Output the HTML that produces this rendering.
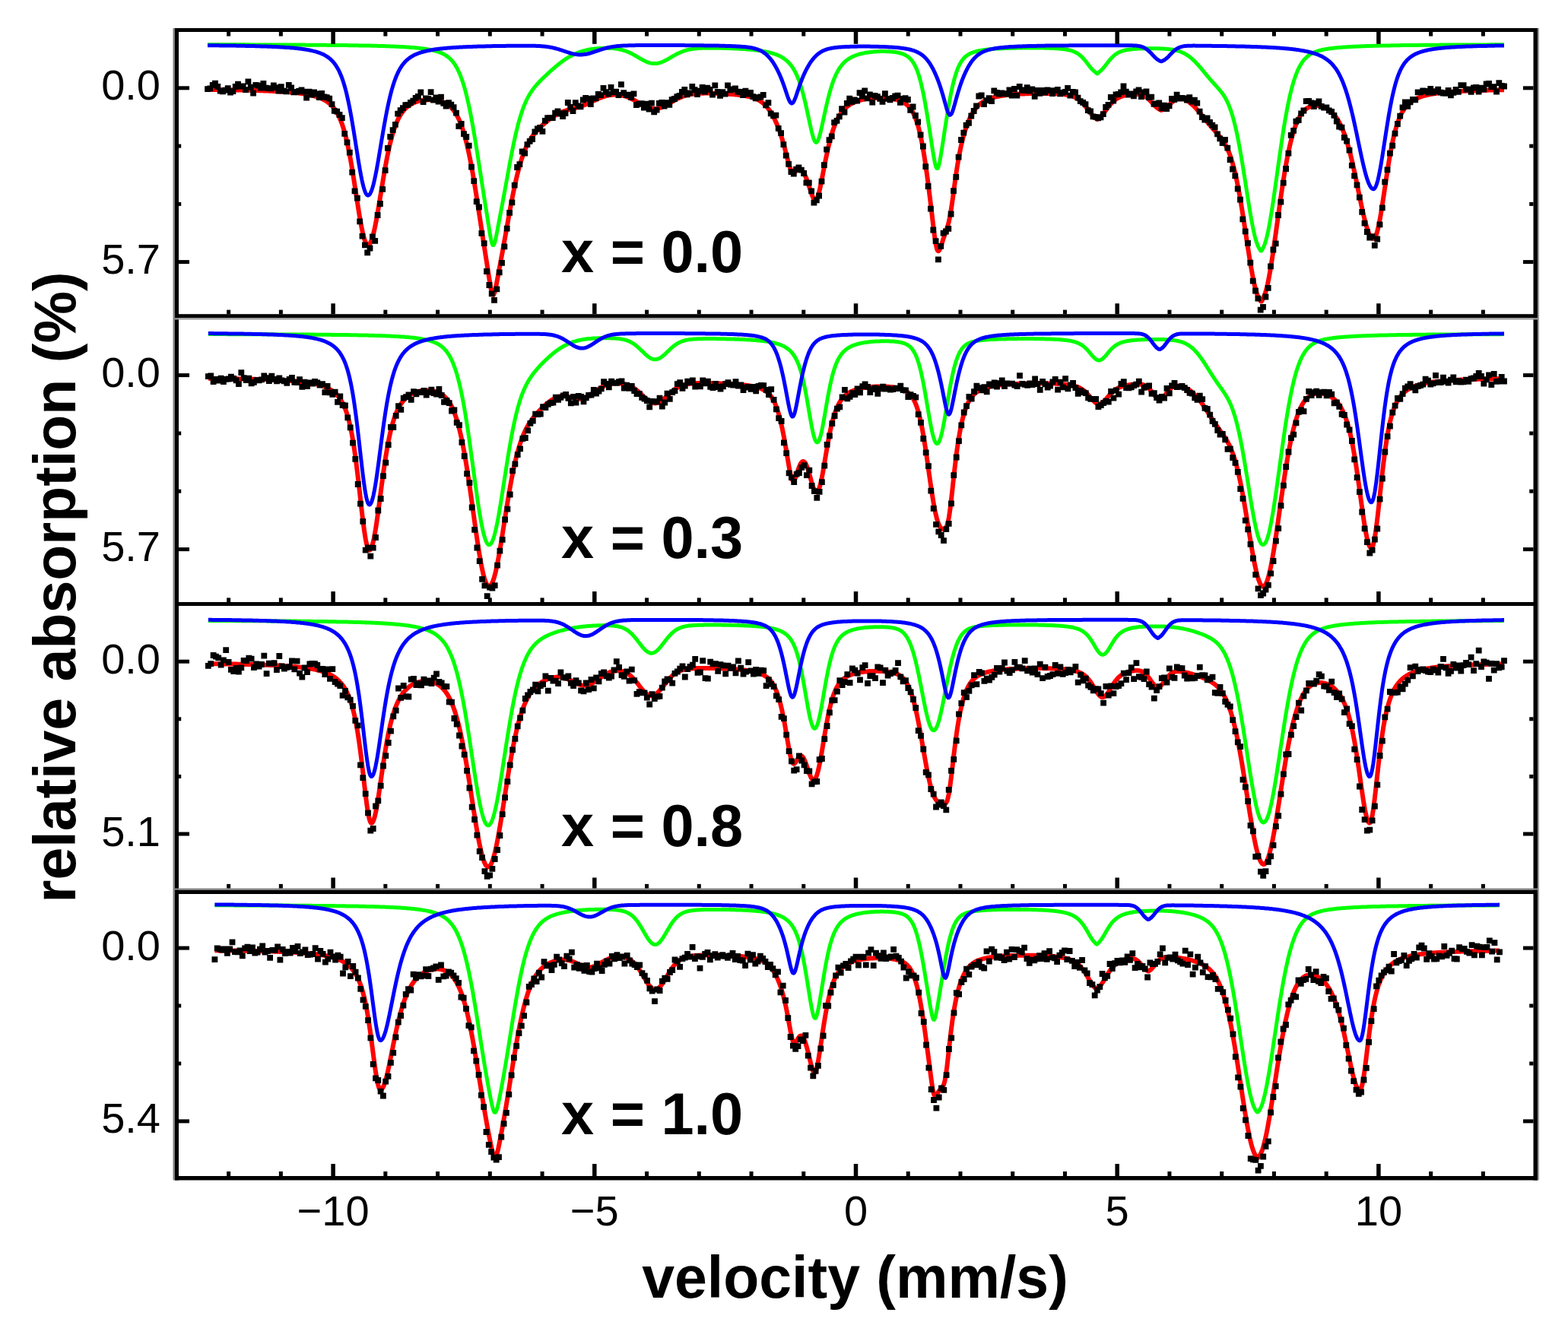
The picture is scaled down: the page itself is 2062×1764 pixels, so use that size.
<!DOCTYPE html>
<html><head><meta charset="utf-8"><title>Mossbauer spectra</title>
<style>html,body{margin:0;padding:0;background:#fff;overflow:hidden}svg{display:block}</style>
</head><body>
<svg xmlns="http://www.w3.org/2000/svg" width="2062" height="1764" viewBox="0 0 2062 1764"><rect width="100%" height="100%" fill="#fff"/><path d="M273,117.9 274,117.9 275,117.9 276,117.9 277,117.9 278,117.9 279,117.9 280,118 281,118 282,118 283,118 284,118 285,118 286,118 287,118 288,118.1 289,118.1 290,118.1 291,118.1 292,118.1 293,118.1 294,118.1 295,118.2 296,118.2 297,118.2 298,118.2 299,118.2 300,118.2 301,118.3 302,118.3 303,118.3 304,118.3 305,118.3 306,118.3 307,118.4 308,118.4 309,118.4 310,118.4 311,118.4 312,118.4 313,118.5 314,118.5 315,118.5 316,118.5 317,118.5 318,118.6 319,118.6 320,118.6 321,118.6 322,118.7 323,118.7 324,118.7 325,118.7 326,118.8 327,118.8 328,118.8 329,118.8 330,118.9 331,118.9 332,118.9 333,118.9 334,119 335,119 336,119 337,119.1 338,119.1 339,119.1 340,119.1 341,119.2 342,119.2 343,119.2 344,119.3 345,119.3 346,119.3 347,119.4 348,119.4 349,119.5 350,119.5 351,119.5 352,119.6 353,119.6 354,119.7 355,119.7 356,119.8 357,119.8 358,119.8 359,119.9 360,119.9 361,120 362,120 363,120.1 364,120.1 365,120.2 366,120.3 367,120.3 368,120.4 369,120.4 370,120.5 371,120.6 372,120.6 373,120.7 374,120.8 375,120.8 376,120.9 377,121 378,121.1 379,121.1 380,121.2 381,121.3 382,121.4 383,121.5 384,121.6 385,121.7 386,121.8 387,121.9 388,122 389,122.1 390,122.2 391,122.3 392,122.4 393,122.6 394,122.7 395,122.8 396,123 397,123.1 398,123.2 399,123.4 400,123.6 401,123.7 402,123.9 403,124.1 404,124.2 405,124.4 406,124.6 407,124.8 408,125.1 409,125.3 410,125.5 411,125.8 412,126 413,126.3 414,126.6 415,126.8 416,127.2 417,127.5 418,127.8 419,128.2 420,128.5 421,128.9 422,129.3 423,129.8 424,130.2 425,130.7 426,131.2 427,131.8 428,132.4 429,133 430,133.6 431,134.3 432,135.1 433,135.9 434,136.7 435,137.7 436,138.6 437,139.7 438,140.8 439,142 440,143.3 441,144.8 442,146.3 443,147.9 444,149.7 445,151.6 446,153.7 447,155.9 448,158.3 449,160.9 450,163.7 451,166.7 452,169.9 453,173.3 454,177 455,181 456,185.2 457,189.6 458,194.3 459,199.3 460,204.6 461,210 462,215.7 463,221.7 464,227.8 465,234.1 466,240.5 467,247 468,253.5 469,260.1 470,266.6 471,273 472,279.3 473,285.3 474,291.1 475,296.5 476,301.6 477,306.2 478,310.3 479,313.9 480,316.8 481,319.2 482,320.9 483,321.9 484,322.2 485,321.9 486,321 487,319.4 488,317.3 489,314.7 490,311.5 491,307.8 492,303.6 493,299.1 494,294.1 495,288.9 496,283.3 497,277.6 498,271.7 499,265.7 500,259.5 501,253.4 502,247.3 503,241.2 504,235.2 505,229.3 506,223.6 507,218 508,212.6 509,207.4 510,202.4 511,197.7 512,193.2 513,188.9 514,184.8 515,181 516,177.4 517,174.1 518,170.9 519,167.9 520,165.2 521,162.6 522,160.2 523,158 524,155.9 525,154 526,152.3 527,150.6 528,149.1 529,147.7 530,146.3 531,145.1 532,144 533,143 534,142 535,141.1 536,140.2 537,139.5 538,138.7 539,138.1 540,137.5 541,136.9 542,136.3 543,135.8 544,135.4 545,134.9 546,134.5 547,134.2 548,133.8 549,133.5 550,133.2 551,133 552,132.7 553,132.5 554,132.3 555,132.1 556,131.9 557,131.8 558,131.7 559,131.6 560,131.5 561,131.4 562,131.3 563,131.3 564,131.3 565,131.3 566,131.3 567,131.3 568,131.3 569,131.4 570,131.5 571,131.6 572,131.7 573,131.8 574,132 575,132.1 576,132.3 577,132.6 578,132.8 579,133.1 580,133.4 581,133.7 582,134.1 583,134.5 584,134.9 585,135.4 586,135.9 587,136.5 588,137.1 589,137.8 590,138.5 591,139.3 592,140.2 593,141.2 594,142.2 595,143.3 596,144.5 597,145.8 598,147.2 599,148.7 600,150.3 601,152.1 602,154 603,156 604,158.2 605,160.6 606,163.1 607,165.8 608,168.6 609,171.7 610,175 611,178.4 612,182.1 613,185.9 614,190 615,194.3 616,198.8 617,203.5 618,208.4 619,213.5 620,218.8 621,224.3 622,230 623,235.8 624,241.8 625,248 626,254.2 627,260.6 628,267 629,273.5 630,280 631,286.6 632,293.2 633,299.7 634,306.3 635,312.8 636,319.2 637,325.7 638,332.1 639,338.5 640,344.9 641,351.3 642,357.8 643,364.2 644,370.5 645,376.4 646,381.6 647,385.5 648,387.6 649,387.8 650,385.9 651,382.6 652,378.1 653,373.1 654,367.7 655,362.4 656,357 657,351.6 658,346.2 659,340.8 660,335.4 661,330 662,324.5 663,318.9 664,313.4 665,307.8 666,302.1 667,296.5 668,290.9 669,285.3 670,279.8 671,274.3 672,268.9 673,263.7 674,258.5 675,253.5 676,248.6 677,243.9 678,239.3 679,235 680,230.7 681,226.7 682,222.9 683,219.2 684,215.7 685,212.4 686,209.2 687,206.2 688,203.4 689,200.7 690,198.2 691,195.8 692,193.6 693,191.5 694,189.5 695,187.6 696,185.8 697,184.1 698,182.5 699,181 700,179.5 701,178.1 702,176.8 703,175.5 704,174.3 705,173.2 706,172 707,170.9 708,169.9 709,168.8 710,167.8 711,166.9 712,165.9 713,165 714,164.1 715,163.2 716,162.3 717,161.4 718,160.6 719,159.8 720,159 721,158.2 722,157.4 723,156.7 724,155.9 725,155.2 726,154.5 727,153.8 728,153.2 729,152.6 730,151.9 731,151.3 732,150.8 733,150.2 734,149.7 735,149.2 736,148.7 737,148.2 738,147.8 739,147.4 740,147 741,146.6 742,146.2 743,145.9 744,145.6 745,145.2 746,144.9 747,144.6 748,144.4 749,144.1 750,143.8 751,143.5 752,143.3 753,143 754,142.8 755,142.5 756,142.2 757,141.9 758,141.7 759,141.4 760,141.1 761,140.8 762,140.4 763,140.1 764,139.8 765,139.4 766,139 767,138.7 768,138.3 769,137.9 770,137.5 771,137 772,136.6 773,136.2 774,135.7 775,135.2 776,134.8 777,134.3 778,133.8 779,133.4 780,132.9 781,132.4 782,132 783,131.5 784,131 785,130.6 786,130.1 787,129.7 788,129.3 789,128.9 790,128.5 791,128.1 792,127.7 793,127.4 794,127.1 795,126.8 796,126.5 797,126.2 798,125.9 799,125.7 800,125.5 801,125.3 802,125.1 803,125 804,124.8 805,124.7 806,124.7 807,124.6 808,124.6 809,124.5 810,124.5 811,124.6 812,124.6 813,124.7 814,124.8 815,124.9 816,125.1 817,125.2 818,125.4 819,125.7 820,125.9 821,126.2 822,126.5 823,126.8 824,127.1 825,127.5 826,127.9 827,128.3 828,128.8 829,129.2 830,129.7 831,130.2 832,130.7 833,131.2 834,131.8 835,132.3 836,132.9 837,133.5 838,134.1 839,134.7 840,135.3 841,135.9 842,136.4 843,137 844,137.6 845,138.1 846,138.7 847,139.2 848,139.7 849,140.2 850,140.6 851,141.1 852,141.4 853,141.8 854,142.1 855,142.4 856,142.6 857,142.8 858,142.9 859,143 860,143.1 861,143.1 862,143.1 863,143 864,142.9 865,142.7 866,142.5 867,142.2 868,141.9 869,141.6 870,141.2 871,140.8 872,140.4 873,139.9 874,139.4 875,138.9 876,138.4 877,137.8 878,137.3 879,136.7 880,136.1 881,135.5 882,134.9 883,134.3 884,133.8 885,133.2 886,132.6 887,132 888,131.5 889,131 890,130.4 891,129.9 892,129.4 893,128.9 894,128.5 895,128.1 896,127.6 897,127.2 898,126.9 899,126.5 900,126.2 901,125.8 902,125.5 903,125.3 904,125 905,124.8 906,124.5 907,124.3 908,124.1 909,124 910,123.8 911,123.7 912,123.5 913,123.4 914,123.3 915,123.2 916,123.1 917,123 918,122.9 919,122.9 920,122.8 921,122.8 922,122.7 923,122.7 924,122.7 925,122.7 926,122.6 927,122.6 928,122.6 929,122.6 930,122.6 931,122.6 932,122.6 933,122.6 934,122.7 935,122.7 936,122.7 937,122.7 938,122.7 939,122.8 940,122.8 941,122.8 942,122.8 943,122.9 944,122.9 945,123 946,123 947,123 948,123.1 949,123.1 950,123.2 951,123.2 952,123.3 953,123.3 954,123.4 955,123.5 956,123.5 957,123.6 958,123.6 959,123.7 960,123.8 961,123.9 962,123.9 963,124 964,124.1 965,124.2 966,124.3 967,124.4 968,124.5 969,124.6 970,124.7 971,124.8 972,124.9 973,125 974,125.2 975,125.3 976,125.4 977,125.6 978,125.7 979,125.9 980,126.1 981,126.3 982,126.5 983,126.7 984,126.9 985,127.1 986,127.3 987,127.6 988,127.9 989,128.2 990,128.5 991,128.8 992,129.2 993,129.6 994,130 995,130.4 996,130.9 997,131.4 998,131.9 999,132.5 1000,133.2 1001,133.8 1002,134.6 1003,135.3 1004,136.2 1005,137.1 1006,138 1007,139 1008,140.1 1009,141.3 1010,142.5 1011,143.8 1012,145.2 1013,146.7 1014,148.3 1015,149.9 1016,151.7 1017,153.5 1018,155.5 1019,157.5 1020,159.7 1021,161.9 1022,164.3 1023,166.7 1024,169.3 1025,172.1 1026,174.9 1027,177.9 1028,181 1029,184.3 1030,187.8 1031,191.3 1032,195.1 1033,198.9 1034,202.8 1035,206.7 1036,210.6 1037,214.3 1038,217.8 1039,220.8 1040,223.2 1041,225.1 1042,226.3 1043,226.9 1044,226.9 1045,226.6 1046,225.9 1047,225.1 1048,224.3 1049,223.7 1050,223.1 1051,222.9 1052,222.9 1053,223.2 1054,223.8 1055,224.7 1056,225.9 1057,227.5 1058,229.3 1059,231.4 1060,233.7 1061,236.3 1062,239 1063,242 1064,245 1065,248.1 1066,251.1 1067,254.1 1068,256.9 1069,259.3 1070,261.4 1071,262.7 1072,263.4 1073,263.1 1074,262 1075,259.9 1076,257 1077,253.4 1078,249.2 1079,244.6 1080,239.7 1081,234.6 1082,229.4 1083,224.2 1084,219 1085,213.9 1086,208.9 1087,204.1 1088,199.4 1089,194.9 1090,190.7 1091,186.6 1092,182.8 1093,179.1 1094,175.7 1095,172.5 1096,169.5 1097,166.7 1098,164.1 1099,161.7 1100,159.4 1101,157.3 1102,155.3 1103,153.5 1104,151.8 1105,150.3 1106,148.8 1107,147.4 1108,146.2 1109,145 1110,143.9 1111,142.9 1112,141.9 1113,141.1 1114,140.2 1115,139.4 1116,138.7 1117,138 1118,137.4 1119,136.8 1120,136.2 1121,135.7 1122,135.2 1123,134.7 1124,134.3 1125,133.9 1126,133.5 1127,133.1 1128,132.8 1129,132.5 1130,132.2 1131,131.9 1132,131.6 1133,131.4 1134,131.1 1135,130.9 1136,130.7 1137,130.5 1138,130.3 1139,130.1 1140,130 1141,129.8 1142,129.7 1143,129.6 1144,129.5 1145,129.3 1146,129.3 1147,129.2 1148,129.1 1149,129 1150,128.9 1151,128.9 1152,128.8 1153,128.8 1154,128.8 1155,128.8 1156,128.7 1157,128.7 1158,128.7 1159,128.8 1160,128.8 1161,128.8 1162,128.8 1163,128.9 1164,128.9 1165,129 1166,129.1 1167,129.2 1168,129.3 1169,129.4 1170,129.5 1171,129.6 1172,129.8 1173,129.9 1174,130.1 1175,130.3 1176,130.5 1177,130.7 1178,130.9 1179,131.2 1180,131.5 1181,131.8 1182,132.1 1183,132.4 1184,132.8 1185,133.2 1186,133.7 1187,134.2 1188,134.7 1189,135.3 1190,135.9 1191,136.6 1192,137.4 1193,138.2 1194,139.1 1195,140.1 1196,141.3 1197,142.5 1198,143.8 1199,145.3 1200,147 1201,148.8 1202,150.9 1203,153.1 1204,155.6 1205,158.3 1206,161.2 1207,164.5 1208,168.1 1209,172 1210,176.2 1211,180.8 1212,185.7 1213,191 1214,196.6 1215,202.6 1216,208.9 1217,215.5 1218,222.5 1219,229.7 1220,237.2 1221,245 1222,252.9 1223,261 1224,269.3 1225,277.7 1226,286.1 1227,294.5 1228,302.6 1229,310.3 1230,317.2 1231,322.9 1232,327.1 1233,329.6 1234,330.3 1235,329.6 1236,327.7 1237,325.2 1238,322.2 1239,319.1 1240,315.9 1241,312.9 1242,309.9 1243,307.1 1244,304.2 1245,301.3 1246,298.2 1247,294.7 1248,290.7 1249,285.9 1250,280.5 1251,274.3 1252,267.5 1253,260.3 1254,252.8 1255,245.4 1256,238.1 1257,231 1258,224.3 1259,217.9 1260,211.9 1261,206.3 1262,201 1263,196.1 1264,191.4 1265,187.1 1266,183.1 1267,179.3 1268,175.7 1269,172.4 1270,169.3 1271,166.3 1272,163.6 1273,161 1274,158.6 1275,156.3 1276,154.2 1277,152.2 1278,150.4 1279,148.6 1280,147 1281,145.5 1282,144.1 1283,142.8 1284,141.6 1285,140.4 1286,139.4 1287,138.4 1288,137.5 1289,136.6 1290,135.8 1291,135.1 1292,134.4 1293,133.7 1294,133.1 1295,132.6 1296,132 1297,131.6 1298,131.1 1299,130.7 1300,130.3 1301,129.9 1302,129.5 1303,129.2 1304,128.9 1305,128.6 1306,128.3 1307,128 1308,127.7 1309,127.5 1310,127.3 1311,127.1 1312,126.9 1313,126.7 1314,126.5 1315,126.3 1316,126.1 1317,126 1318,125.8 1319,125.7 1320,125.5 1321,125.4 1322,125.3 1323,125.1 1324,125 1325,124.9 1326,124.8 1327,124.7 1328,124.6 1329,124.5 1330,124.4 1331,124.3 1332,124.3 1333,124.2 1334,124.1 1335,124 1336,124 1337,123.9 1338,123.8 1339,123.8 1340,123.7 1341,123.6 1342,123.6 1343,123.5 1344,123.5 1345,123.4 1346,123.4 1347,123.4 1348,123.3 1349,123.3 1350,123.2 1351,123.2 1352,123.2 1353,123.1 1354,123.1 1355,123.1 1356,123.1 1357,123 1358,123 1359,123 1360,123 1361,122.9 1362,122.9 1363,122.9 1364,122.9 1365,122.9 1366,122.9 1367,122.9 1368,122.9 1369,122.9 1370,122.9 1371,122.9 1372,122.9 1373,122.9 1374,122.9 1375,122.9 1376,122.9 1377,122.9 1378,122.9 1379,123 1380,123 1381,123 1382,123 1383,123.1 1384,123.1 1385,123.1 1386,123.2 1387,123.2 1388,123.3 1389,123.3 1390,123.4 1391,123.4 1392,123.5 1393,123.6 1394,123.7 1395,123.7 1396,123.8 1397,123.9 1398,124.1 1399,124.2 1400,124.3 1401,124.4 1402,124.6 1403,124.8 1404,125 1405,125.2 1406,125.4 1407,125.6 1408,125.9 1409,126.2 1410,126.5 1411,126.8 1412,127.2 1413,127.6 1414,128.1 1415,128.6 1416,129.2 1417,129.8 1418,130.5 1419,131.2 1420,132 1421,132.8 1422,133.7 1423,134.7 1424,135.8 1425,136.9 1426,138.1 1427,139.3 1428,140.6 1429,141.9 1430,143.2 1431,144.5 1432,145.9 1433,147.2 1434,148.5 1435,149.7 1436,150.8 1437,151.8 1438,152.8 1439,153.6 1440,154.4 1441,155.2 1442,156.4 1443,156.9 1444,155.9 1445,154.9 1446,154.1 1447,153.3 1448,152.4 1449,151.4 1450,150.4 1451,149.2 1452,148 1453,146.7 1454,145.4 1455,144 1456,142.7 1457,141.4 1458,140.1 1459,138.8 1460,137.6 1461,136.5 1462,135.4 1463,134.4 1464,133.4 1465,132.5 1466,131.7 1467,130.9 1468,130.2 1469,129.6 1470,129 1471,128.5 1472,128 1473,127.5 1474,127.1 1475,126.8 1476,126.4 1477,126.1 1478,125.9 1479,125.6 1480,125.4 1481,125.2 1482,125 1483,124.8 1484,124.7 1485,124.5 1486,124.4 1487,124.3 1488,124.2 1489,124.1 1490,124 1491,124 1492,124 1493,123.9 1494,123.9 1495,124 1496,124 1497,124.1 1498,124.2 1499,124.4 1500,124.6 1501,124.9 1502,125.2 1503,125.5 1504,125.9 1505,126.4 1506,127 1507,127.6 1508,128.3 1509,129.1 1510,129.9 1511,130.8 1512,131.8 1513,132.8 1514,133.9 1515,135 1516,136.1 1517,137.2 1518,138.3 1519,139.3 1520,140.3 1521,141.2 1522,142 1523,142.8 1524,143.4 1525,143.9 1526,144.5 1527,144.9 1528,144.7 1529,144.3 1530,143.8 1531,143.3 1532,142.7 1533,142 1534,141.2 1535,140.4 1536,139.5 1537,138.5 1538,137.6 1539,136.6 1540,135.6 1541,134.7 1542,133.9 1543,133.1 1544,132.3 1545,131.7 1546,131.1 1547,130.7 1548,130.3 1549,130 1550,129.8 1551,129.6 1552,129.6 1553,129.6 1554,129.8 1555,130 1556,130.2 1557,130.6 1558,131 1559,131.4 1560,131.9 1561,132.5 1562,133.1 1563,133.8 1564,134.5 1565,135.3 1566,136.1 1567,136.9 1568,137.8 1569,138.7 1570,139.7 1571,140.7 1572,141.7 1573,142.8 1574,143.9 1575,145 1576,146.1 1577,147.3 1578,148.5 1579,149.7 1580,150.9 1581,152.1 1582,153.4 1583,154.6 1584,155.9 1585,157.1 1586,158.4 1587,159.6 1588,160.9 1589,162.1 1590,163.3 1591,164.5 1592,165.7 1593,166.9 1594,168.1 1595,169.2 1596,170.4 1597,171.5 1598,172.6 1599,173.8 1600,174.9 1601,176 1602,177.2 1603,178.4 1604,179.6 1605,180.8 1606,182.1 1607,183.5 1608,184.9 1609,186.4 1610,188 1611,189.7 1612,191.5 1613,193.4 1614,195.5 1615,197.8 1616,200.2 1617,202.7 1618,205.5 1619,208.5 1620,211.6 1621,215 1622,218.7 1623,222.5 1624,226.6 1625,230.9 1626,235.5 1627,240.3 1628,245.3 1629,250.6 1630,256.1 1631,261.8 1632,267.7 1633,273.7 1634,279.9 1635,286.2 1636,292.7 1637,299.2 1638,305.8 1639,312.4 1640,319 1641,325.5 1642,331.9 1643,338.2 1644,344.4 1645,350.4 1646,356.1 1647,361.5 1648,366.7 1649,371.5 1650,375.9 1651,379.9 1652,383.5 1653,386.6 1654,389.2 1655,391.5 1656,393.3 1657,394.9 1658,396.5 1659,396.5 1660,394.7 1661,392.7 1662,390.6 1663,388.1 1664,385.2 1665,381.8 1666,377.9 1667,373.6 1668,368.8 1669,363.6 1670,358.1 1671,352.3 1672,346.1 1673,339.7 1674,333 1675,326.2 1676,319.2 1677,312.1 1678,304.9 1679,297.6 1680,290.3 1681,283.1 1682,275.9 1683,268.8 1684,261.8 1685,254.9 1686,248.2 1687,241.6 1688,235.3 1689,229.1 1690,223.1 1691,217.4 1692,211.9 1693,206.7 1694,201.6 1695,196.9 1696,192.3 1697,188.1 1698,184 1699,180.2 1700,176.6 1701,173.3 1702,170.2 1703,167.2 1704,164.5 1705,162 1706,159.7 1707,157.5 1708,155.5 1709,153.7 1710,152 1711,150.5 1712,149.1 1713,147.8 1714,146.6 1715,145.5 1716,144.6 1717,143.7 1718,143 1719,142.3 1720,141.7 1721,141.1 1722,140.6 1723,140.2 1724,139.9 1725,139.6 1726,139.4 1727,139.2 1728,139 1729,138.9 1730,138.9 1731,138.9 1732,138.9 1733,139 1734,139.1 1735,139.2 1736,139.4 1737,139.6 1738,139.9 1739,140.2 1740,140.5 1741,140.9 1742,141.3 1743,141.8 1744,142.3 1745,142.9 1746,143.5 1747,144.1 1748,144.8 1749,145.6 1750,146.4 1751,147.3 1752,148.3 1753,149.3 1754,150.4 1755,151.6 1756,152.9 1757,154.3 1758,155.7 1759,157.3 1760,158.9 1761,160.7 1762,162.6 1763,164.6 1764,166.7 1765,169 1766,171.4 1767,173.9 1768,176.6 1769,179.4 1770,182.4 1771,185.6 1772,188.9 1773,192.3 1774,195.9 1775,199.7 1776,203.6 1777,207.7 1778,211.9 1779,216.2 1780,220.7 1781,225.3 1782,229.9 1783,234.7 1784,239.5 1785,244.4 1786,249.3 1787,254.1 1788,259 1789,263.9 1790,268.6 1791,273.3 1792,277.8 1793,282.2 1794,286.4 1795,290.4 1796,294.2 1797,297.7 1798,300.9 1799,303.8 1800,306.4 1801,308.6 1802,310.5 1803,311.9 1804,313 1805,313.7 1806,313.9 1807,313.6 1808,312.6 1809,310.8 1810,308.3 1811,305.1 1812,301.3 1813,296.9 1814,291.9 1815,286.5 1816,280.7 1817,274.6 1818,268.2 1819,261.6 1820,254.9 1821,248.2 1822,241.4 1823,234.8 1824,228.2 1825,221.8 1826,215.6 1827,209.6 1828,203.8 1829,198.3 1830,193.1 1831,188.2 1832,183.5 1833,179.2 1834,175.1 1835,171.3 1836,167.8 1837,164.5 1838,161.5 1839,158.7 1840,156.1 1841,153.7 1842,151.5 1843,149.5 1844,147.6 1845,145.9 1846,144.3 1847,142.8 1848,141.5 1849,140.2 1850,139 1851,138 1852,137 1853,136 1854,135.2 1855,134.4 1856,133.6 1857,132.9 1858,132.3 1859,131.6 1860,131.1 1861,130.5 1862,130 1863,129.5 1864,129.1 1865,128.7 1866,128.2 1867,127.9 1868,127.5 1869,127.2 1870,126.8 1871,126.5 1872,126.2 1873,125.9 1874,125.7 1875,125.4 1876,125.2 1877,124.9 1878,124.7 1879,124.5 1880,124.3 1881,124.1 1882,123.9 1883,123.7 1884,123.5 1885,123.4 1886,123.2 1887,123.1 1888,122.9 1889,122.8 1890,122.6 1891,122.5 1892,122.4 1893,122.2 1894,122.1 1895,122 1896,121.9 1897,121.8 1898,121.7 1899,121.6 1900,121.5 1901,121.4 1902,121.3 1903,121.2 1904,121.1 1905,121 1906,120.9 1907,120.9 1908,120.8 1909,120.7 1910,120.6 1911,120.6 1912,120.5 1913,120.4 1914,120.4 1915,120.3 1916,120.2 1917,120.2 1918,120.1 1919,120.1 1920,120 1921,120 1922,119.9 1923,119.8 1924,119.8 1925,119.7 1926,119.7 1927,119.7 1928,119.6 1929,119.6 1930,119.5 1931,119.5 1932,119.4 1933,119.4 1934,119.4 1935,119.3 1936,119.3 1937,119.2 1938,119.2 1939,119.2 1940,119.1 1941,119.1 1942,119.1 1943,119 1944,119 1945,119 1946,118.9 1947,118.9 1948,118.9 1949,118.9 1950,118.8 1951,118.8 1952,118.8 1953,118.7 1954,118.7 1955,118.7 1956,118.7 1957,118.6 1958,118.6 1959,118.6 1960,118.6 1961,118.6 1962,118.5 1963,118.5 1964,118.5 1965,118.5 1966,118.4 1967,118.4 1968,118.4 1969,118.4 1970,118.4 1971,118.3 1972,118.3 1973,118.3 1974,118.3 1975,118.3 1976,118.3 1977,118.2 1978,118.2" stroke="#ff0000" stroke-width="6" fill="none" stroke-linejoin="round"/>
<path d="M269.1,113.2h7.8v7.8h-7.8zM272.4,112.5h7.8v7.8h-7.8zM275.8,107.9h7.8v7.8h-7.8zM279.1,105.7h7.8v7.8h-7.8zM282.4,110.1h7.8v7.8h-7.8zM285.8,115.8h7.8v7.8h-7.8zM289.1,116.4h7.8v7.8h-7.8zM292.5,114.7h7.8v7.8h-7.8zM295.8,112.3h7.8v7.8h-7.8zM299.1,117.7h7.8v7.8h-7.8zM302.5,116.2h7.8v7.8h-7.8zM305.8,110.1h7.8v7.8h-7.8zM309.1,106.7h7.8v7.8h-7.8zM312.5,109.7h7.8v7.8h-7.8zM315.8,109.5h7.8v7.8h-7.8zM319.1,114.2h7.8v7.8h-7.8zM322.5,103.5h7.8v7.8h-7.8zM325.8,110.7h7.8v7.8h-7.8zM329.2,118.6h7.8v7.8h-7.8zM332.5,107.9h7.8v7.8h-7.8zM335.8,108.6h7.8v7.8h-7.8zM339.2,111.6h7.8v7.8h-7.8zM342.5,106.1h7.8v7.8h-7.8zM345.8,111.7h7.8v7.8h-7.8zM349.2,112.3h7.8v7.8h-7.8zM352.5,112.5h7.8v7.8h-7.8zM355.9,108.5h7.8v7.8h-7.8zM359.2,111.3h7.8v7.8h-7.8zM362.5,115.8h7.8v7.8h-7.8zM365.9,110.2h7.8v7.8h-7.8zM369.2,115.8h7.8v7.8h-7.8zM372.5,116.5h7.8v7.8h-7.8zM375.9,108h7.8v7.8h-7.8zM379.2,111.6h7.8v7.8h-7.8zM382.5,117.4h7.8v7.8h-7.8zM385.9,117h7.8v7.8h-7.8zM389.2,116.1h7.8v7.8h-7.8zM392.6,114.4h7.8v7.8h-7.8zM395.9,116.8h7.8v7.8h-7.8zM399.2,124.8h7.8v7.8h-7.8zM402.6,116.7h7.8v7.8h-7.8zM405.9,120.8h7.8v7.8h-7.8zM409.2,117.5h7.8v7.8h-7.8zM412.6,119.4h7.8v7.8h-7.8zM415.9,124.2h7.8v7.8h-7.8zM419.2,119h7.8v7.8h-7.8zM422.6,123.6h7.8v7.8h-7.8zM425.9,124.2h7.8v7.8h-7.8zM429.3,125.7h7.8v7.8h-7.8zM432.6,133.3h7.8v7.8h-7.8zM435.9,141.9h7.8v7.8h-7.8zM439.3,142.8h7.8v7.8h-7.8zM442.6,147.1h7.8v7.8h-7.8zM445.9,151.3h7.8v7.8h-7.8zM449.3,172h7.8v7.8h-7.8zM452.6,183.4h7.8v7.8h-7.8zM455.9,196.8h7.8v7.8h-7.8zM459.3,222.7h7.8v7.8h-7.8zM462.6,247.5h7.8v7.8h-7.8zM466,256.7h7.8v7.8h-7.8zM469.3,287.5h7.8v7.8h-7.8zM472.6,306.8h7.8v7.8h-7.8zM476,318.5h7.8v7.8h-7.8zM479.3,328.5h7.8v7.8h-7.8zM482.6,322.6h7.8v7.8h-7.8zM486,307.5h7.8v7.8h-7.8zM489.3,312.9h7.8v7.8h-7.8zM492.7,279.1h7.8v7.8h-7.8zM496,264.1h7.8v7.8h-7.8zM499.3,245h7.8v7.8h-7.8zM502.7,220.3h7.8v7.8h-7.8zM506,191h7.8v7.8h-7.8zM509.3,175.9h7.8v7.8h-7.8zM512.7,167.3h7.8v7.8h-7.8zM516,159.9h7.8v7.8h-7.8zM519.3,145.7h7.8v7.8h-7.8zM522.7,141.2h7.8v7.8h-7.8zM526,138.2h7.8v7.8h-7.8zM529.4,134.2h7.8v7.8h-7.8zM532.7,134h7.8v7.8h-7.8zM536,131.1h7.8v7.8h-7.8zM539.4,128.8h7.8v7.8h-7.8zM542.7,125h7.8v7.8h-7.8zM546,122.9h7.8v7.8h-7.8zM549.4,117.6h7.8v7.8h-7.8zM552.7,130.3h7.8v7.8h-7.8zM556,125.4h7.8v7.8h-7.8zM559.4,125.9h7.8v7.8h-7.8zM562.7,117.2h7.8v7.8h-7.8zM566.1,127.7h7.8v7.8h-7.8zM569.4,124.6h7.8v7.8h-7.8zM572.7,129.7h7.8v7.8h-7.8zM576.1,123.7h7.8v7.8h-7.8zM579.4,132h7.8v7.8h-7.8zM582.7,135.6h7.8v7.8h-7.8zM586.1,131.2h7.8v7.8h-7.8zM589.4,133.7h7.8v7.8h-7.8zM592.7,137.2h7.8v7.8h-7.8zM596.1,144.7h7.8v7.8h-7.8zM599.4,162.2h7.8v7.8h-7.8zM602.8,158.9h7.8v7.8h-7.8zM606.1,172.3h7.8v7.8h-7.8zM609.4,176.1h7.8v7.8h-7.8zM612.8,187.7h7.8v7.8h-7.8zM616.1,215.7h7.8v7.8h-7.8zM619.4,234.3h7.8v7.8h-7.8zM622.8,261.2h7.8v7.8h-7.8zM626.1,268.6h7.8v7.8h-7.8zM629.5,302.9h7.8v7.8h-7.8zM632.8,316.2h7.8v7.8h-7.8zM636.1,353.1h7.8v7.8h-7.8zM639.5,371.1h7.8v7.8h-7.8zM642.8,382.4h7.8v7.8h-7.8zM646.1,390.9h7.8v7.8h-7.8zM649.5,376.4h7.8v7.8h-7.8zM652.8,354.5h7.8v7.8h-7.8zM656.1,341.9h7.8v7.8h-7.8zM659.5,320.5h7.8v7.8h-7.8zM662.8,296.7h7.8v7.8h-7.8zM666.2,275.9h7.8v7.8h-7.8zM669.5,262.4h7.8v7.8h-7.8zM672.8,239.7h7.8v7.8h-7.8zM676.2,216.1h7.8v7.8h-7.8zM679.5,212.3h7.8v7.8h-7.8zM682.8,195.4h7.8v7.8h-7.8zM686.2,197.7h7.8v7.8h-7.8zM689.5,186.3h7.8v7.8h-7.8zM692.8,181.9h7.8v7.8h-7.8zM696.2,179.1h7.8v7.8h-7.8zM699.5,169.5h7.8v7.8h-7.8zM702.9,165.6h7.8v7.8h-7.8zM706.2,164h7.8v7.8h-7.8zM709.5,168.9h7.8v7.8h-7.8zM712.9,154.9h7.8v7.8h-7.8zM716.2,151.2h7.8v7.8h-7.8zM719.5,150.9h7.8v7.8h-7.8zM722.9,151.1h7.8v7.8h-7.8zM726.2,144.8h7.8v7.8h-7.8zM729.6,142.6h7.8v7.8h-7.8zM732.9,145.6h7.8v7.8h-7.8zM736.2,149.2h7.8v7.8h-7.8zM739.6,145.1h7.8v7.8h-7.8zM742.9,131.1h7.8v7.8h-7.8zM746.2,137.1h7.8v7.8h-7.8zM749.6,142.1h7.8v7.8h-7.8zM752.9,131.2h7.8v7.8h-7.8zM756.2,135.5h7.8v7.8h-7.8zM759.6,136.5h7.8v7.8h-7.8zM762.9,127.6h7.8v7.8h-7.8zM766.3,125h7.8v7.8h-7.8zM769.6,125.9h7.8v7.8h-7.8zM772.9,133.3h7.8v7.8h-7.8zM776.3,125.4h7.8v7.8h-7.8zM779.6,125.4h7.8v7.8h-7.8zM782.9,120.1h7.8v7.8h-7.8zM786.3,121.3h7.8v7.8h-7.8zM789.6,111.9h7.8v7.8h-7.8zM792.9,117.3h7.8v7.8h-7.8zM796.3,119.8h7.8v7.8h-7.8zM799.6,111.1h7.8v7.8h-7.8zM803,117.5h7.8v7.8h-7.8zM806.3,116.8h7.8v7.8h-7.8zM809.6,121.1h7.8v7.8h-7.8zM813,107.2h7.8v7.8h-7.8zM816.3,118.3h7.8v7.8h-7.8zM819.6,121.3h7.8v7.8h-7.8zM823,120.8h7.8v7.8h-7.8zM826.3,124.3h7.8v7.8h-7.8zM829.6,119.5h7.8v7.8h-7.8zM833,134.3h7.8v7.8h-7.8zM836.3,132.9h7.8v7.8h-7.8zM839.7,132.2h7.8v7.8h-7.8zM843,137.7h7.8v7.8h-7.8zM846.3,132.7h7.8v7.8h-7.8zM849.7,139.8h7.8v7.8h-7.8zM853,131.8h7.8v7.8h-7.8zM856.3,143.4h7.8v7.8h-7.8zM859.7,140.7h7.8v7.8h-7.8zM863,132h7.8v7.8h-7.8zM866.4,130.9h7.8v7.8h-7.8zM869.7,135.7h7.8v7.8h-7.8zM873,131.3h7.8v7.8h-7.8zM876.4,134h7.8v7.8h-7.8zM879.7,127.2h7.8v7.8h-7.8zM883,126.1h7.8v7.8h-7.8zM886.4,123.2h7.8v7.8h-7.8zM889.7,121.9h7.8v7.8h-7.8zM893,117.1h7.8v7.8h-7.8zM896.4,114.1h7.8v7.8h-7.8zM899.7,120.4h7.8v7.8h-7.8zM903.1,118.5h7.8v7.8h-7.8zM906.4,110h7.8v7.8h-7.8zM909.7,114.3h7.8v7.8h-7.8zM913.1,120.3h7.8v7.8h-7.8zM916.4,115.7h7.8v7.8h-7.8zM919.7,110.9h7.8v7.8h-7.8zM923.1,116.7h7.8v7.8h-7.8zM926.4,111.7h7.8v7.8h-7.8zM929.7,113.9h7.8v7.8h-7.8zM933.1,120.8h7.8v7.8h-7.8zM936.4,108.5h7.8v7.8h-7.8zM939.8,117h7.8v7.8h-7.8zM943.1,121.9h7.8v7.8h-7.8zM946.4,117.3h7.8v7.8h-7.8zM949.8,119.7h7.8v7.8h-7.8zM953.1,108.4h7.8v7.8h-7.8zM956.4,114.4h7.8v7.8h-7.8zM959.8,113.6h7.8v7.8h-7.8zM963.1,112.6h7.8v7.8h-7.8zM966.4,116.8h7.8v7.8h-7.8zM969.8,117.1h7.8v7.8h-7.8zM973.1,121.3h7.8v7.8h-7.8zM976.5,115.7h7.8v7.8h-7.8zM979.8,119.8h7.8v7.8h-7.8zM983.1,118h7.8v7.8h-7.8zM986.5,123.2h7.8v7.8h-7.8zM989.8,125.5h7.8v7.8h-7.8zM993.1,124.2h7.8v7.8h-7.8zM996.5,123.6h7.8v7.8h-7.8zM999.8,121h7.8v7.8h-7.8zM1003.2,134.5h7.8v7.8h-7.8zM1006.5,131.2h7.8v7.8h-7.8zM1009.8,145.5h7.8v7.8h-7.8zM1013.2,148.4h7.8v7.8h-7.8zM1016.5,147.8h7.8v7.8h-7.8zM1019.8,165h7.8v7.8h-7.8zM1023.2,171.2h7.8v7.8h-7.8zM1026.5,186.2h7.8v7.8h-7.8zM1029.8,200.7h7.8v7.8h-7.8zM1033.2,211.9h7.8v7.8h-7.8zM1036.5,222.3h7.8v7.8h-7.8zM1039.9,224.8h7.8v7.8h-7.8zM1043.2,218.7h7.8v7.8h-7.8zM1046.5,216.5h7.8v7.8h-7.8zM1049.9,219.7h7.8v7.8h-7.8zM1053.2,224.1h7.8v7.8h-7.8zM1056.5,236.5h7.8v7.8h-7.8zM1059.9,236.6h7.8v7.8h-7.8zM1063.2,247.4h7.8v7.8h-7.8zM1066.5,262.7h7.8v7.8h-7.8zM1069.9,259.5h7.8v7.8h-7.8zM1073.2,253.6h7.8v7.8h-7.8zM1076.6,234.7h7.8v7.8h-7.8zM1079.9,213.2h7.8v7.8h-7.8zM1083.2,192.8h7.8v7.8h-7.8zM1086.6,180.2h7.8v7.8h-7.8zM1089.9,175.4h7.8v7.8h-7.8zM1093.2,157.2h7.8v7.8h-7.8zM1096.6,154.9h7.8v7.8h-7.8zM1099.9,149.4h7.8v7.8h-7.8zM1103.2,139.3h7.8v7.8h-7.8zM1106.6,143.7h7.8v7.8h-7.8zM1109.9,131.9h7.8v7.8h-7.8zM1113.3,125.8h7.8v7.8h-7.8zM1116.6,129.9h7.8v7.8h-7.8zM1119.9,127.6h7.8v7.8h-7.8zM1123.3,128.7h7.8v7.8h-7.8zM1126.6,118.2h7.8v7.8h-7.8zM1129.9,122.6h7.8v7.8h-7.8zM1133.3,115.6h7.8v7.8h-7.8zM1136.6,125.4h7.8v7.8h-7.8zM1140,120.5h7.8v7.8h-7.8zM1143.3,130.8h7.8v7.8h-7.8zM1146.6,121.9h7.8v7.8h-7.8zM1150,123.2h7.8v7.8h-7.8zM1153.3,125.9h7.8v7.8h-7.8zM1156.6,129.9h7.8v7.8h-7.8zM1160,119.3h7.8v7.8h-7.8zM1163.3,125.9h7.8v7.8h-7.8zM1166.6,127.4h7.8v7.8h-7.8zM1170,125.1h7.8v7.8h-7.8zM1173.3,122.6h7.8v7.8h-7.8zM1176.7,121.7h7.8v7.8h-7.8zM1180,130.9h7.8v7.8h-7.8zM1183.3,126.1h7.8v7.8h-7.8zM1186.7,125.2h7.8v7.8h-7.8zM1190,127.1h7.8v7.8h-7.8zM1193.3,140.9h7.8v7.8h-7.8zM1196.7,136.6h7.8v7.8h-7.8zM1200,148.1h7.8v7.8h-7.8zM1203.3,156.6h7.8v7.8h-7.8zM1206.7,173.5h7.8v7.8h-7.8zM1210,188.6h7.8v7.8h-7.8zM1213.4,215.3h7.8v7.8h-7.8zM1216.7,241.1h7.8v7.8h-7.8zM1220,270.8h7.8v7.8h-7.8zM1223.4,298.6h7.8v7.8h-7.8zM1226.7,313.2h7.8v7.8h-7.8zM1230,337.5h7.8v7.8h-7.8zM1233.4,319.9h7.8v7.8h-7.8zM1236.7,302.7h7.8v7.8h-7.8zM1240,300.6h7.8v7.8h-7.8zM1243.4,297h7.8v7.8h-7.8zM1246.7,277.6h7.8v7.8h-7.8zM1250.1,247.2h7.8v7.8h-7.8zM1253.4,229h7.8v7.8h-7.8zM1256.7,202.8h7.8v7.8h-7.8zM1260.1,180.1h7.8v7.8h-7.8zM1263.4,170.8h7.8v7.8h-7.8zM1266.7,160.7h7.8v7.8h-7.8zM1270.1,157.9h7.8v7.8h-7.8zM1273.4,148.6h7.8v7.8h-7.8zM1276.8,142.1h7.8v7.8h-7.8zM1280.1,135.4h7.8v7.8h-7.8zM1283.4,122.6h7.8v7.8h-7.8zM1286.8,121.6h7.8v7.8h-7.8zM1290.1,133.1h7.8v7.8h-7.8zM1293.4,128.3h7.8v7.8h-7.8zM1296.8,125.3h7.8v7.8h-7.8zM1300.1,129.3h7.8v7.8h-7.8zM1303.4,115.5h7.8v7.8h-7.8zM1306.8,118h7.8v7.8h-7.8zM1310.1,119.7h7.8v7.8h-7.8zM1313.5,118.4h7.8v7.8h-7.8zM1316.8,119.3h7.8v7.8h-7.8zM1320.1,119.6h7.8v7.8h-7.8zM1323.5,114.6h7.8v7.8h-7.8zM1326.8,121.7h7.8v7.8h-7.8zM1330.1,113.1h7.8v7.8h-7.8zM1333.5,121.7h7.8v7.8h-7.8zM1336.8,110.1h7.8v7.8h-7.8zM1340.1,114.6h7.8v7.8h-7.8zM1343.5,115.1h7.8v7.8h-7.8zM1346.8,111.3h7.8v7.8h-7.8zM1350.2,115.8h7.8v7.8h-7.8zM1353.5,113.4h7.8v7.8h-7.8zM1356.8,123h7.8v7.8h-7.8zM1360.2,115h7.8v7.8h-7.8zM1363.5,118.9h7.8v7.8h-7.8zM1366.8,115.1h7.8v7.8h-7.8zM1370.2,117.6h7.8v7.8h-7.8zM1373.5,114.6h7.8v7.8h-7.8zM1376.8,115.2h7.8v7.8h-7.8zM1380.2,119.2h7.8v7.8h-7.8zM1383.5,115.3h7.8v7.8h-7.8zM1386.9,113.9h7.8v7.8h-7.8zM1390.2,119.4h7.8v7.8h-7.8zM1393.5,118h7.8v7.8h-7.8zM1396.9,116.9h7.8v7.8h-7.8zM1400.2,111.9h7.8v7.8h-7.8zM1403.5,121.8h7.8v7.8h-7.8zM1406.9,117h7.8v7.8h-7.8zM1410.2,117.4h7.8v7.8h-7.8zM1413.6,124.8h7.8v7.8h-7.8zM1416.9,129.3h7.8v7.8h-7.8zM1420.2,131h7.8v7.8h-7.8zM1423.6,133.2h7.8v7.8h-7.8zM1426.9,141.3h7.8v7.8h-7.8zM1430.2,142.5h7.8v7.8h-7.8zM1433.6,149.4h7.8v7.8h-7.8zM1436.9,150h7.8v7.8h-7.8zM1440.2,151.5h7.8v7.8h-7.8zM1443.6,150.4h7.8v7.8h-7.8zM1446.9,146.2h7.8v7.8h-7.8zM1450.3,137.1h7.8v7.8h-7.8zM1453.6,134h7.8v7.8h-7.8zM1456.9,123.9h7.8v7.8h-7.8zM1460.3,128.6h7.8v7.8h-7.8zM1463.6,120.4h7.8v7.8h-7.8zM1466.9,120h7.8v7.8h-7.8zM1470.3,117.5h7.8v7.8h-7.8zM1473.6,109.6h7.8v7.8h-7.8zM1476.9,116.8h7.8v7.8h-7.8zM1480.3,120.7h7.8v7.8h-7.8zM1483.6,119.5h7.8v7.8h-7.8zM1487,122.4h7.8v7.8h-7.8zM1490.3,116.4h7.8v7.8h-7.8zM1493.6,114.5h7.8v7.8h-7.8zM1497,123.1h7.8v7.8h-7.8zM1500.3,117.5h7.8v7.8h-7.8zM1503.6,116.4h7.8v7.8h-7.8zM1507,124.1h7.8v7.8h-7.8zM1510.3,123.7h7.8v7.8h-7.8zM1513.6,133h7.8v7.8h-7.8zM1517,132.4h7.8v7.8h-7.8zM1520.3,131.6h7.8v7.8h-7.8zM1523.7,138.5h7.8v7.8h-7.8zM1527,134.8h7.8v7.8h-7.8zM1530.3,139.1h7.8v7.8h-7.8zM1533.7,135.5h7.8v7.8h-7.8zM1537,125.9h7.8v7.8h-7.8zM1540.3,127.2h7.8v7.8h-7.8zM1543.7,120.8h7.8v7.8h-7.8zM1547,125.8h7.8v7.8h-7.8zM1550.4,125.1h7.8v7.8h-7.8zM1553.7,125.5h7.8v7.8h-7.8zM1557,127.8h7.8v7.8h-7.8zM1560.4,124.2h7.8v7.8h-7.8zM1563.7,129.6h7.8v7.8h-7.8zM1567,127.8h7.8v7.8h-7.8zM1570.4,131.7h7.8v7.8h-7.8zM1573.7,142.8h7.8v7.8h-7.8zM1577,150.2h7.8v7.8h-7.8zM1580.4,153.8h7.8v7.8h-7.8zM1583.7,151.4h7.8v7.8h-7.8zM1587.1,157h7.8v7.8h-7.8zM1590.4,160.7h7.8v7.8h-7.8zM1593.7,163.5h7.8v7.8h-7.8zM1597.1,172.5h7.8v7.8h-7.8zM1600.4,178.5h7.8v7.8h-7.8zM1603.7,184.3h7.8v7.8h-7.8zM1607.1,179.9h7.8v7.8h-7.8zM1610.4,190.7h7.8v7.8h-7.8zM1613.7,206.2h7.8v7.8h-7.8zM1617.1,218.6h7.8v7.8h-7.8zM1620.4,227.4h7.8v7.8h-7.8zM1623.8,244.5h7.8v7.8h-7.8zM1627.1,258.7h7.8v7.8h-7.8zM1630.4,284.5h7.8v7.8h-7.8zM1633.8,300.4h7.8v7.8h-7.8zM1637.1,316h7.8v7.8h-7.8zM1640.4,341.8h7.8v7.8h-7.8zM1643.8,365.8h7.8v7.8h-7.8zM1647.1,378.6h7.8v7.8h-7.8zM1650.5,388.8h7.8v7.8h-7.8zM1653.8,403.8h7.8v7.8h-7.8zM1657.1,399.9h7.8v7.8h-7.8zM1660.5,386.6h7.8v7.8h-7.8zM1663.8,375h7.8v7.8h-7.8zM1667.1,346.4h7.8v7.8h-7.8zM1670.5,324.6h7.8v7.8h-7.8zM1673.8,316.4h7.8v7.8h-7.8zM1677.1,279.1h7.8v7.8h-7.8zM1680.5,261.7h7.8v7.8h-7.8zM1683.8,236.7h7.8v7.8h-7.8zM1687.2,218.1h7.8v7.8h-7.8zM1690.5,197.8h7.8v7.8h-7.8zM1693.8,174h7.8v7.8h-7.8zM1697.2,168h7.8v7.8h-7.8zM1700.5,155.7h7.8v7.8h-7.8zM1703.8,154.3h7.8v7.8h-7.8zM1707.2,145.4h7.8v7.8h-7.8zM1710.5,141.6h7.8v7.8h-7.8zM1713.8,129.2h7.8v7.8h-7.8zM1717.2,128.9h7.8v7.8h-7.8zM1720.5,131.6h7.8v7.8h-7.8zM1723.9,136.1h7.8v7.8h-7.8zM1727.2,131.9h7.8v7.8h-7.8zM1730.5,129.5h7.8v7.8h-7.8zM1733.9,136h7.8v7.8h-7.8zM1737.2,137.6h7.8v7.8h-7.8zM1740.5,137.5h7.8v7.8h-7.8zM1743.9,141.5h7.8v7.8h-7.8zM1747.2,143.1h7.8v7.8h-7.8zM1750.5,148h7.8v7.8h-7.8zM1753.9,155.8h7.8v7.8h-7.8zM1757.2,162.7h7.8v7.8h-7.8zM1760.6,163.7h7.8v7.8h-7.8zM1763.9,176.9h7.8v7.8h-7.8zM1767.2,181.8h7.8v7.8h-7.8zM1770.6,193.8h7.8v7.8h-7.8zM1773.9,213.7h7.8v7.8h-7.8zM1777.2,227.5h7.8v7.8h-7.8zM1780.6,239.5h7.8v7.8h-7.8zM1783.9,255.7h7.8v7.8h-7.8zM1787.3,274.9h7.8v7.8h-7.8zM1790.6,289.8h7.8v7.8h-7.8zM1793.9,301.1h7.8v7.8h-7.8zM1797.3,308.7h7.8v7.8h-7.8zM1800.6,307.2h7.8v7.8h-7.8zM1803.9,319h7.8v7.8h-7.8zM1807.3,310.6h7.8v7.8h-7.8zM1810.6,291.5h7.8v7.8h-7.8zM1813.9,269.4h7.8v7.8h-7.8zM1817.3,235.5h7.8v7.8h-7.8zM1820.6,219.4h7.8v7.8h-7.8zM1824,197.7h7.8v7.8h-7.8zM1827.3,187.8h7.8v7.8h-7.8zM1830.6,171.7h7.8v7.8h-7.8zM1834,159.1h7.8v7.8h-7.8zM1837.3,148.7h7.8v7.8h-7.8zM1840.6,137.5h7.8v7.8h-7.8zM1844,130.4h7.8v7.8h-7.8zM1847.3,136h7.8v7.8h-7.8zM1850.6,130.4h7.8v7.8h-7.8zM1854,126.9h7.8v7.8h-7.8zM1857.3,127.4h7.8v7.8h-7.8zM1860.7,117.5h7.8v7.8h-7.8zM1864,117.4h7.8v7.8h-7.8zM1867.3,115.6h7.8v7.8h-7.8zM1870.7,115.9h7.8v7.8h-7.8zM1874,117.6h7.8v7.8h-7.8zM1877.3,113h7.8v7.8h-7.8zM1880.7,117.6h7.8v7.8h-7.8zM1884,116.2h7.8v7.8h-7.8zM1887.3,113.7h7.8v7.8h-7.8zM1890.7,117.7h7.8v7.8h-7.8zM1894,118.6h7.8v7.8h-7.8zM1897.4,119h7.8v7.8h-7.8zM1900.7,115.1h7.8v7.8h-7.8zM1904,121.4h7.8v7.8h-7.8zM1907.4,117.9h7.8v7.8h-7.8zM1910.7,114h7.8v7.8h-7.8zM1914,117h7.8v7.8h-7.8zM1917.4,108.2h7.8v7.8h-7.8zM1920.7,108.2h7.8v7.8h-7.8zM1924.1,113.8h7.8v7.8h-7.8zM1927.4,113.6h7.8v7.8h-7.8zM1930.7,117h7.8v7.8h-7.8zM1934.1,111.4h7.8v7.8h-7.8zM1937.4,111h7.8v7.8h-7.8zM1940.7,116.7h7.8v7.8h-7.8zM1944.1,111.7h7.8v7.8h-7.8zM1947.4,113.6h7.8v7.8h-7.8zM1950.7,106.6h7.8v7.8h-7.8zM1954.1,106.1h7.8v7.8h-7.8zM1957.4,110.4h7.8v7.8h-7.8zM1960.8,110.2h7.8v7.8h-7.8zM1964.1,116.7h7.8v7.8h-7.8zM1967.4,105.2h7.8v7.8h-7.8zM1970.8,109h7.8v7.8h-7.8zM1974.1,109.6h7.8v7.8h-7.8z" fill="#000"/>
<path d="M273,58.7 274,58.7 275,58.7 276,58.7 277,58.7 278,58.7 279,58.7 280,58.7 281,58.7 282,58.7 283,58.7 284,58.7 285,58.7 286,58.7 287,58.8 288,58.8 289,58.8 290,58.8 291,58.8 292,58.8 293,58.8 294,58.8 295,58.8 296,58.8 297,58.8 298,58.8 299,58.8 300,58.8 301,58.8 302,58.8 303,58.8 304,58.8 305,58.8 306,58.8 307,58.8 308,58.8 309,58.8 310,58.8 311,58.8 312,58.8 313,58.8 314,58.8 315,58.8 316,58.8 317,58.8 318,58.8 319,58.8 320,58.8 321,58.8 322,58.8 323,58.8 324,58.8 325,58.8 326,58.8 327,58.8 328,58.8 329,58.9 330,58.9 331,58.9 332,58.9 333,58.9 334,58.9 335,58.9 336,58.9 337,58.9 338,58.9 339,58.9 340,58.9 341,58.9 342,58.9 343,58.9 344,58.9 345,58.9 346,58.9 347,58.9 348,58.9 349,58.9 350,58.9 351,58.9 352,58.9 353,58.9 354,58.9 355,58.9 356,58.9 357,58.9 358,58.9 359,58.9 360,59 361,59 362,59 363,59 364,59 365,59 366,59 367,59 368,59 369,59 370,59 371,59 372,59 373,59 374,59 375,59 376,59 377,59 378,59 379,59 380,59 381,59 382,59 383,59.1 384,59.1 385,59.1 386,59.1 387,59.1 388,59.1 389,59.1 390,59.1 391,59.1 392,59.1 393,59.1 394,59.1 395,59.1 396,59.1 397,59.1 398,59.1 399,59.1 400,59.1 401,59.1 402,59.2 403,59.2 404,59.2 405,59.2 406,59.2 407,59.2 408,59.2 409,59.2 410,59.2 411,59.2 412,59.2 413,59.2 414,59.2 415,59.2 416,59.2 417,59.3 418,59.3 419,59.3 420,59.3 421,59.3 422,59.3 423,59.3 424,59.3 425,59.3 426,59.3 427,59.3 428,59.3 429,59.3 430,59.4 431,59.4 432,59.4 433,59.4 434,59.4 435,59.4 436,59.4 437,59.4 438,59.4 439,59.4 440,59.4 441,59.5 442,59.5 443,59.5 444,59.5 445,59.5 446,59.5 447,59.5 448,59.5 449,59.5 450,59.6 451,59.6 452,59.6 453,59.6 454,59.6 455,59.6 456,59.6 457,59.6 458,59.7 459,59.7 460,59.7 461,59.7 462,59.7 463,59.7 464,59.7 465,59.7 466,59.8 467,59.8 468,59.8 469,59.8 470,59.8 471,59.8 472,59.9 473,59.9 474,59.9 475,59.9 476,59.9 477,59.9 478,60 479,60 480,60 481,60 482,60 483,60.1 484,60.1 485,60.1 486,60.1 487,60.1 488,60.2 489,60.2 490,60.2 491,60.2 492,60.3 493,60.3 494,60.3 495,60.3 496,60.3 497,60.4 498,60.4 499,60.4 500,60.5 501,60.5 502,60.5 503,60.5 504,60.6 505,60.6 506,60.6 507,60.7 508,60.7 509,60.7 510,60.8 511,60.8 512,60.8 513,60.9 514,60.9 515,60.9 516,61 517,61 518,61.1 519,61.1 520,61.2 521,61.2 522,61.2 523,61.3 524,61.3 525,61.4 526,61.4 527,61.5 528,61.5 529,61.6 530,61.7 531,61.7 532,61.8 533,61.8 534,61.9 535,62 536,62 537,62.1 538,62.2 539,62.2 540,62.3 541,62.4 542,62.5 543,62.5 544,62.6 545,62.7 546,62.8 547,62.9 548,63 549,63.1 550,63.2 551,63.3 552,63.4 553,63.5 554,63.7 555,63.8 556,63.9 557,64 558,64.2 559,64.3 560,64.5 561,64.6 562,64.8 563,65 564,65.1 565,65.3 566,65.5 567,65.7 568,65.9 569,66.2 570,66.4 571,66.6 572,66.9 573,67.2 574,67.5 575,67.8 576,68.1 577,68.5 578,68.8 579,69.2 580,69.6 581,70.1 582,70.5 583,71 584,71.6 585,72.1 586,72.7 587,73.4 588,74.1 589,74.8 590,75.6 591,76.5 592,77.4 593,78.4 594,79.5 595,80.7 596,81.9 597,83.2 598,84.7 599,86.2 600,87.9 601,89.7 602,91.6 603,93.7 604,95.9 605,98.2 606,100.8 607,103.5 608,106.3 609,109.4 610,112.6 611,116.1 612,119.7 613,123.5 614,127.6 615,131.8 616,136.3 617,140.9 618,145.8 619,150.8 620,156.1 621,161.5 622,167.1 623,172.9 624,178.8 625,184.8 626,191 627,197.3 628,203.6 629,210 630,216.5 631,222.9 632,229.4 633,235.9 634,242.3 635,248.7 636,255.1 637,261.5 638,267.8 639,274.1 640,280.4 641,286.7 642,293.1 643,299.4 644,305.6 645,311.5 646,316.5 647,320.4 648,322.5 649,322.6 650,320.9 651,317.6 652,313.2 653,308.3 654,303.1 655,297.8 656,292.5 657,287.3 658,282 659,276.8 660,271.5 661,266.1 662,260.8 663,255.3 664,249.9 665,244.4 666,238.9 667,233.4 668,227.9 669,222.4 670,217 671,211.6 672,206.4 673,201.2 674,196.2 675,191.3 676,186.5 677,181.9 678,177.4 679,173.1 680,169 681,165 682,161.2 683,157.6 684,154.2 685,151 686,147.9 687,144.9 688,142.2 689,139.5 690,137.1 691,134.7 692,132.5 693,130.5 694,128.5 695,126.6 696,124.9 697,123.2 698,121.6 699,120.1 700,118.7 701,117.3 702,116 703,114.7 704,113.5 705,112.3 706,111.1 707,110 708,108.9 709,107.9 710,106.8 711,105.8 712,104.8 713,103.8 714,102.8 715,101.9 716,100.9 717,100 718,99 719,98.1 720,97.2 721,96.2 722,95.3 723,94.4 724,93.5 725,92.6 726,91.7 727,90.9 728,90 729,89.1 730,88.3 731,87.4 732,86.6 733,85.8 734,85 735,84.2 736,83.4 737,82.6 738,81.8 739,81.1 740,80.4 741,79.6 742,78.9 743,78.3 744,77.6 745,76.9 746,76.3 747,75.7 748,75.1 749,74.5 750,74 751,73.4 752,72.9 753,72.4 754,71.9 755,71.4 756,70.9 757,70.5 758,70.1 759,69.7 760,69.3 761,68.9 762,68.5 763,68.2 764,67.9 765,67.5 766,67.2 767,67 768,66.7 769,66.4 770,66.2 771,65.9 772,65.7 773,65.5 774,65.3 775,65.1 776,65 777,64.8 778,64.6 779,64.5 780,64.4 781,64.2 782,64.1 783,64 784,63.9 785,63.8 786,63.7 787,63.6 788,63.6 789,63.5 790,63.5 791,63.4 792,63.4 793,63.3 794,63.3 795,63.3 796,63.3 797,63.3 798,63.3 799,63.3 800,63.3 801,63.4 802,63.4 803,63.4 804,63.5 805,63.6 806,63.6 807,63.7 808,63.8 809,64 810,64.1 811,64.2 812,64.4 813,64.6 814,64.8 815,65 816,65.2 817,65.4 818,65.7 819,66 820,66.2 821,66.6 822,66.9 823,67.3 824,67.6 825,68 826,68.4 827,68.9 828,69.3 829,69.8 830,70.3 831,70.8 832,71.3 833,71.8 834,72.4 835,73 836,73.5 837,74.1 838,74.7 839,75.3 840,75.9 841,76.5 842,77 843,77.6 844,78.2 845,78.7 846,79.3 847,79.8 848,80.3 849,80.7 850,81.2 851,81.6 852,82 853,82.3 854,82.6 855,82.9 856,83.1 857,83.3 858,83.5 859,83.6 860,83.6 861,83.6 862,83.6 863,83.5 864,83.4 865,83.2 866,83 867,82.7 868,82.5 869,82.1 870,81.8 871,81.4 872,80.9 873,80.5 874,80 875,79.5 876,79 877,78.4 878,77.9 879,77.3 880,76.7 881,76.2 882,75.6 883,75 884,74.4 885,73.8 886,73.3 887,72.7 888,72.2 889,71.6 890,71.1 891,70.6 892,70.1 893,69.7 894,69.2 895,68.8 896,68.4 897,68 898,67.6 899,67.2 900,66.9 901,66.6 902,66.3 903,66 904,65.7 905,65.5 906,65.3 907,65.1 908,64.9 909,64.7 910,64.5 911,64.4 912,64.2 913,64.1 914,64 915,63.9 916,63.8 917,63.7 918,63.6 919,63.6 920,63.5 921,63.4 922,63.4 923,63.3 924,63.3 925,63.3 926,63.2 927,63.2 928,63.2 929,63.2 930,63.2 931,63.2 932,63.2 933,63.2 934,63.2 935,63.2 936,63.2 937,63.2 938,63.2 939,63.2 940,63.2 941,63.2 942,63.2 943,63.2 944,63.2 945,63.3 946,63.3 947,63.3 948,63.3 949,63.3 950,63.4 951,63.4 952,63.4 953,63.4 954,63.5 955,63.5 956,63.5 957,63.6 958,63.6 959,63.6 960,63.7 961,63.7 962,63.7 963,63.8 964,63.8 965,63.9 966,63.9 967,64 968,64 969,64.1 970,64.1 971,64.2 972,64.2 973,64.3 974,64.3 975,64.4 976,64.4 977,64.5 978,64.6 979,64.6 980,64.7 981,64.8 982,64.9 983,64.9 984,65 985,65.1 986,65.2 987,65.3 988,65.4 989,65.5 990,65.6 991,65.7 992,65.8 993,65.9 994,66 995,66.1 996,66.2 997,66.4 998,66.5 999,66.6 1000,66.8 1001,66.9 1002,67.1 1003,67.2 1004,67.4 1005,67.6 1006,67.8 1007,68 1008,68.2 1009,68.4 1010,68.6 1011,68.8 1012,69.1 1013,69.3 1014,69.6 1015,69.9 1016,70.2 1017,70.5 1018,70.8 1019,71.1 1020,71.5 1021,71.9 1022,72.3 1023,72.7 1024,73.1 1025,73.6 1026,74.1 1027,74.6 1028,75.2 1029,75.8 1030,76.4 1031,77.1 1032,77.8 1033,78.6 1034,79.4 1035,80.3 1036,81.2 1037,82.2 1038,83.3 1039,84.4 1040,85.6 1041,86.9 1042,88.4 1043,89.9 1044,91.5 1045,93.3 1046,95.2 1047,97.2 1048,99.4 1049,101.7 1050,104.2 1051,106.9 1052,109.8 1053,112.9 1054,116.1 1055,119.6 1056,123.2 1057,127.1 1058,131.1 1059,135.2 1060,139.6 1061,144 1062,148.6 1063,153.2 1064,157.9 1065,162.5 1066,167 1067,171.4 1068,175.5 1069,179.2 1070,182.4 1071,184.9 1072,186.6 1073,187.4 1074,187.2 1075,186 1076,184 1077,181.2 1078,177.8 1079,174 1080,169.7 1081,165.3 1082,160.7 1083,156.1 1084,151.5 1085,146.9 1086,142.4 1087,138 1088,133.7 1089,129.6 1090,125.7 1091,121.9 1092,118.4 1093,115 1094,111.9 1095,108.9 1096,106.1 1097,103.5 1098,101.1 1099,98.8 1100,96.7 1101,94.8 1102,92.9 1103,91.2 1104,89.7 1105,88.2 1106,86.9 1107,85.6 1108,84.4 1109,83.3 1110,82.3 1111,81.3 1112,80.5 1113,79.6 1114,78.9 1115,78.1 1116,77.5 1117,76.8 1118,76.2 1119,75.7 1120,75.1 1121,74.6 1122,74.2 1123,73.7 1124,73.3 1125,72.9 1126,72.6 1127,72.2 1128,71.9 1129,71.6 1130,71.3 1131,71 1132,70.8 1133,70.5 1134,70.3 1135,70.1 1136,69.9 1137,69.7 1138,69.5 1139,69.3 1140,69.2 1141,69 1142,68.9 1143,68.8 1144,68.6 1145,68.5 1146,68.4 1147,68.3 1148,68.2 1149,68.1 1150,68 1151,68 1152,67.9 1153,67.8 1154,67.8 1155,67.7 1156,67.7 1157,67.7 1158,67.6 1159,67.6 1160,67.6 1161,67.6 1162,67.6 1163,67.6 1164,67.6 1165,67.7 1166,67.7 1167,67.7 1168,67.8 1169,67.8 1170,67.9 1171,67.9 1172,68 1173,68.1 1174,68.2 1175,68.3 1176,68.4 1177,68.6 1178,68.7 1179,68.9 1180,69.1 1181,69.3 1182,69.5 1183,69.7 1184,70 1185,70.3 1186,70.6 1187,70.9 1188,71.3 1189,71.8 1190,72.2 1191,72.7 1192,73.3 1193,73.9 1194,74.6 1195,75.4 1196,76.3 1197,77.2 1198,78.3 1199,79.5 1200,80.8 1201,82.3 1202,84 1203,85.8 1204,87.8 1205,90.1 1206,92.5 1207,95.3 1208,98.2 1209,101.5 1210,105 1211,108.8 1212,113 1213,117.4 1214,122.1 1215,127.1 1216,132.3 1217,137.8 1218,143.6 1219,149.5 1220,155.6 1221,161.9 1222,168.3 1223,174.7 1224,181.3 1225,187.8 1226,194.3 1227,200.6 1228,206.6 1229,212.1 1230,216.6 1231,219.9 1232,221.6 1233,221.5 1234,219.6 1235,216.1 1236,211.4 1237,205.8 1238,199.7 1239,193.4 1240,186.8 1241,180.3 1242,173.7 1243,167.2 1244,160.8 1245,154.6 1246,148.4 1247,142.5 1248,136.7 1249,131.2 1250,126 1251,121 1252,116.3 1253,111.9 1254,107.8 1255,104 1256,100.4 1257,97.2 1258,94.2 1259,91.5 1260,89 1261,86.8 1262,84.7 1263,82.9 1264,81.2 1265,79.7 1266,78.4 1267,77.2 1268,76.1 1269,75.1 1270,74.2 1271,73.4 1272,72.7 1273,72 1274,71.4 1275,70.8 1276,70.3 1277,69.9 1278,69.5 1279,69.1 1280,68.7 1281,68.4 1282,68.1 1283,67.8 1284,67.5 1285,67.3 1286,67 1287,66.8 1288,66.6 1289,66.4 1290,66.3 1291,66.1 1292,65.9 1293,65.8 1294,65.6 1295,65.5 1296,65.4 1297,65.3 1298,65.1 1299,65 1300,64.9 1301,64.8 1302,64.7 1303,64.7 1304,64.6 1305,64.5 1306,64.4 1307,64.3 1308,64.3 1309,64.2 1310,64.1 1311,64.1 1312,64 1313,64 1314,63.9 1315,63.9 1316,63.8 1317,63.8 1318,63.7 1319,63.7 1320,63.6 1321,63.6 1322,63.5 1323,63.5 1324,63.5 1325,63.4 1326,63.4 1327,63.4 1328,63.4 1329,63.3 1330,63.3 1331,63.3 1332,63.2 1333,63.2 1334,63.2 1335,63.2 1336,63.2 1337,63.1 1338,63.1 1339,63.1 1340,63.1 1341,63.1 1342,63.1 1343,63.1 1344,63 1345,63 1346,63 1347,63 1348,63 1349,63 1350,63 1351,63 1352,63 1353,63 1354,63 1355,63 1356,63 1357,63 1358,63 1359,63 1360,63 1361,63 1362,63 1363,63 1364,63 1365,63 1366,63 1367,63 1368,63.1 1369,63.1 1370,63.1 1371,63.1 1372,63.1 1373,63.1 1374,63.2 1375,63.2 1376,63.2 1377,63.2 1378,63.3 1379,63.3 1380,63.3 1381,63.4 1382,63.4 1383,63.5 1384,63.5 1385,63.5 1386,63.6 1387,63.7 1388,63.7 1389,63.8 1390,63.8 1391,63.9 1392,64 1393,64.1 1394,64.2 1395,64.2 1396,64.3 1397,64.5 1398,64.6 1399,64.7 1400,64.8 1401,65 1402,65.1 1403,65.3 1404,65.5 1405,65.7 1406,65.9 1407,66.2 1408,66.4 1409,66.7 1410,67 1411,67.4 1412,67.8 1413,68.2 1414,68.7 1415,69.2 1416,69.7 1417,70.3 1418,71 1419,71.7 1420,72.5 1421,73.3 1422,74.2 1423,75.2 1424,76.2 1425,77.3 1426,78.5 1427,79.7 1428,80.9 1429,82.2 1430,83.5 1431,84.8 1432,86.2 1433,87.4 1434,88.7 1435,89.9 1436,91 1437,92 1438,92.9 1439,93.8 1440,94.5 1441,95.4 1442,96.5 1443,97 1444,96 1445,95 1446,94.2 1447,93.5 1448,92.6 1449,91.6 1450,90.6 1451,89.5 1452,88.2 1453,87 1454,85.7 1455,84.4 1456,83.1 1457,81.8 1458,80.5 1459,79.3 1460,78.1 1461,77 1462,75.9 1463,74.9 1464,74 1465,73.1 1466,72.3 1467,71.5 1468,70.8 1469,70.2 1470,69.6 1471,69.1 1472,68.6 1473,68.2 1474,67.8 1475,67.4 1476,67.1 1477,66.8 1478,66.5 1479,66.3 1480,66 1481,65.8 1482,65.6 1483,65.5 1484,65.3 1485,65.2 1486,65 1487,64.9 1488,64.8 1489,64.7 1490,64.6 1491,64.5 1492,64.4 1493,64.3 1494,64.3 1495,64.2 1496,64.2 1497,64.1 1498,64 1499,64 1500,64 1501,63.9 1502,63.9 1503,63.9 1504,63.8 1505,63.8 1506,63.8 1507,63.8 1508,63.7 1509,63.7 1510,63.7 1511,63.7 1512,63.7 1513,63.7 1514,63.7 1515,63.7 1516,63.7 1517,63.7 1518,63.7 1519,63.7 1520,63.8 1521,63.8 1522,63.8 1523,63.8 1524,63.8 1525,63.9 1526,63.9 1527,64 1528,64 1529,64 1530,64.1 1531,64.2 1532,64.2 1533,64.3 1534,64.4 1535,64.5 1536,64.6 1537,64.7 1538,64.8 1539,64.9 1540,65 1541,65.2 1542,65.3 1543,65.5 1544,65.7 1545,65.9 1546,66.1 1547,66.4 1548,66.7 1549,66.9 1550,67.2 1551,67.6 1552,67.9 1553,68.3 1554,68.7 1555,69.2 1556,69.6 1557,70.1 1558,70.6 1559,71.2 1560,71.8 1561,72.4 1562,73.1 1563,73.8 1564,74.5 1565,75.3 1566,76.1 1567,76.9 1568,77.8 1569,78.7 1570,79.7 1571,80.6 1572,81.6 1573,82.7 1574,83.7 1575,84.8 1576,86 1577,87.1 1578,88.2 1579,89.4 1580,90.6 1581,91.8 1582,93 1583,94.2 1584,95.5 1585,96.7 1586,97.9 1587,99.1 1588,100.3 1589,101.5 1590,102.7 1591,103.8 1592,105 1593,106.2 1594,107.3 1595,108.4 1596,109.5 1597,110.6 1598,111.7 1599,112.8 1600,113.9 1601,115 1602,116.2 1603,117.3 1604,118.5 1605,119.7 1606,121 1607,122.3 1608,123.6 1609,125.1 1610,126.6 1611,128.3 1612,130.1 1613,131.9 1614,134 1615,136.1 1616,138.5 1617,141 1618,143.7 1619,146.6 1620,149.7 1621,153 1622,156.5 1623,160.3 1624,164.3 1625,168.5 1626,173 1627,177.6 1628,182.6 1629,187.7 1630,193.1 1631,198.6 1632,204.4 1633,210.3 1634,216.3 1635,222.5 1636,228.8 1637,235.2 1638,241.6 1639,248.1 1640,254.5 1641,260.9 1642,267.2 1643,273.3 1644,279.4 1645,285.2 1646,290.8 1647,296.1 1648,301.1 1649,305.7 1650,310 1651,313.9 1652,317.4 1653,320.4 1654,323 1655,325.2 1656,326.9 1657,328.5 1658,330 1659,329.9 1660,328.1 1661,326.2 1662,324 1663,321.6 1664,318.6 1665,315.2 1666,311.4 1667,307.1 1668,302.4 1669,297.2 1670,291.8 1671,286 1672,279.9 1673,273.5 1674,266.9 1675,260.1 1676,253.2 1677,246.2 1678,239 1679,231.8 1680,224.7 1681,217.5 1682,210.4 1683,203.3 1684,196.4 1685,189.5 1686,182.8 1687,176.3 1688,170 1689,163.9 1690,157.9 1691,152.2 1692,146.7 1693,141.5 1694,136.5 1695,131.7 1696,127.1 1697,122.8 1698,118.8 1699,114.9 1700,111.3 1701,107.9 1702,104.7 1703,101.7 1704,98.9 1705,96.3 1706,93.9 1707,91.6 1708,89.5 1709,87.6 1710,85.7 1711,84.1 1712,82.5 1713,81.1 1714,79.8 1715,78.5 1716,77.4 1717,76.4 1718,75.4 1719,74.5 1720,73.7 1721,72.9 1722,72.2 1723,71.5 1724,70.9 1725,70.4 1726,69.9 1727,69.4 1728,68.9 1729,68.5 1730,68.1 1731,67.8 1732,67.4 1733,67.1 1734,66.8 1735,66.5 1736,66.2 1737,66 1738,65.8 1739,65.5 1740,65.3 1741,65.1 1742,64.9 1743,64.7 1744,64.6 1745,64.4 1746,64.2 1747,64.1 1748,64 1749,63.8 1750,63.7 1751,63.6 1752,63.4 1753,63.3 1754,63.2 1755,63.1 1756,63 1757,62.9 1758,62.8 1759,62.7 1760,62.6 1761,62.5 1762,62.4 1763,62.4 1764,62.3 1765,62.2 1766,62.1 1767,62.1 1768,62 1769,61.9 1770,61.9 1771,61.8 1772,61.7 1773,61.7 1774,61.6 1775,61.6 1776,61.5 1777,61.4 1778,61.4 1779,61.3 1780,61.3 1781,61.2 1782,61.2 1783,61.2 1784,61.1 1785,61.1 1786,61 1787,61 1788,60.9 1789,60.9 1790,60.9 1791,60.8 1792,60.8 1793,60.7 1794,60.7 1795,60.7 1796,60.6 1797,60.6 1798,60.6 1799,60.5 1800,60.5 1801,60.5 1802,60.5 1803,60.4 1804,60.4 1805,60.4 1806,60.3 1807,60.3 1808,60.3 1809,60.3 1810,60.2 1811,60.2 1812,60.2 1813,60.2 1814,60.1 1815,60.1 1816,60.1 1817,60.1 1818,60.1 1819,60 1820,60 1821,60 1822,60 1823,60 1824,59.9 1825,59.9 1826,59.9 1827,59.9 1828,59.9 1829,59.8 1830,59.8 1831,59.8 1832,59.8 1833,59.8 1834,59.8 1835,59.7 1836,59.7 1837,59.7 1838,59.7 1839,59.7 1840,59.7 1841,59.7 1842,59.6 1843,59.6 1844,59.6 1845,59.6 1846,59.6 1847,59.6 1848,59.6 1849,59.6 1850,59.5 1851,59.5 1852,59.5 1853,59.5 1854,59.5 1855,59.5 1856,59.5 1857,59.5 1858,59.4 1859,59.4 1860,59.4 1861,59.4 1862,59.4 1863,59.4 1864,59.4 1865,59.4 1866,59.4 1867,59.4 1868,59.3 1869,59.3 1870,59.3 1871,59.3 1872,59.3 1873,59.3 1874,59.3 1875,59.3 1876,59.3 1877,59.3 1878,59.3 1879,59.3 1880,59.2 1881,59.2 1882,59.2 1883,59.2 1884,59.2 1885,59.2 1886,59.2 1887,59.2 1888,59.2 1889,59.2 1890,59.2 1891,59.2 1892,59.2 1893,59.2 1894,59.1 1895,59.1 1896,59.1 1897,59.1 1898,59.1 1899,59.1 1900,59.1 1901,59.1 1902,59.1 1903,59.1 1904,59.1 1905,59.1 1906,59.1 1907,59.1 1908,59.1 1909,59.1 1910,59.1 1911,59 1912,59 1913,59 1914,59 1915,59 1916,59 1917,59 1918,59 1919,59 1920,59 1921,59 1922,59 1923,59 1924,59 1925,59 1926,59 1927,59 1928,59 1929,59 1930,59 1931,59 1932,58.9 1933,58.9 1934,58.9 1935,58.9 1936,58.9 1937,58.9 1938,58.9 1939,58.9 1940,58.9 1941,58.9 1942,58.9 1943,58.9 1944,58.9 1945,58.9 1946,58.9 1947,58.9 1948,58.9 1949,58.9 1950,58.9 1951,58.9 1952,58.9 1953,58.9 1954,58.9 1955,58.9 1956,58.9 1957,58.9 1958,58.9 1959,58.9 1960,58.8 1961,58.8 1962,58.8 1963,58.8 1964,58.8 1965,58.8 1966,58.8 1967,58.8 1968,58.8 1969,58.8 1970,58.8 1971,58.8 1972,58.8 1973,58.8 1974,58.8 1975,58.8 1976,58.8 1977,58.8 1978,58.8" stroke="#00ff00" stroke-width="5" fill="none" stroke-linejoin="round"/>
<path d="M273,59.7 274,59.7 275,59.7 276,59.7 277,59.7 278,59.7 279,59.8 280,59.8 281,59.8 282,59.8 283,59.8 284,59.8 285,59.8 286,59.8 287,59.8 288,59.8 289,59.9 290,59.9 291,59.9 292,59.9 293,59.9 294,59.9 295,59.9 296,59.9 297,60 298,60 299,60 300,60 301,60 302,60 303,60 304,60 305,60.1 306,60.1 307,60.1 308,60.1 309,60.1 310,60.1 311,60.2 312,60.2 313,60.2 314,60.2 315,60.2 316,60.2 317,60.3 318,60.3 319,60.3 320,60.3 321,60.3 322,60.3 323,60.4 324,60.4 325,60.4 326,60.4 327,60.4 328,60.5 329,60.5 330,60.5 331,60.5 332,60.6 333,60.6 334,60.6 335,60.6 336,60.7 337,60.7 338,60.7 339,60.7 340,60.8 341,60.8 342,60.8 343,60.9 344,60.9 345,60.9 346,60.9 347,61 348,61 349,61 350,61.1 351,61.1 352,61.2 353,61.2 354,61.2 355,61.3 356,61.3 357,61.3 358,61.4 359,61.4 360,61.5 361,61.5 362,61.6 363,61.6 364,61.7 365,61.7 366,61.8 367,61.8 368,61.9 369,61.9 370,62 371,62 372,62.1 373,62.2 374,62.2 375,62.3 376,62.4 377,62.4 378,62.5 379,62.6 380,62.6 381,62.7 382,62.8 383,62.9 384,63 385,63.1 386,63.1 387,63.2 388,63.3 389,63.4 390,63.5 391,63.6 392,63.8 393,63.9 394,64 395,64.1 396,64.2 397,64.4 398,64.5 399,64.7 400,64.8 401,65 402,65.1 403,65.3 404,65.4 405,65.6 406,65.8 407,66 408,66.2 409,66.4 410,66.6 411,66.9 412,67.1 413,67.4 414,67.6 415,67.9 416,68.2 417,68.5 418,68.8 419,69.2 420,69.5 421,69.9 422,70.3 423,70.7 424,71.1 425,71.6 426,72.1 427,72.6 428,73.2 429,73.8 430,74.4 431,75.1 432,75.8 433,76.6 434,77.4 435,78.3 436,79.2 437,80.2 438,81.3 439,82.5 440,83.7 441,85.1 442,86.6 443,88.2 444,89.9 445,91.7 446,93.7 447,95.9 448,98.2 449,100.7 450,103.4 451,106.3 452,109.4 453,112.8 454,116.3 455,120.2 456,124.2 457,128.6 458,133.1 459,138 460,143 461,148.4 462,153.9 463,159.6 464,165.6 465,171.7 466,177.9 467,184.2 468,190.6 469,196.9 470,203.2 471,209.5 472,215.5 473,221.4 474,227 475,232.3 476,237.2 477,241.6 478,245.6 479,249 480,251.9 481,254.2 482,255.8 483,256.8 484,257.1 485,256.7 486,255.8 487,254.3 488,252.2 489,249.6 490,246.5 491,242.9 492,238.8 493,234.3 494,229.5 495,224.4 496,219 497,213.4 498,207.6 499,201.7 500,195.7 501,189.7 502,183.7 503,177.8 504,171.9 505,166.2 506,160.6 507,155.1 508,149.9 509,144.8 510,139.9 511,135.3 512,130.8 513,126.6 514,122.7 515,118.9 516,115.4 517,112 518,108.9 519,106 520,103.3 521,100.8 522,98.4 523,96.2 524,94.1 525,92.2 526,90.4 527,88.8 528,87.2 529,85.8 530,84.5 531,83.2 532,82.1 533,81 534,80 535,79.1 536,78.2 537,77.4 538,76.6 539,75.9 540,75.2 541,74.5 542,73.9 543,73.4 544,72.8 545,72.3 546,71.9 547,71.4 548,71 549,70.6 550,70.2 551,69.8 552,69.5 553,69.1 554,68.8 555,68.5 556,68.2 557,68 558,67.7 559,67.5 560,67.2 561,67 562,66.8 563,66.6 564,66.4 565,66.2 566,66 567,65.8 568,65.6 569,65.5 570,65.3 571,65.1 572,65 573,64.8 574,64.7 575,64.6 576,64.4 577,64.3 578,64.2 579,64.1 580,64 581,63.9 582,63.8 583,63.7 584,63.6 585,63.5 586,63.4 587,63.3 588,63.2 589,63.1 590,63 591,63 592,62.9 593,62.8 594,62.7 595,62.7 596,62.6 597,62.5 598,62.5 599,62.4 600,62.3 601,62.3 602,62.2 603,62.2 604,62.1 605,62.1 606,62 607,61.9 608,61.9 609,61.8 610,61.8 611,61.8 612,61.7 613,61.7 614,61.6 615,61.6 616,61.5 617,61.5 618,61.5 619,61.4 620,61.4 621,61.4 622,61.3 623,61.3 624,61.2 625,61.2 626,61.2 627,61.2 628,61.1 629,61.1 630,61.1 631,61 632,61 633,61 634,61 635,60.9 636,60.9 637,60.9 638,60.9 639,60.8 640,60.8 641,60.8 642,60.8 643,60.7 644,60.7 645,60.7 646,60.7 647,60.7 648,60.6 649,60.6 650,60.6 651,60.6 652,60.6 653,60.5 654,60.5 655,60.5 656,60.5 657,60.5 658,60.5 659,60.4 660,60.4 661,60.4 662,60.4 663,60.4 664,60.4 665,60.4 666,60.3 667,60.3 668,60.3 669,60.3 670,60.3 671,60.3 672,60.3 673,60.3 674,60.3 675,60.2 676,60.2 677,60.2 678,60.2 679,60.2 680,60.2 681,60.2 682,60.2 683,60.2 684,60.2 685,60.2 686,60.2 687,60.2 688,60.2 689,60.2 690,60.2 691,60.2 692,60.2 693,60.2 694,60.2 695,60.2 696,60.2 697,60.2 698,60.2 699,60.2 700,60.2 701,60.3 702,60.3 703,60.3 704,60.3 705,60.4 706,60.4 707,60.4 708,60.5 709,60.5 710,60.6 711,60.7 712,60.7 713,60.8 714,60.9 715,61 716,61.1 717,61.2 718,61.3 719,61.4 720,61.6 721,61.7 722,61.9 723,62 724,62.2 725,62.4 726,62.6 727,62.8 728,63.1 729,63.3 730,63.5 731,63.8 732,64.1 733,64.4 734,64.6 735,64.9 736,65.3 737,65.6 738,65.9 739,66.2 740,66.6 741,66.9 742,67.2 743,67.6 744,67.9 745,68.2 746,68.6 747,68.9 748,69.2 749,69.5 750,69.8 751,70.1 752,70.4 753,70.6 754,70.9 755,71.1 756,71.3 757,71.4 758,71.6 759,71.7 760,71.8 761,71.9 762,71.9 763,71.9 764,71.9 765,71.9 766,71.8 767,71.8 768,71.6 769,71.5 770,71.3 771,71.2 772,71 773,70.7 774,70.5 775,70.2 776,70 777,69.7 778,69.4 779,69 780,68.7 781,68.4 782,68 783,67.7 784,67.4 785,67 786,66.7 787,66.3 788,66 789,65.7 790,65.3 791,65 792,64.7 793,64.4 794,64.1 795,63.8 796,63.5 797,63.3 798,63 799,62.8 800,62.5 801,62.3 802,62.1 803,61.9 804,61.7 805,61.6 806,61.4 807,61.3 808,61.1 809,61 810,60.9 811,60.7 812,60.6 813,60.5 814,60.5 815,60.4 816,60.3 817,60.2 818,60.2 819,60.1 820,60.1 821,60 822,60 823,59.9 824,59.9 825,59.9 826,59.8 827,59.8 828,59.8 829,59.8 830,59.7 831,59.7 832,59.7 833,59.7 834,59.7 835,59.7 836,59.6 837,59.6 838,59.6 839,59.6 840,59.6 841,59.6 842,59.6 843,59.6 844,59.6 845,59.6 846,59.6 847,59.6 848,59.6 849,59.6 850,59.6 851,59.6 852,59.6 853,59.6 854,59.6 855,59.6 856,59.6 857,59.6 858,59.6 859,59.6 860,59.6 861,59.6 862,59.6 863,59.6 864,59.6 865,59.6 866,59.6 867,59.6 868,59.6 869,59.6 870,59.6 871,59.6 872,59.6 873,59.6 874,59.6 875,59.6 876,59.6 877,59.6 878,59.6 879,59.6 880,59.6 881,59.6 882,59.6 883,59.6 884,59.6 885,59.6 886,59.6 887,59.6 888,59.6 889,59.6 890,59.6 891,59.6 892,59.6 893,59.6 894,59.6 895,59.6 896,59.6 897,59.6 898,59.6 899,59.6 900,59.6 901,59.7 902,59.7 903,59.7 904,59.7 905,59.7 906,59.7 907,59.7 908,59.7 909,59.7 910,59.7 911,59.7 912,59.7 913,59.7 914,59.7 915,59.7 916,59.8 917,59.8 918,59.8 919,59.8 920,59.8 921,59.8 922,59.8 923,59.8 924,59.8 925,59.8 926,59.9 927,59.9 928,59.9 929,59.9 930,59.9 931,59.9 932,59.9 933,59.9 934,60 935,60 936,60 937,60 938,60 939,60 940,60 941,60.1 942,60.1 943,60.1 944,60.1 945,60.1 946,60.2 947,60.2 948,60.2 949,60.2 950,60.2 951,60.3 952,60.3 953,60.3 954,60.4 955,60.4 956,60.4 957,60.4 958,60.5 959,60.5 960,60.5 961,60.6 962,60.6 963,60.7 964,60.7 965,60.7 966,60.8 967,60.8 968,60.9 969,60.9 970,61 971,61 972,61.1 973,61.2 974,61.2 975,61.3 976,61.4 977,61.5 978,61.6 979,61.6 980,61.7 981,61.8 982,62 983,62.1 984,62.2 985,62.3 986,62.5 987,62.7 988,62.8 989,63 990,63.2 991,63.5 992,63.7 993,64 994,64.3 995,64.6 996,64.9 997,65.3 998,65.7 999,66.1 1000,66.6 1001,67.1 1002,67.6 1003,68.2 1004,68.9 1005,69.6 1006,70.3 1007,71.1 1008,72 1009,72.9 1010,73.9 1011,74.9 1012,76.1 1013,77.2 1014,78.5 1015,79.8 1016,81.2 1017,82.7 1018,84.3 1019,85.9 1020,87.7 1021,89.5 1022,91.4 1023,93.4 1024,95.5 1025,97.6 1026,99.9 1027,102.3 1028,104.8 1029,107.4 1030,110.1 1031,112.9 1032,115.8 1033,118.8 1034,121.8 1035,124.8 1036,127.6 1037,130.2 1038,132.5 1039,134.3 1040,135.5 1041,136 1042,135.8 1043,134.8 1044,133.2 1045,131.1 1046,128.6 1047,125.9 1048,122.9 1049,119.9 1050,117 1051,114 1052,111.2 1053,108.5 1054,105.8 1055,103.3 1056,100.9 1057,98.6 1058,96.4 1059,94.2 1060,92.2 1061,90.3 1062,88.5 1063,86.7 1064,85 1065,83.4 1066,81.9 1067,80.5 1068,79.1 1069,77.9 1070,76.7 1071,75.5 1072,74.5 1073,73.5 1074,72.5 1075,71.6 1076,70.8 1077,70.1 1078,69.4 1079,68.7 1080,68.1 1081,67.5 1082,67 1083,66.5 1084,66.1 1085,65.7 1086,65.3 1087,65 1088,64.7 1089,64.4 1090,64.1 1091,63.9 1092,63.7 1093,63.5 1094,63.3 1095,63.1 1096,62.9 1097,62.8 1098,62.7 1099,62.5 1100,62.4 1101,62.3 1102,62.2 1103,62.1 1104,62 1105,62 1106,61.9 1107,61.8 1108,61.8 1109,61.7 1110,61.7 1111,61.6 1112,61.6 1113,61.5 1114,61.5 1115,61.4 1116,61.4 1117,61.4 1118,61.3 1119,61.3 1120,61.3 1121,61.3 1122,61.2 1123,61.2 1124,61.2 1125,61.2 1126,61.2 1127,61.2 1128,61.1 1129,61.1 1130,61.1 1131,61.1 1132,61.1 1133,61.1 1134,61.1 1135,61.1 1136,61.1 1137,61.1 1138,61.1 1139,61.1 1140,61.1 1141,61.1 1142,61.1 1143,61.1 1144,61.1 1145,61.2 1146,61.2 1147,61.2 1148,61.2 1149,61.2 1150,61.2 1151,61.2 1152,61.3 1153,61.3 1154,61.3 1155,61.3 1156,61.4 1157,61.4 1158,61.4 1159,61.4 1160,61.5 1161,61.5 1162,61.6 1163,61.6 1164,61.6 1165,61.7 1166,61.7 1167,61.8 1168,61.8 1169,61.9 1170,61.9 1171,62 1172,62 1173,62.1 1174,62.2 1175,62.2 1176,62.3 1177,62.4 1178,62.5 1179,62.6 1180,62.6 1181,62.7 1182,62.8 1183,62.9 1184,63.1 1185,63.2 1186,63.3 1187,63.4 1188,63.6 1189,63.7 1190,63.9 1191,64 1192,64.2 1193,64.4 1194,64.6 1195,64.8 1196,65 1197,65.3 1198,65.5 1199,65.8 1200,66.1 1201,66.4 1202,66.7 1203,67.1 1204,67.5 1205,67.9 1206,68.4 1207,68.8 1208,69.4 1209,69.9 1210,70.5 1211,71.2 1212,71.9 1213,72.6 1214,73.5 1215,74.3 1216,75.3 1217,76.3 1218,77.3 1219,78.5 1220,79.7 1221,81 1222,82.4 1223,83.9 1224,85.5 1225,87.2 1226,89 1227,90.8 1228,92.8 1229,94.9 1230,97.1 1231,99.4 1232,101.8 1233,104.3 1234,106.9 1235,109.6 1236,112.5 1237,115.5 1238,118.7 1239,121.9 1240,125.3 1241,128.9 1242,132.5 1243,136.1 1244,139.7 1245,143.1 1246,146.1 1247,148.6 1248,150.4 1249,151.3 1250,151.1 1251,150.1 1252,148.1 1253,145.5 1254,142.3 1255,138.9 1256,135.3 1257,131.6 1258,128 1259,124.5 1260,121.1 1261,117.9 1262,114.8 1263,111.8 1264,108.9 1265,106.2 1266,103.6 1267,101.1 1268,98.8 1269,96.5 1270,94.3 1271,92.3 1272,90.3 1273,88.5 1274,86.7 1275,85.1 1276,83.5 1277,82 1278,80.6 1279,79.3 1280,78.1 1281,77 1282,75.9 1283,74.9 1284,74 1285,73.1 1286,72.3 1287,71.6 1288,70.9 1289,70.3 1290,69.7 1291,69.1 1292,68.6 1293,68.1 1294,67.7 1295,67.3 1296,66.9 1297,66.5 1298,66.2 1299,65.9 1300,65.6 1301,65.3 1302,65 1303,64.8 1304,64.6 1305,64.4 1306,64.2 1307,64 1308,63.8 1309,63.6 1310,63.5 1311,63.3 1312,63.2 1313,63 1314,62.9 1315,62.8 1316,62.7 1317,62.6 1318,62.5 1319,62.4 1320,62.3 1321,62.2 1322,62.1 1323,62 1324,61.9 1325,61.9 1326,61.8 1327,61.7 1328,61.6 1329,61.6 1330,61.5 1331,61.5 1332,61.4 1333,61.4 1334,61.3 1335,61.2 1336,61.2 1337,61.2 1338,61.1 1339,61.1 1340,61 1341,61 1342,60.9 1343,60.9 1344,60.9 1345,60.8 1346,60.8 1347,60.8 1348,60.7 1349,60.7 1350,60.7 1351,60.6 1352,60.6 1353,60.6 1354,60.6 1355,60.5 1356,60.5 1357,60.5 1358,60.5 1359,60.4 1360,60.4 1361,60.4 1362,60.4 1363,60.4 1364,60.3 1365,60.3 1366,60.3 1367,60.3 1368,60.3 1369,60.2 1370,60.2 1371,60.2 1372,60.2 1373,60.2 1374,60.2 1375,60.1 1376,60.1 1377,60.1 1378,60.1 1379,60.1 1380,60.1 1381,60.1 1382,60.1 1383,60 1384,60 1385,60 1386,60 1387,60 1388,60 1389,60 1390,60 1391,60 1392,60 1393,59.9 1394,59.9 1395,59.9 1396,59.9 1397,59.9 1398,59.9 1399,59.9 1400,59.9 1401,59.9 1402,59.9 1403,59.9 1404,59.9 1405,59.9 1406,59.8 1407,59.8 1408,59.8 1409,59.8 1410,59.8 1411,59.8 1412,59.8 1413,59.8 1414,59.8 1415,59.8 1416,59.8 1417,59.8 1418,59.8 1419,59.8 1420,59.8 1421,59.8 1422,59.8 1423,59.8 1424,59.8 1425,59.8 1426,59.8 1427,59.8 1428,59.7 1429,59.7 1430,59.7 1431,59.7 1432,59.7 1433,59.7 1434,59.7 1435,59.7 1436,59.7 1437,59.7 1438,59.7 1439,59.7 1440,59.7 1441,59.7 1442,59.7 1443,59.7 1444,59.7 1445,59.7 1446,59.7 1447,59.7 1448,59.7 1449,59.7 1450,59.7 1451,59.7 1452,59.7 1453,59.7 1454,59.7 1455,59.7 1456,59.7 1457,59.7 1458,59.7 1459,59.7 1460,59.7 1461,59.7 1462,59.7 1463,59.7 1464,59.7 1465,59.7 1466,59.7 1467,59.7 1468,59.7 1469,59.7 1470,59.7 1471,59.7 1472,59.7 1473,59.7 1474,59.7 1475,59.7 1476,59.7 1477,59.7 1478,59.7 1479,59.7 1480,59.7 1481,59.7 1482,59.7 1483,59.7 1484,59.8 1485,59.8 1486,59.8 1487,59.8 1488,59.8 1489,59.8 1490,59.9 1491,59.9 1492,60 1493,60 1494,60.1 1495,60.2 1496,60.3 1497,60.4 1498,60.6 1499,60.8 1500,61 1501,61.3 1502,61.7 1503,62 1504,62.5 1505,63 1506,63.5 1507,64.2 1508,64.9 1509,65.6 1510,66.5 1511,67.4 1512,68.3 1513,69.3 1514,70.3 1515,71.4 1516,72.5 1517,73.5 1518,74.6 1519,75.6 1520,76.5 1521,77.4 1522,78.2 1523,78.8 1524,79.4 1525,79.9 1526,80.4 1527,80.8 1528,80.5 1529,80.1 1530,79.6 1531,79 1532,78.4 1533,77.6 1534,76.8 1535,75.9 1536,74.9 1537,73.9 1538,72.8 1539,71.8 1540,70.7 1541,69.7 1542,68.7 1543,67.7 1544,66.8 1545,66 1546,65.2 1547,64.5 1548,63.9 1549,63.3 1550,62.8 1551,62.4 1552,62 1553,61.6 1554,61.4 1555,61.1 1556,60.9 1557,60.7 1558,60.6 1559,60.5 1560,60.4 1561,60.3 1562,60.3 1563,60.2 1564,60.2 1565,60.2 1566,60.2 1567,60.2 1568,60.2 1569,60.1 1570,60.1 1571,60.1 1572,60.2 1573,60.2 1574,60.2 1575,60.2 1576,60.2 1577,60.2 1578,60.2 1579,60.2 1580,60.2 1581,60.2 1582,60.2 1583,60.2 1584,60.2 1585,60.3 1586,60.3 1587,60.3 1588,60.3 1589,60.3 1590,60.3 1591,60.3 1592,60.3 1593,60.3 1594,60.4 1595,60.4 1596,60.4 1597,60.4 1598,60.4 1599,60.4 1600,60.4 1601,60.4 1602,60.5 1603,60.5 1604,60.5 1605,60.5 1606,60.5 1607,60.5 1608,60.6 1609,60.6 1610,60.6 1611,60.6 1612,60.6 1613,60.6 1614,60.7 1615,60.7 1616,60.7 1617,60.7 1618,60.7 1619,60.7 1620,60.8 1621,60.8 1622,60.8 1623,60.8 1624,60.8 1625,60.9 1626,60.9 1627,60.9 1628,60.9 1629,60.9 1630,61 1631,61 1632,61 1633,61 1634,61.1 1635,61.1 1636,61.1 1637,61.1 1638,61.2 1639,61.2 1640,61.2 1641,61.3 1642,61.3 1643,61.3 1644,61.3 1645,61.4 1646,61.4 1647,61.4 1648,61.5 1649,61.5 1650,61.5 1651,61.6 1652,61.6 1653,61.6 1654,61.7 1655,61.7 1656,61.8 1657,61.8 1658,61.8 1659,61.9 1660,61.9 1661,62 1662,62 1663,62 1664,62.1 1665,62.1 1666,62.2 1667,62.2 1668,62.3 1669,62.3 1670,62.4 1671,62.4 1672,62.5 1673,62.5 1674,62.6 1675,62.7 1676,62.7 1677,62.8 1678,62.8 1679,62.9 1680,63 1681,63 1682,63.1 1683,63.2 1684,63.3 1685,63.3 1686,63.4 1687,63.5 1688,63.6 1689,63.7 1690,63.7 1691,63.8 1692,63.9 1693,64 1694,64.1 1695,64.2 1696,64.3 1697,64.4 1698,64.5 1699,64.6 1700,64.7 1701,64.9 1702,65 1703,65.1 1704,65.2 1705,65.4 1706,65.5 1707,65.6 1708,65.8 1709,65.9 1710,66.1 1711,66.3 1712,66.4 1713,66.6 1714,66.8 1715,67 1716,67.2 1717,67.4 1718,67.6 1719,67.8 1720,68 1721,68.2 1722,68.5 1723,68.7 1724,69 1725,69.3 1726,69.5 1727,69.8 1728,70.2 1729,70.5 1730,70.8 1731,71.2 1732,71.5 1733,71.9 1734,72.3 1735,72.7 1736,73.2 1737,73.6 1738,74.1 1739,74.6 1740,75.2 1741,75.8 1742,76.4 1743,77 1744,77.7 1745,78.4 1746,79.1 1747,79.9 1748,80.7 1749,81.6 1750,82.6 1751,83.6 1752,84.6 1753,85.7 1754,86.9 1755,88.2 1756,89.5 1757,90.9 1758,92.4 1759,94 1760,95.7 1761,97.6 1762,99.5 1763,101.5 1764,103.7 1765,105.9 1766,108.3 1767,110.9 1768,113.6 1769,116.4 1770,119.4 1771,122.5 1772,125.7 1773,129.2 1774,132.7 1775,136.5 1776,140.3 1777,144.3 1778,148.5 1779,152.7 1780,157.1 1781,161.6 1782,166.2 1783,170.9 1784,175.6 1785,180.4 1786,185.2 1787,190 1788,194.8 1789,199.5 1790,204.2 1791,208.8 1792,213.2 1793,217.5 1794,221.6 1795,225.6 1796,229.3 1797,232.7 1798,235.9 1799,238.7 1800,241.2 1801,243.4 1802,245.3 1803,246.7 1804,247.8 1805,248.5 1806,248.7 1807,248.5 1808,247.5 1809,245.8 1810,243.4 1811,240.3 1812,236.6 1813,232.3 1814,227.6 1815,222.3 1816,216.7 1817,210.7 1818,204.6 1819,198.2 1820,191.7 1821,185.2 1822,178.6 1823,172.1 1824,165.8 1825,159.6 1826,153.5 1827,147.7 1828,142.1 1829,136.8 1830,131.8 1831,127 1832,122.5 1833,118.3 1834,114.3 1835,110.7 1836,107.2 1837,104.1 1838,101.1 1839,98.4 1840,95.9 1841,93.6 1842,91.5 1843,89.5 1844,87.7 1845,86.1 1846,84.5 1847,83.1 1848,81.8 1849,80.6 1850,79.5 1851,78.4 1852,77.5 1853,76.6 1854,75.8 1855,75 1856,74.3 1857,73.6 1858,73 1859,72.4 1860,71.8 1861,71.3 1862,70.8 1863,70.4 1864,69.9 1865,69.5 1866,69.1 1867,68.8 1868,68.4 1869,68.1 1870,67.8 1871,67.5 1872,67.2 1873,67 1874,66.7 1875,66.5 1876,66.2 1877,66 1878,65.8 1879,65.6 1880,65.4 1881,65.2 1882,65 1883,64.9 1884,64.7 1885,64.6 1886,64.4 1887,64.3 1888,64.1 1889,64 1890,63.9 1891,63.7 1892,63.6 1893,63.5 1894,63.4 1895,63.3 1896,63.2 1897,63.1 1898,63 1899,62.9 1900,62.8 1901,62.7 1902,62.6 1903,62.6 1904,62.5 1905,62.4 1906,62.3 1907,62.3 1908,62.2 1909,62.1 1910,62.1 1911,62 1912,61.9 1913,61.9 1914,61.8 1915,61.8 1916,61.7 1917,61.6 1918,61.6 1919,61.5 1920,61.5 1921,61.4 1922,61.4 1923,61.4 1924,61.3 1925,61.3 1926,61.2 1927,61.2 1928,61.1 1929,61.1 1930,61.1 1931,61 1932,61 1933,61 1934,60.9 1935,60.9 1936,60.9 1937,60.8 1938,60.8 1939,60.8 1940,60.7 1941,60.7 1942,60.7 1943,60.6 1944,60.6 1945,60.6 1946,60.6 1947,60.5 1948,60.5 1949,60.5 1950,60.5 1951,60.4 1952,60.4 1953,60.4 1954,60.4 1955,60.4 1956,60.3 1957,60.3 1958,60.3 1959,60.3 1960,60.2 1961,60.2 1962,60.2 1963,60.2 1964,60.2 1965,60.2 1966,60.1 1967,60.1 1968,60.1 1969,60.1 1970,60.1 1971,60.1 1972,60 1973,60 1974,60 1975,60 1976,60 1977,60 1978,60" stroke="#0000ff" stroke-width="5" fill="none" stroke-linejoin="round"/>
<path d="M273.9,497.8 274.9,497.8 275.9,497.8 276.9,497.9 277.9,497.9 278.9,497.9 279.9,497.9 280.9,497.9 281.9,497.9 282.9,497.9 283.9,497.9 284.9,497.9 285.9,498 286.9,498 287.9,498 288.9,498 289.9,498 290.9,498 291.9,498 292.9,498 293.9,498.1 294.9,498.1 295.9,498.1 296.9,498.1 297.9,498.1 298.9,498.1 299.9,498.1 300.9,498.2 301.9,498.2 302.9,498.2 303.9,498.2 304.9,498.2 305.9,498.2 306.9,498.2 307.9,498.3 308.9,498.3 309.9,498.3 310.9,498.3 311.9,498.3 312.9,498.3 313.9,498.4 314.9,498.4 315.9,498.4 316.9,498.4 317.9,498.4 318.9,498.4 319.9,498.5 320.9,498.5 321.9,498.5 322.9,498.5 323.9,498.5 324.9,498.6 325.9,498.6 326.9,498.6 327.9,498.6 328.9,498.7 329.9,498.7 330.9,498.7 331.9,498.7 332.9,498.8 333.9,498.8 334.9,498.8 335.9,498.8 336.9,498.9 337.9,498.9 338.9,498.9 339.9,498.9 340.9,499 341.9,499 342.9,499 343.9,499 344.9,499.1 345.9,499.1 346.9,499.1 347.9,499.2 348.9,499.2 349.9,499.2 350.9,499.3 351.9,499.3 352.9,499.3 353.9,499.4 354.9,499.4 355.9,499.5 356.9,499.5 357.9,499.5 358.9,499.6 359.9,499.6 360.9,499.7 361.9,499.7 362.9,499.8 363.9,499.8 364.9,499.8 365.9,499.9 366.9,499.9 367.9,500 368.9,500 369.9,500.1 370.9,500.2 371.9,500.2 372.9,500.3 373.9,500.3 374.9,500.4 375.9,500.4 376.9,500.5 377.9,500.6 378.9,500.6 379.9,500.7 380.9,500.8 381.9,500.8 382.9,500.9 383.9,501 384.9,501.1 385.9,501.2 386.9,501.2 387.9,501.3 388.9,501.4 389.9,501.5 390.9,501.6 391.9,501.7 392.9,501.8 393.9,501.9 394.9,502 395.9,502.1 396.9,502.2 397.9,502.4 398.9,502.5 399.9,502.6 400.9,502.7 401.9,502.9 402.9,503 403.9,503.1 404.9,503.3 405.9,503.5 406.9,503.6 407.9,503.8 408.9,504 409.9,504.1 410.9,504.3 411.9,504.5 412.9,504.7 413.9,504.9 414.9,505.2 415.9,505.4 416.9,505.6 417.9,505.9 418.9,506.1 419.9,506.4 420.9,506.7 421.9,507 422.9,507.3 423.9,507.7 424.9,508 425.9,508.4 426.9,508.8 427.9,509.2 428.9,509.6 429.9,510 430.9,510.5 431.9,511 432.9,511.6 433.9,512.1 434.9,512.7 435.9,513.4 436.9,514.1 437.9,514.8 438.9,515.5 439.9,516.4 440.9,517.3 441.9,518.2 442.9,519.2 443.9,520.3 444.9,521.5 445.9,522.7 446.9,524.1 447.9,525.6 448.9,527.2 449.9,528.9 450.9,530.8 451.9,532.9 452.9,535.1 453.9,537.5 454.9,540.2 455.9,543.1 456.9,546.3 457.9,549.7 458.9,553.5 459.9,557.6 460.9,562.1 461.9,567 462.9,572.2 463.9,577.9 464.9,584.1 465.9,590.6 466.9,597.6 467.9,605 468.9,612.8 469.9,620.9 470.9,629.4 471.9,638.1 472.9,646.9 473.9,655.8 474.9,664.7 475.9,673.4 476.9,681.8 477.9,689.7 478.9,697.2 479.9,703.9 480.9,709.8 481.9,714.8 482.9,718.8 483.9,721.6 484.9,723.3 485.9,723.7 486.9,723.2 487.9,721.7 488.9,719.4 489.9,716.2 490.9,712.3 491.9,707.6 492.9,702.3 493.9,696.4 494.9,690 495.9,683.1 496.9,676 497.9,668.6 498.9,661.1 499.9,653.5 500.9,645.8 501.9,638.3 502.9,630.8 503.9,623.5 504.9,616.5 505.9,609.7 506.9,603.2 507.9,596.9 508.9,591 509.9,585.4 510.9,580.2 511.9,575.2 512.9,570.6 513.9,566.3 514.9,562.3 515.9,558.6 516.9,555.1 517.9,551.9 518.9,548.9 519.9,546.2 520.9,543.6 521.9,541.3 522.9,539.1 523.9,537.1 524.9,535.2 525.9,533.5 526.9,531.9 527.9,530.4 528.9,529.1 529.9,527.8 530.9,526.6 531.9,525.5 532.9,524.5 533.9,523.6 534.9,522.7 535.9,521.9 536.9,521.1 537.9,520.4 538.9,519.8 539.9,519.2 540.9,518.6 541.9,518.1 542.9,517.6 543.9,517.1 544.9,516.7 545.9,516.3 546.9,515.9 547.9,515.6 548.9,515.3 549.9,515 550.9,514.8 551.9,514.6 552.9,514.4 553.9,514.2 554.9,514 555.9,513.9 556.9,513.8 557.9,513.7 558.9,513.6 559.9,513.5 560.9,513.5 561.9,513.5 562.9,513.5 563.9,513.6 564.9,513.6 565.9,513.7 566.9,513.8 567.9,513.9 568.9,514.1 569.9,514.3 570.9,514.5 571.9,514.7 572.9,515 573.9,515.3 574.9,515.7 575.9,516 576.9,516.5 577.9,517 578.9,517.5 579.9,518.1 580.9,518.7 581.9,519.4 582.9,520.1 583.9,521 584.9,521.9 585.9,522.9 586.9,524 587.9,525.1 588.9,526.4 589.9,527.8 590.9,529.3 591.9,531 592.9,532.7 593.9,534.7 594.9,536.7 595.9,539 596.9,541.4 597.9,544 598.9,546.8 599.9,549.7 600.9,552.9 601.9,556.3 602.9,559.9 603.9,563.8 604.9,567.9 605.9,572.2 606.9,576.7 607.9,581.5 608.9,586.6 609.9,591.9 610.9,597.4 611.9,603.1 612.9,609.1 613.9,615.3 614.9,621.7 615.9,628.2 616.9,635 617.9,641.9 618.9,648.9 619.9,656 620.9,663.1 621.9,670.4 622.9,677.6 623.9,684.8 624.9,692 625.9,699 626.9,706 627.9,712.7 628.9,719.3 629.9,725.6 630.9,731.7 631.9,737.4 632.9,742.8 633.9,747.8 634.9,752.3 635.9,756.5 636.9,760.1 637.9,763.3 638.9,765.9 639.9,768.1 640.9,769.6 641.9,770.7 642.9,771.1 643.9,771 644.9,770.4 645.9,769.2 646.9,767.5 647.9,765.3 648.9,762.6 649.9,759.4 650.9,755.7 651.9,751.7 652.9,747.2 653.9,742.4 654.9,737.3 655.9,731.9 656.9,726.2 657.9,720.4 658.9,714.3 659.9,708.2 660.9,701.9 661.9,695.5 662.9,689.1 663.9,682.7 664.9,676.4 665.9,670.1 666.9,663.9 667.9,657.7 668.9,651.7 669.9,645.9 670.9,640.2 671.9,634.7 672.9,629.3 673.9,624.2 674.9,619.2 675.9,614.5 676.9,609.9 677.9,605.6 678.9,601.5 679.9,597.6 680.9,593.9 681.9,590.3 682.9,587 683.9,583.8 684.9,580.9 685.9,578 686.9,575.4 687.9,572.9 688.9,570.5 689.9,568.3 690.9,566.2 691.9,564.2 692.9,562.3 693.9,560.5 694.9,558.7 695.9,557.1 696.9,555.6 697.9,554.1 698.9,552.6 699.9,551.3 700.9,549.9 701.9,548.6 702.9,547.4 703.9,546.2 704.9,545 705.9,543.9 706.9,542.8 707.9,541.7 708.9,540.6 709.9,539.6 710.9,538.6 711.9,537.6 712.9,536.6 713.9,535.6 714.9,534.7 715.9,533.8 716.9,532.9 717.9,532 718.9,531.1 719.9,530.3 720.9,529.5 721.9,528.7 722.9,528 723.9,527.2 724.9,526.5 725.9,525.9 726.9,525.3 727.9,524.7 728.9,524.1 729.9,523.6 730.9,523.1 731.9,522.7 732.9,522.3 733.9,522 734.9,521.7 735.9,521.4 736.9,521.2 737.9,521.1 738.9,521 739.9,520.9 740.9,520.9 741.9,520.9 742.9,521 743.9,521.1 744.9,521.2 745.9,521.4 746.9,521.6 747.9,521.8 748.9,522.1 749.9,522.3 750.9,522.6 751.9,522.9 752.9,523.2 753.9,523.4 754.9,523.7 755.9,523.9 756.9,524.1 757.9,524.3 758.9,524.5 759.9,524.6 760.9,524.6 761.9,524.7 762.9,524.6 763.9,524.6 764.9,524.4 765.9,524.2 766.9,524 767.9,523.7 768.9,523.4 769.9,523 770.9,522.5 771.9,522 772.9,521.5 773.9,520.9 774.9,520.3 775.9,519.6 776.9,519 777.9,518.3 778.9,517.6 779.9,516.9 780.9,516.1 781.9,515.4 782.9,514.7 783.9,514 784.9,513.3 785.9,512.6 786.9,511.9 787.9,511.3 788.9,510.7 789.9,510.1 790.9,509.5 791.9,509 792.9,508.5 793.9,508 794.9,507.5 795.9,507.1 796.9,506.7 797.9,506.4 798.9,506.1 799.9,505.8 800.9,505.5 801.9,505.3 802.9,505.1 803.9,504.9 804.9,504.7 805.9,504.6 806.9,504.5 807.9,504.4 808.9,504.4 809.9,504.3 810.9,504.3 811.9,504.3 812.9,504.3 813.9,504.3 814.9,504.4 815.9,504.5 816.9,504.6 817.9,504.7 818.9,504.9 819.9,505 820.9,505.2 821.9,505.4 822.9,505.7 823.9,506 824.9,506.3 825.9,506.6 826.9,507 827.9,507.4 828.9,507.9 829.9,508.4 830.9,508.9 831.9,509.5 832.9,510.1 833.9,510.8 834.9,511.5 835.9,512.2 836.9,513 837.9,513.8 838.9,514.6 839.9,515.5 840.9,516.4 841.9,517.3 842.9,518.2 843.9,519.2 844.9,520.2 845.9,521.1 846.9,522.1 847.9,523 848.9,523.9 849.9,524.8 850.9,525.6 851.9,526.4 852.9,527.2 853.9,527.9 854.9,528.5 855.9,529 856.9,529.5 857.9,529.8 858.9,530.1 859.9,530.3 860.9,530.4 861.9,530.4 862.9,530.3 863.9,530.1 864.9,529.8 865.9,529.5 866.9,529 867.9,528.5 868.9,527.9 869.9,527.2 870.9,526.5 871.9,525.7 872.9,524.9 873.9,524 874.9,523.1 875.9,522.2 876.9,521.2 877.9,520.3 878.9,519.4 879.9,518.4 880.9,517.5 881.9,516.6 882.9,515.7 883.9,514.9 884.9,514 885.9,513.2 886.9,512.5 887.9,511.8 888.9,511.1 889.9,510.4 890.9,509.9 891.9,509.3 892.9,508.8 893.9,508.3 894.9,507.9 895.9,507.4 896.9,507.1 897.9,506.7 898.9,506.4 899.9,506.1 900.9,505.9 901.9,505.7 902.9,505.5 903.9,505.3 904.9,505.1 905.9,505 906.9,504.8 907.9,504.7 908.9,504.6 909.9,504.5 910.9,504.4 911.9,504.4 912.9,504.3 913.9,504.2 914.9,504.2 915.9,504.1 916.9,504.1 917.9,504.1 918.9,504.1 919.9,504 920.9,504 921.9,504 922.9,504 923.9,504 924.9,504 925.9,504 926.9,504 927.9,504 928.9,504 929.9,504 930.9,504 931.9,504 932.9,504 933.9,504 934.9,504.1 935.9,504.1 936.9,504.1 937.9,504.1 938.9,504.1 939.9,504.2 940.9,504.2 941.9,504.2 942.9,504.2 943.9,504.3 944.9,504.3 945.9,504.3 946.9,504.4 947.9,504.4 948.9,504.4 949.9,504.5 950.9,504.5 951.9,504.6 952.9,504.6 953.9,504.6 954.9,504.7 955.9,504.7 956.9,504.8 957.9,504.8 958.9,504.9 959.9,504.9 960.9,505 961.9,505.1 962.9,505.1 963.9,505.2 964.9,505.3 965.9,505.3 966.9,505.4 967.9,505.5 968.9,505.5 969.9,505.6 970.9,505.7 971.9,505.8 972.9,505.9 973.9,506 974.9,506.1 975.9,506.2 976.9,506.3 977.9,506.4 978.9,506.5 979.9,506.6 980.9,506.8 981.9,506.9 982.9,507 983.9,507.2 984.9,507.3 985.9,507.5 986.9,507.7 987.9,507.8 988.9,508 989.9,508.2 990.9,508.4 991.9,508.6 992.9,508.9 993.9,509.1 994.9,509.4 995.9,509.6 996.9,509.9 997.9,510.3 998.9,510.6 999.9,511 1000.9,511.3 1001.9,511.8 1002.9,512.2 1003.9,512.7 1004.9,513.3 1005.9,513.8 1006.9,514.5 1007.9,515.2 1008.9,516 1009.9,516.8 1010.9,517.8 1011.9,518.8 1012.9,520 1013.9,521.3 1014.9,522.7 1015.9,524.3 1016.9,526 1017.9,528 1018.9,530.1 1019.9,532.4 1020.9,535 1021.9,537.8 1022.9,540.8 1023.9,544.1 1024.9,547.7 1025.9,551.5 1026.9,555.7 1027.9,560.1 1028.9,564.7 1029.9,569.7 1030.9,574.9 1031.9,580.4 1032.9,586.1 1033.9,592 1034.9,598.1 1035.9,604.1 1036.9,610.1 1037.9,615.8 1038.9,621 1039.9,625.5 1040.9,629 1041.9,631.3 1042.9,632.4 1043.9,632.2 1044.9,630.9 1045.9,628.8 1046.9,626.1 1047.9,623.1 1048.9,620 1049.9,617 1050.9,614.3 1051.9,611.9 1052.9,609.9 1053.9,608.4 1054.9,607.4 1055.9,606.9 1056.9,607.1 1057.9,607.7 1058.9,608.9 1059.9,610.7 1060.9,612.9 1061.9,615.6 1062.9,618.6 1063.9,622 1064.9,625.5 1065.9,629.1 1066.9,632.7 1067.9,636.2 1068.9,639.4 1069.9,642.2 1070.9,644.5 1071.9,646.2 1072.9,647.2 1073.9,647.4 1074.9,646.9 1075.9,645.5 1076.9,643.4 1077.9,640.5 1078.9,636.8 1079.9,632.6 1080.9,627.8 1081.9,622.5 1082.9,616.9 1083.9,611.1 1084.9,605.1 1085.9,599.1 1086.9,593.1 1087.9,587.2 1088.9,581.6 1089.9,576.1 1090.9,570.9 1091.9,566.1 1092.9,561.5 1093.9,557.2 1094.9,553.3 1095.9,549.7 1096.9,546.3 1097.9,543.3 1098.9,540.5 1099.9,537.9 1100.9,535.6 1101.9,533.5 1102.9,531.5 1103.9,529.7 1104.9,528.1 1105.9,526.6 1106.9,525.3 1107.9,524 1108.9,522.9 1109.9,521.8 1110.9,520.9 1111.9,520 1112.9,519.2 1113.9,518.4 1114.9,517.7 1115.9,517 1116.9,516.4 1117.9,515.9 1118.9,515.3 1119.9,514.8 1120.9,514.4 1121.9,514 1122.9,513.6 1123.9,513.2 1124.9,512.8 1125.9,512.5 1126.9,512.2 1127.9,511.9 1128.9,511.6 1129.9,511.4 1130.9,511.1 1131.9,510.9 1132.9,510.7 1133.9,510.5 1134.9,510.3 1135.9,510.1 1136.9,510 1137.9,509.8 1138.9,509.7 1139.9,509.6 1140.9,509.4 1141.9,509.3 1142.9,509.2 1143.9,509.1 1144.9,509 1145.9,508.9 1146.9,508.9 1147.9,508.8 1148.9,508.7 1149.9,508.7 1150.9,508.6 1151.9,508.6 1152.9,508.5 1153.9,508.5 1154.9,508.5 1155.9,508.5 1156.9,508.5 1157.9,508.5 1158.9,508.5 1159.9,508.5 1160.9,508.5 1161.9,508.5 1162.9,508.5 1163.9,508.6 1164.9,508.6 1165.9,508.6 1166.9,508.7 1167.9,508.8 1168.9,508.8 1169.9,508.9 1170.9,509 1171.9,509.1 1172.9,509.2 1173.9,509.3 1174.9,509.4 1175.9,509.6 1176.9,509.7 1177.9,509.9 1178.9,510.1 1179.9,510.3 1180.9,510.5 1181.9,510.7 1182.9,511 1183.9,511.3 1184.9,511.6 1185.9,511.9 1186.9,512.3 1187.9,512.7 1188.9,513.1 1189.9,513.6 1190.9,514.1 1191.9,514.7 1192.9,515.4 1193.9,516.1 1194.9,517 1195.9,517.9 1196.9,518.9 1197.9,520.1 1198.9,521.4 1199.9,522.9 1200.9,524.5 1201.9,526.3 1202.9,528.4 1203.9,530.7 1204.9,533.2 1205.9,536 1206.9,539.1 1207.9,542.6 1208.9,546.4 1209.9,550.5 1210.9,554.9 1211.9,559.7 1212.9,564.9 1213.9,570.4 1214.9,576.3 1215.9,582.4 1216.9,588.8 1217.9,595.5 1218.9,602.4 1219.9,609.4 1220.9,616.5 1221.9,623.6 1222.9,630.6 1223.9,637.6 1224.9,644.4 1225.9,650.9 1226.9,657.1 1227.9,663 1228.9,668.4 1229.9,673.4 1230.9,677.8 1231.9,681.8 1232.9,685.2 1233.9,688.2 1234.9,690.6 1235.9,692.5 1236.9,694 1237.9,695.1 1238.9,695.8 1239.9,696.2 1240.9,696.3 1241.9,696 1242.9,695.4 1243.9,694.3 1244.9,692.4 1245.9,689.6 1246.9,685.7 1247.9,680.5 1248.9,674 1249.9,666.4 1250.9,657.9 1251.9,648.8 1252.9,639.6 1253.9,630.3 1254.9,621.3 1255.9,612.6 1256.9,604.3 1257.9,596.5 1258.9,589.2 1259.9,582.4 1260.9,576.1 1261.9,570.2 1262.9,564.8 1263.9,559.8 1264.9,555.2 1265.9,551 1266.9,547.1 1267.9,543.6 1268.9,540.4 1269.9,537.5 1270.9,534.9 1271.9,532.5 1272.9,530.3 1273.9,528.3 1274.9,526.5 1275.9,524.9 1276.9,523.4 1277.9,522.1 1278.9,520.9 1279.9,519.8 1280.9,518.7 1281.9,517.8 1282.9,517 1283.9,516.2 1284.9,515.5 1285.9,514.8 1286.9,514.2 1287.9,513.6 1288.9,513.1 1289.9,512.6 1290.9,512.1 1291.9,511.7 1292.9,511.3 1293.9,510.9 1294.9,510.6 1295.9,510.2 1296.9,509.9 1297.9,509.6 1298.9,509.4 1299.9,509.1 1300.9,508.9 1301.9,508.6 1302.9,508.4 1303.9,508.2 1304.9,508 1305.9,507.8 1306.9,507.7 1307.9,507.5 1308.9,507.3 1309.9,507.2 1310.9,507 1311.9,506.9 1312.9,506.8 1313.9,506.7 1314.9,506.5 1315.9,506.4 1316.9,506.3 1317.9,506.2 1318.9,506.1 1319.9,506 1320.9,505.9 1321.9,505.8 1322.9,505.8 1323.9,505.7 1324.9,505.6 1325.9,505.5 1326.9,505.5 1327.9,505.4 1328.9,505.3 1329.9,505.3 1330.9,505.2 1331.9,505.1 1332.9,505.1 1333.9,505 1334.9,505 1335.9,504.9 1336.9,504.9 1337.9,504.9 1338.9,504.8 1339.9,504.8 1340.9,504.7 1341.9,504.7 1342.9,504.7 1343.9,504.6 1344.9,504.6 1345.9,504.6 1346.9,504.5 1347.9,504.5 1348.9,504.5 1349.9,504.5 1350.9,504.4 1351.9,504.4 1352.9,504.4 1353.9,504.4 1354.9,504.4 1355.9,504.4 1356.9,504.3 1357.9,504.3 1358.9,504.3 1359.9,504.3 1360.9,504.3 1361.9,504.3 1362.9,504.3 1363.9,504.3 1364.9,504.3 1365.9,504.3 1366.9,504.3 1367.9,504.3 1368.9,504.3 1369.9,504.3 1370.9,504.3 1371.9,504.3 1372.9,504.3 1373.9,504.3 1374.9,504.3 1375.9,504.3 1376.9,504.4 1377.9,504.4 1378.9,504.4 1379.9,504.4 1380.9,504.4 1381.9,504.5 1382.9,504.5 1383.9,504.5 1384.9,504.5 1385.9,504.6 1386.9,504.6 1387.9,504.7 1388.9,504.7 1389.9,504.8 1390.9,504.8 1391.9,504.9 1392.9,504.9 1393.9,505 1394.9,505 1395.9,505.1 1396.9,505.2 1397.9,505.3 1398.9,505.4 1399.9,505.5 1400.9,505.6 1401.9,505.7 1402.9,505.8 1403.9,505.9 1404.9,506.1 1405.9,506.2 1406.9,506.4 1407.9,506.6 1408.9,506.7 1409.9,507 1410.9,507.2 1411.9,507.4 1412.9,507.7 1413.9,508 1414.9,508.3 1415.9,508.6 1416.9,509 1417.9,509.4 1418.9,509.8 1419.9,510.3 1420.9,510.9 1421.9,511.4 1422.9,512.1 1423.9,512.7 1424.9,513.5 1425.9,514.3 1426.9,515.1 1427.9,516.1 1428.9,517 1429.9,518.1 1430.9,519.2 1431.9,520.3 1432.9,521.5 1433.9,522.6 1434.9,523.8 1435.9,525 1436.9,526.2 1437.9,527.2 1438.9,528.2 1439.9,529.2 1440.9,529.9 1441.9,530.6 1442.9,531.1 1443.9,531.4 1444.9,531.5 1445.9,531.5 1446.9,531.3 1447.9,530.9 1448.9,530.3 1449.9,529.6 1450.9,528.7 1451.9,527.8 1452.9,526.7 1453.9,525.6 1454.9,524.5 1455.9,523.3 1456.9,522.1 1457.9,520.9 1458.9,519.8 1459.9,518.7 1460.9,517.6 1461.9,516.6 1462.9,515.6 1463.9,514.8 1464.9,513.9 1465.9,513.2 1466.9,512.5 1467.9,511.8 1468.9,511.2 1469.9,510.7 1470.9,510.2 1471.9,509.7 1472.9,509.3 1473.9,508.9 1474.9,508.5 1475.9,508.2 1476.9,507.9 1477.9,507.6 1478.9,507.4 1479.9,507.2 1480.9,507 1481.9,506.8 1482.9,506.6 1483.9,506.4 1484.9,506.3 1485.9,506.1 1486.9,506 1487.9,505.9 1488.9,505.8 1489.9,505.7 1490.9,505.6 1491.9,505.5 1492.9,505.5 1493.9,505.4 1494.9,505.4 1495.9,505.4 1496.9,505.3 1497.9,505.4 1498.9,505.4 1499.9,505.5 1500.9,505.6 1501.9,505.8 1502.9,506 1503.9,506.3 1504.9,506.7 1505.9,507.1 1506.9,507.7 1507.9,508.3 1508.9,509.1 1509.9,510 1510.9,510.9 1511.9,512 1512.9,513.2 1513.9,514.4 1514.9,515.7 1515.9,517.1 1516.9,518.4 1517.9,519.7 1518.9,520.9 1519.9,522 1520.9,523 1521.9,523.9 1522.9,524.6 1523.9,525.2 1524.9,525.5 1525.9,525.2 1526.9,524.7 1527.9,524 1528.9,523.2 1529.9,522.2 1530.9,521.2 1531.9,520 1532.9,518.7 1533.9,517.5 1534.9,516.2 1535.9,514.9 1536.9,513.7 1537.9,512.6 1538.9,511.6 1539.9,510.7 1540.9,509.9 1541.9,509.3 1542.9,508.7 1543.9,508.3 1544.9,507.9 1545.9,507.7 1546.9,507.5 1547.9,507.4 1548.9,507.4 1549.9,507.5 1550.9,507.6 1551.9,507.8 1552.9,508 1553.9,508.2 1554.9,508.5 1555.9,508.9 1556.9,509.2 1557.9,509.7 1558.9,510.1 1559.9,510.6 1560.9,511.1 1561.9,511.7 1562.9,512.3 1563.9,512.9 1564.9,513.6 1565.9,514.4 1566.9,515.2 1567.9,516 1568.9,516.9 1569.9,517.8 1570.9,518.8 1571.9,519.8 1572.9,520.9 1573.9,522 1574.9,523.2 1575.9,524.4 1576.9,525.6 1577.9,526.9 1578.9,528.3 1579.9,529.6 1580.9,531.1 1581.9,532.5 1582.9,534 1583.9,535.5 1584.9,537 1585.9,538.5 1586.9,540.1 1587.9,541.6 1588.9,543.2 1589.9,544.8 1590.9,546.4 1591.9,547.9 1592.9,549.5 1593.9,551 1594.9,552.6 1595.9,554.1 1596.9,555.6 1597.9,557.1 1598.9,558.5 1599.9,560 1600.9,561.4 1601.9,562.8 1602.9,564.2 1603.9,565.6 1604.9,567 1605.9,568.4 1606.9,569.8 1607.9,571.2 1608.9,572.6 1609.9,574.1 1610.9,575.6 1611.9,577.1 1612.9,578.8 1613.9,580.5 1614.9,582.3 1615.9,584.2 1616.9,586.2 1617.9,588.4 1618.9,590.7 1619.9,593.1 1620.9,595.8 1621.9,598.6 1622.9,601.6 1623.9,604.7 1624.9,608.1 1625.9,611.7 1626.9,615.6 1627.9,619.6 1628.9,623.9 1629.9,628.4 1630.9,633.1 1631.9,638 1632.9,643.1 1633.9,648.4 1634.9,653.9 1635.9,659.6 1636.9,665.4 1637.9,671.3 1638.9,677.3 1639.9,683.4 1640.9,689.6 1641.9,695.8 1642.9,701.9 1643.9,708 1644.9,714 1645.9,719.9 1646.9,725.7 1647.9,731.2 1648.9,736.6 1649.9,741.6 1650.9,746.4 1651.9,750.9 1652.9,754.9 1653.9,758.6 1654.9,761.9 1655.9,764.7 1656.9,767.1 1657.9,769 1658.9,770.4 1659.9,771.2 1660.9,771.6 1661.9,771.4 1662.9,770.7 1663.9,769.4 1664.9,767.7 1665.9,765.4 1666.9,762.6 1667.9,759.4 1668.9,755.6 1669.9,751.4 1670.9,746.9 1671.9,741.9 1672.9,736.5 1673.9,730.9 1674.9,724.9 1675.9,718.7 1676.9,712.2 1677.9,705.5 1678.9,698.7 1679.9,691.8 1680.9,684.8 1681.9,677.7 1682.9,670.6 1683.9,663.5 1684.9,656.4 1685.9,649.4 1686.9,642.5 1687.9,635.7 1688.9,629 1689.9,622.5 1690.9,616.2 1691.9,610 1692.9,604.1 1693.9,598.4 1694.9,592.8 1695.9,587.5 1696.9,582.5 1697.9,577.7 1698.9,573.1 1699.9,568.7 1700.9,564.6 1701.9,560.7 1702.9,557.1 1703.9,553.6 1704.9,550.4 1705.9,547.4 1706.9,544.6 1707.9,542 1708.9,539.5 1709.9,537.3 1710.9,535.2 1711.9,533.3 1712.9,531.5 1713.9,529.9 1714.9,528.4 1715.9,527.1 1716.9,525.9 1717.9,524.7 1718.9,523.7 1719.9,522.8 1720.9,522 1721.9,521.2 1722.9,520.6 1723.9,520 1724.9,519.5 1725.9,519 1726.9,518.6 1727.9,518.3 1728.9,518 1729.9,517.8 1730.9,517.6 1731.9,517.5 1732.9,517.4 1733.9,517.3 1734.9,517.3 1735.9,517.3 1736.9,517.4 1737.9,517.5 1738.9,517.6 1739.9,517.8 1740.9,518 1741.9,518.3 1742.9,518.6 1743.9,518.9 1744.9,519.2 1745.9,519.6 1746.9,520.1 1747.9,520.6 1748.9,521.1 1749.9,521.7 1750.9,522.3 1751.9,523 1752.9,523.7 1753.9,524.5 1754.9,525.4 1755.9,526.3 1756.9,527.3 1757.9,528.4 1758.9,529.5 1759.9,530.8 1760.9,532.1 1761.9,533.6 1762.9,535.2 1763.9,536.9 1764.9,538.8 1765.9,540.8 1766.9,542.9 1767.9,545.3 1768.9,547.8 1769.9,550.5 1770.9,553.4 1771.9,556.6 1772.9,560 1773.9,563.7 1774.9,567.6 1775.9,571.8 1776.9,576.3 1777.9,581.2 1778.9,586.3 1779.9,591.7 1780.9,597.4 1781.9,603.4 1782.9,609.7 1783.9,616.3 1784.9,623.1 1785.9,630.1 1786.9,637.2 1787.9,644.5 1788.9,651.8 1789.9,659.2 1790.9,666.4 1791.9,673.5 1792.9,680.4 1793.9,687 1794.9,693.2 1795.9,699 1796.9,704.2 1797.9,708.8 1798.9,712.8 1799.9,716 1800.9,718.4 1801.9,720.1 1802.9,720.8 1803.9,720.7 1804.9,719.2 1805.9,716.4 1806.9,712.3 1807.9,707 1808.9,700.7 1809.9,693.5 1810.9,685.5 1811.9,677 1812.9,668 1813.9,658.7 1814.9,649.3 1815.9,640 1816.9,630.7 1817.9,621.7 1818.9,613.1 1819.9,604.8 1820.9,597 1821.9,589.6 1822.9,582.7 1823.9,576.3 1824.9,570.4 1825.9,565 1826.9,560 1827.9,555.4 1828.9,551.3 1829.9,547.5 1830.9,544 1831.9,540.9 1832.9,538 1833.9,535.4 1834.9,533 1835.9,530.8 1836.9,528.8 1837.9,527 1838.9,525.3 1839.9,523.8 1840.9,522.4 1841.9,521.1 1842.9,519.8 1843.9,518.7 1844.9,517.7 1845.9,516.7 1846.9,515.8 1847.9,515 1848.9,514.2 1849.9,513.5 1850.9,512.8 1851.9,512.2 1852.9,511.6 1853.9,511 1854.9,510.5 1855.9,510 1856.9,509.5 1857.9,509 1858.9,508.6 1859.9,508.2 1860.9,507.8 1861.9,507.5 1862.9,507.1 1863.9,506.8 1864.9,506.5 1865.9,506.2 1866.9,505.9 1867.9,505.7 1868.9,505.4 1869.9,505.2 1870.9,504.9 1871.9,504.7 1872.9,504.5 1873.9,504.3 1874.9,504.1 1875.9,503.9 1876.9,503.7 1877.9,503.5 1878.9,503.4 1879.9,503.2 1880.9,503 1881.9,502.9 1882.9,502.7 1883.9,502.6 1884.9,502.5 1885.9,502.3 1886.9,502.2 1887.9,502.1 1888.9,502 1889.9,501.9 1890.9,501.8 1891.9,501.7 1892.9,501.6 1893.9,501.5 1894.9,501.4 1895.9,501.3 1896.9,501.2 1897.9,501.1 1898.9,501 1899.9,500.9 1900.9,500.8 1901.9,500.8 1902.9,500.7 1903.9,500.6 1904.9,500.5 1905.9,500.5 1906.9,500.4 1907.9,500.3 1908.9,500.3 1909.9,500.2 1910.9,500.2 1911.9,500.1 1912.9,500 1913.9,500 1914.9,499.9 1915.9,499.9 1916.9,499.8 1917.9,499.8 1918.9,499.7 1919.9,499.7 1920.9,499.6 1921.9,499.6 1922.9,499.5 1923.9,499.5 1924.9,499.5 1925.9,499.4 1926.9,499.4 1927.9,499.3 1928.9,499.3 1929.9,499.3 1930.9,499.2 1931.9,499.2 1932.9,499.2 1933.9,499.1 1934.9,499.1 1935.9,499.1 1936.9,499 1937.9,499 1938.9,499 1939.9,498.9 1940.9,498.9 1941.9,498.9 1942.9,498.8 1943.9,498.8 1944.9,498.8 1945.9,498.8 1946.9,498.7 1947.9,498.7 1948.9,498.7 1949.9,498.7 1950.9,498.6 1951.9,498.6 1952.9,498.6 1953.9,498.6 1954.9,498.5 1955.9,498.5 1956.9,498.5 1957.9,498.5 1958.9,498.5 1959.9,498.4 1960.9,498.4 1961.9,498.4 1962.9,498.4 1963.9,498.4 1964.9,498.3 1965.9,498.3 1966.9,498.3 1967.9,498.3 1968.9,498.3 1969.9,498.2 1970.9,498.2 1971.9,498.2 1972.9,498.2 1973.9,498.2 1974.9,498.2 1975.9,498.1 1976.9,498.1 1977.9,498.1 1978,498.1" stroke="#ff0000" stroke-width="6" fill="none" stroke-linejoin="round"/>
<path d="M270,491.2h7.8v7.8h-7.8zM273.3,490.4h7.8v7.8h-7.8zM276.7,498.1h7.8v7.8h-7.8zM280,495h7.8v7.8h-7.8zM283.3,496.8h7.8v7.8h-7.8zM286.7,493.8h7.8v7.8h-7.8zM290,498.2h7.8v7.8h-7.8zM293.3,495h7.8v7.8h-7.8zM296.7,494.6h7.8v7.8h-7.8zM300,491.8h7.8v7.8h-7.8zM303.3,494.1h7.8v7.8h-7.8zM306.7,496.4h7.8v7.8h-7.8zM310,501.2h7.8v7.8h-7.8zM313.4,486.2h7.8v7.8h-7.8zM316.7,493.3h7.8v7.8h-7.8zM320,496.1h7.8v7.8h-7.8zM323.4,493.7h7.8v7.8h-7.8zM326.7,500.4h7.8v7.8h-7.8zM330,499h7.8v7.8h-7.8zM333.4,496.3h7.8v7.8h-7.8zM336.7,496.5h7.8v7.8h-7.8zM340,495.5h7.8v7.8h-7.8zM343.4,490.5h7.8v7.8h-7.8zM346.7,493.3h7.8v7.8h-7.8zM350,497.2h7.8v7.8h-7.8zM353.4,490.7h7.8v7.8h-7.8zM356.7,494.9h7.8v7.8h-7.8zM360,497.5h7.8v7.8h-7.8zM363.4,493.4h7.8v7.8h-7.8zM366.7,496.5h7.8v7.8h-7.8zM370,497.5h7.8v7.8h-7.8zM373.4,500h7.8v7.8h-7.8zM376.7,494.9h7.8v7.8h-7.8zM380,492.9h7.8v7.8h-7.8zM383.4,499h7.8v7.8h-7.8zM386.7,499.2h7.8v7.8h-7.8zM390.1,495.2h7.8v7.8h-7.8zM393.4,504.9h7.8v7.8h-7.8zM396.7,498.7h7.8v7.8h-7.8zM400.1,504.2h7.8v7.8h-7.8zM403.4,499.4h7.8v7.8h-7.8zM406.7,500.8h7.8v7.8h-7.8zM410.1,498.1h7.8v7.8h-7.8zM413.4,499.5h7.8v7.8h-7.8zM416.7,502.7h7.8v7.8h-7.8zM420.1,501.2h7.8v7.8h-7.8zM423.4,512.2h7.8v7.8h-7.8zM426.7,504.1h7.8v7.8h-7.8zM430.1,512.4h7.8v7.8h-7.8zM433.4,514.9h7.8v7.8h-7.8zM436.7,511.8h7.8v7.8h-7.8zM440.1,524.9h7.8v7.8h-7.8zM443.4,517.5h7.8v7.8h-7.8zM446.7,529.1h7.8v7.8h-7.8zM450.1,529.6h7.8v7.8h-7.8zM453.4,545.4h7.8v7.8h-7.8zM456.8,558.5h7.8v7.8h-7.8zM460.1,578.7h7.8v7.8h-7.8zM463.4,600h7.8v7.8h-7.8zM466.8,633.1h7.8v7.8h-7.8zM470.1,658.8h7.8v7.8h-7.8zM473.4,681.9h7.8v7.8h-7.8zM476.8,719.7h7.8v7.8h-7.8zM480.1,716.6h7.8v7.8h-7.8zM483.4,727.7h7.8v7.8h-7.8zM486.8,716.7h7.8v7.8h-7.8zM490.1,703.1h7.8v7.8h-7.8zM493.4,667.6h7.8v7.8h-7.8zM496.8,652.1h7.8v7.8h-7.8zM500.1,622.3h7.8v7.8h-7.8zM503.4,604.8h7.8v7.8h-7.8zM506.8,581.3h7.8v7.8h-7.8zM510.1,557.9h7.8v7.8h-7.8zM513.4,558.1h7.8v7.8h-7.8zM516.8,543h7.8v7.8h-7.8zM520.1,530.3h7.8v7.8h-7.8zM523.4,534.9h7.8v7.8h-7.8zM526.8,519.8h7.8v7.8h-7.8zM530.1,518.2h7.8v7.8h-7.8zM533.5,515.4h7.8v7.8h-7.8zM536.8,521.9h7.8v7.8h-7.8zM540.1,511.2h7.8v7.8h-7.8zM543.5,514.5h7.8v7.8h-7.8zM546.8,512.1h7.8v7.8h-7.8zM550.1,512.3h7.8v7.8h-7.8zM553.5,510.1h7.8v7.8h-7.8zM556.8,515.7h7.8v7.8h-7.8zM560.1,512.2h7.8v7.8h-7.8zM563.5,508.7h7.8v7.8h-7.8zM566.8,513.3h7.8v7.8h-7.8zM570.1,514.8h7.8v7.8h-7.8zM573.5,508.1h7.8v7.8h-7.8zM576.8,516.1h7.8v7.8h-7.8zM580.1,524.9h7.8v7.8h-7.8zM583.5,523.1h7.8v7.8h-7.8zM586.8,526.3h7.8v7.8h-7.8zM590.1,536.6h7.8v7.8h-7.8zM593.5,535.5h7.8v7.8h-7.8zM596.8,552h7.8v7.8h-7.8zM600.1,555.2h7.8v7.8h-7.8zM603.5,577.9h7.8v7.8h-7.8zM606.8,596.1h7.8v7.8h-7.8zM610.2,619.2h7.8v7.8h-7.8zM613.5,631.3h7.8v7.8h-7.8zM616.8,663.6h7.8v7.8h-7.8zM620.2,693h7.8v7.8h-7.8zM623.5,716.6h7.8v7.8h-7.8zM626.8,734.3h7.8v7.8h-7.8zM630.2,758h7.8v7.8h-7.8zM633.5,766.5h7.8v7.8h-7.8zM636.8,780.3h7.8v7.8h-7.8zM640.2,768.7h7.8v7.8h-7.8zM643.5,769.8h7.8v7.8h-7.8zM646.8,766.3h7.8v7.8h-7.8zM650.2,739.7h7.8v7.8h-7.8zM653.5,720.7h7.8v7.8h-7.8zM656.8,706h7.8v7.8h-7.8zM660.2,679.6h7.8v7.8h-7.8zM663.5,665.7h7.8v7.8h-7.8zM666.8,646.6h7.8v7.8h-7.8zM670.2,615.4h7.8v7.8h-7.8zM673.5,606.5h7.8v7.8h-7.8zM676.8,594.2h7.8v7.8h-7.8zM680.2,586.5h7.8v7.8h-7.8zM683.5,573.1h7.8v7.8h-7.8zM686.9,572.1h7.8v7.8h-7.8zM690.2,562.5h7.8v7.8h-7.8zM693.5,553h7.8v7.8h-7.8zM696.9,549.8h7.8v7.8h-7.8zM700.2,540.8h7.8v7.8h-7.8zM703.5,541.3h7.8v7.8h-7.8zM706.9,540.8h7.8v7.8h-7.8zM710.2,531.2h7.8v7.8h-7.8zM713.5,532.1h7.8v7.8h-7.8zM716.9,528h7.8v7.8h-7.8zM720.2,526.2h7.8v7.8h-7.8zM723.5,525.7h7.8v7.8h-7.8zM726.9,518.7h7.8v7.8h-7.8zM730.2,521.9h7.8v7.8h-7.8zM733.5,518.9h7.8v7.8h-7.8zM736.9,516.4h7.8v7.8h-7.8zM740.2,515.1h7.8v7.8h-7.8zM743.5,519.9h7.8v7.8h-7.8zM746.9,526.5h7.8v7.8h-7.8zM750.2,517.9h7.8v7.8h-7.8zM753.6,525.8h7.8v7.8h-7.8zM756.9,517h7.8v7.8h-7.8zM760.2,518h7.8v7.8h-7.8zM763.6,524.5h7.8v7.8h-7.8zM766.9,519.5h7.8v7.8h-7.8zM770.2,515.9h7.8v7.8h-7.8zM773.6,515.8h7.8v7.8h-7.8zM776.9,508.9h7.8v7.8h-7.8zM780.2,513.6h7.8v7.8h-7.8zM783.6,510.6h7.8v7.8h-7.8zM786.9,507.4h7.8v7.8h-7.8zM790.2,498.2h7.8v7.8h-7.8zM793.6,501h7.8v7.8h-7.8zM796.9,505.4h7.8v7.8h-7.8zM800.2,497.8h7.8v7.8h-7.8zM803.6,499.8h7.8v7.8h-7.8zM806.9,500h7.8v7.8h-7.8zM810.2,498.2h7.8v7.8h-7.8zM813.6,497.4h7.8v7.8h-7.8zM816.9,506.8h7.8v7.8h-7.8zM820.2,502.7h7.8v7.8h-7.8zM823.6,507h7.8v7.8h-7.8zM826.9,504.1h7.8v7.8h-7.8zM830.3,510.1h7.8v7.8h-7.8zM833.6,514.3h7.8v7.8h-7.8zM836.9,514h7.8v7.8h-7.8zM840.3,518.9h7.8v7.8h-7.8zM843.6,520.8h7.8v7.8h-7.8zM846.9,523.1h7.8v7.8h-7.8zM850.3,531.5h7.8v7.8h-7.8zM853.6,524h7.8v7.8h-7.8zM856.9,524.3h7.8v7.8h-7.8zM860.3,524.7h7.8v7.8h-7.8zM863.6,519.7h7.8v7.8h-7.8zM866.9,530.8h7.8v7.8h-7.8zM870.3,525.6h7.8v7.8h-7.8zM873.6,513.7h7.8v7.8h-7.8zM876.9,520.9h7.8v7.8h-7.8zM880.3,512.3h7.8v7.8h-7.8zM883.6,510.3h7.8v7.8h-7.8zM886.9,501.2h7.8v7.8h-7.8zM890.3,499.2h7.8v7.8h-7.8zM893.6,507h7.8v7.8h-7.8zM896.9,503.6h7.8v7.8h-7.8zM900.3,497.8h7.8v7.8h-7.8zM903.6,499.2h7.8v7.8h-7.8zM907,496.4h7.8v7.8h-7.8zM910.3,504.6h7.8v7.8h-7.8zM913.6,503.7h7.8v7.8h-7.8zM917,504.5h7.8v7.8h-7.8zM920.3,496.4h7.8v7.8h-7.8zM923.6,500.4h7.8v7.8h-7.8zM927,497.7h7.8v7.8h-7.8zM930.3,505h7.8v7.8h-7.8zM933.6,506.2h7.8v7.8h-7.8zM937,501.1h7.8v7.8h-7.8zM940.3,505.1h7.8v7.8h-7.8zM943.6,507.6h7.8v7.8h-7.8zM947,504.4h7.8v7.8h-7.8zM950.3,501.2h7.8v7.8h-7.8zM953.6,499.3h7.8v7.8h-7.8zM957,501.9h7.8v7.8h-7.8zM960.3,502.8h7.8v7.8h-7.8zM963.6,498.2h7.8v7.8h-7.8zM967,503.8h7.8v7.8h-7.8zM970.3,502.5h7.8v7.8h-7.8zM973.6,509.2h7.8v7.8h-7.8zM977,505.7h7.8v7.8h-7.8zM980.3,505.1h7.8v7.8h-7.8zM983.7,508h7.8v7.8h-7.8zM987,504.9h7.8v7.8h-7.8zM990.3,510.5h7.8v7.8h-7.8zM993.7,504.1h7.8v7.8h-7.8zM997,502.9h7.8v7.8h-7.8zM1000.3,503.2h7.8v7.8h-7.8zM1003.7,509h7.8v7.8h-7.8zM1007,515.1h7.8v7.8h-7.8zM1010.3,508.3h7.8v7.8h-7.8zM1013.7,522h7.8v7.8h-7.8zM1017,534.4h7.8v7.8h-7.8zM1020.3,546.2h7.8v7.8h-7.8zM1023.7,550.1h7.8v7.8h-7.8zM1027,578.4h7.8v7.8h-7.8zM1030.3,592.2h7.8v7.8h-7.8zM1033.7,618.4h7.8v7.8h-7.8zM1037,624.2h7.8v7.8h-7.8zM1040.3,630.1h7.8v7.8h-7.8zM1043.7,619.7h7.8v7.8h-7.8zM1047,618.1h7.8v7.8h-7.8zM1050.4,611h7.8v7.8h-7.8zM1053.7,608.3h7.8v7.8h-7.8zM1057,621.3h7.8v7.8h-7.8zM1060.4,614.7h7.8v7.8h-7.8zM1063.7,635.1h7.8v7.8h-7.8zM1067,642.2h7.8v7.8h-7.8zM1070.4,651h7.8v7.8h-7.8zM1073.7,642.9h7.8v7.8h-7.8zM1077,630.3h7.8v7.8h-7.8zM1080.4,608.8h7.8v7.8h-7.8zM1083.7,581h7.8v7.8h-7.8zM1087,569.5h7.8v7.8h-7.8zM1090.4,553.2h7.8v7.8h-7.8zM1093.7,543.1h7.8v7.8h-7.8zM1097,533.7h7.8v7.8h-7.8zM1100.4,531.4h7.8v7.8h-7.8zM1103.7,518.6h7.8v7.8h-7.8zM1107,509h7.8v7.8h-7.8zM1110.4,520.5h7.8v7.8h-7.8zM1113.7,518h7.8v7.8h-7.8zM1117,513.3h7.8v7.8h-7.8zM1120.4,515.1h7.8v7.8h-7.8zM1123.7,507.6h7.8v7.8h-7.8zM1127.1,512.4h7.8v7.8h-7.8zM1130.4,504.3h7.8v7.8h-7.8zM1133.7,501.6h7.8v7.8h-7.8zM1137.1,504.9h7.8v7.8h-7.8zM1140.4,512.1h7.8v7.8h-7.8zM1143.7,508.3h7.8v7.8h-7.8zM1147.1,506.6h7.8v7.8h-7.8zM1150.4,513.9h7.8v7.8h-7.8zM1153.7,507.4h7.8v7.8h-7.8zM1157.1,504.8h7.8v7.8h-7.8zM1160.4,507.7h7.8v7.8h-7.8zM1163.7,507.3h7.8v7.8h-7.8zM1167.1,508.7h7.8v7.8h-7.8zM1170.4,508.2h7.8v7.8h-7.8zM1173.7,506.7h7.8v7.8h-7.8zM1177.1,507.1h7.8v7.8h-7.8zM1180.4,503.7h7.8v7.8h-7.8zM1183.7,509.3h7.8v7.8h-7.8zM1187.1,509.6h7.8v7.8h-7.8zM1190.4,518.1h7.8v7.8h-7.8zM1193.7,515.3h7.8v7.8h-7.8zM1197.1,516.9h7.8v7.8h-7.8zM1200.4,518.7h7.8v7.8h-7.8zM1203.8,541.2h7.8v7.8h-7.8zM1207.1,551.9h7.8v7.8h-7.8zM1210.4,573.1h7.8v7.8h-7.8zM1213.8,591.5h7.8v7.8h-7.8zM1217.1,609.2h7.8v7.8h-7.8zM1220.4,641.7h7.8v7.8h-7.8zM1223.8,665h7.8v7.8h-7.8zM1227.1,686h7.8v7.8h-7.8zM1230.4,695.5h7.8v7.8h-7.8zM1233.8,700.1h7.8v7.8h-7.8zM1237.1,707.3h7.8v7.8h-7.8zM1240.4,692.2h7.8v7.8h-7.8zM1243.8,684.9h7.8v7.8h-7.8zM1247.1,658.4h7.8v7.8h-7.8zM1250.4,621.3h7.8v7.8h-7.8zM1253.8,597.6h7.8v7.8h-7.8zM1257.1,576.3h7.8v7.8h-7.8zM1260.4,555.4h7.8v7.8h-7.8zM1263.8,538.6h7.8v7.8h-7.8zM1267.1,530.2h7.8v7.8h-7.8zM1270.5,517.9h7.8v7.8h-7.8zM1273.8,520.6h7.8v7.8h-7.8zM1277.1,511.2h7.8v7.8h-7.8zM1280.5,503.8h7.8v7.8h-7.8zM1283.8,506.2h7.8v7.8h-7.8zM1287.1,509.5h7.8v7.8h-7.8zM1290.5,505.2h7.8v7.8h-7.8zM1293.8,511.4h7.8v7.8h-7.8zM1297.1,501.5h7.8v7.8h-7.8zM1300.5,503.4h7.8v7.8h-7.8zM1303.8,499.6h7.8v7.8h-7.8zM1307.1,504.7h7.8v7.8h-7.8zM1310.5,500.2h7.8v7.8h-7.8zM1313.8,496.6h7.8v7.8h-7.8zM1317.1,504.1h7.8v7.8h-7.8zM1320.5,500.5h7.8v7.8h-7.8zM1323.8,500.8h7.8v7.8h-7.8zM1327.1,500.8h7.8v7.8h-7.8zM1330.5,502.7h7.8v7.8h-7.8zM1333.8,504.1h7.8v7.8h-7.8zM1337.1,490.3h7.8v7.8h-7.8zM1340.5,500.9h7.8v7.8h-7.8zM1343.8,501.9h7.8v7.8h-7.8zM1347.2,502.9h7.8v7.8h-7.8zM1350.5,500.4h7.8v7.8h-7.8zM1353.8,502.3h7.8v7.8h-7.8zM1357.2,494.6h7.8v7.8h-7.8zM1360.5,501.2h7.8v7.8h-7.8zM1363.8,509h7.8v7.8h-7.8zM1367.2,497.9h7.8v7.8h-7.8zM1370.5,501.5h7.8v7.8h-7.8zM1373.8,505.8h7.8v7.8h-7.8zM1377.2,503.6h7.8v7.8h-7.8zM1380.5,498.5h7.8v7.8h-7.8zM1383.8,495h7.8v7.8h-7.8zM1387.2,508.7h7.8v7.8h-7.8zM1390.5,498.8h7.8v7.8h-7.8zM1393.8,505.4h7.8v7.8h-7.8zM1397.2,494.3h7.8v7.8h-7.8zM1400.5,507.5h7.8v7.8h-7.8zM1403.8,502.6h7.8v7.8h-7.8zM1407.2,500.1h7.8v7.8h-7.8zM1410.5,506.3h7.8v7.8h-7.8zM1413.8,514h7.8v7.8h-7.8zM1417.2,510h7.8v7.8h-7.8zM1420.5,512.2h7.8v7.8h-7.8zM1423.9,513.3h7.8v7.8h-7.8zM1427.2,519.5h7.8v7.8h-7.8zM1430.5,521h7.8v7.8h-7.8zM1433.9,521h7.8v7.8h-7.8zM1437.2,521.1h7.8v7.8h-7.8zM1440.5,531.1h7.8v7.8h-7.8zM1443.9,529.2h7.8v7.8h-7.8zM1447.2,526.3h7.8v7.8h-7.8zM1450.5,523.8h7.8v7.8h-7.8zM1453.9,524.8h7.8v7.8h-7.8zM1457.2,510.9h7.8v7.8h-7.8zM1460.5,519.7h7.8v7.8h-7.8zM1463.9,509.6h7.8v7.8h-7.8zM1467.2,514.7h7.8v7.8h-7.8zM1470.5,501.1h7.8v7.8h-7.8zM1473.9,498.2h7.8v7.8h-7.8zM1477.2,506.2h7.8v7.8h-7.8zM1480.5,506.4h7.8v7.8h-7.8zM1483.9,505.5h7.8v7.8h-7.8zM1487.2,503.3h7.8v7.8h-7.8zM1490.5,501.7h7.8v7.8h-7.8zM1493.9,497.8h7.8v7.8h-7.8zM1497.2,511.8h7.8v7.8h-7.8zM1500.6,505.9h7.8v7.8h-7.8zM1503.9,504.7h7.8v7.8h-7.8zM1507.2,503.5h7.8v7.8h-7.8zM1510.6,513.9h7.8v7.8h-7.8zM1513.9,513.2h7.8v7.8h-7.8zM1517.2,519.3h7.8v7.8h-7.8zM1520.6,522.7h7.8v7.8h-7.8zM1523.9,518.1h7.8v7.8h-7.8zM1527.2,519.7h7.8v7.8h-7.8zM1530.6,507h7.8v7.8h-7.8zM1533.9,513.4h7.8v7.8h-7.8zM1537.2,503.4h7.8v7.8h-7.8zM1540.6,500.1h7.8v7.8h-7.8zM1543.9,505.2h7.8v7.8h-7.8zM1547.2,505h7.8v7.8h-7.8zM1550.6,504h7.8v7.8h-7.8zM1553.9,506.3h7.8v7.8h-7.8zM1557.2,509.1h7.8v7.8h-7.8zM1560.6,513h7.8v7.8h-7.8zM1563.9,513.8h7.8v7.8h-7.8zM1567.3,519.4h7.8v7.8h-7.8zM1570.6,522h7.8v7.8h-7.8zM1573.9,516.8h7.8v7.8h-7.8zM1577.3,521.3h7.8v7.8h-7.8zM1580.6,533h7.8v7.8h-7.8zM1583.9,534.1h7.8v7.8h-7.8zM1587.3,541.8h7.8v7.8h-7.8zM1590.6,550.1h7.8v7.8h-7.8zM1593.9,554h7.8v7.8h-7.8zM1597.3,562.1h7.8v7.8h-7.8zM1600.6,567.6h7.8v7.8h-7.8zM1603.9,567.1h7.8v7.8h-7.8zM1607.3,574.5h7.8v7.8h-7.8zM1610.6,587h7.8v7.8h-7.8zM1613.9,586.6h7.8v7.8h-7.8zM1617.3,598.1h7.8v7.8h-7.8zM1620.6,604.9h7.8v7.8h-7.8zM1623.9,616.9h7.8v7.8h-7.8zM1627.3,639.3h7.8v7.8h-7.8zM1630.6,651.9h7.8v7.8h-7.8zM1633.9,680.8h7.8v7.8h-7.8zM1637.3,692.5h7.8v7.8h-7.8zM1640.6,712h7.8v7.8h-7.8zM1644,730.6h7.8v7.8h-7.8zM1647.3,751.9h7.8v7.8h-7.8zM1650.6,770.4h7.8v7.8h-7.8zM1654,779.3h7.8v7.8h-7.8zM1657.3,776.6h7.8v7.8h-7.8zM1660.6,771.7h7.8v7.8h-7.8zM1664,765.7h7.8v7.8h-7.8zM1667.3,750.5h7.8v7.8h-7.8zM1670.6,734.1h7.8v7.8h-7.8zM1674,707.8h7.8v7.8h-7.8zM1677.3,691.2h7.8v7.8h-7.8zM1680.6,661.3h7.8v7.8h-7.8zM1684,634.7h7.8v7.8h-7.8zM1687.3,610.1h7.8v7.8h-7.8zM1690.6,590.6h7.8v7.8h-7.8zM1694,572.3h7.8v7.8h-7.8zM1697.3,567.8h7.8v7.8h-7.8zM1700.6,552.4h7.8v7.8h-7.8zM1704,537.9h7.8v7.8h-7.8zM1707.3,535.6h7.8v7.8h-7.8zM1710.6,537.3h7.8v7.8h-7.8zM1714,521h7.8v7.8h-7.8zM1717.3,510.9h7.8v7.8h-7.8zM1720.7,516.2h7.8v7.8h-7.8zM1724,512.3h7.8v7.8h-7.8zM1727.3,510.8h7.8v7.8h-7.8zM1730.7,516h7.8v7.8h-7.8zM1734,512.2h7.8v7.8h-7.8zM1737.3,511.8h7.8v7.8h-7.8zM1740.7,516.4h7.8v7.8h-7.8zM1744,512.1h7.8v7.8h-7.8zM1747.3,514.7h7.8v7.8h-7.8zM1750.7,526.4h7.8v7.8h-7.8zM1754,525.4h7.8v7.8h-7.8zM1757.3,530.9h7.8v7.8h-7.8zM1760.7,540.9h7.8v7.8h-7.8zM1764,542.1h7.8v7.8h-7.8zM1767.3,554.6h7.8v7.8h-7.8zM1770.7,561.5h7.8v7.8h-7.8zM1774,576.1h7.8v7.8h-7.8zM1777.3,600.4h7.8v7.8h-7.8zM1780.7,624.2h7.8v7.8h-7.8zM1784,643.2h7.8v7.8h-7.8zM1787.3,669.6h7.8v7.8h-7.8zM1790.7,691.4h7.8v7.8h-7.8zM1794,709.3h7.8v7.8h-7.8zM1797.4,723.6h7.8v7.8h-7.8zM1800.7,719.8h7.8v7.8h-7.8zM1804,705.7h7.8v7.8h-7.8zM1807.4,691.6h7.8v7.8h-7.8zM1810.7,652.8h7.8v7.8h-7.8zM1814,625.6h7.8v7.8h-7.8zM1817.4,590.6h7.8v7.8h-7.8zM1820.7,570.2h7.8v7.8h-7.8zM1824,556.7h7.8v7.8h-7.8zM1827.4,538.8h7.8v7.8h-7.8zM1830.7,529.7h7.8v7.8h-7.8zM1834,520.1h7.8v7.8h-7.8zM1837.4,520.9h7.8v7.8h-7.8zM1840.7,514.3h7.8v7.8h-7.8zM1844,506.7h7.8v7.8h-7.8zM1847.4,504.4h7.8v7.8h-7.8zM1850.7,501.3h7.8v7.8h-7.8zM1854,505.8h7.8v7.8h-7.8zM1857.4,509.5h7.8v7.8h-7.8zM1860.7,504.3h7.8v7.8h-7.8zM1864.1,503.2h7.8v7.8h-7.8zM1867.4,501.7h7.8v7.8h-7.8zM1870.7,494.7h7.8v7.8h-7.8zM1874.1,496.7h7.8v7.8h-7.8zM1877.4,501.6h7.8v7.8h-7.8zM1880.7,500.4h7.8v7.8h-7.8zM1884.1,489.9h7.8v7.8h-7.8zM1887.4,499.1h7.8v7.8h-7.8zM1890.7,499.1h7.8v7.8h-7.8zM1894.1,492.7h7.8v7.8h-7.8zM1897.4,498h7.8v7.8h-7.8zM1900.7,499.6h7.8v7.8h-7.8zM1904.1,495.7h7.8v7.8h-7.8zM1907.4,492.5h7.8v7.8h-7.8zM1910.7,498.5h7.8v7.8h-7.8zM1914.1,497.2h7.8v7.8h-7.8zM1917.4,498.6h7.8v7.8h-7.8zM1920.7,498.4h7.8v7.8h-7.8zM1924.1,495.8h7.8v7.8h-7.8zM1927.4,497.9h7.8v7.8h-7.8zM1930.7,494.3h7.8v7.8h-7.8zM1934.1,493.6h7.8v7.8h-7.8zM1937.4,491.1h7.8v7.8h-7.8zM1940.8,486.9h7.8v7.8h-7.8zM1944.1,491.1h7.8v7.8h-7.8zM1947.4,500.8h7.8v7.8h-7.8zM1950.8,495.4h7.8v7.8h-7.8zM1954.1,489.4h7.8v7.8h-7.8zM1957.4,502.1h7.8v7.8h-7.8zM1960.8,488h7.8v7.8h-7.8zM1964.1,498h7.8v7.8h-7.8zM1967.4,497.7h7.8v7.8h-7.8zM1970.8,492.1h7.8v7.8h-7.8zM1974.1,497.6h7.8v7.8h-7.8z" fill="#000"/>
<path d="M273.9,439.6 274.9,439.6 275.9,439.6 276.9,439.6 277.9,439.6 278.9,439.6 279.9,439.6 280.9,439.6 281.9,439.6 282.9,439.6 283.9,439.6 284.9,439.6 285.9,439.6 286.9,439.6 287.9,439.6 288.9,439.6 289.9,439.6 290.9,439.6 291.9,439.6 292.9,439.6 293.9,439.6 294.9,439.6 295.9,439.6 296.9,439.6 297.9,439.6 298.9,439.7 299.9,439.7 300.9,439.7 301.9,439.7 302.9,439.7 303.9,439.7 304.9,439.7 305.9,439.7 306.9,439.7 307.9,439.7 308.9,439.7 309.9,439.7 310.9,439.7 311.9,439.7 312.9,439.7 313.9,439.7 314.9,439.7 315.9,439.7 316.9,439.7 317.9,439.7 318.9,439.7 319.9,439.7 320.9,439.7 321.9,439.7 322.9,439.7 323.9,439.7 324.9,439.7 325.9,439.7 326.9,439.7 327.9,439.7 328.9,439.7 329.9,439.7 330.9,439.7 331.9,439.7 332.9,439.7 333.9,439.7 334.9,439.8 335.9,439.8 336.9,439.8 337.9,439.8 338.9,439.8 339.9,439.8 340.9,439.8 341.9,439.8 342.9,439.8 343.9,439.8 344.9,439.8 345.9,439.8 346.9,439.8 347.9,439.8 348.9,439.8 349.9,439.8 350.9,439.8 351.9,439.8 352.9,439.8 353.9,439.8 354.9,439.8 355.9,439.8 356.9,439.8 357.9,439.8 358.9,439.8 359.9,439.8 360.9,439.8 361.9,439.9 362.9,439.9 363.9,439.9 364.9,439.9 365.9,439.9 366.9,439.9 367.9,439.9 368.9,439.9 369.9,439.9 370.9,439.9 371.9,439.9 372.9,439.9 373.9,439.9 374.9,439.9 375.9,439.9 376.9,439.9 377.9,439.9 378.9,439.9 379.9,439.9 380.9,439.9 381.9,439.9 382.9,440 383.9,440 384.9,440 385.9,440 386.9,440 387.9,440 388.9,440 389.9,440 390.9,440 391.9,440 392.9,440 393.9,440 394.9,440 395.9,440 396.9,440 397.9,440 398.9,440 399.9,440.1 400.9,440.1 401.9,440.1 402.9,440.1 403.9,440.1 404.9,440.1 405.9,440.1 406.9,440.1 407.9,440.1 408.9,440.1 409.9,440.1 410.9,440.1 411.9,440.1 412.9,440.1 413.9,440.2 414.9,440.2 415.9,440.2 416.9,440.2 417.9,440.2 418.9,440.2 419.9,440.2 420.9,440.2 421.9,440.2 422.9,440.2 423.9,440.2 424.9,440.2 425.9,440.3 426.9,440.3 427.9,440.3 428.9,440.3 429.9,440.3 430.9,440.3 431.9,440.3 432.9,440.3 433.9,440.3 434.9,440.3 435.9,440.4 436.9,440.4 437.9,440.4 438.9,440.4 439.9,440.4 440.9,440.4 441.9,440.4 442.9,440.4 443.9,440.4 444.9,440.5 445.9,440.5 446.9,440.5 447.9,440.5 448.9,440.5 449.9,440.5 450.9,440.5 451.9,440.6 452.9,440.6 453.9,440.6 454.9,440.6 455.9,440.6 456.9,440.6 457.9,440.6 458.9,440.7 459.9,440.7 460.9,440.7 461.9,440.7 462.9,440.7 463.9,440.7 464.9,440.8 465.9,440.8 466.9,440.8 467.9,440.8 468.9,440.8 469.9,440.8 470.9,440.9 471.9,440.9 472.9,440.9 473.9,440.9 474.9,440.9 475.9,441 476.9,441 477.9,441 478.9,441 479.9,441 480.9,441.1 481.9,441.1 482.9,441.1 483.9,441.1 484.9,441.2 485.9,441.2 486.9,441.2 487.9,441.2 488.9,441.3 489.9,441.3 490.9,441.3 491.9,441.3 492.9,441.4 493.9,441.4 494.9,441.4 495.9,441.5 496.9,441.5 497.9,441.5 498.9,441.6 499.9,441.6 500.9,441.6 501.9,441.7 502.9,441.7 503.9,441.7 504.9,441.8 505.9,441.8 506.9,441.8 507.9,441.9 508.9,441.9 509.9,442 510.9,442 511.9,442.1 512.9,442.1 513.9,442.1 514.9,442.2 515.9,442.2 516.9,442.3 517.9,442.3 518.9,442.4 519.9,442.4 520.9,442.5 521.9,442.6 522.9,442.6 523.9,442.7 524.9,442.7 525.9,442.8 526.9,442.9 527.9,442.9 528.9,443 529.9,443.1 530.9,443.1 531.9,443.2 532.9,443.3 533.9,443.4 534.9,443.5 535.9,443.5 536.9,443.6 537.9,443.7 538.9,443.8 539.9,443.9 540.9,444 541.9,444.1 542.9,444.2 543.9,444.3 544.9,444.5 545.9,444.6 546.9,444.7 547.9,444.8 548.9,445 549.9,445.1 550.9,445.2 551.9,445.4 552.9,445.6 553.9,445.7 554.9,445.9 555.9,446.1 556.9,446.3 557.9,446.5 558.9,446.7 559.9,446.9 560.9,447.1 561.9,447.3 562.9,447.6 563.9,447.8 564.9,448.1 565.9,448.4 566.9,448.7 567.9,449.1 568.9,449.4 569.9,449.8 570.9,450.2 571.9,450.6 572.9,451 573.9,451.5 574.9,452 575.9,452.5 576.9,453.1 577.9,453.7 578.9,454.4 579.9,455.1 580.9,455.9 581.9,456.7 582.9,457.6 583.9,458.6 584.9,459.6 585.9,460.7 586.9,461.9 587.9,463.2 588.9,464.6 589.9,466.1 590.9,467.8 591.9,469.5 592.9,471.4 593.9,473.5 594.9,475.7 595.9,478 596.9,480.6 597.9,483.3 598.9,486.2 599.9,489.3 600.9,492.6 601.9,496.1 602.9,499.9 603.9,503.8 604.9,508.1 605.9,512.5 606.9,517.2 607.9,522.2 608.9,527.4 609.9,532.8 610.9,538.5 611.9,544.4 612.9,550.5 613.9,556.9 614.9,563.4 615.9,570.2 616.9,577.1 617.9,584.1 618.9,591.3 619.9,598.6 620.9,606 621.9,613.4 622.9,620.8 623.9,628.2 624.9,635.5 625.9,642.7 626.9,649.8 627.9,656.8 628.9,663.5 629.9,670 630.9,676.1 631.9,682 632.9,687.5 633.9,692.6 634.9,697.3 635.9,701.6 636.9,705.3 637.9,708.6 638.9,711.3 639.9,713.5 640.9,715.1 641.9,716.2 642.9,716.7 643.9,716.6 644.9,716 645.9,714.8 646.9,713.1 647.9,710.9 648.9,708.1 649.9,704.9 650.9,701.2 651.9,697.1 652.9,692.6 653.9,687.7 654.9,682.5 655.9,677 656.9,671.3 657.9,665.3 658.9,659.2 659.9,652.9 660.9,646.5 661.9,640 662.9,633.6 663.9,627.1 664.9,620.6 665.9,614.2 666.9,607.9 667.9,601.6 668.9,595.5 669.9,589.6 670.9,583.8 671.9,578.2 672.9,572.8 673.9,567.5 674.9,562.5 675.9,557.7 676.9,553.1 677.9,548.7 678.9,544.5 679.9,540.5 680.9,536.7 681.9,533.1 682.9,529.7 683.9,526.5 684.9,523.5 685.9,520.6 686.9,517.9 687.9,515.4 688.9,513 689.9,510.7 690.9,508.6 691.9,506.5 692.9,504.6 693.9,502.8 694.9,501 695.9,499.4 696.9,497.8 697.9,496.3 698.9,494.8 699.9,493.4 700.9,492 701.9,490.7 702.9,489.5 703.9,488.2 704.9,487 705.9,485.9 706.9,484.7 707.9,483.6 708.9,482.5 709.9,481.4 710.9,480.3 711.9,479.3 712.9,478.3 713.9,477.2 714.9,476.2 715.9,475.3 716.9,474.3 717.9,473.3 718.9,472.4 719.9,471.4 720.9,470.5 721.9,469.6 722.9,468.7 723.9,467.8 724.9,467 725.9,466.1 726.9,465.3 727.9,464.5 728.9,463.7 729.9,462.9 730.9,462.1 731.9,461.4 732.9,460.7 733.9,459.9 734.9,459.3 735.9,458.6 736.9,457.9 737.9,457.3 738.9,456.7 739.9,456.1 740.9,455.5 741.9,454.9 742.9,454.4 743.9,453.9 744.9,453.4 745.9,452.9 746.9,452.4 747.9,452 748.9,451.6 749.9,451.2 750.9,450.8 751.9,450.4 752.9,450 753.9,449.7 754.9,449.4 755.9,449.1 756.9,448.8 757.9,448.5 758.9,448.2 759.9,448 760.9,447.7 761.9,447.5 762.9,447.3 763.9,447.1 764.9,446.9 765.9,446.7 766.9,446.5 767.9,446.4 768.9,446.2 769.9,446.1 770.9,446 771.9,445.8 772.9,445.7 773.9,445.6 774.9,445.5 775.9,445.4 776.9,445.4 777.9,445.3 778.9,445.2 779.9,445.1 780.9,445.1 781.9,445 782.9,445 783.9,444.9 784.9,444.9 785.9,444.9 786.9,444.8 787.9,444.8 788.9,444.8 789.9,444.8 790.9,444.7 791.9,444.7 792.9,444.7 793.9,444.7 794.9,444.7 795.9,444.7 796.9,444.7 797.9,444.7 798.9,444.7 799.9,444.8 800.9,444.8 801.9,444.8 802.9,444.8 803.9,444.9 804.9,444.9 805.9,445 806.9,445 807.9,445.1 808.9,445.1 809.9,445.2 810.9,445.3 811.9,445.4 812.9,445.5 813.9,445.6 814.9,445.7 815.9,445.9 816.9,446 817.9,446.2 818.9,446.4 819.9,446.6 820.9,446.8 821.9,447.1 822.9,447.4 823.9,447.7 824.9,448 825.9,448.4 826.9,448.8 827.9,449.2 828.9,449.7 829.9,450.2 830.9,450.8 831.9,451.4 832.9,452 833.9,452.7 834.9,453.4 835.9,454.2 836.9,455 837.9,455.8 838.9,456.7 839.9,457.6 840.9,458.5 841.9,459.4 842.9,460.4 843.9,461.4 844.9,462.3 845.9,463.3 846.9,464.3 847.9,465.3 848.9,466.2 849.9,467.1 850.9,467.9 851.9,468.8 852.9,469.5 853.9,470.2 854.9,470.8 855.9,471.4 856.9,471.9 857.9,472.2 858.9,472.5 859.9,472.7 860.9,472.8 861.9,472.8 862.9,472.7 863.9,472.5 864.9,472.3 865.9,471.9 866.9,471.4 867.9,470.9 868.9,470.3 869.9,469.6 870.9,468.8 871.9,468 872.9,467.2 873.9,466.3 874.9,465.4 875.9,464.4 876.9,463.5 877.9,462.5 878.9,461.5 879.9,460.6 880.9,459.7 881.9,458.7 882.9,457.8 883.9,457 884.9,456.1 885.9,455.3 886.9,454.5 887.9,453.8 888.9,453.1 889.9,452.5 890.9,451.8 891.9,451.3 892.9,450.7 893.9,450.2 894.9,449.8 895.9,449.4 896.9,449 897.9,448.6 898.9,448.3 899.9,448 900.9,447.8 901.9,447.5 902.9,447.3 903.9,447.1 904.9,446.9 905.9,446.8 906.9,446.6 907.9,446.5 908.9,446.4 909.9,446.3 910.9,446.2 911.9,446.1 912.9,446.1 913.9,446 914.9,445.9 915.9,445.9 916.9,445.8 917.9,445.8 918.9,445.8 919.9,445.7 920.9,445.7 921.9,445.7 922.9,445.7 923.9,445.7 924.9,445.6 925.9,445.6 926.9,445.6 927.9,445.6 928.9,445.6 929.9,445.6 930.9,445.6 931.9,445.6 932.9,445.6 933.9,445.6 934.9,445.6 935.9,445.6 936.9,445.6 937.9,445.6 938.9,445.6 939.9,445.6 940.9,445.6 941.9,445.7 942.9,445.7 943.9,445.7 944.9,445.7 945.9,445.7 946.9,445.7 947.9,445.7 948.9,445.7 949.9,445.8 950.9,445.8 951.9,445.8 952.9,445.8 953.9,445.8 954.9,445.9 955.9,445.9 956.9,445.9 957.9,445.9 958.9,445.9 959.9,446 960.9,446 961.9,446 962.9,446 963.9,446.1 964.9,446.1 965.9,446.1 966.9,446.2 967.9,446.2 968.9,446.2 969.9,446.3 970.9,446.3 971.9,446.3 972.9,446.4 973.9,446.4 974.9,446.5 975.9,446.5 976.9,446.6 977.9,446.6 978.9,446.6 979.9,446.7 980.9,446.7 981.9,446.8 982.9,446.9 983.9,446.9 984.9,447 985.9,447 986.9,447.1 987.9,447.2 988.9,447.2 989.9,447.3 990.9,447.4 991.9,447.4 992.9,447.5 993.9,447.6 994.9,447.7 995.9,447.8 996.9,447.9 997.9,447.9 998.9,448 999.9,448.1 1000.9,448.3 1001.9,448.4 1002.9,448.5 1003.9,448.6 1004.9,448.7 1005.9,448.9 1006.9,449 1007.9,449.1 1008.9,449.3 1009.9,449.4 1010.9,449.6 1011.9,449.8 1012.9,450 1013.9,450.1 1014.9,450.3 1015.9,450.6 1016.9,450.8 1017.9,451 1018.9,451.3 1019.9,451.5 1020.9,451.8 1021.9,452.1 1022.9,452.4 1023.9,452.7 1024.9,453.1 1025.9,453.4 1026.9,453.8 1027.9,454.2 1028.9,454.7 1029.9,455.1 1030.9,455.6 1031.9,456.2 1032.9,456.8 1033.9,457.4 1034.9,458.1 1035.9,458.8 1036.9,459.6 1037.9,460.4 1038.9,461.3 1039.9,462.3 1040.9,463.4 1041.9,464.6 1042.9,465.8 1043.9,467.2 1044.9,468.8 1045.9,470.4 1046.9,472.3 1047.9,474.3 1048.9,476.5 1049.9,478.9 1050.9,481.5 1051.9,484.4 1052.9,487.6 1053.9,491 1054.9,494.8 1055.9,498.8 1056.9,503.2 1057.9,507.9 1058.9,512.9 1059.9,518.1 1060.9,523.6 1061.9,529.3 1062.9,535.1 1063.9,541 1064.9,546.9 1065.9,552.6 1066.9,558.1 1067.9,563.3 1068.9,568.1 1069.9,572.3 1070.9,575.8 1071.9,578.6 1072.9,580.6 1073.9,581.7 1074.9,582 1075.9,581.3 1076.9,579.7 1077.9,577.3 1078.9,574.1 1079.9,570.2 1080.9,565.7 1081.9,560.7 1082.9,555.4 1083.9,549.7 1084.9,543.9 1085.9,538 1086.9,532.2 1087.9,526.4 1088.9,520.8 1089.9,515.5 1090.9,510.4 1091.9,505.5 1092.9,501 1093.9,496.8 1094.9,493 1095.9,489.4 1096.9,486.1 1097.9,483.1 1098.9,480.3 1099.9,477.8 1100.9,475.5 1101.9,473.4 1102.9,471.5 1103.9,469.8 1104.9,468.2 1105.9,466.8 1106.9,465.4 1107.9,464.2 1108.9,463.1 1109.9,462.1 1110.9,461.2 1111.9,460.3 1112.9,459.5 1113.9,458.8 1114.9,458.1 1115.9,457.5 1116.9,456.9 1117.9,456.3 1118.9,455.8 1119.9,455.3 1120.9,454.9 1121.9,454.5 1122.9,454.1 1123.9,453.7 1124.9,453.4 1125.9,453.1 1126.9,452.8 1127.9,452.5 1128.9,452.2 1129.9,452 1130.9,451.8 1131.9,451.5 1132.9,451.3 1133.9,451.1 1134.9,450.9 1135.9,450.8 1136.9,450.6 1137.9,450.5 1138.9,450.3 1139.9,450.2 1140.9,450 1141.9,449.9 1142.9,449.8 1143.9,449.7 1144.9,449.6 1145.9,449.5 1146.9,449.4 1147.9,449.3 1148.9,449.3 1149.9,449.2 1150.9,449.1 1151.9,449.1 1152.9,449 1153.9,449 1154.9,448.9 1155.9,448.9 1156.9,448.9 1157.9,448.8 1158.9,448.8 1159.9,448.8 1160.9,448.8 1161.9,448.8 1162.9,448.7 1163.9,448.7 1164.9,448.8 1165.9,448.8 1166.9,448.8 1167.9,448.8 1168.9,448.8 1169.9,448.9 1170.9,448.9 1171.9,449 1172.9,449 1173.9,449.1 1174.9,449.1 1175.9,449.2 1176.9,449.3 1177.9,449.4 1178.9,449.5 1179.9,449.7 1180.9,449.8 1181.9,449.9 1182.9,450.1 1183.9,450.3 1184.9,450.5 1185.9,450.7 1186.9,451 1187.9,451.3 1188.9,451.6 1189.9,452 1190.9,452.4 1191.9,452.9 1192.9,453.4 1193.9,454 1194.9,454.7 1195.9,455.4 1196.9,456.3 1197.9,457.3 1198.9,458.4 1199.9,459.6 1200.9,461.1 1201.9,462.7 1202.9,464.5 1203.9,466.5 1204.9,468.8 1205.9,471.3 1206.9,474.1 1207.9,477.2 1208.9,480.5 1209.9,484.2 1210.9,488.3 1211.9,492.6 1212.9,497.2 1213.9,502.2 1214.9,507.4 1215.9,512.9 1216.9,518.5 1217.9,524.3 1218.9,530.3 1219.9,536.2 1220.9,542.1 1221.9,548 1222.9,553.6 1223.9,559 1224.9,564 1225.9,568.6 1226.9,572.7 1227.9,576.3 1228.9,579.2 1229.9,581.4 1230.9,582.8 1231.9,583.6 1232.9,583.5 1233.9,582.7 1234.9,581.1 1235.9,578.8 1236.9,575.8 1237.9,572.2 1238.9,568.1 1239.9,563.4 1240.9,558.3 1241.9,552.9 1242.9,547.2 1243.9,541.3 1244.9,535.4 1245.9,529.4 1246.9,523.5 1247.9,517.6 1248.9,512 1249.9,506.5 1250.9,501.3 1251.9,496.4 1252.9,491.7 1253.9,487.4 1254.9,483.4 1255.9,479.7 1256.9,476.3 1257.9,473.3 1258.9,470.5 1259.9,468 1260.9,465.7 1261.9,463.7 1262.9,461.9 1263.9,460.3 1264.9,458.8 1265.9,457.6 1266.9,456.4 1267.9,455.4 1268.9,454.6 1269.9,453.8 1270.9,453.1 1271.9,452.5 1272.9,451.9 1273.9,451.4 1274.9,451 1275.9,450.6 1276.9,450.3 1277.9,449.9 1278.9,449.6 1279.9,449.4 1280.9,449.1 1281.9,448.9 1282.9,448.7 1283.9,448.5 1284.9,448.3 1285.9,448.2 1286.9,448 1287.9,447.9 1288.9,447.8 1289.9,447.6 1290.9,447.5 1291.9,447.4 1292.9,447.3 1293.9,447.2 1294.9,447.1 1295.9,447.1 1296.9,447 1297.9,446.9 1298.9,446.8 1299.9,446.8 1300.9,446.7 1301.9,446.6 1302.9,446.6 1303.9,446.5 1304.9,446.5 1305.9,446.4 1306.9,446.4 1307.9,446.3 1308.9,446.3 1309.9,446.2 1310.9,446.2 1311.9,446.2 1312.9,446.1 1313.9,446.1 1314.9,446.1 1315.9,446 1316.9,446 1317.9,446 1318.9,446 1319.9,445.9 1320.9,445.9 1321.9,445.9 1322.9,445.9 1323.9,445.8 1324.9,445.8 1325.9,445.8 1326.9,445.8 1327.9,445.8 1328.9,445.8 1329.9,445.7 1330.9,445.7 1331.9,445.7 1332.9,445.7 1333.9,445.7 1334.9,445.7 1335.9,445.7 1336.9,445.7 1337.9,445.7 1338.9,445.6 1339.9,445.6 1340.9,445.6 1341.9,445.6 1342.9,445.6 1343.9,445.6 1344.9,445.6 1345.9,445.6 1346.9,445.6 1347.9,445.6 1348.9,445.6 1349.9,445.6 1350.9,445.6 1351.9,445.6 1352.9,445.6 1353.9,445.6 1354.9,445.6 1355.9,445.6 1356.9,445.6 1357.9,445.6 1358.9,445.6 1359.9,445.7 1360.9,445.7 1361.9,445.7 1362.9,445.7 1363.9,445.7 1364.9,445.7 1365.9,445.7 1366.9,445.7 1367.9,445.7 1368.9,445.8 1369.9,445.8 1370.9,445.8 1371.9,445.8 1372.9,445.8 1373.9,445.9 1374.9,445.9 1375.9,445.9 1376.9,445.9 1377.9,446 1378.9,446 1379.9,446 1380.9,446.1 1381.9,446.1 1382.9,446.1 1383.9,446.2 1384.9,446.2 1385.9,446.3 1386.9,446.3 1387.9,446.4 1388.9,446.4 1389.9,446.5 1390.9,446.5 1391.9,446.6 1392.9,446.7 1393.9,446.7 1394.9,446.8 1395.9,446.9 1396.9,447 1397.9,447.1 1398.9,447.2 1399.9,447.3 1400.9,447.4 1401.9,447.5 1402.9,447.6 1403.9,447.8 1404.9,447.9 1405.9,448.1 1406.9,448.2 1407.9,448.4 1408.9,448.6 1409.9,448.8 1410.9,449.1 1411.9,449.3 1412.9,449.6 1413.9,449.9 1414.9,450.2 1415.9,450.6 1416.9,450.9 1417.9,451.4 1418.9,451.8 1419.9,452.3 1420.9,452.9 1421.9,453.4 1422.9,454.1 1423.9,454.8 1424.9,455.5 1425.9,456.4 1426.9,457.2 1427.9,458.2 1428.9,459.2 1429.9,460.2 1430.9,461.4 1431.9,462.5 1432.9,463.7 1433.9,464.9 1434.9,466.1 1435.9,467.3 1436.9,468.5 1437.9,469.6 1438.9,470.6 1439.9,471.5 1440.9,472.3 1441.9,473 1442.9,473.5 1443.9,473.8 1444.9,474 1445.9,473.9 1446.9,473.7 1447.9,473.3 1448.9,472.7 1449.9,472 1450.9,471.1 1451.9,470.2 1452.9,469.1 1453.9,468 1454.9,466.8 1455.9,465.6 1456.9,464.4 1457.9,463.2 1458.9,462 1459.9,460.9 1460.9,459.8 1461.9,458.8 1462.9,457.8 1463.9,456.9 1464.9,456.1 1465.9,455.3 1466.9,454.5 1467.9,453.9 1468.9,453.3 1469.9,452.7 1470.9,452.2 1471.9,451.7 1472.9,451.3 1473.9,450.9 1474.9,450.5 1475.9,450.2 1476.9,449.9 1477.9,449.6 1478.9,449.4 1479.9,449.1 1480.9,448.9 1481.9,448.7 1482.9,448.5 1483.9,448.4 1484.9,448.2 1485.9,448.1 1486.9,447.9 1487.9,447.8 1488.9,447.7 1489.9,447.6 1490.9,447.5 1491.9,447.4 1492.9,447.3 1493.9,447.2 1494.9,447.2 1495.9,447.1 1496.9,447 1497.9,447 1498.9,446.9 1499.9,446.9 1500.9,446.8 1501.9,446.8 1502.9,446.7 1503.9,446.7 1504.9,446.7 1505.9,446.6 1506.9,446.6 1507.9,446.6 1508.9,446.6 1509.9,446.5 1510.9,446.5 1511.9,446.5 1512.9,446.5 1513.9,446.5 1514.9,446.5 1515.9,446.5 1516.9,446.5 1517.9,446.5 1518.9,446.5 1519.9,446.5 1520.9,446.5 1521.9,446.5 1522.9,446.5 1523.9,446.5 1524.9,446.5 1525.9,446.5 1526.9,446.5 1527.9,446.6 1528.9,446.6 1529.9,446.6 1530.9,446.6 1531.9,446.7 1532.9,446.7 1533.9,446.8 1534.9,446.8 1535.9,446.9 1536.9,447 1537.9,447 1538.9,447.1 1539.9,447.2 1540.9,447.3 1541.9,447.4 1542.9,447.5 1543.9,447.6 1544.9,447.8 1545.9,447.9 1546.9,448.1 1547.9,448.3 1548.9,448.5 1549.9,448.7 1550.9,449 1551.9,449.2 1552.9,449.5 1553.9,449.8 1554.9,450.2 1555.9,450.5 1556.9,450.9 1557.9,451.4 1558.9,451.8 1559.9,452.3 1560.9,452.9 1561.9,453.4 1562.9,454.1 1563.9,454.7 1564.9,455.4 1565.9,456.2 1566.9,457 1567.9,457.8 1568.9,458.7 1569.9,459.6 1570.9,460.6 1571.9,461.7 1572.9,462.8 1573.9,463.9 1574.9,465.1 1575.9,466.3 1576.9,467.6 1577.9,468.9 1578.9,470.2 1579.9,471.6 1580.9,473.1 1581.9,474.5 1582.9,476 1583.9,477.5 1584.9,479.1 1585.9,480.6 1586.9,482.2 1587.9,483.8 1588.9,485.4 1589.9,487 1590.9,488.6 1591.9,490.1 1592.9,491.7 1593.9,493.3 1594.9,494.8 1595.9,496.4 1596.9,497.9 1597.9,499.4 1598.9,500.9 1599.9,502.3 1600.9,503.8 1601.9,505.2 1602.9,506.6 1603.9,508 1604.9,509.4 1605.9,510.8 1606.9,512.2 1607.9,513.6 1608.9,515.1 1609.9,516.6 1610.9,518.1 1611.9,519.7 1612.9,521.3 1613.9,523.1 1614.9,524.9 1615.9,526.8 1616.9,528.9 1617.9,531 1618.9,533.4 1619.9,535.8 1620.9,538.5 1621.9,541.3 1622.9,544.4 1623.9,547.6 1624.9,551 1625.9,554.7 1626.9,558.6 1627.9,562.7 1628.9,567 1629.9,571.6 1630.9,576.3 1631.9,581.3 1632.9,586.5 1633.9,591.9 1634.9,597.5 1635.9,603.2 1636.9,609.1 1637.9,615.1 1638.9,621.3 1639.9,627.4 1640.9,633.7 1641.9,639.9 1642.9,646.2 1643.9,652.4 1644.9,658.5 1645.9,664.5 1646.9,670.3 1647.9,675.9 1648.9,681.3 1649.9,686.5 1650.9,691.3 1651.9,695.8 1652.9,699.9 1653.9,703.7 1654.9,707 1655.9,709.8 1656.9,712.2 1657.9,714.1 1658.9,715.5 1659.9,716.3 1660.9,716.6 1661.9,716.4 1662.9,715.6 1663.9,714.3 1664.9,712.5 1665.9,710.1 1666.9,707.2 1667.9,703.9 1668.9,700 1669.9,695.7 1670.9,691 1671.9,685.9 1672.9,680.4 1673.9,674.6 1674.9,668.4 1675.9,662 1676.9,655.4 1677.9,648.6 1678.9,641.6 1679.9,634.4 1680.9,627.2 1681.9,619.9 1682.9,612.6 1683.9,605.3 1684.9,598.1 1685.9,590.9 1686.9,583.8 1687.9,576.8 1688.9,569.9 1689.9,563.2 1690.9,556.7 1691.9,550.3 1692.9,544.2 1693.9,538.3 1694.9,532.5 1695.9,527.1 1696.9,521.8 1697.9,516.8 1698.9,512 1699.9,507.5 1700.9,503.2 1701.9,499.2 1702.9,495.3 1703.9,491.7 1704.9,488.3 1705.9,485.1 1706.9,482.2 1707.9,479.4 1708.9,476.8 1709.9,474.3 1710.9,472.1 1711.9,470 1712.9,468 1713.9,466.2 1714.9,464.6 1715.9,463 1716.9,461.6 1717.9,460.3 1718.9,459.1 1719.9,457.9 1720.9,456.9 1721.9,456 1722.9,455.1 1723.9,454.3 1724.9,453.5 1725.9,452.8 1726.9,452.2 1727.9,451.6 1728.9,451 1729.9,450.5 1730.9,450 1731.9,449.6 1732.9,449.2 1733.9,448.8 1734.9,448.4 1735.9,448.1 1736.9,447.8 1737.9,447.5 1738.9,447.2 1739.9,447 1740.9,446.7 1741.9,446.5 1742.9,446.3 1743.9,446.1 1744.9,445.9 1745.9,445.7 1746.9,445.5 1747.9,445.4 1748.9,445.2 1749.9,445.1 1750.9,444.9 1751.9,444.8 1752.9,444.6 1753.9,444.5 1754.9,444.4 1755.9,444.3 1756.9,444.2 1757.9,444.1 1758.9,444 1759.9,443.8 1760.9,443.8 1761.9,443.7 1762.9,443.6 1763.9,443.5 1764.9,443.4 1765.9,443.3 1766.9,443.2 1767.9,443.2 1768.9,443.1 1769.9,443 1770.9,442.9 1771.9,442.9 1772.9,442.8 1773.9,442.7 1774.9,442.7 1775.9,442.6 1776.9,442.6 1777.9,442.5 1778.9,442.4 1779.9,442.4 1780.9,442.3 1781.9,442.3 1782.9,442.2 1783.9,442.2 1784.9,442.1 1785.9,442.1 1786.9,442 1787.9,442 1788.9,441.9 1789.9,441.9 1790.9,441.9 1791.9,441.8 1792.9,441.8 1793.9,441.7 1794.9,441.7 1795.9,441.7 1796.9,441.6 1797.9,441.6 1798.9,441.6 1799.9,441.5 1800.9,441.5 1801.9,441.5 1802.9,441.4 1803.9,441.4 1804.9,441.4 1805.9,441.3 1806.9,441.3 1807.9,441.3 1808.9,441.3 1809.9,441.2 1810.9,441.2 1811.9,441.2 1812.9,441.1 1813.9,441.1 1814.9,441.1 1815.9,441.1 1816.9,441 1817.9,441 1818.9,441 1819.9,441 1820.9,441 1821.9,440.9 1822.9,440.9 1823.9,440.9 1824.9,440.9 1825.9,440.8 1826.9,440.8 1827.9,440.8 1828.9,440.8 1829.9,440.8 1830.9,440.7 1831.9,440.7 1832.9,440.7 1833.9,440.7 1834.9,440.7 1835.9,440.7 1836.9,440.6 1837.9,440.6 1838.9,440.6 1839.9,440.6 1840.9,440.6 1841.9,440.6 1842.9,440.5 1843.9,440.5 1844.9,440.5 1845.9,440.5 1846.9,440.5 1847.9,440.5 1848.9,440.5 1849.9,440.4 1850.9,440.4 1851.9,440.4 1852.9,440.4 1853.9,440.4 1854.9,440.4 1855.9,440.4 1856.9,440.4 1857.9,440.3 1858.9,440.3 1859.9,440.3 1860.9,440.3 1861.9,440.3 1862.9,440.3 1863.9,440.3 1864.9,440.3 1865.9,440.3 1866.9,440.2 1867.9,440.2 1868.9,440.2 1869.9,440.2 1870.9,440.2 1871.9,440.2 1872.9,440.2 1873.9,440.2 1874.9,440.2 1875.9,440.2 1876.9,440.1 1877.9,440.1 1878.9,440.1 1879.9,440.1 1880.9,440.1 1881.9,440.1 1882.9,440.1 1883.9,440.1 1884.9,440.1 1885.9,440.1 1886.9,440.1 1887.9,440.1 1888.9,440 1889.9,440 1890.9,440 1891.9,440 1892.9,440 1893.9,440 1894.9,440 1895.9,440 1896.9,440 1897.9,440 1898.9,440 1899.9,440 1900.9,440 1901.9,440 1902.9,440 1903.9,439.9 1904.9,439.9 1905.9,439.9 1906.9,439.9 1907.9,439.9 1908.9,439.9 1909.9,439.9 1910.9,439.9 1911.9,439.9 1912.9,439.9 1913.9,439.9 1914.9,439.9 1915.9,439.9 1916.9,439.9 1917.9,439.9 1918.9,439.9 1919.9,439.9 1920.9,439.9 1921.9,439.8 1922.9,439.8 1923.9,439.8 1924.9,439.8 1925.9,439.8 1926.9,439.8 1927.9,439.8 1928.9,439.8 1929.9,439.8 1930.9,439.8 1931.9,439.8 1932.9,439.8 1933.9,439.8 1934.9,439.8 1935.9,439.8 1936.9,439.8 1937.9,439.8 1938.9,439.8 1939.9,439.8 1940.9,439.8 1941.9,439.8 1942.9,439.8 1943.9,439.7 1944.9,439.7 1945.9,439.7 1946.9,439.7 1947.9,439.7 1948.9,439.7 1949.9,439.7 1950.9,439.7 1951.9,439.7 1952.9,439.7 1953.9,439.7 1954.9,439.7 1955.9,439.7 1956.9,439.7 1957.9,439.7 1958.9,439.7 1959.9,439.7 1960.9,439.7 1961.9,439.7 1962.9,439.7 1963.9,439.7 1964.9,439.7 1965.9,439.7 1966.9,439.7 1967.9,439.7 1968.9,439.7 1969.9,439.7 1970.9,439.7 1971.9,439.7 1972.9,439.7 1973.9,439.7 1974.9,439.6 1975.9,439.6 1976.9,439.6 1977.9,439.6 1978,439.6" stroke="#00ff00" stroke-width="5" fill="none" stroke-linejoin="round"/>
<path d="M273.9,438.6 274.9,438.6 275.9,438.6 276.9,438.6 277.9,438.6 278.9,438.6 279.9,438.6 280.9,438.7 281.9,438.7 282.9,438.7 283.9,438.7 284.9,438.7 285.9,438.7 286.9,438.7 287.9,438.7 288.9,438.7 289.9,438.7 290.9,438.8 291.9,438.8 292.9,438.8 293.9,438.8 294.9,438.8 295.9,438.8 296.9,438.8 297.9,438.8 298.9,438.8 299.9,438.9 300.9,438.9 301.9,438.9 302.9,438.9 303.9,438.9 304.9,438.9 305.9,438.9 306.9,438.9 307.9,439 308.9,439 309.9,439 310.9,439 311.9,439 312.9,439 313.9,439 314.9,439.1 315.9,439.1 316.9,439.1 317.9,439.1 318.9,439.1 319.9,439.1 320.9,439.2 321.9,439.2 322.9,439.2 323.9,439.2 324.9,439.2 325.9,439.2 326.9,439.3 327.9,439.3 328.9,439.3 329.9,439.3 330.9,439.3 331.9,439.4 332.9,439.4 333.9,439.4 334.9,439.4 335.9,439.4 336.9,439.5 337.9,439.5 338.9,439.5 339.9,439.5 340.9,439.6 341.9,439.6 342.9,439.6 343.9,439.6 344.9,439.7 345.9,439.7 346.9,439.7 347.9,439.8 348.9,439.8 349.9,439.8 350.9,439.8 351.9,439.9 352.9,439.9 353.9,439.9 354.9,440 355.9,440 356.9,440 357.9,440.1 358.9,440.1 359.9,440.2 360.9,440.2 361.9,440.2 362.9,440.3 363.9,440.3 364.9,440.4 365.9,440.4 366.9,440.5 367.9,440.5 368.9,440.5 369.9,440.6 370.9,440.6 371.9,440.7 372.9,440.7 373.9,440.8 374.9,440.9 375.9,440.9 376.9,441 377.9,441 378.9,441.1 379.9,441.2 380.9,441.2 381.9,441.3 382.9,441.4 383.9,441.4 384.9,441.5 385.9,441.6 386.9,441.7 387.9,441.7 388.9,441.8 389.9,441.9 390.9,442 391.9,442.1 392.9,442.2 393.9,442.3 394.9,442.4 395.9,442.5 396.9,442.6 397.9,442.7 398.9,442.8 399.9,442.9 400.9,443.1 401.9,443.2 402.9,443.3 403.9,443.5 404.9,443.6 405.9,443.8 406.9,443.9 407.9,444.1 408.9,444.2 409.9,444.4 410.9,444.6 411.9,444.8 412.9,445 413.9,445.2 414.9,445.4 415.9,445.6 416.9,445.9 417.9,446.1 418.9,446.4 419.9,446.6 420.9,446.9 421.9,447.2 422.9,447.5 423.9,447.8 424.9,448.2 425.9,448.5 426.9,448.9 427.9,449.3 428.9,449.7 429.9,450.2 430.9,450.7 431.9,451.2 432.9,451.7 433.9,452.2 434.9,452.8 435.9,453.5 436.9,454.1 437.9,454.9 438.9,455.6 439.9,456.4 440.9,457.3 441.9,458.2 442.9,459.3 443.9,460.3 444.9,461.5 445.9,462.8 446.9,464.1 447.9,465.6 448.9,467.2 449.9,468.9 450.9,470.8 451.9,472.8 452.9,475.1 453.9,477.5 454.9,480.2 455.9,483.1 456.9,486.2 457.9,489.7 458.9,493.5 459.9,497.6 460.9,502.1 461.9,507 462.9,512.2 463.9,517.9 464.9,524.1 465.9,530.6 466.9,537.6 467.9,545.1 468.9,552.9 469.9,561 470.9,569.5 471.9,578.2 472.9,587.1 473.9,596 474.9,604.9 475.9,613.6 476.9,622 477.9,630 478.9,637.4 479.9,644.2 480.9,650.1 481.9,655.1 482.9,659 483.9,661.8 484.9,663.5 485.9,663.9 486.9,663.4 487.9,661.9 488.9,659.5 489.9,656.3 490.9,652.3 491.9,647.6 492.9,642.2 493.9,636.3 494.9,629.8 495.9,622.9 496.9,615.7 497.9,608.3 498.9,600.6 499.9,593 500.9,585.3 501.9,577.6 502.9,570.1 503.9,562.8 504.9,555.7 505.9,548.8 506.9,542.2 507.9,535.9 508.9,529.9 509.9,524.3 510.9,518.9 511.9,513.9 512.9,509.3 513.9,504.9 514.9,500.8 515.9,497 516.9,493.5 517.9,490.2 518.9,487.1 519.9,484.3 520.9,481.7 521.9,479.3 522.9,477.1 523.9,475 524.9,473.1 525.9,471.3 526.9,469.6 527.9,468 528.9,466.6 529.9,465.3 530.9,464 531.9,462.8 532.9,461.7 533.9,460.7 534.9,459.8 535.9,458.9 536.9,458 537.9,457.2 538.9,456.5 539.9,455.8 540.9,455.1 541.9,454.5 542.9,453.9 543.9,453.3 544.9,452.8 545.9,452.3 546.9,451.8 547.9,451.3 548.9,450.9 549.9,450.5 550.9,450.1 551.9,449.7 552.9,449.3 553.9,449 554.9,448.7 555.9,448.3 556.9,448 557.9,447.8 558.9,447.5 559.9,447.2 560.9,447 561.9,446.7 562.9,446.5 563.9,446.3 564.9,446 565.9,445.8 566.9,445.6 567.9,445.4 568.9,445.3 569.9,445.1 570.9,444.9 571.9,444.7 572.9,444.6 573.9,444.4 574.9,444.3 575.9,444.1 576.9,444 577.9,443.9 578.9,443.7 579.9,443.6 580.9,443.5 581.9,443.4 582.9,443.3 583.9,443.1 584.9,443 585.9,442.9 586.9,442.8 587.9,442.7 588.9,442.6 589.9,442.6 590.9,442.5 591.9,442.4 592.9,442.3 593.9,442.2 594.9,442.1 595.9,442.1 596.9,442 597.9,441.9 598.9,441.8 599.9,441.8 600.9,441.7 601.9,441.6 602.9,441.6 603.9,441.5 604.9,441.4 605.9,441.4 606.9,441.3 607.9,441.3 608.9,441.2 609.9,441.2 610.9,441.1 611.9,441.1 612.9,441 613.9,441 614.9,440.9 615.9,440.9 616.9,440.8 617.9,440.8 618.9,440.7 619.9,440.7 620.9,440.6 621.9,440.6 622.9,440.6 623.9,440.5 624.9,440.5 625.9,440.5 626.9,440.4 627.9,440.4 628.9,440.4 629.9,440.3 630.9,440.3 631.9,440.3 632.9,440.2 633.9,440.2 634.9,440.2 635.9,440.1 636.9,440.1 637.9,440.1 638.9,440.1 639.9,440 640.9,440 641.9,440 642.9,439.9 643.9,439.9 644.9,439.9 645.9,439.9 646.9,439.9 647.9,439.8 648.9,439.8 649.9,439.8 650.9,439.8 651.9,439.7 652.9,439.7 653.9,439.7 654.9,439.7 655.9,439.7 656.9,439.6 657.9,439.6 658.9,439.6 659.9,439.6 660.9,439.6 661.9,439.6 662.9,439.5 663.9,439.5 664.9,439.5 665.9,439.5 666.9,439.5 667.9,439.5 668.9,439.5 669.9,439.4 670.9,439.4 671.9,439.4 672.9,439.4 673.9,439.4 674.9,439.4 675.9,439.4 676.9,439.4 677.9,439.3 678.9,439.3 679.9,439.3 680.9,439.3 681.9,439.3 682.9,439.3 683.9,439.3 684.9,439.3 685.9,439.3 686.9,439.3 687.9,439.3 688.9,439.3 689.9,439.2 690.9,439.2 691.9,439.2 692.9,439.2 693.9,439.2 694.9,439.2 695.9,439.2 696.9,439.2 697.9,439.2 698.9,439.2 699.9,439.2 700.9,439.2 701.9,439.2 702.9,439.2 703.9,439.2 704.9,439.2 705.9,439.3 706.9,439.3 707.9,439.3 708.9,439.3 709.9,439.3 710.9,439.4 711.9,439.4 712.9,439.4 713.9,439.5 714.9,439.5 715.9,439.5 716.9,439.6 717.9,439.7 718.9,439.8 719.9,439.8 720.9,439.9 721.9,440 722.9,440.2 723.9,440.3 724.9,440.5 725.9,440.6 726.9,440.8 727.9,441 728.9,441.3 729.9,441.5 730.9,441.8 731.9,442.1 732.9,442.4 733.9,442.8 734.9,443.2 735.9,443.6 736.9,444.1 737.9,444.5 738.9,445 739.9,445.5 740.9,446.1 741.9,446.7 742.9,447.3 743.9,447.9 744.9,448.5 745.9,449.2 746.9,449.8 747.9,450.5 748.9,451.2 749.9,451.8 750.9,452.5 751.9,453.1 752.9,453.8 753.9,454.4 754.9,454.9 755.9,455.5 756.9,456 757.9,456.4 758.9,456.9 759.9,457.2 760.9,457.5 761.9,457.8 762.9,457.9 763.9,458.1 764.9,458.1 765.9,458.1 766.9,458 767.9,457.9 768.9,457.7 769.9,457.4 770.9,457.1 771.9,456.7 772.9,456.3 773.9,455.8 774.9,455.3 775.9,454.8 776.9,454.2 777.9,453.5 778.9,452.9 779.9,452.3 780.9,451.6 781.9,450.9 782.9,450.2 783.9,449.6 784.9,448.9 785.9,448.2 786.9,447.6 787.9,447 788.9,446.4 789.9,445.8 790.9,445.3 791.9,444.7 792.9,444.2 793.9,443.8 794.9,443.3 795.9,442.9 796.9,442.5 797.9,442.1 798.9,441.8 799.9,441.5 800.9,441.2 801.9,441 802.9,440.7 803.9,440.5 804.9,440.3 805.9,440.1 806.9,440 807.9,439.8 808.9,439.7 809.9,439.6 810.9,439.5 811.9,439.4 812.9,439.3 813.9,439.2 814.9,439.2 815.9,439.1 816.9,439.1 817.9,439 818.9,439 819.9,438.9 820.9,438.9 821.9,438.9 822.9,438.8 823.9,438.8 824.9,438.8 825.9,438.8 826.9,438.8 827.9,438.7 828.9,438.7 829.9,438.7 830.9,438.7 831.9,438.7 832.9,438.7 833.9,438.7 834.9,438.7 835.9,438.7 836.9,438.6 837.9,438.6 838.9,438.6 839.9,438.6 840.9,438.6 841.9,438.6 842.9,438.6 843.9,438.6 844.9,438.6 845.9,438.6 846.9,438.6 847.9,438.6 848.9,438.6 849.9,438.6 850.9,438.6 851.9,438.6 852.9,438.6 853.9,438.6 854.9,438.6 855.9,438.6 856.9,438.6 857.9,438.6 858.9,438.6 859.9,438.6 860.9,438.6 861.9,438.6 862.9,438.6 863.9,438.6 864.9,438.6 865.9,438.6 866.9,438.6 867.9,438.6 868.9,438.6 869.9,438.6 870.9,438.6 871.9,438.6 872.9,438.6 873.9,438.6 874.9,438.6 875.9,438.6 876.9,438.6 877.9,438.6 878.9,438.6 879.9,438.6 880.9,438.6 881.9,438.6 882.9,438.6 883.9,438.6 884.9,438.6 885.9,438.6 886.9,438.6 887.9,438.6 888.9,438.6 889.9,438.6 890.9,438.6 891.9,438.6 892.9,438.6 893.9,438.6 894.9,438.6 895.9,438.6 896.9,438.6 897.9,438.6 898.9,438.6 899.9,438.6 900.9,438.7 901.9,438.7 902.9,438.7 903.9,438.7 904.9,438.7 905.9,438.7 906.9,438.7 907.9,438.7 908.9,438.7 909.9,438.7 910.9,438.7 911.9,438.7 912.9,438.7 913.9,438.7 914.9,438.7 915.9,438.7 916.9,438.8 917.9,438.8 918.9,438.8 919.9,438.8 920.9,438.8 921.9,438.8 922.9,438.8 923.9,438.8 924.9,438.8 925.9,438.8 926.9,438.8 927.9,438.9 928.9,438.9 929.9,438.9 930.9,438.9 931.9,438.9 932.9,438.9 933.9,438.9 934.9,438.9 935.9,439 936.9,439 937.9,439 938.9,439 939.9,439 940.9,439 941.9,439 942.9,439.1 943.9,439.1 944.9,439.1 945.9,439.1 946.9,439.1 947.9,439.2 948.9,439.2 949.9,439.2 950.9,439.2 951.9,439.2 952.9,439.3 953.9,439.3 954.9,439.3 955.9,439.3 956.9,439.4 957.9,439.4 958.9,439.4 959.9,439.5 960.9,439.5 961.9,439.5 962.9,439.6 963.9,439.6 964.9,439.6 965.9,439.7 966.9,439.7 967.9,439.8 968.9,439.8 969.9,439.9 970.9,439.9 971.9,440 972.9,440 973.9,440.1 974.9,440.1 975.9,440.2 976.9,440.2 977.9,440.3 978.9,440.4 979.9,440.5 980.9,440.5 981.9,440.6 982.9,440.7 983.9,440.8 984.9,440.9 985.9,441 986.9,441.1 987.9,441.2 988.9,441.3 989.9,441.5 990.9,441.6 991.9,441.7 992.9,441.9 993.9,442.1 994.9,442.2 995.9,442.4 996.9,442.6 997.9,442.9 998.9,443.1 999.9,443.4 1000.9,443.6 1001.9,444 1002.9,444.3 1003.9,444.7 1004.9,445.1 1005.9,445.6 1006.9,446.1 1007.9,446.6 1008.9,447.3 1009.9,448 1010.9,448.8 1011.9,449.7 1012.9,450.6 1013.9,451.8 1014.9,453 1015.9,454.4 1016.9,455.9 1017.9,457.6 1018.9,459.5 1019.9,461.6 1020.9,463.9 1021.9,466.4 1022.9,469.2 1023.9,472.2 1024.9,475.4 1025.9,478.9 1026.9,482.7 1027.9,486.7 1028.9,491 1029.9,495.5 1030.9,500.2 1031.9,505.2 1032.9,510.4 1033.9,515.7 1034.9,521.1 1035.9,526.5 1036.9,531.7 1037.9,536.6 1038.9,540.9 1039.9,544.4 1040.9,546.9 1041.9,548.1 1042.9,547.9 1043.9,546.3 1044.9,543.6 1045.9,539.8 1046.9,535.3 1047.9,530.3 1048.9,525 1049.9,519.6 1050.9,514.2 1051.9,509 1052.9,503.9 1053.9,498.9 1054.9,494.3 1055.9,489.8 1056.9,485.6 1057.9,481.7 1058.9,478 1059.9,474.6 1060.9,471.4 1061.9,468.5 1062.9,465.8 1063.9,463.3 1064.9,461.1 1065.9,459.1 1066.9,457.2 1067.9,455.6 1068.9,454.1 1069.9,452.8 1070.9,451.6 1071.9,450.5 1072.9,449.6 1073.9,448.7 1074.9,447.9 1075.9,447.3 1076.9,446.7 1077.9,446.1 1078.9,445.6 1079.9,445.2 1080.9,444.8 1081.9,444.4 1082.9,444.1 1083.9,443.8 1084.9,443.5 1085.9,443.3 1086.9,443 1087.9,442.8 1088.9,442.6 1089.9,442.4 1090.9,442.3 1091.9,442.1 1092.9,442 1093.9,441.8 1094.9,441.7 1095.9,441.6 1096.9,441.5 1097.9,441.4 1098.9,441.3 1099.9,441.2 1100.9,441.1 1101.9,441 1102.9,441 1103.9,440.9 1104.9,440.8 1105.9,440.8 1106.9,440.7 1107.9,440.6 1108.9,440.6 1109.9,440.5 1110.9,440.5 1111.9,440.4 1112.9,440.4 1113.9,440.4 1114.9,440.3 1115.9,440.3 1116.9,440.3 1117.9,440.2 1118.9,440.2 1119.9,440.2 1120.9,440.2 1121.9,440.1 1122.9,440.1 1123.9,440.1 1124.9,440.1 1125.9,440.1 1126.9,440 1127.9,440 1128.9,440 1129.9,440 1130.9,440 1131.9,440 1132.9,440 1133.9,440 1134.9,440 1135.9,440 1136.9,440 1137.9,440 1138.9,440 1139.9,440 1140.9,440 1141.9,440 1142.9,440 1143.9,440 1144.9,440 1145.9,440 1146.9,440 1147.9,440 1148.9,440 1149.9,440 1150.9,440 1151.9,440.1 1152.9,440.1 1153.9,440.1 1154.9,440.1 1155.9,440.1 1156.9,440.2 1157.9,440.2 1158.9,440.2 1159.9,440.2 1160.9,440.3 1161.9,440.3 1162.9,440.3 1163.9,440.4 1164.9,440.4 1165.9,440.4 1166.9,440.5 1167.9,440.5 1168.9,440.5 1169.9,440.6 1170.9,440.6 1171.9,440.7 1172.9,440.7 1173.9,440.8 1174.9,440.9 1175.9,440.9 1176.9,441 1177.9,441 1178.9,441.1 1179.9,441.2 1180.9,441.3 1181.9,441.4 1182.9,441.4 1183.9,441.5 1184.9,441.6 1185.9,441.7 1186.9,441.8 1187.9,442 1188.9,442.1 1189.9,442.2 1190.9,442.3 1191.9,442.5 1192.9,442.6 1193.9,442.8 1194.9,443 1195.9,443.1 1196.9,443.3 1197.9,443.5 1198.9,443.7 1199.9,444 1200.9,444.2 1201.9,444.5 1202.9,444.8 1203.9,445.1 1204.9,445.4 1205.9,445.7 1206.9,446.1 1207.9,446.5 1208.9,447 1209.9,447.4 1210.9,448 1211.9,448.5 1212.9,449.1 1213.9,449.8 1214.9,450.5 1215.9,451.3 1216.9,452.2 1217.9,453.2 1218.9,454.2 1219.9,455.4 1220.9,456.7 1221.9,458.1 1222.9,459.6 1223.9,461.3 1224.9,463.1 1225.9,465.1 1226.9,467.3 1227.9,469.7 1228.9,472.3 1229.9,475.2 1230.9,478.2 1231.9,481.5 1232.9,485 1233.9,488.7 1234.9,492.7 1235.9,496.9 1236.9,501.3 1237.9,506 1238.9,510.8 1239.9,515.8 1240.9,520.9 1241.9,526 1242.9,531 1243.9,535.6 1244.9,539.6 1245.9,542.7 1246.9,544.7 1247.9,545.2 1248.9,544.2 1249.9,541.9 1250.9,538.5 1251.9,534.3 1252.9,529.6 1253.9,524.5 1254.9,519.4 1255.9,514.3 1256.9,509.4 1257.9,504.6 1258.9,500 1259.9,495.6 1260.9,491.5 1261.9,487.6 1262.9,483.9 1263.9,480.4 1264.9,477.2 1265.9,474.3 1266.9,471.5 1267.9,468.9 1268.9,466.6 1269.9,464.5 1270.9,462.5 1271.9,460.7 1272.9,459 1273.9,457.6 1274.9,456.2 1275.9,454.9 1276.9,453.8 1277.9,452.8 1278.9,451.8 1279.9,451 1280.9,450.2 1281.9,449.5 1282.9,448.8 1283.9,448.2 1284.9,447.7 1285.9,447.2 1286.9,446.7 1287.9,446.3 1288.9,445.9 1289.9,445.5 1290.9,445.1 1291.9,444.8 1292.9,444.5 1293.9,444.2 1294.9,444 1295.9,443.7 1296.9,443.5 1297.9,443.3 1298.9,443.1 1299.9,442.9 1300.9,442.7 1301.9,442.5 1302.9,442.4 1303.9,442.2 1304.9,442.1 1305.9,441.9 1306.9,441.8 1307.9,441.7 1308.9,441.6 1309.9,441.4 1310.9,441.3 1311.9,441.2 1312.9,441.1 1313.9,441.1 1314.9,441 1315.9,440.9 1316.9,440.8 1317.9,440.7 1318.9,440.7 1319.9,440.6 1320.9,440.5 1321.9,440.4 1322.9,440.4 1323.9,440.3 1324.9,440.3 1325.9,440.2 1326.9,440.2 1327.9,440.1 1328.9,440.1 1329.9,440 1330.9,440 1331.9,439.9 1332.9,439.9 1333.9,439.8 1334.9,439.8 1335.9,439.8 1336.9,439.7 1337.9,439.7 1338.9,439.7 1339.9,439.6 1340.9,439.6 1341.9,439.6 1342.9,439.5 1343.9,439.5 1344.9,439.5 1345.9,439.4 1346.9,439.4 1347.9,439.4 1348.9,439.4 1349.9,439.3 1350.9,439.3 1351.9,439.3 1352.9,439.3 1353.9,439.3 1354.9,439.2 1355.9,439.2 1356.9,439.2 1357.9,439.2 1358.9,439.2 1359.9,439.1 1360.9,439.1 1361.9,439.1 1362.9,439.1 1363.9,439.1 1364.9,439.1 1365.9,439 1366.9,439 1367.9,439 1368.9,439 1369.9,439 1370.9,439 1371.9,439 1372.9,439 1373.9,438.9 1374.9,438.9 1375.9,438.9 1376.9,438.9 1377.9,438.9 1378.9,438.9 1379.9,438.9 1380.9,438.9 1381.9,438.9 1382.9,438.8 1383.9,438.8 1384.9,438.8 1385.9,438.8 1386.9,438.8 1387.9,438.8 1388.9,438.8 1389.9,438.8 1390.9,438.8 1391.9,438.8 1392.9,438.8 1393.9,438.8 1394.9,438.7 1395.9,438.7 1396.9,438.7 1397.9,438.7 1398.9,438.7 1399.9,438.7 1400.9,438.7 1401.9,438.7 1402.9,438.7 1403.9,438.7 1404.9,438.7 1405.9,438.7 1406.9,438.7 1407.9,438.7 1408.9,438.7 1409.9,438.7 1410.9,438.7 1411.9,438.7 1412.9,438.6 1413.9,438.6 1414.9,438.6 1415.9,438.6 1416.9,438.6 1417.9,438.6 1418.9,438.6 1419.9,438.6 1420.9,438.6 1421.9,438.6 1422.9,438.6 1423.9,438.6 1424.9,438.6 1425.9,438.6 1426.9,438.6 1427.9,438.6 1428.9,438.6 1429.9,438.6 1430.9,438.6 1431.9,438.6 1432.9,438.6 1433.9,438.6 1434.9,438.6 1435.9,438.6 1436.9,438.6 1437.9,438.6 1438.9,438.6 1439.9,438.6 1440.9,438.6 1441.9,438.6 1442.9,438.6 1443.9,438.6 1444.9,438.6 1445.9,438.6 1446.9,438.6 1447.9,438.6 1448.9,438.6 1449.9,438.6 1450.9,438.6 1451.9,438.6 1452.9,438.6 1453.9,438.6 1454.9,438.6 1455.9,438.6 1456.9,438.6 1457.9,438.6 1458.9,438.6 1459.9,438.6 1460.9,438.6 1461.9,438.6 1462.9,438.6 1463.9,438.6 1464.9,438.6 1465.9,438.6 1466.9,438.6 1467.9,438.6 1468.9,438.6 1469.9,438.6 1470.9,438.6 1471.9,438.6 1472.9,438.6 1473.9,438.6 1474.9,438.6 1475.9,438.6 1476.9,438.6 1477.9,438.6 1478.9,438.6 1479.9,438.6 1480.9,438.6 1481.9,438.6 1482.9,438.6 1483.9,438.6 1484.9,438.6 1485.9,438.6 1486.9,438.6 1487.9,438.6 1488.9,438.6 1489.9,438.6 1490.9,438.6 1491.9,438.6 1492.9,438.7 1493.9,438.7 1494.9,438.7 1495.9,438.8 1496.9,438.8 1497.9,438.9 1498.9,439 1499.9,439.1 1500.9,439.3 1501.9,439.5 1502.9,439.8 1503.9,440.1 1504.9,440.5 1505.9,441 1506.9,441.6 1507.9,442.3 1508.9,443.1 1509.9,444 1510.9,445 1511.9,446.1 1512.9,447.2 1513.9,448.5 1514.9,449.8 1515.9,451.2 1516.9,452.5 1517.9,453.8 1518.9,455 1519.9,456.2 1520.9,457.2 1521.9,458 1522.9,458.7 1523.9,459.3 1524.9,459.6 1525.9,459.3 1526.9,458.7 1527.9,458 1528.9,457.2 1529.9,456.2 1530.9,455.1 1531.9,453.9 1532.9,452.6 1533.9,451.2 1534.9,449.9 1535.9,448.6 1536.9,447.3 1537.9,446.1 1538.9,445.1 1539.9,444.1 1540.9,443.2 1541.9,442.4 1542.9,441.7 1543.9,441.2 1544.9,440.7 1545.9,440.3 1546.9,440 1547.9,439.7 1548.9,439.5 1549.9,439.3 1550.9,439.2 1551.9,439.1 1552.9,439 1553.9,439 1554.9,438.9 1555.9,438.9 1556.9,438.9 1557.9,438.9 1558.9,438.9 1559.9,438.9 1560.9,438.9 1561.9,438.9 1562.9,438.9 1563.9,438.9 1564.9,438.9 1565.9,438.9 1566.9,438.9 1567.9,438.9 1568.9,438.9 1569.9,438.9 1570.9,438.9 1571.9,438.9 1572.9,438.9 1573.9,438.9 1574.9,438.9 1575.9,438.9 1576.9,439 1577.9,439 1578.9,439 1579.9,439 1580.9,439 1581.9,439 1582.9,439 1583.9,439 1584.9,439 1585.9,439 1586.9,439 1587.9,439 1588.9,439.1 1589.9,439.1 1590.9,439.1 1591.9,439.1 1592.9,439.1 1593.9,439.1 1594.9,439.1 1595.9,439.1 1596.9,439.1 1597.9,439.2 1598.9,439.2 1599.9,439.2 1600.9,439.2 1601.9,439.2 1602.9,439.2 1603.9,439.2 1604.9,439.2 1605.9,439.2 1606.9,439.3 1607.9,439.3 1608.9,439.3 1609.9,439.3 1610.9,439.3 1611.9,439.3 1612.9,439.3 1613.9,439.4 1614.9,439.4 1615.9,439.4 1616.9,439.4 1617.9,439.4 1618.9,439.4 1619.9,439.5 1620.9,439.5 1621.9,439.5 1622.9,439.5 1623.9,439.5 1624.9,439.5 1625.9,439.6 1626.9,439.6 1627.9,439.6 1628.9,439.6 1629.9,439.6 1630.9,439.7 1631.9,439.7 1632.9,439.7 1633.9,439.7 1634.9,439.7 1635.9,439.8 1636.9,439.8 1637.9,439.8 1638.9,439.8 1639.9,439.9 1640.9,439.9 1641.9,439.9 1642.9,439.9 1643.9,440 1644.9,440 1645.9,440 1646.9,440 1647.9,440.1 1648.9,440.1 1649.9,440.1 1650.9,440.2 1651.9,440.2 1652.9,440.2 1653.9,440.2 1654.9,440.3 1655.9,440.3 1656.9,440.3 1657.9,440.4 1658.9,440.4 1659.9,440.4 1660.9,440.5 1661.9,440.5 1662.9,440.6 1663.9,440.6 1664.9,440.6 1665.9,440.7 1666.9,440.7 1667.9,440.8 1668.9,440.8 1669.9,440.8 1670.9,440.9 1671.9,440.9 1672.9,441 1673.9,441 1674.9,441.1 1675.9,441.1 1676.9,441.2 1677.9,441.2 1678.9,441.3 1679.9,441.4 1680.9,441.4 1681.9,441.5 1682.9,441.5 1683.9,441.6 1684.9,441.7 1685.9,441.7 1686.9,441.8 1687.9,441.9 1688.9,441.9 1689.9,442 1690.9,442.1 1691.9,442.2 1692.9,442.2 1693.9,442.3 1694.9,442.4 1695.9,442.5 1696.9,442.6 1697.9,442.7 1698.9,442.8 1699.9,442.9 1700.9,443 1701.9,443.1 1702.9,443.2 1703.9,443.3 1704.9,443.4 1705.9,443.5 1706.9,443.6 1707.9,443.7 1708.9,443.9 1709.9,444 1710.9,444.1 1711.9,444.3 1712.9,444.4 1713.9,444.6 1714.9,444.7 1715.9,444.9 1716.9,445.1 1717.9,445.2 1718.9,445.4 1719.9,445.6 1720.9,445.8 1721.9,446 1722.9,446.2 1723.9,446.4 1724.9,446.6 1725.9,446.9 1726.9,447.1 1727.9,447.4 1728.9,447.6 1729.9,447.9 1730.9,448.2 1731.9,448.5 1732.9,448.8 1733.9,449.1 1734.9,449.5 1735.9,449.8 1736.9,450.2 1737.9,450.6 1738.9,451 1739.9,451.4 1740.9,451.9 1741.9,452.3 1742.9,452.8 1743.9,453.4 1744.9,453.9 1745.9,454.5 1746.9,455.1 1747.9,455.8 1748.9,456.4 1749.9,457.2 1750.9,457.9 1751.9,458.8 1752.9,459.6 1753.9,460.5 1754.9,461.5 1755.9,462.6 1756.9,463.7 1757.9,464.9 1758.9,466.2 1759.9,467.5 1760.9,469 1761.9,470.5 1762.9,472.2 1763.9,474 1764.9,476 1765.9,478.1 1766.9,480.3 1767.9,482.7 1768.9,485.3 1769.9,488.1 1770.9,491.2 1771.9,494.4 1772.9,497.9 1773.9,501.7 1774.9,505.7 1775.9,510 1776.9,514.6 1777.9,519.4 1778.9,524.6 1779.9,530.1 1780.9,535.9 1781.9,542 1782.9,548.4 1783.9,555.1 1784.9,561.9 1785.9,569 1786.9,576.2 1787.9,583.6 1788.9,591 1789.9,598.4 1790.9,605.7 1791.9,612.9 1792.9,619.9 1793.9,626.5 1794.9,632.8 1795.9,638.6 1796.9,643.9 1797.9,648.6 1798.9,652.6 1799.9,655.9 1800.9,658.3 1801.9,660 1802.9,660.8 1803.9,660.7 1804.9,659.2 1805.9,656.4 1806.9,652.4 1807.9,647.1 1808.9,640.8 1809.9,633.6 1810.9,625.6 1811.9,617 1812.9,608 1813.9,598.7 1814.9,589.3 1815.9,579.9 1816.9,570.7 1817.9,561.7 1818.9,553 1819.9,544.7 1820.9,536.8 1821.9,529.5 1822.9,522.6 1823.9,516.2 1824.9,510.3 1825.9,504.8 1826.9,499.8 1827.9,495.3 1828.9,491.1 1829.9,487.3 1830.9,483.9 1831.9,480.7 1832.9,477.9 1833.9,475.2 1834.9,472.9 1835.9,470.7 1836.9,468.7 1837.9,466.9 1838.9,465.2 1839.9,463.7 1840.9,462.3 1841.9,461 1842.9,459.8 1843.9,458.7 1844.9,457.6 1845.9,456.7 1846.9,455.8 1847.9,455 1848.9,454.2 1849.9,453.5 1850.9,452.8 1851.9,452.2 1852.9,451.6 1853.9,451 1854.9,450.5 1855.9,450 1856.9,449.6 1857.9,449.1 1858.9,448.7 1859.9,448.3 1860.9,448 1861.9,447.6 1862.9,447.3 1863.9,447 1864.9,446.7 1865.9,446.4 1866.9,446.1 1867.9,445.8 1868.9,445.6 1869.9,445.3 1870.9,445.1 1871.9,444.9 1872.9,444.7 1873.9,444.5 1874.9,444.3 1875.9,444.1 1876.9,444 1877.9,443.8 1878.9,443.6 1879.9,443.5 1880.9,443.3 1881.9,443.2 1882.9,443 1883.9,442.9 1884.9,442.8 1885.9,442.7 1886.9,442.6 1887.9,442.4 1888.9,442.3 1889.9,442.2 1890.9,442.1 1891.9,442 1892.9,441.9 1893.9,441.8 1894.9,441.7 1895.9,441.7 1896.9,441.6 1897.9,441.5 1898.9,441.4 1899.9,441.3 1900.9,441.3 1901.9,441.2 1902.9,441.1 1903.9,441.1 1904.9,441 1905.9,440.9 1906.9,440.9 1907.9,440.8 1908.9,440.8 1909.9,440.7 1910.9,440.6 1911.9,440.6 1912.9,440.5 1913.9,440.5 1914.9,440.4 1915.9,440.4 1916.9,440.3 1917.9,440.3 1918.9,440.3 1919.9,440.2 1920.9,440.2 1921.9,440.1 1922.9,440.1 1923.9,440.1 1924.9,440 1925.9,440 1926.9,439.9 1927.9,439.9 1928.9,439.9 1929.9,439.8 1930.9,439.8 1931.9,439.8 1932.9,439.7 1933.9,439.7 1934.9,439.7 1935.9,439.7 1936.9,439.6 1937.9,439.6 1938.9,439.6 1939.9,439.5 1940.9,439.5 1941.9,439.5 1942.9,439.5 1943.9,439.4 1944.9,439.4 1945.9,439.4 1946.9,439.4 1947.9,439.4 1948.9,439.3 1949.9,439.3 1950.9,439.3 1951.9,439.3 1952.9,439.2 1953.9,439.2 1954.9,439.2 1955.9,439.2 1956.9,439.2 1957.9,439.2 1958.9,439.1 1959.9,439.1 1960.9,439.1 1961.9,439.1 1962.9,439.1 1963.9,439 1964.9,439 1965.9,439 1966.9,439 1967.9,439 1968.9,439 1969.9,439 1970.9,438.9 1971.9,438.9 1972.9,438.9 1973.9,438.9 1974.9,438.9 1975.9,438.9 1976.9,438.9 1977.9,438.8 1978,438.8" stroke="#0000ff" stroke-width="5" fill="none" stroke-linejoin="round"/>
<path d="M273.9,873.1 274.9,873.1 275.9,873.1 276.9,873.1 277.9,873.1 278.9,873.1 279.9,873.1 280.9,873.2 281.9,873.2 282.9,873.2 283.9,873.2 284.9,873.2 285.9,873.2 286.9,873.2 287.9,873.3 288.9,873.3 289.9,873.3 290.9,873.3 291.9,873.3 292.9,873.3 293.9,873.3 294.9,873.4 295.9,873.4 296.9,873.4 297.9,873.4 298.9,873.4 299.9,873.4 300.9,873.5 301.9,873.5 302.9,873.5 303.9,873.5 304.9,873.5 305.9,873.5 306.9,873.6 307.9,873.6 308.9,873.6 309.9,873.6 310.9,873.6 311.9,873.7 312.9,873.7 313.9,873.7 314.9,873.7 315.9,873.7 316.9,873.8 317.9,873.8 318.9,873.8 319.9,873.8 320.9,873.8 321.9,873.9 322.9,873.9 323.9,873.9 324.9,873.9 325.9,874 326.9,874 327.9,874 328.9,874 329.9,874.1 330.9,874.1 331.9,874.1 332.9,874.1 333.9,874.2 334.9,874.2 335.9,874.2 336.9,874.3 337.9,874.3 338.9,874.3 339.9,874.4 340.9,874.4 341.9,874.4 342.9,874.5 343.9,874.5 344.9,874.5 345.9,874.6 346.9,874.6 347.9,874.6 348.9,874.7 349.9,874.7 350.9,874.7 351.9,874.8 352.9,874.8 353.9,874.9 354.9,874.9 355.9,874.9 356.9,875 357.9,875 358.9,875.1 359.9,875.1 360.9,875.2 361.9,875.2 362.9,875.3 363.9,875.3 364.9,875.4 365.9,875.4 366.9,875.5 367.9,875.5 368.9,875.6 369.9,875.6 370.9,875.7 371.9,875.8 372.9,875.8 373.9,875.9 374.9,876 375.9,876 376.9,876.1 377.9,876.2 378.9,876.2 379.9,876.3 380.9,876.4 381.9,876.5 382.9,876.5 383.9,876.6 384.9,876.7 385.9,876.8 386.9,876.9 387.9,877 388.9,877.1 389.9,877.2 390.9,877.3 391.9,877.4 392.9,877.5 393.9,877.6 394.9,877.7 395.9,877.8 396.9,877.9 397.9,878 398.9,878.2 399.9,878.3 400.9,878.4 401.9,878.6 402.9,878.7 403.9,878.9 404.9,879 405.9,879.2 406.9,879.3 407.9,879.5 408.9,879.7 409.9,879.8 410.9,880 411.9,880.2 412.9,880.4 413.9,880.6 414.9,880.8 415.9,881.1 416.9,881.3 417.9,881.5 418.9,881.8 419.9,882.1 420.9,882.3 421.9,882.6 422.9,882.9 423.9,883.2 424.9,883.6 425.9,883.9 426.9,884.2 427.9,884.6 428.9,885 429.9,885.4 430.9,885.8 431.9,886.3 432.9,886.8 433.9,887.3 434.9,887.8 435.9,888.3 436.9,888.9 437.9,889.5 438.9,890.1 439.9,890.8 440.9,891.5 441.9,892.3 442.9,893.1 443.9,894 444.9,894.9 445.9,895.8 446.9,896.9 447.9,898 448.9,899.1 449.9,900.4 450.9,901.7 451.9,903.1 452.9,904.7 453.9,906.3 454.9,908.1 455.9,910 456.9,912.1 457.9,914.3 458.9,916.7 459.9,919.3 460.9,922.1 461.9,925.1 462.9,928.4 463.9,932 464.9,935.9 465.9,940.1 466.9,944.7 467.9,949.6 468.9,954.9 469.9,960.7 470.9,966.9 471.9,973.5 472.9,980.6 473.9,988.1 474.9,996 475.9,1004.2 476.9,1012.7 477.9,1021.3 478.9,1030 479.9,1038.6 480.9,1046.9 481.9,1054.8 482.9,1062 483.9,1068.4 484.9,1073.8 485.9,1078 486.9,1081 487.9,1082.5 488.9,1082.7 489.9,1081.8 490.9,1080 491.9,1077.3 492.9,1073.7 493.9,1069.4 494.9,1064.5 495.9,1058.9 496.9,1052.9 497.9,1046.5 498.9,1039.8 499.9,1032.9 500.9,1026 501.9,1019 502.9,1012.1 503.9,1005.3 504.9,998.7 505.9,992.3 506.9,986.2 507.9,980.3 508.9,974.7 509.9,969.4 510.9,964.4 511.9,959.6 512.9,955.2 513.9,951 514.9,947.1 515.9,943.5 516.9,940.1 517.9,936.9 518.9,933.9 519.9,931.1 520.9,928.5 521.9,926.1 522.9,923.9 523.9,921.8 524.9,919.8 525.9,918 526.9,916.3 527.9,914.7 528.9,913.2 529.9,911.8 530.9,910.5 531.9,909.3 532.9,908.2 533.9,907.1 534.9,906.1 535.9,905.2 536.9,904.3 537.9,903.5 538.9,902.8 539.9,902.1 540.9,901.4 541.9,900.8 542.9,900.2 543.9,899.7 544.9,899.2 545.9,898.8 546.9,898.4 547.9,898 548.9,897.7 549.9,897.4 550.9,897.1 551.9,896.9 552.9,896.7 553.9,896.5 554.9,896.4 555.9,896.2 556.9,896.1 557.9,896.1 558.9,896 559.9,896 560.9,896.1 561.9,896.1 562.9,896.2 563.9,896.3 564.9,896.4 565.9,896.6 566.9,896.8 567.9,897.1 568.9,897.4 569.9,897.7 570.9,898 571.9,898.4 572.9,898.9 573.9,899.3 574.9,899.9 575.9,900.5 576.9,901.1 577.9,901.8 578.9,902.5 579.9,903.4 580.9,904.3 581.9,905.2 582.9,906.3 583.9,907.4 584.9,908.6 585.9,909.9 586.9,911.3 587.9,912.8 588.9,914.4 589.9,916.2 590.9,918 591.9,920 592.9,922.1 593.9,924.4 594.9,926.9 595.9,929.4 596.9,932.2 597.9,935.1 598.9,938.2 599.9,941.5 600.9,945 601.9,948.7 602.9,952.6 603.9,956.6 604.9,960.9 605.9,965.4 606.9,970.1 607.9,975 608.9,980 609.9,985.3 610.9,990.8 611.9,996.4 612.9,1002.2 613.9,1008.1 614.9,1014.2 615.9,1020.4 616.9,1026.7 617.9,1033.1 618.9,1039.6 619.9,1046.1 620.9,1052.6 621.9,1059.1 622.9,1065.6 623.9,1071.9 624.9,1078.2 625.9,1084.4 626.9,1090.3 627.9,1096.1 628.9,1101.7 629.9,1106.9 630.9,1111.9 631.9,1116.6 632.9,1120.9 633.9,1124.9 634.9,1128.4 635.9,1131.5 636.9,1134.2 637.9,1136.4 638.9,1138.1 639.9,1139.4 640.9,1140.1 641.9,1140.4 642.9,1140.1 643.9,1139.4 644.9,1138.1 645.9,1136.4 646.9,1134.2 647.9,1131.5 648.9,1128.4 649.9,1124.9 650.9,1121 651.9,1116.7 652.9,1112 653.9,1107.1 654.9,1101.8 655.9,1096.3 656.9,1090.6 657.9,1084.7 658.9,1078.6 659.9,1072.4 660.9,1066 661.9,1059.7 662.9,1053.2 663.9,1046.8 664.9,1040.4 665.9,1034 666.9,1027.7 667.9,1021.5 668.9,1015.3 669.9,1009.3 670.9,1003.5 671.9,997.7 672.9,992.2 673.9,986.8 674.9,981.6 675.9,976.6 676.9,971.8 677.9,967.2 678.9,962.7 679.9,958.5 680.9,954.5 681.9,950.6 682.9,947 683.9,943.5 684.9,940.3 685.9,937.2 686.9,934.2 687.9,931.5 688.9,928.9 689.9,926.4 690.9,924.1 691.9,921.9 692.9,919.9 693.9,918 694.9,916.2 695.9,914.5 696.9,912.9 697.9,911.4 698.9,910 699.9,908.7 700.9,907.4 701.9,906.2 702.9,905.1 703.9,904.1 704.9,903.1 705.9,902.2 706.9,901.3 707.9,900.5 708.9,899.7 709.9,899 710.9,898.3 711.9,897.7 712.9,897 713.9,896.5 714.9,895.9 715.9,895.4 716.9,894.9 717.9,894.4 718.9,894 719.9,893.5 720.9,893.2 721.9,892.8 722.9,892.5 723.9,892.1 724.9,891.9 725.9,891.6 726.9,891.4 727.9,891.2 728.9,891 729.9,890.9 730.9,890.8 731.9,890.7 732.9,890.6 733.9,890.6 734.9,890.6 735.9,890.7 736.9,890.8 737.9,890.9 738.9,891 739.9,891.2 740.9,891.4 741.9,891.7 742.9,892 743.9,892.3 744.9,892.7 745.9,893.1 746.9,893.5 747.9,893.9 748.9,894.4 749.9,894.8 750.9,895.3 751.9,895.8 752.9,896.4 753.9,896.9 754.9,897.4 755.9,897.9 756.9,898.4 757.9,898.9 758.9,899.3 759.9,899.8 760.9,900.2 761.9,900.5 762.9,900.9 763.9,901.1 764.9,901.4 765.9,901.6 766.9,901.7 767.9,901.8 768.9,901.8 769.9,901.7 770.9,901.6 771.9,901.5 772.9,901.3 773.9,901 774.9,900.6 775.9,900.2 776.9,899.8 777.9,899.3 778.9,898.8 779.9,898.2 780.9,897.6 781.9,896.9 782.9,896.3 783.9,895.6 784.9,894.9 785.9,894.2 786.9,893.4 787.9,892.7 788.9,892 789.9,891.2 790.9,890.5 791.9,889.8 792.9,889.2 793.9,888.5 794.9,887.9 795.9,887.3 796.9,886.7 797.9,886.1 798.9,885.6 799.9,885.1 800.9,884.7 801.9,884.3 802.9,883.9 803.9,883.6 804.9,883.2 805.9,883 806.9,882.8 807.9,882.6 808.9,882.4 809.9,882.3 810.9,882.2 811.9,882.2 812.9,882.2 813.9,882.2 814.9,882.3 815.9,882.5 816.9,882.6 817.9,882.9 818.9,883.1 819.9,883.4 820.9,883.8 821.9,884.2 822.9,884.7 823.9,885.2 824.9,885.8 825.9,886.5 826.9,887.2 827.9,887.9 828.9,888.7 829.9,889.6 830.9,890.5 831.9,891.5 832.9,892.6 833.9,893.7 834.9,894.8 835.9,896 836.9,897.2 837.9,898.4 838.9,899.7 839.9,901 840.9,902.3 841.9,903.6 842.9,904.8 843.9,906.1 844.9,907.3 845.9,908.4 846.9,909.5 847.9,910.5 848.9,911.5 849.9,912.3 850.9,913.1 851.9,913.7 852.9,914.3 853.9,914.7 854.9,915 855.9,915.2 856.9,915.2 857.9,915.1 858.9,914.9 859.9,914.5 860.9,914.1 861.9,913.5 862.9,912.8 863.9,912 864.9,911.1 865.9,910.1 866.9,909 867.9,907.9 868.9,906.7 869.9,905.5 870.9,904.3 871.9,903 872.9,901.7 873.9,900.4 874.9,899.1 875.9,897.9 876.9,896.6 877.9,895.4 878.9,894.2 879.9,893.1 880.9,892 881.9,891 882.9,890 883.9,889 884.9,888.2 885.9,887.3 886.9,886.6 887.9,885.8 888.9,885.2 889.9,884.6 890.9,884 891.9,883.5 892.9,883 893.9,882.6 894.9,882.2 895.9,881.8 896.9,881.5 897.9,881.2 898.9,881 899.9,880.7 900.9,880.5 901.9,880.3 902.9,880.2 903.9,880 904.9,879.9 905.9,879.8 906.9,879.7 907.9,879.6 908.9,879.5 909.9,879.4 910.9,879.3 911.9,879.3 912.9,879.2 913.9,879.2 914.9,879.1 915.9,879.1 916.9,879.1 917.9,879.1 918.9,879 919.9,879 920.9,879 921.9,879 922.9,879 923.9,879 924.9,879 925.9,879 926.9,879 927.9,879 928.9,879 929.9,879 930.9,879 931.9,879 932.9,879 933.9,879 934.9,879 935.9,879 936.9,879.1 937.9,879.1 938.9,879.1 939.9,879.1 940.9,879.1 941.9,879.2 942.9,879.2 943.9,879.2 944.9,879.2 945.9,879.3 946.9,879.3 947.9,879.3 948.9,879.4 949.9,879.4 950.9,879.4 951.9,879.5 952.9,879.5 953.9,879.6 954.9,879.6 955.9,879.7 956.9,879.7 957.9,879.8 958.9,879.8 959.9,879.9 960.9,879.9 961.9,880 962.9,880.1 963.9,880.1 964.9,880.2 965.9,880.3 966.9,880.3 967.9,880.4 968.9,880.5 969.9,880.6 970.9,880.7 971.9,880.7 972.9,880.8 973.9,880.9 974.9,881 975.9,881.1 976.9,881.2 977.9,881.4 978.9,881.5 979.9,881.6 980.9,881.7 981.9,881.9 982.9,882 983.9,882.2 984.9,882.3 985.9,882.5 986.9,882.7 987.9,882.9 988.9,883.1 989.9,883.3 990.9,883.5 991.9,883.7 992.9,884 993.9,884.2 994.9,884.5 995.9,884.8 996.9,885.1 997.9,885.4 998.9,885.8 999.9,886.1 1000.9,886.5 1001.9,887 1002.9,887.4 1003.9,887.9 1004.9,888.5 1005.9,889 1006.9,889.7 1007.9,890.4 1008.9,891.1 1009.9,891.9 1010.9,892.9 1011.9,893.9 1012.9,894.9 1013.9,896.2 1014.9,897.5 1015.9,899 1016.9,900.6 1017.9,902.4 1018.9,904.3 1019.9,906.5 1020.9,908.8 1021.9,911.4 1022.9,914.3 1023.9,917.3 1024.9,920.7 1025.9,924.3 1026.9,928.2 1027.9,932.5 1028.9,937 1029.9,941.8 1030.9,946.9 1031.9,952.3 1032.9,957.9 1033.9,963.7 1034.9,969.7 1035.9,975.7 1036.9,981.5 1037.9,987.1 1038.9,992.2 1039.9,996.7 1040.9,1000.2 1041.9,1002.8 1042.9,1004.3 1043.9,1004.8 1044.9,1004.4 1045.9,1003.3 1046.9,1001.8 1047.9,1000.1 1048.9,998.3 1049.9,996.8 1050.9,995.5 1051.9,994.6 1052.9,994.2 1053.9,994.3 1054.9,994.9 1055.9,996 1056.9,997.5 1057.9,999.5 1058.9,1001.9 1059.9,1004.5 1060.9,1007.4 1061.9,1010.3 1062.9,1013.3 1063.9,1016.2 1064.9,1018.9 1065.9,1021.3 1066.9,1023.3 1067.9,1024.9 1068.9,1025.8 1069.9,1026.2 1070.9,1025.8 1071.9,1024.8 1072.9,1023.1 1073.9,1020.6 1074.9,1017.5 1075.9,1013.8 1076.9,1009.5 1077.9,1004.7 1078.9,999.4 1079.9,993.9 1080.9,988.1 1081.9,982.1 1082.9,976.1 1083.9,970.1 1084.9,964.1 1085.9,958.3 1086.9,952.7 1087.9,947.3 1088.9,942.2 1089.9,937.4 1090.9,932.8 1091.9,928.6 1092.9,924.7 1093.9,921.1 1094.9,917.8 1095.9,914.8 1096.9,912 1097.9,909.5 1098.9,907.2 1099.9,905.2 1100.9,903.3 1101.9,901.6 1102.9,900 1103.9,898.6 1104.9,897.4 1105.9,896.2 1106.9,895.2 1107.9,894.2 1108.9,893.3 1109.9,892.5 1110.9,891.8 1111.9,891.1 1112.9,890.4 1113.9,889.9 1114.9,889.3 1115.9,888.8 1116.9,888.4 1117.9,888 1118.9,887.6 1119.9,887.2 1120.9,886.9 1121.9,886.5 1122.9,886.2 1123.9,886 1124.9,885.7 1125.9,885.5 1126.9,885.2 1127.9,885 1128.9,884.8 1129.9,884.6 1130.9,884.5 1131.9,884.3 1132.9,884.1 1133.9,884 1134.9,883.9 1135.9,883.8 1136.9,883.6 1137.9,883.5 1138.9,883.4 1139.9,883.4 1140.9,883.3 1141.9,883.2 1142.9,883.1 1143.9,883.1 1144.9,883 1145.9,883 1146.9,882.9 1147.9,882.9 1148.9,882.9 1149.9,882.9 1150.9,882.8 1151.9,882.8 1152.9,882.8 1153.9,882.8 1154.9,882.8 1155.9,882.9 1156.9,882.9 1157.9,882.9 1158.9,882.9 1159.9,883 1160.9,883 1161.9,883.1 1162.9,883.2 1163.9,883.3 1164.9,883.3 1165.9,883.4 1166.9,883.5 1167.9,883.7 1168.9,883.8 1169.9,884 1170.9,884.1 1171.9,884.3 1172.9,884.5 1173.9,884.7 1174.9,885 1175.9,885.2 1176.9,885.6 1177.9,885.9 1178.9,886.3 1179.9,886.7 1180.9,887.1 1181.9,887.7 1182.9,888.2 1183.9,888.9 1184.9,889.6 1185.9,890.4 1186.9,891.3 1187.9,892.3 1188.9,893.4 1189.9,894.7 1190.9,896 1191.9,897.6 1192.9,899.3 1193.9,901.1 1194.9,903.2 1195.9,905.4 1196.9,907.9 1197.9,910.6 1198.9,913.5 1199.9,916.6 1200.9,920 1201.9,923.7 1202.9,927.6 1203.9,931.7 1204.9,936.1 1205.9,940.7 1206.9,945.6 1207.9,950.6 1208.9,955.9 1209.9,961.3 1210.9,966.8 1211.9,972.5 1212.9,978.2 1213.9,983.9 1214.9,989.6 1215.9,995.3 1216.9,1000.9 1217.9,1006.4 1218.9,1011.7 1219.9,1016.8 1220.9,1021.6 1221.9,1026.2 1222.9,1030.5 1223.9,1034.4 1224.9,1038 1225.9,1041.2 1226.9,1044.1 1227.9,1046.7 1228.9,1048.8 1229.9,1050.7 1230.9,1052.2 1231.9,1053.5 1232.9,1054.5 1233.9,1055.3 1234.9,1056 1235.9,1056.5 1236.9,1056.9 1237.9,1057.2 1238.9,1057.5 1239.9,1057.8 1240.9,1057.9 1241.9,1057.8 1242.9,1057.4 1243.9,1056.5 1244.9,1054.9 1245.9,1052.3 1246.9,1048.5 1247.9,1043.6 1248.9,1037.4 1249.9,1030.2 1250.9,1022.3 1251.9,1013.9 1252.9,1005.3 1253.9,996.7 1254.9,988.3 1255.9,980.3 1256.9,972.6 1257.9,965.3 1258.9,958.5 1259.9,952.1 1260.9,946.2 1261.9,940.8 1262.9,935.7 1263.9,931.1 1264.9,926.8 1265.9,922.9 1266.9,919.3 1267.9,916.1 1268.9,913.1 1269.9,910.4 1270.9,908 1271.9,905.8 1272.9,903.7 1273.9,901.9 1274.9,900.2 1275.9,898.7 1276.9,897.3 1277.9,896.1 1278.9,894.9 1279.9,893.9 1280.9,892.9 1281.9,892 1282.9,891.2 1283.9,890.5 1284.9,889.8 1285.9,889.2 1286.9,888.6 1287.9,888 1288.9,887.5 1289.9,887.1 1290.9,886.6 1291.9,886.2 1292.9,885.8 1293.9,885.5 1294.9,885.1 1295.9,884.8 1296.9,884.5 1297.9,884.2 1298.9,884 1299.9,883.7 1300.9,883.5 1301.9,883.3 1302.9,883.1 1303.9,882.9 1304.9,882.7 1305.9,882.5 1306.9,882.3 1307.9,882.2 1308.9,882 1309.9,881.9 1310.9,881.7 1311.9,881.6 1312.9,881.5 1313.9,881.3 1314.9,881.2 1315.9,881.1 1316.9,881 1317.9,880.9 1318.9,880.8 1319.9,880.7 1320.9,880.6 1321.9,880.6 1322.9,880.5 1323.9,880.4 1324.9,880.3 1325.9,880.3 1326.9,880.2 1327.9,880.1 1328.9,880.1 1329.9,880 1330.9,879.9 1331.9,879.9 1332.9,879.8 1333.9,879.8 1334.9,879.7 1335.9,879.7 1336.9,879.7 1337.9,879.6 1338.9,879.6 1339.9,879.5 1340.9,879.5 1341.9,879.5 1342.9,879.4 1343.9,879.4 1344.9,879.4 1345.9,879.4 1346.9,879.3 1347.9,879.3 1348.9,879.3 1349.9,879.3 1350.9,879.2 1351.9,879.2 1352.9,879.2 1353.9,879.2 1354.9,879.2 1355.9,879.2 1356.9,879.2 1357.9,879.1 1358.9,879.1 1359.9,879.1 1360.9,879.1 1361.9,879.1 1362.9,879.1 1363.9,879.1 1364.9,879.1 1365.9,879.1 1366.9,879.1 1367.9,879.1 1368.9,879.1 1369.9,879.1 1370.9,879.1 1371.9,879.1 1372.9,879.2 1373.9,879.2 1374.9,879.2 1375.9,879.2 1376.9,879.2 1377.9,879.2 1378.9,879.3 1379.9,879.3 1380.9,879.3 1381.9,879.3 1382.9,879.4 1383.9,879.4 1384.9,879.4 1385.9,879.5 1386.9,879.5 1387.9,879.6 1388.9,879.6 1389.9,879.6 1390.9,879.7 1391.9,879.8 1392.9,879.8 1393.9,879.9 1394.9,879.9 1395.9,880 1396.9,880.1 1397.9,880.2 1398.9,880.3 1399.9,880.4 1400.9,880.5 1401.9,880.6 1402.9,880.7 1403.9,880.8 1404.9,880.9 1405.9,881.1 1406.9,881.2 1407.9,881.4 1408.9,881.6 1409.9,881.7 1410.9,881.9 1411.9,882.2 1412.9,882.4 1413.9,882.6 1414.9,882.9 1415.9,883.2 1416.9,883.5 1417.9,883.9 1418.9,884.3 1419.9,884.7 1420.9,885.2 1421.9,885.7 1422.9,886.2 1423.9,886.8 1424.9,887.5 1425.9,888.2 1426.9,889 1427.9,889.8 1428.9,890.7 1429.9,891.8 1430.9,892.9 1431.9,894.1 1432.9,895.3 1433.9,896.7 1434.9,898.2 1435.9,899.7 1436.9,901.3 1437.9,902.9 1438.9,904.6 1439.9,906.3 1440.9,908 1441.9,909.6 1442.9,911.1 1443.9,912.6 1444.9,913.8 1445.9,914.9 1446.9,915.9 1447.9,916.5 1448.9,917 1449.9,917.1 1450.9,917 1451.9,916.7 1452.9,916.1 1453.9,915.2 1454.9,914.2 1455.9,912.9 1456.9,911.5 1457.9,910 1458.9,908.4 1459.9,906.8 1460.9,905.1 1461.9,903.5 1462.9,901.8 1463.9,900.2 1464.9,898.7 1465.9,897.2 1466.9,895.8 1467.9,894.6 1468.9,893.4 1469.9,892.2 1470.9,891.2 1471.9,890.3 1472.9,889.4 1473.9,888.6 1474.9,887.9 1475.9,887.3 1476.9,886.7 1477.9,886.1 1478.9,885.6 1479.9,885.2 1480.9,884.8 1481.9,884.4 1482.9,884 1483.9,883.7 1484.9,883.4 1485.9,883.2 1486.9,883 1487.9,882.8 1488.9,882.6 1489.9,882.4 1490.9,882.3 1491.9,882.2 1492.9,882.1 1493.9,882 1494.9,882 1495.9,882 1496.9,882.1 1497.9,882.2 1498.9,882.4 1499.9,882.6 1500.9,883 1501.9,883.4 1502.9,883.9 1503.9,884.5 1504.9,885.2 1505.9,886 1506.9,887 1507.9,888 1508.9,889.2 1509.9,890.4 1510.9,891.7 1511.9,893.1 1512.9,894.5 1513.9,895.9 1514.9,897.3 1515.9,898.6 1516.9,899.9 1517.9,901 1518.9,902 1519.9,902.8 1520.9,903.5 1521.9,904.3 1522.9,904.6 1523.9,903.9 1524.9,903.2 1525.9,902.5 1526.9,901.6 1527.9,900.6 1528.9,899.4 1529.9,898.2 1530.9,896.8 1531.9,895.5 1532.9,894.1 1533.9,892.7 1534.9,891.4 1535.9,890.2 1536.9,889.1 1537.9,888 1538.9,887.1 1539.9,886.2 1540.9,885.5 1541.9,884.9 1542.9,884.4 1543.9,884 1544.9,883.7 1545.9,883.5 1546.9,883.3 1547.9,883.2 1548.9,883.1 1549.9,883.2 1550.9,883.2 1551.9,883.3 1552.9,883.4 1553.9,883.5 1554.9,883.7 1555.9,883.8 1556.9,884 1557.9,884.2 1558.9,884.4 1559.9,884.6 1560.9,884.9 1561.9,885.1 1562.9,885.3 1563.9,885.6 1564.9,885.9 1565.9,886.1 1566.9,886.4 1567.9,886.7 1568.9,887 1569.9,887.3 1570.9,887.6 1571.9,887.9 1572.9,888.3 1573.9,888.6 1574.9,888.9 1575.9,889.3 1576.9,889.6 1577.9,890 1578.9,890.4 1579.9,890.8 1580.9,891.2 1581.9,891.6 1582.9,892 1583.9,892.4 1584.9,892.8 1585.9,893.3 1586.9,893.7 1587.9,894.2 1588.9,894.7 1589.9,895.3 1590.9,895.8 1591.9,896.4 1592.9,897 1593.9,897.6 1594.9,898.3 1595.9,899 1596.9,899.7 1597.9,900.5 1598.9,901.3 1599.9,902.2 1600.9,903.1 1601.9,904.2 1602.9,905.2 1603.9,906.4 1604.9,907.6 1605.9,909 1606.9,910.4 1607.9,911.9 1608.9,913.6 1609.9,915.3 1610.9,917.2 1611.9,919.2 1612.9,921.4 1613.9,923.7 1614.9,926.1 1615.9,928.7 1616.9,931.5 1617.9,934.5 1618.9,937.7 1619.9,941 1620.9,944.5 1621.9,948.3 1622.9,952.2 1623.9,956.3 1624.9,960.6 1625.9,965.2 1626.9,969.9 1627.9,974.9 1628.9,980 1629.9,985.3 1630.9,990.8 1631.9,996.5 1632.9,1002.3 1633.9,1008.2 1634.9,1014.3 1635.9,1020.5 1636.9,1026.8 1637.9,1033.2 1638.9,1039.6 1639.9,1046 1640.9,1052.5 1641.9,1058.9 1642.9,1065.2 1643.9,1071.5 1644.9,1077.6 1645.9,1083.6 1646.9,1089.4 1647.9,1095 1648.9,1100.4 1649.9,1105.5 1650.9,1110.3 1651.9,1114.8 1652.9,1118.9 1653.9,1122.7 1654.9,1126 1655.9,1129 1656.9,1131.5 1657.9,1133.5 1658.9,1135.1 1659.9,1136.2 1660.9,1136.8 1661.9,1137 1662.9,1136.6 1663.9,1135.8 1664.9,1134.5 1665.9,1132.7 1666.9,1130.4 1667.9,1127.7 1668.9,1124.6 1669.9,1121.1 1670.9,1117.1 1671.9,1112.8 1672.9,1108.2 1673.9,1103.3 1674.9,1098 1675.9,1092.5 1676.9,1086.8 1677.9,1080.9 1678.9,1074.8 1679.9,1068.6 1680.9,1062.3 1681.9,1055.9 1682.9,1049.4 1683.9,1042.9 1684.9,1036.5 1685.9,1030.1 1686.9,1023.7 1687.9,1017.4 1688.9,1011.2 1689.9,1005.1 1690.9,999.1 1691.9,993.3 1692.9,987.7 1693.9,982.2 1694.9,976.9 1695.9,971.8 1696.9,966.9 1697.9,962.2 1698.9,957.7 1699.9,953.4 1700.9,949.3 1701.9,945.5 1702.9,941.8 1703.9,938.3 1704.9,935 1705.9,931.9 1706.9,929 1707.9,926.3 1708.9,923.7 1709.9,921.3 1710.9,919.1 1711.9,917.1 1712.9,915.1 1713.9,913.4 1714.9,911.7 1715.9,910.2 1716.9,908.8 1717.9,907.5 1718.9,906.3 1719.9,905.3 1720.9,904.3 1721.9,903.4 1722.9,902.6 1723.9,901.9 1724.9,901.2 1725.9,900.6 1726.9,900.1 1727.9,899.7 1728.9,899.3 1729.9,899 1730.9,898.7 1731.9,898.5 1732.9,898.3 1733.9,898.2 1734.9,898.1 1735.9,898.1 1736.9,898.1 1737.9,898.1 1738.9,898.2 1739.9,898.4 1740.9,898.5 1741.9,898.8 1742.9,899 1743.9,899.3 1744.9,899.7 1745.9,900.1 1746.9,900.5 1747.9,901 1748.9,901.5 1749.9,902.1 1750.9,902.7 1751.9,903.4 1752.9,904.2 1753.9,905 1754.9,905.8 1755.9,906.8 1756.9,907.8 1757.9,908.9 1758.9,910 1759.9,911.3 1760.9,912.6 1761.9,914.1 1762.9,915.6 1763.9,917.3 1764.9,919 1765.9,921 1766.9,923 1767.9,925.2 1768.9,927.6 1769.9,930.1 1770.9,932.9 1771.9,935.8 1772.9,939 1773.9,942.3 1774.9,946 1775.9,949.8 1776.9,954 1777.9,958.4 1778.9,963.1 1779.9,968.2 1780.9,973.5 1781.9,979.1 1782.9,985.1 1783.9,991.3 1784.9,997.7 1785.9,1004.5 1786.9,1011.4 1787.9,1018.4 1788.9,1025.5 1789.9,1032.6 1790.9,1039.6 1791.9,1046.4 1792.9,1053 1793.9,1059.1 1794.9,1064.8 1795.9,1069.8 1796.9,1074.1 1797.9,1077.6 1798.9,1080.2 1799.9,1081.9 1800.9,1082.6 1801.9,1082.1 1802.9,1080 1803.9,1076.3 1804.9,1071.3 1805.9,1065 1806.9,1057.7 1807.9,1049.5 1808.9,1040.8 1809.9,1031.8 1810.9,1022.6 1811.9,1013.4 1812.9,1004.4 1813.9,995.7 1814.9,987.4 1815.9,979.5 1816.9,972.1 1817.9,965.2 1818.9,958.7 1819.9,952.8 1820.9,947.3 1821.9,942.3 1822.9,937.7 1823.9,933.4 1824.9,929.5 1825.9,926 1826.9,922.7 1827.9,919.7 1828.9,916.9 1829.9,914.3 1830.9,912 1831.9,909.8 1832.9,907.8 1833.9,906 1834.9,904.2 1835.9,902.6 1836.9,901.2 1837.9,899.8 1838.9,898.5 1839.9,897.3 1840.9,896.2 1841.9,895.1 1842.9,894.2 1843.9,893.2 1844.9,892.4 1845.9,891.6 1846.9,890.8 1847.9,890.1 1848.9,889.4 1849.9,888.8 1850.9,888.1 1851.9,887.6 1852.9,887 1853.9,886.5 1854.9,886 1855.9,885.6 1856.9,885.1 1857.9,884.7 1858.9,884.3 1859.9,883.9 1860.9,883.6 1861.9,883.2 1862.9,882.9 1863.9,882.6 1864.9,882.3 1865.9,882 1866.9,881.7 1867.9,881.4 1868.9,881.2 1869.9,880.9 1870.9,880.7 1871.9,880.5 1872.9,880.2 1873.9,880 1874.9,879.8 1875.9,879.6 1876.9,879.5 1877.9,879.3 1878.9,879.1 1879.9,878.9 1880.9,878.8 1881.9,878.6 1882.9,878.5 1883.9,878.3 1884.9,878.2 1885.9,878 1886.9,877.9 1887.9,877.8 1888.9,877.7 1889.9,877.5 1890.9,877.4 1891.9,877.3 1892.9,877.2 1893.9,877.1 1894.9,877 1895.9,876.9 1896.9,876.8 1897.9,876.7 1898.9,876.6 1899.9,876.5 1900.9,876.4 1901.9,876.4 1902.9,876.3 1903.9,876.2 1904.9,876.1 1905.9,876 1906.9,876 1907.9,875.9 1908.9,875.8 1909.9,875.8 1910.9,875.7 1911.9,875.6 1912.9,875.6 1913.9,875.5 1914.9,875.4 1915.9,875.4 1916.9,875.3 1917.9,875.3 1918.9,875.2 1919.9,875.2 1920.9,875.1 1921.9,875.1 1922.9,875 1923.9,875 1924.9,874.9 1925.9,874.9 1926.9,874.8 1927.9,874.8 1928.9,874.7 1929.9,874.7 1930.9,874.7 1931.9,874.6 1932.9,874.6 1933.9,874.5 1934.9,874.5 1935.9,874.5 1936.9,874.4 1937.9,874.4 1938.9,874.4 1939.9,874.3 1940.9,874.3 1941.9,874.3 1942.9,874.2 1943.9,874.2 1944.9,874.2 1945.9,874.1 1946.9,874.1 1947.9,874.1 1948.9,874 1949.9,874 1950.9,874 1951.9,874 1952.9,873.9 1953.9,873.9 1954.9,873.9 1955.9,873.9 1956.9,873.8 1957.9,873.8 1958.9,873.8 1959.9,873.8 1960.9,873.7 1961.9,873.7 1962.9,873.7 1963.9,873.7 1964.9,873.6 1965.9,873.6 1966.9,873.6 1967.9,873.6 1968.9,873.6 1969.9,873.5 1970.9,873.5 1971.9,873.5 1972.9,873.5 1973.9,873.5 1974.9,873.4 1975.9,873.4 1976.9,873.4 1977.9,873.4 1978,873.4" stroke="#ff0000" stroke-width="6" fill="none" stroke-linejoin="round"/>
<path d="M270,871.9h7.8v7.8h-7.8zM273.3,869.3h7.8v7.8h-7.8zM276.7,858.1h7.8v7.8h-7.8zM280,859.7h7.8v7.8h-7.8zM283.3,861.4h7.8v7.8h-7.8zM286.7,870.8h7.8v7.8h-7.8zM290,864.4h7.8v7.8h-7.8zM293.3,851.3h7.8v7.8h-7.8zM296.7,867h7.8v7.8h-7.8zM300,877h7.8v7.8h-7.8zM303.3,879.3h7.8v7.8h-7.8zM306.7,875h7.8v7.8h-7.8zM310,879.8h7.8v7.8h-7.8zM313.4,874.4h7.8v7.8h-7.8zM316.7,864.9h7.8v7.8h-7.8zM320,865.1h7.8v7.8h-7.8zM323.4,861.7h7.8v7.8h-7.8zM326.7,862.8h7.8v7.8h-7.8zM330,874.1h7.8v7.8h-7.8zM333.4,869.5h7.8v7.8h-7.8zM336.7,872.7h7.8v7.8h-7.8zM340,870.1h7.8v7.8h-7.8zM343.4,858.7h7.8v7.8h-7.8zM346.7,882.3h7.8v7.8h-7.8zM350,868.7h7.8v7.8h-7.8zM353.4,868.7h7.8v7.8h-7.8zM356.7,868.3h7.8v7.8h-7.8zM360,877.3h7.8v7.8h-7.8zM363.4,859.1h7.8v7.8h-7.8zM366.7,872.5h7.8v7.8h-7.8zM370,875.8h7.8v7.8h-7.8zM373.4,873.9h7.8v7.8h-7.8zM376.7,873.2h7.8v7.8h-7.8zM380,865.5h7.8v7.8h-7.8zM383.4,876.5h7.8v7.8h-7.8zM386.7,865.7h7.8v7.8h-7.8zM390.1,881.8h7.8v7.8h-7.8zM393.4,886.7h7.8v7.8h-7.8zM396.7,874.6h7.8v7.8h-7.8zM400.1,880.3h7.8v7.8h-7.8zM403.4,869.6h7.8v7.8h-7.8zM406.7,868.9h7.8v7.8h-7.8zM410.1,869.2h7.8v7.8h-7.8zM413.4,871.1h7.8v7.8h-7.8zM416.7,876.5h7.8v7.8h-7.8zM420.1,876.1h7.8v7.8h-7.8zM423.4,883.3h7.8v7.8h-7.8zM426.7,876.5h7.8v7.8h-7.8zM430.1,889h7.8v7.8h-7.8zM433.4,876.2h7.8v7.8h-7.8zM436.7,893.1h7.8v7.8h-7.8zM440.1,895.8h7.8v7.8h-7.8zM443.4,898.2h7.8v7.8h-7.8zM446.7,911h7.8v7.8h-7.8zM450.1,905.1h7.8v7.8h-7.8zM453.4,913.4h7.8v7.8h-7.8zM456.8,916.8h7.8v7.8h-7.8zM460.1,924.9h7.8v7.8h-7.8zM463.4,943.9h7.8v7.8h-7.8zM466.8,950.4h7.8v7.8h-7.8zM470.1,1002.4h7.8v7.8h-7.8zM473.4,1019.3h7.8v7.8h-7.8zM476.8,1040.3h7.8v7.8h-7.8zM480.1,1065.5h7.8v7.8h-7.8zM483.4,1088.8h7.8v7.8h-7.8zM486.8,1086.1h7.8v7.8h-7.8zM490.1,1056.6h7.8v7.8h-7.8zM493.4,1049.5h7.8v7.8h-7.8zM496.8,1029.7h7.8v7.8h-7.8zM500.1,1003.6h7.8v7.8h-7.8zM503.4,990.2h7.8v7.8h-7.8zM506.8,973.1h7.8v7.8h-7.8zM510.1,957.7h7.8v7.8h-7.8zM513.4,938.5h7.8v7.8h-7.8zM516.8,930.8h7.8v7.8h-7.8zM520.1,901.6h7.8v7.8h-7.8zM523.4,914h7.8v7.8h-7.8zM526.8,898.1h7.8v7.8h-7.8zM530.1,912.2h7.8v7.8h-7.8zM533.5,912.6h7.8v7.8h-7.8zM536.8,889.8h7.8v7.8h-7.8zM540.1,888.9h7.8v7.8h-7.8zM543.5,897.1h7.8v7.8h-7.8zM546.8,895.3h7.8v7.8h-7.8zM550.1,897.5h7.8v7.8h-7.8zM553.5,889.7h7.8v7.8h-7.8zM556.8,894.1h7.8v7.8h-7.8zM560.1,891.4h7.8v7.8h-7.8zM563.5,895.1h7.8v7.8h-7.8zM566.8,887.7h7.8v7.8h-7.8zM570.1,882.6h7.8v7.8h-7.8zM573.5,893.1h7.8v7.8h-7.8zM576.8,894.5h7.8v7.8h-7.8zM580.1,899h7.8v7.8h-7.8zM583.5,899.3h7.8v7.8h-7.8zM586.8,919.5h7.8v7.8h-7.8zM590.1,919.8h7.8v7.8h-7.8zM593.5,941.1h7.8v7.8h-7.8zM596.8,948.7h7.8v7.8h-7.8zM600.1,963.6h7.8v7.8h-7.8zM603.5,977.6h7.8v7.8h-7.8zM606.8,988.8h7.8v7.8h-7.8zM610.2,1010h7.8v7.8h-7.8zM613.5,1032.6h7.8v7.8h-7.8zM616.8,1057.7h7.8v7.8h-7.8zM620.2,1074.1h7.8v7.8h-7.8zM623.5,1094.8h7.8v7.8h-7.8zM626.8,1116h7.8v7.8h-7.8zM630.2,1124.2h7.8v7.8h-7.8zM633.5,1142.3h7.8v7.8h-7.8zM636.8,1149h7.8v7.8h-7.8zM640.2,1147.5h7.8v7.8h-7.8zM643.5,1138.9h7.8v7.8h-7.8zM646.8,1126.1h7.8v7.8h-7.8zM650.2,1114.1h7.8v7.8h-7.8zM653.5,1095.1h7.8v7.8h-7.8zM656.8,1067.2h7.8v7.8h-7.8zM660.2,1045.2h7.8v7.8h-7.8zM663.5,1024.3h7.8v7.8h-7.8zM666.8,1002.4h7.8v7.8h-7.8zM670.2,982.4h7.8v7.8h-7.8zM673.5,967.9h7.8v7.8h-7.8zM676.8,951.4h7.8v7.8h-7.8zM680.2,940.5h7.8v7.8h-7.8zM683.5,930.7h7.8v7.8h-7.8zM686.9,915.1h7.8v7.8h-7.8zM690.2,910.4h7.8v7.8h-7.8zM693.5,906.1h7.8v7.8h-7.8zM696.9,903.6h7.8v7.8h-7.8zM700.2,896.7h7.8v7.8h-7.8zM703.5,905.4h7.8v7.8h-7.8zM706.9,898.3h7.8v7.8h-7.8zM710.2,896.3h7.8v7.8h-7.8zM713.5,885.4h7.8v7.8h-7.8zM716.9,904.8h7.8v7.8h-7.8zM720.2,888h7.8v7.8h-7.8zM723.5,891.7h7.8v7.8h-7.8zM726.9,891.7h7.8v7.8h-7.8zM730.2,895.2h7.8v7.8h-7.8zM733.5,880.6h7.8v7.8h-7.8zM736.9,887.3h7.8v7.8h-7.8zM740.2,887.6h7.8v7.8h-7.8zM743.5,885.5h7.8v7.8h-7.8zM746.9,894.7h7.8v7.8h-7.8zM750.2,898.2h7.8v7.8h-7.8zM753.6,891.2h7.8v7.8h-7.8zM756.9,894.4h7.8v7.8h-7.8zM760.2,904.4h7.8v7.8h-7.8zM763.6,905.4h7.8v7.8h-7.8zM766.9,894.6h7.8v7.8h-7.8zM770.2,903.2h7.8v7.8h-7.8zM773.6,890.1h7.8v7.8h-7.8zM776.9,901.4h7.8v7.8h-7.8zM780.2,887.6h7.8v7.8h-7.8zM783.6,892.4h7.8v7.8h-7.8zM786.9,882.3h7.8v7.8h-7.8zM790.2,880.5h7.8v7.8h-7.8zM793.6,885.4h7.8v7.8h-7.8zM796.9,887.8h7.8v7.8h-7.8zM800.2,885.8h7.8v7.8h-7.8zM803.6,877.4h7.8v7.8h-7.8zM806.9,866.3h7.8v7.8h-7.8zM810.2,873.9h7.8v7.8h-7.8zM813.6,884.2h7.8v7.8h-7.8zM816.9,886h7.8v7.8h-7.8zM820.2,879.5h7.8v7.8h-7.8zM823.6,891.7h7.8v7.8h-7.8zM826.9,876.8h7.8v7.8h-7.8zM830.3,891.2h7.8v7.8h-7.8zM833.6,909h7.8v7.8h-7.8zM836.9,906.3h7.8v7.8h-7.8zM840.3,907.4h7.8v7.8h-7.8zM843.6,907.5h7.8v7.8h-7.8zM846.9,913.7h7.8v7.8h-7.8zM850.3,922.6h7.8v7.8h-7.8zM853.6,909.3h7.8v7.8h-7.8zM856.9,915.1h7.8v7.8h-7.8zM860.3,912.4h7.8v7.8h-7.8zM863.6,911.9h7.8v7.8h-7.8zM866.9,900.7h7.8v7.8h-7.8zM870.3,892.6h7.8v7.8h-7.8zM873.6,889.5h7.8v7.8h-7.8zM876.9,890.4h7.8v7.8h-7.8zM880.3,894.7h7.8v7.8h-7.8zM883.6,882h7.8v7.8h-7.8zM886.9,879.6h7.8v7.8h-7.8zM890.3,875.7h7.8v7.8h-7.8zM893.6,872.6h7.8v7.8h-7.8zM896.9,886.6h7.8v7.8h-7.8zM900.3,876.3h7.8v7.8h-7.8zM903.6,873.1h7.8v7.8h-7.8zM907,870.7h7.8v7.8h-7.8zM910.3,863h7.8v7.8h-7.8zM913.6,880.9h7.8v7.8h-7.8zM917,880.4h7.8v7.8h-7.8zM920.3,865.2h7.8v7.8h-7.8zM923.6,888.3h7.8v7.8h-7.8zM927,888.8h7.8v7.8h-7.8zM930.3,866.8h7.8v7.8h-7.8zM933.6,869.5h7.8v7.8h-7.8zM937,869.3h7.8v7.8h-7.8zM940.3,878.9h7.8v7.8h-7.8zM943.6,870.2h7.8v7.8h-7.8zM947,871.4h7.8v7.8h-7.8zM950.3,882.4h7.8v7.8h-7.8zM953.6,871.7h7.8v7.8h-7.8zM957,874.9h7.8v7.8h-7.8zM960.3,873.5h7.8v7.8h-7.8zM963.6,881.4h7.8v7.8h-7.8zM967,865.5h7.8v7.8h-7.8zM970.3,874.8h7.8v7.8h-7.8zM973.6,882.6h7.8v7.8h-7.8zM977,879.7h7.8v7.8h-7.8zM980.3,867.2h7.8v7.8h-7.8zM983.7,878.5h7.8v7.8h-7.8zM987,882.6h7.8v7.8h-7.8zM990.3,877h7.8v7.8h-7.8zM993.7,881.9h7.8v7.8h-7.8zM997,877.8h7.8v7.8h-7.8zM1000.3,878.3h7.8v7.8h-7.8zM1003.7,898.3h7.8v7.8h-7.8zM1007,890.2h7.8v7.8h-7.8zM1010.3,895.9h7.8v7.8h-7.8zM1013.7,899.2h7.8v7.8h-7.8zM1017,911.5h7.8v7.8h-7.8zM1020.3,916.3h7.8v7.8h-7.8zM1023.7,939h7.8v7.8h-7.8zM1027,941.3h7.8v7.8h-7.8zM1030.3,962.7h7.8v7.8h-7.8zM1033.7,984.2h7.8v7.8h-7.8zM1037,997.4h7.8v7.8h-7.8zM1040.3,1009.8h7.8v7.8h-7.8zM1043.7,1008.3h7.8v7.8h-7.8zM1047,990.4h7.8v7.8h-7.8zM1050.4,996.6h7.8v7.8h-7.8zM1053.7,1002.4h7.8v7.8h-7.8zM1057,1010.3h7.8v7.8h-7.8zM1060.4,1010.5h7.8v7.8h-7.8zM1063.7,1027.5h7.8v7.8h-7.8zM1067,1024.4h7.8v7.8h-7.8zM1070.4,1024.1h7.8v7.8h-7.8zM1073.7,995.3h7.8v7.8h-7.8zM1077,994.1h7.8v7.8h-7.8zM1080.4,968.3h7.8v7.8h-7.8zM1083.7,951.1h7.8v7.8h-7.8zM1087,933.4h7.8v7.8h-7.8zM1090.4,917.4h7.8v7.8h-7.8zM1093.7,917.3h7.8v7.8h-7.8zM1097,905.7h7.8v7.8h-7.8zM1100.4,891.2h7.8v7.8h-7.8zM1103.7,897.1h7.8v7.8h-7.8zM1107,893.2h7.8v7.8h-7.8zM1110.4,883.3h7.8v7.8h-7.8zM1113.7,894.3h7.8v7.8h-7.8zM1117,875.6h7.8v7.8h-7.8zM1120.4,877.7h7.8v7.8h-7.8zM1123.7,881.6h7.8v7.8h-7.8zM1127.1,890.5h7.8v7.8h-7.8zM1130.4,874.2h7.8v7.8h-7.8zM1133.7,871.2h7.8v7.8h-7.8zM1137.1,895h7.8v7.8h-7.8zM1140.4,885.2h7.8v7.8h-7.8zM1143.7,885.2h7.8v7.8h-7.8zM1147.1,888.3h7.8v7.8h-7.8zM1150.4,873.4h7.8v7.8h-7.8zM1153.7,874.4h7.8v7.8h-7.8zM1157.1,894.2h7.8v7.8h-7.8zM1160.4,877.8h7.8v7.8h-7.8zM1163.7,884.7h7.8v7.8h-7.8zM1167.1,882.2h7.8v7.8h-7.8zM1170.4,880.7h7.8v7.8h-7.8zM1173.7,878.1h7.8v7.8h-7.8zM1177.1,868.3h7.8v7.8h-7.8zM1180.4,886.5h7.8v7.8h-7.8zM1183.7,892.5h7.8v7.8h-7.8zM1187.1,891.2h7.8v7.8h-7.8zM1190.4,901.1h7.8v7.8h-7.8zM1193.7,906.4h7.8v7.8h-7.8zM1197.1,916.1h7.8v7.8h-7.8zM1200.4,927.2h7.8v7.8h-7.8zM1203.8,957.3h7.8v7.8h-7.8zM1207.1,964h7.8v7.8h-7.8zM1210.4,981.6h7.8v7.8h-7.8zM1213.8,1012h7.8v7.8h-7.8zM1217.1,1015.5h7.8v7.8h-7.8zM1220.4,1034.1h7.8v7.8h-7.8zM1223.8,1040.7h7.8v7.8h-7.8zM1227.1,1057.6h7.8v7.8h-7.8zM1230.4,1054.7h7.8v7.8h-7.8zM1233.8,1051.4h7.8v7.8h-7.8zM1237.1,1056.3h7.8v7.8h-7.8zM1240.4,1061.4h7.8v7.8h-7.8zM1243.8,1035h7.8v7.8h-7.8zM1247.1,1009.9h7.8v7.8h-7.8zM1250.4,994.9h7.8v7.8h-7.8zM1253.8,970.4h7.8v7.8h-7.8zM1257.1,935.4h7.8v7.8h-7.8zM1260.4,921.3h7.8v7.8h-7.8zM1263.8,907.2h7.8v7.8h-7.8zM1267.1,913.2h7.8v7.8h-7.8zM1270.5,904.9h7.8v7.8h-7.8zM1273.8,897.5h7.8v7.8h-7.8zM1277.1,884.3h7.8v7.8h-7.8zM1280.5,896.3h7.8v7.8h-7.8zM1283.8,880.1h7.8v7.8h-7.8zM1287.1,881.5h7.8v7.8h-7.8zM1290.5,892h7.8v7.8h-7.8zM1293.8,888.7h7.8v7.8h-7.8zM1297.1,890.6h7.8v7.8h-7.8zM1300.5,887h7.8v7.8h-7.8zM1303.8,883.7h7.8v7.8h-7.8zM1307.1,875h7.8v7.8h-7.8zM1310.5,879.7h7.8v7.8h-7.8zM1313.8,875h7.8v7.8h-7.8zM1317.1,867.6h7.8v7.8h-7.8zM1320.5,878.8h7.8v7.8h-7.8zM1323.8,881.2h7.8v7.8h-7.8zM1327.1,877.5h7.8v7.8h-7.8zM1330.5,867h7.8v7.8h-7.8zM1333.8,873.8h7.8v7.8h-7.8zM1337.1,873.7h7.8v7.8h-7.8zM1340.5,875.5h7.8v7.8h-7.8zM1343.8,865.2h7.8v7.8h-7.8zM1347.2,878.5h7.8v7.8h-7.8zM1350.5,875.7h7.8v7.8h-7.8zM1353.8,880.7h7.8v7.8h-7.8zM1357.2,875.5h7.8v7.8h-7.8zM1360.5,883.2h7.8v7.8h-7.8zM1363.8,869.7h7.8v7.8h-7.8zM1367.2,888.2h7.8v7.8h-7.8zM1370.5,873.8h7.8v7.8h-7.8zM1373.8,886.1h7.8v7.8h-7.8zM1377.2,885.1h7.8v7.8h-7.8zM1380.5,883.2h7.8v7.8h-7.8zM1383.8,871.1h7.8v7.8h-7.8zM1387.2,881.9h7.8v7.8h-7.8zM1390.5,873.4h7.8v7.8h-7.8zM1393.8,883h7.8v7.8h-7.8zM1397.2,881.2h7.8v7.8h-7.8zM1400.5,877h7.8v7.8h-7.8zM1403.8,880.4h7.8v7.8h-7.8zM1407.2,877.6h7.8v7.8h-7.8zM1410.5,872.9h7.8v7.8h-7.8zM1413.8,893.8h7.8v7.8h-7.8zM1417.2,883.7h7.8v7.8h-7.8zM1420.5,891.4h7.8v7.8h-7.8zM1423.9,888.7h7.8v7.8h-7.8zM1427.2,897.6h7.8v7.8h-7.8zM1430.5,900h7.8v7.8h-7.8zM1433.9,904.4h7.8v7.8h-7.8zM1437.2,902.2h7.8v7.8h-7.8zM1440.5,902.5h7.8v7.8h-7.8zM1443.9,908.2h7.8v7.8h-7.8zM1447.2,920.7h7.8v7.8h-7.8zM1450.5,898.9h7.8v7.8h-7.8zM1453.9,910.6h7.8v7.8h-7.8zM1457.2,898.6h7.8v7.8h-7.8zM1460.5,908.3h7.8v7.8h-7.8zM1463.9,899.3h7.8v7.8h-7.8zM1467.2,898.1h7.8v7.8h-7.8zM1470.5,895.2h7.8v7.8h-7.8zM1473.9,881.8h7.8v7.8h-7.8zM1477.2,890.3h7.8v7.8h-7.8zM1480.5,881.1h7.8v7.8h-7.8zM1483.9,874.3h7.8v7.8h-7.8zM1487.2,889.3h7.8v7.8h-7.8zM1490.5,868.2h7.8v7.8h-7.8zM1493.9,886.3h7.8v7.8h-7.8zM1497.2,886.9h7.8v7.8h-7.8zM1500.6,889.2h7.8v7.8h-7.8zM1503.9,879.6h7.8v7.8h-7.8zM1507.2,896.2h7.8v7.8h-7.8zM1510.6,899.7h7.8v7.8h-7.8zM1513.9,914.7h7.8v7.8h-7.8zM1517.2,904.1h7.8v7.8h-7.8zM1520.6,899.2h7.8v7.8h-7.8zM1523.9,888.3h7.8v7.8h-7.8zM1527.2,887.4h7.8v7.8h-7.8zM1530.6,893.8h7.8v7.8h-7.8zM1533.9,875.5h7.8v7.8h-7.8zM1537.2,886.7h7.8v7.8h-7.8zM1540.6,887.9h7.8v7.8h-7.8zM1543.9,873.6h7.8v7.8h-7.8zM1547.2,874.9h7.8v7.8h-7.8zM1550.6,875.2h7.8v7.8h-7.8zM1553.9,884.6h7.8v7.8h-7.8zM1557.2,888.7h7.8v7.8h-7.8zM1560.6,887.5h7.8v7.8h-7.8zM1563.9,888.4h7.8v7.8h-7.8zM1567.3,888h7.8v7.8h-7.8zM1570.6,885.1h7.8v7.8h-7.8zM1573.9,873.8h7.8v7.8h-7.8zM1577.3,884.3h7.8v7.8h-7.8zM1580.6,884.6h7.8v7.8h-7.8zM1583.9,890.4h7.8v7.8h-7.8zM1587.3,888.9h7.8v7.8h-7.8zM1590.6,886.7h7.8v7.8h-7.8zM1593.9,907.3h7.8v7.8h-7.8zM1597.3,908h7.8v7.8h-7.8zM1600.6,900h7.8v7.8h-7.8zM1603.9,908.2h7.8v7.8h-7.8zM1607.3,919h7.8v7.8h-7.8zM1610.6,922.9h7.8v7.8h-7.8zM1613.9,925.5h7.8v7.8h-7.8zM1617.3,943.2h7.8v7.8h-7.8zM1620.6,958.3h7.8v7.8h-7.8zM1623.9,972.4h7.8v7.8h-7.8zM1627.3,978.3h7.8v7.8h-7.8zM1630.6,1021.7h7.8v7.8h-7.8zM1633.9,1031.5h7.8v7.8h-7.8zM1637.3,1050.1h7.8v7.8h-7.8zM1640.6,1082h7.8v7.8h-7.8zM1644,1089.5h7.8v7.8h-7.8zM1647.3,1123h7.8v7.8h-7.8zM1650.6,1122.2h7.8v7.8h-7.8zM1654,1142.7h7.8v7.8h-7.8zM1657.3,1147.9h7.8v7.8h-7.8zM1660.6,1142.2h7.8v7.8h-7.8zM1664,1129.9h7.8v7.8h-7.8zM1667.3,1122.5h7.8v7.8h-7.8zM1670.6,1108h7.8v7.8h-7.8zM1674,1083.3h7.8v7.8h-7.8zM1677.3,1069.2h7.8v7.8h-7.8zM1680.6,1040.8h7.8v7.8h-7.8zM1684,1014.4h7.8v7.8h-7.8zM1687.3,988.5h7.8v7.8h-7.8zM1690.6,988.1h7.8v7.8h-7.8zM1694,962.7h7.8v7.8h-7.8zM1697.3,951.2h7.8v7.8h-7.8zM1700.6,939.3h7.8v7.8h-7.8zM1704,920.7h7.8v7.8h-7.8zM1707.3,930.6h7.8v7.8h-7.8zM1710.6,911.7h7.8v7.8h-7.8zM1714,904.4h7.8v7.8h-7.8zM1717.3,895.1h7.8v7.8h-7.8zM1720.7,895.1h7.8v7.8h-7.8zM1724,895.8h7.8v7.8h-7.8zM1727.3,891.7h7.8v7.8h-7.8zM1730.7,883.2h7.8v7.8h-7.8zM1734,885.8h7.8v7.8h-7.8zM1737.3,898.7h7.8v7.8h-7.8zM1740.7,899.2h7.8v7.8h-7.8zM1744,903.9h7.8v7.8h-7.8zM1747.3,892.7h7.8v7.8h-7.8zM1750.7,907.2h7.8v7.8h-7.8zM1754,913.2h7.8v7.8h-7.8zM1757.3,908.4h7.8v7.8h-7.8zM1760.7,915.8h7.8v7.8h-7.8zM1764,933.3h7.8v7.8h-7.8zM1767.3,928.5h7.8v7.8h-7.8zM1770.7,948.3h7.8v7.8h-7.8zM1774,951.3h7.8v7.8h-7.8zM1777.3,981.7h7.8v7.8h-7.8zM1780.7,995.3h7.8v7.8h-7.8zM1784,1030.6h7.8v7.8h-7.8zM1787.3,1061.1h7.8v7.8h-7.8zM1790.7,1074.2h7.8v7.8h-7.8zM1794,1088.7h7.8v7.8h-7.8zM1797.4,1087.8h7.8v7.8h-7.8zM1800.7,1075.4h7.8v7.8h-7.8zM1804,1056.6h7.8v7.8h-7.8zM1807.4,1028.5h7.8v7.8h-7.8zM1810.7,990.1h7.8v7.8h-7.8zM1814,970.7h7.8v7.8h-7.8zM1817.4,939.5h7.8v7.8h-7.8zM1820.7,928.8h7.8v7.8h-7.8zM1824,906.1h7.8v7.8h-7.8zM1827.4,907.2h7.8v7.8h-7.8zM1830.7,907.3h7.8v7.8h-7.8zM1834,906.8h7.8v7.8h-7.8zM1837.4,899.6h7.8v7.8h-7.8zM1840.7,902.5h7.8v7.8h-7.8zM1844,895.7h7.8v7.8h-7.8zM1847.4,890.8h7.8v7.8h-7.8zM1850.7,874.3h7.8v7.8h-7.8zM1854,885.4h7.8v7.8h-7.8zM1857.4,872.7h7.8v7.8h-7.8zM1860.7,879.2h7.8v7.8h-7.8zM1864.1,877.1h7.8v7.8h-7.8zM1867.4,876.6h7.8v7.8h-7.8zM1870.7,878.2h7.8v7.8h-7.8zM1874.1,879.7h7.8v7.8h-7.8zM1877.4,880.1h7.8v7.8h-7.8zM1880.7,876.5h7.8v7.8h-7.8zM1884.1,877.8h7.8v7.8h-7.8zM1887.4,880.7h7.8v7.8h-7.8zM1890.7,872.9h7.8v7.8h-7.8zM1894.1,863h7.8v7.8h-7.8zM1897.4,874.4h7.8v7.8h-7.8zM1900.7,881.9h7.8v7.8h-7.8zM1904.1,879h7.8v7.8h-7.8zM1907.4,869.9h7.8v7.8h-7.8zM1910.7,874.6h7.8v7.8h-7.8zM1914.1,871.5h7.8v7.8h-7.8zM1917.4,878.6h7.8v7.8h-7.8zM1920.7,871.2h7.8v7.8h-7.8zM1924.1,868h7.8v7.8h-7.8zM1927.4,870.2h7.8v7.8h-7.8zM1930.7,860.7h7.8v7.8h-7.8zM1934.1,878.2h7.8v7.8h-7.8zM1937.4,869.3h7.8v7.8h-7.8zM1940.8,851.8h7.8v7.8h-7.8zM1944.1,873.1h7.8v7.8h-7.8zM1947.4,866.4h7.8v7.8h-7.8zM1950.8,867.7h7.8v7.8h-7.8zM1954.1,889h7.8v7.8h-7.8zM1957.4,869h7.8v7.8h-7.8zM1960.8,877.8h7.8v7.8h-7.8zM1964.1,869.2h7.8v7.8h-7.8zM1967.4,874.4h7.8v7.8h-7.8zM1970.8,873.5h7.8v7.8h-7.8zM1974.1,865.2h7.8v7.8h-7.8z" fill="#000"/>
<path d="M273.9,816.5 274.9,816.5 275.9,816.5 276.9,816.5 277.9,816.5 278.9,816.5 279.9,816.5 280.9,816.5 281.9,816.6 282.9,816.6 283.9,816.6 284.9,816.6 285.9,816.6 286.9,816.6 287.9,816.6 288.9,816.6 289.9,816.6 290.9,816.6 291.9,816.6 292.9,816.6 293.9,816.6 294.9,816.6 295.9,816.6 296.9,816.6 297.9,816.6 298.9,816.6 299.9,816.6 300.9,816.6 301.9,816.6 302.9,816.6 303.9,816.6 304.9,816.6 305.9,816.6 306.9,816.6 307.9,816.6 308.9,816.6 309.9,816.7 310.9,816.7 311.9,816.7 312.9,816.7 313.9,816.7 314.9,816.7 315.9,816.7 316.9,816.7 317.9,816.7 318.9,816.7 319.9,816.7 320.9,816.7 321.9,816.7 322.9,816.7 323.9,816.7 324.9,816.7 325.9,816.7 326.9,816.7 327.9,816.7 328.9,816.7 329.9,816.7 330.9,816.7 331.9,816.8 332.9,816.8 333.9,816.8 334.9,816.8 335.9,816.8 336.9,816.8 337.9,816.8 338.9,816.8 339.9,816.8 340.9,816.8 341.9,816.8 342.9,816.8 343.9,816.8 344.9,816.8 345.9,816.8 346.9,816.8 347.9,816.8 348.9,816.8 349.9,816.8 350.9,816.9 351.9,816.9 352.9,816.9 353.9,816.9 354.9,816.9 355.9,816.9 356.9,816.9 357.9,816.9 358.9,816.9 359.9,816.9 360.9,816.9 361.9,816.9 362.9,816.9 363.9,816.9 364.9,816.9 365.9,817 366.9,817 367.9,817 368.9,817 369.9,817 370.9,817 371.9,817 372.9,817 373.9,817 374.9,817 375.9,817 376.9,817 377.9,817 378.9,817.1 379.9,817.1 380.9,817.1 381.9,817.1 382.9,817.1 383.9,817.1 384.9,817.1 385.9,817.1 386.9,817.1 387.9,817.1 388.9,817.1 389.9,817.1 390.9,817.2 391.9,817.2 392.9,817.2 393.9,817.2 394.9,817.2 395.9,817.2 396.9,817.2 397.9,817.2 398.9,817.2 399.9,817.2 400.9,817.3 401.9,817.3 402.9,817.3 403.9,817.3 404.9,817.3 405.9,817.3 406.9,817.3 407.9,817.3 408.9,817.3 409.9,817.4 410.9,817.4 411.9,817.4 412.9,817.4 413.9,817.4 414.9,817.4 415.9,817.4 416.9,817.4 417.9,817.5 418.9,817.5 419.9,817.5 420.9,817.5 421.9,817.5 422.9,817.5 423.9,817.5 424.9,817.6 425.9,817.6 426.9,817.6 427.9,817.6 428.9,817.6 429.9,817.6 430.9,817.6 431.9,817.7 432.9,817.7 433.9,817.7 434.9,817.7 435.9,817.7 436.9,817.7 437.9,817.8 438.9,817.8 439.9,817.8 440.9,817.8 441.9,817.8 442.9,817.9 443.9,817.9 444.9,817.9 445.9,817.9 446.9,817.9 447.9,818 448.9,818 449.9,818 450.9,818 451.9,818 452.9,818.1 453.9,818.1 454.9,818.1 455.9,818.1 456.9,818.1 457.9,818.2 458.9,818.2 459.9,818.2 460.9,818.2 461.9,818.3 462.9,818.3 463.9,818.3 464.9,818.4 465.9,818.4 466.9,818.4 467.9,818.4 468.9,818.5 469.9,818.5 470.9,818.5 471.9,818.6 472.9,818.6 473.9,818.6 474.9,818.6 475.9,818.7 476.9,818.7 477.9,818.7 478.9,818.8 479.9,818.8 480.9,818.9 481.9,818.9 482.9,818.9 483.9,819 484.9,819 485.9,819 486.9,819.1 487.9,819.1 488.9,819.2 489.9,819.2 490.9,819.3 491.9,819.3 492.9,819.3 493.9,819.4 494.9,819.4 495.9,819.5 496.9,819.5 497.9,819.6 498.9,819.6 499.9,819.7 500.9,819.8 501.9,819.8 502.9,819.9 503.9,819.9 504.9,820 505.9,820 506.9,820.1 507.9,820.2 508.9,820.2 509.9,820.3 510.9,820.4 511.9,820.4 512.9,820.5 513.9,820.6 514.9,820.7 515.9,820.7 516.9,820.8 517.9,820.9 518.9,821 519.9,821.1 520.9,821.2 521.9,821.3 522.9,821.4 523.9,821.4 524.9,821.5 525.9,821.6 526.9,821.8 527.9,821.9 528.9,822 529.9,822.1 530.9,822.2 531.9,822.3 532.9,822.4 533.9,822.6 534.9,822.7 535.9,822.8 536.9,823 537.9,823.1 538.9,823.3 539.9,823.4 540.9,823.6 541.9,823.8 542.9,823.9 543.9,824.1 544.9,824.3 545.9,824.5 546.9,824.7 547.9,824.9 548.9,825.1 549.9,825.3 550.9,825.6 551.9,825.8 552.9,826.1 553.9,826.3 554.9,826.6 555.9,826.9 556.9,827.2 557.9,827.5 558.9,827.8 559.9,828.2 560.9,828.5 561.9,828.9 562.9,829.3 563.9,829.7 564.9,830.1 565.9,830.6 566.9,831 567.9,831.5 568.9,832.1 569.9,832.6 570.9,833.2 571.9,833.8 572.9,834.5 573.9,835.2 574.9,835.9 575.9,836.7 576.9,837.5 577.9,838.4 578.9,839.4 579.9,840.4 580.9,841.4 581.9,842.6 582.9,843.8 583.9,845.1 584.9,846.4 585.9,847.9 586.9,849.4 587.9,851.1 588.9,852.9 589.9,854.8 590.9,856.8 591.9,858.9 592.9,861.2 593.9,863.6 594.9,866.2 595.9,868.9 596.9,871.8 597.9,874.9 598.9,878.2 599.9,881.6 600.9,885.2 601.9,889 602.9,893.1 603.9,897.3 604.9,901.7 605.9,906.3 606.9,911.2 607.9,916.2 608.9,921.4 609.9,926.8 610.9,932.4 611.9,938.2 612.9,944.2 613.9,950.3 614.9,956.5 615.9,962.9 616.9,969.4 617.9,975.9 618.9,982.5 619.9,989.2 620.9,995.9 621.9,1002.5 622.9,1009.1 623.9,1015.6 624.9,1022 625.9,1028.3 626.9,1034.4 627.9,1040.4 628.9,1046 629.9,1051.4 630.9,1056.5 631.9,1061.3 632.9,1065.8 633.9,1069.8 634.9,1073.4 635.9,1076.6 636.9,1079.4 637.9,1081.7 638.9,1083.5 639.9,1084.8 640.9,1085.6 641.9,1085.8 642.9,1085.6 643.9,1084.9 644.9,1083.7 645.9,1081.9 646.9,1079.7 647.9,1077.1 648.9,1073.9 649.9,1070.4 650.9,1066.4 651.9,1062.1 652.9,1057.4 653.9,1052.4 654.9,1047.1 655.9,1041.6 656.9,1035.8 657.9,1029.8 658.9,1023.6 659.9,1017.3 660.9,1011 661.9,1004.5 662.9,998 663.9,991.5 664.9,985 665.9,978.5 666.9,972.1 667.9,965.8 668.9,959.6 669.9,953.6 670.9,947.6 671.9,941.8 672.9,936.2 673.9,930.8 674.9,925.5 675.9,920.5 676.9,915.6 677.9,910.9 678.9,906.4 679.9,902.2 680.9,898.1 681.9,894.2 682.9,890.5 683.9,887 684.9,883.7 685.9,880.6 686.9,877.6 687.9,874.8 688.9,872.2 689.9,869.7 690.9,867.4 691.9,865.2 692.9,863.1 693.9,861.2 694.9,859.4 695.9,857.7 696.9,856 697.9,854.5 698.9,853.1 699.9,851.8 700.9,850.5 701.9,849.3 702.9,848.2 703.9,847.2 704.9,846.2 705.9,845.2 706.9,844.3 707.9,843.5 708.9,842.7 709.9,842 710.9,841.2 711.9,840.5 712.9,839.9 713.9,839.3 714.9,838.7 715.9,838.1 716.9,837.6 717.9,837 718.9,836.5 719.9,836 720.9,835.6 721.9,835.1 722.9,834.7 723.9,834.3 724.9,833.9 725.9,833.5 726.9,833.1 727.9,832.7 728.9,832.4 729.9,832 730.9,831.7 731.9,831.4 732.9,831 733.9,830.7 734.9,830.4 735.9,830.1 736.9,829.9 737.9,829.6 738.9,829.3 739.9,829 740.9,828.8 741.9,828.5 742.9,828.3 743.9,828.1 744.9,827.8 745.9,827.6 746.9,827.4 747.9,827.2 748.9,827 749.9,826.8 750.9,826.6 751.9,826.4 752.9,826.2 753.9,826 754.9,825.9 755.9,825.7 756.9,825.5 757.9,825.4 758.9,825.2 759.9,825.1 760.9,824.9 761.9,824.8 762.9,824.7 763.9,824.6 764.9,824.4 765.9,824.3 766.9,824.2 767.9,824.1 768.9,824 769.9,823.9 770.9,823.8 771.9,823.7 772.9,823.6 773.9,823.5 774.9,823.4 775.9,823.4 776.9,823.3 777.9,823.2 778.9,823.2 779.9,823.1 780.9,823 781.9,823 782.9,822.9 783.9,822.9 784.9,822.8 785.9,822.8 786.9,822.8 787.9,822.7 788.9,822.7 789.9,822.7 790.9,822.7 791.9,822.7 792.9,822.7 793.9,822.6 794.9,822.6 795.9,822.6 796.9,822.7 797.9,822.7 798.9,822.7 799.9,822.7 800.9,822.8 801.9,822.8 802.9,822.8 803.9,822.9 804.9,823 805.9,823.1 806.9,823.1 807.9,823.3 808.9,823.4 809.9,823.5 810.9,823.7 811.9,823.8 812.9,824 813.9,824.3 814.9,824.5 815.9,824.8 816.9,825.1 817.9,825.4 818.9,825.8 819.9,826.2 820.9,826.7 821.9,827.2 822.9,827.7 823.9,828.3 824.9,828.9 825.9,829.6 826.9,830.4 827.9,831.2 828.9,832.1 829.9,833 830.9,834 831.9,835 832.9,836.1 833.9,837.2 834.9,838.4 835.9,839.6 836.9,840.8 837.9,842.1 838.9,843.4 839.9,844.7 840.9,846 841.9,847.3 842.9,848.6 843.9,849.9 844.9,851.1 845.9,852.3 846.9,853.4 847.9,854.4 848.9,855.4 849.9,856.3 850.9,857.1 851.9,857.7 852.9,858.3 853.9,858.7 854.9,859 855.9,859.2 856.9,859.2 857.9,859.1 858.9,858.9 859.9,858.5 860.9,858.1 861.9,857.5 862.9,856.8 863.9,856 864.9,855 865.9,854 866.9,853 867.9,851.8 868.9,850.6 869.9,849.4 870.9,848.1 871.9,846.8 872.9,845.5 873.9,844.2 874.9,842.9 875.9,841.6 876.9,840.4 877.9,839.1 878.9,837.9 879.9,836.8 880.9,835.7 881.9,834.6 882.9,833.6 883.9,832.7 884.9,831.8 885.9,830.9 886.9,830.1 887.9,829.4 888.9,828.7 889.9,828.1 890.9,827.5 891.9,827 892.9,826.5 893.9,826.1 894.9,825.7 895.9,825.3 896.9,825 897.9,824.7 898.9,824.4 899.9,824.2 900.9,823.9 901.9,823.7 902.9,823.6 903.9,823.4 904.9,823.3 905.9,823.1 906.9,823 907.9,822.9 908.9,822.8 909.9,822.7 910.9,822.7 911.9,822.6 912.9,822.5 913.9,822.5 914.9,822.4 915.9,822.4 916.9,822.4 917.9,822.3 918.9,822.3 919.9,822.3 920.9,822.2 921.9,822.2 922.9,822.2 923.9,822.2 924.9,822.2 925.9,822.1 926.9,822.1 927.9,822.1 928.9,822.1 929.9,822.1 930.9,822.1 931.9,822.1 932.9,822.1 933.9,822.1 934.9,822.1 935.9,822.1 936.9,822.1 937.9,822.1 938.9,822.1 939.9,822.1 940.9,822.1 941.9,822.1 942.9,822.1 943.9,822.1 944.9,822.1 945.9,822.1 946.9,822.1 947.9,822.1 948.9,822.1 949.9,822.2 950.9,822.2 951.9,822.2 952.9,822.2 953.9,822.2 954.9,822.2 955.9,822.2 956.9,822.3 957.9,822.3 958.9,822.3 959.9,822.3 960.9,822.3 961.9,822.4 962.9,822.4 963.9,822.4 964.9,822.4 965.9,822.4 966.9,822.5 967.9,822.5 968.9,822.5 969.9,822.6 970.9,822.6 971.9,822.6 972.9,822.7 973.9,822.7 974.9,822.7 975.9,822.8 976.9,822.8 977.9,822.8 978.9,822.9 979.9,822.9 980.9,823 981.9,823 982.9,823.1 983.9,823.1 984.9,823.2 985.9,823.2 986.9,823.3 987.9,823.3 988.9,823.4 989.9,823.5 990.9,823.5 991.9,823.6 992.9,823.7 993.9,823.7 994.9,823.8 995.9,823.9 996.9,824 997.9,824.1 998.9,824.2 999.9,824.3 1000.9,824.4 1001.9,824.5 1002.9,824.6 1003.9,824.7 1004.9,824.8 1005.9,824.9 1006.9,825.1 1007.9,825.2 1008.9,825.4 1009.9,825.5 1010.9,825.7 1011.9,825.9 1012.9,826 1013.9,826.2 1014.9,826.4 1015.9,826.7 1016.9,826.9 1017.9,827.1 1018.9,827.4 1019.9,827.7 1020.9,828 1021.9,828.3 1022.9,828.6 1023.9,829 1024.9,829.4 1025.9,829.8 1026.9,830.2 1027.9,830.7 1028.9,831.2 1029.9,831.8 1030.9,832.4 1031.9,833 1032.9,833.8 1033.9,834.6 1034.9,835.4 1035.9,836.3 1036.9,837.4 1037.9,838.5 1038.9,839.8 1039.9,841.1 1040.9,842.7 1041.9,844.3 1042.9,846.2 1043.9,848.2 1044.9,850.5 1045.9,853 1046.9,855.7 1047.9,858.7 1048.9,862 1049.9,865.5 1050.9,869.4 1051.9,873.6 1052.9,878.1 1053.9,882.8 1054.9,887.9 1055.9,893.2 1056.9,898.7 1057.9,904.3 1058.9,910.1 1059.9,915.9 1060.9,921.7 1061.9,927.4 1062.9,932.8 1063.9,938 1064.9,942.7 1065.9,947 1066.9,950.6 1067.9,953.7 1068.9,956 1069.9,957.5 1070.9,958.3 1071.9,958.2 1072.9,957.3 1073.9,955.6 1074.9,953.1 1075.9,950 1076.9,946.2 1077.9,941.9 1078.9,937 1079.9,931.8 1080.9,926.4 1081.9,920.7 1082.9,914.9 1083.9,909.1 1084.9,903.3 1085.9,897.7 1086.9,892.2 1087.9,887 1088.9,882 1089.9,877.3 1090.9,872.9 1091.9,868.8 1092.9,865 1093.9,861.5 1094.9,858.3 1095.9,855.3 1096.9,852.7 1097.9,850.2 1098.9,848 1099.9,846 1100.9,844.2 1101.9,842.6 1102.9,841.1 1103.9,839.8 1104.9,838.5 1105.9,837.4 1106.9,836.4 1107.9,835.5 1108.9,834.7 1109.9,833.9 1110.9,833.2 1111.9,832.6 1112.9,832 1113.9,831.5 1114.9,831 1115.9,830.5 1116.9,830.1 1117.9,829.7 1118.9,829.3 1119.9,829 1120.9,828.7 1121.9,828.4 1122.9,828.1 1123.9,827.8 1124.9,827.6 1125.9,827.4 1126.9,827.1 1127.9,827 1128.9,826.8 1129.9,826.6 1130.9,826.4 1131.9,826.3 1132.9,826.1 1133.9,826 1134.9,825.9 1135.9,825.8 1136.9,825.6 1137.9,825.5 1138.9,825.5 1139.9,825.4 1140.9,825.3 1141.9,825.2 1142.9,825.1 1143.9,825.1 1144.9,825 1145.9,825 1146.9,824.9 1147.9,824.9 1148.9,824.8 1149.9,824.8 1150.9,824.8 1151.9,824.7 1152.9,824.7 1153.9,824.7 1154.9,824.7 1155.9,824.7 1156.9,824.7 1157.9,824.7 1158.9,824.7 1159.9,824.7 1160.9,824.7 1161.9,824.8 1162.9,824.8 1163.9,824.9 1164.9,824.9 1165.9,825 1166.9,825 1167.9,825.1 1168.9,825.2 1169.9,825.3 1170.9,825.4 1171.9,825.6 1172.9,825.7 1173.9,825.9 1174.9,826.1 1175.9,826.3 1176.9,826.5 1177.9,826.8 1178.9,827.1 1179.9,827.4 1180.9,827.8 1181.9,828.2 1182.9,828.7 1183.9,829.3 1184.9,829.9 1185.9,830.6 1186.9,831.4 1187.9,832.3 1188.9,833.3 1189.9,834.4 1190.9,835.7 1191.9,837.1 1192.9,838.6 1193.9,840.4 1194.9,842.3 1195.9,844.3 1196.9,846.6 1197.9,849.1 1198.9,851.9 1199.9,854.8 1200.9,858 1201.9,861.4 1202.9,865.1 1203.9,869 1204.9,873.1 1205.9,877.4 1206.9,881.9 1207.9,886.6 1208.9,891.5 1209.9,896.5 1210.9,901.5 1211.9,906.7 1212.9,911.8 1213.9,917 1214.9,922 1215.9,927 1216.9,931.8 1217.9,936.4 1218.9,940.7 1219.9,944.7 1220.9,948.3 1221.9,951.6 1222.9,954.4 1223.9,956.7 1224.9,958.6 1225.9,959.9 1226.9,960.6 1227.9,960.8 1228.9,960.5 1229.9,959.6 1230.9,958.2 1231.9,956.2 1232.9,953.8 1233.9,950.8 1234.9,947.5 1235.9,943.7 1236.9,939.6 1237.9,935.3 1238.9,930.6 1239.9,925.8 1240.9,920.8 1241.9,915.7 1242.9,910.5 1243.9,905.3 1244.9,900.2 1245.9,895.1 1246.9,890.1 1247.9,885.3 1248.9,880.6 1249.9,876.1 1250.9,871.8 1251.9,867.7 1252.9,863.9 1253.9,860.3 1254.9,856.9 1255.9,853.7 1256.9,850.8 1257.9,848.1 1258.9,845.6 1259.9,843.4 1260.9,841.3 1261.9,839.4 1262.9,837.7 1263.9,836.2 1264.9,834.8 1265.9,833.5 1266.9,832.4 1267.9,831.4 1268.9,830.5 1269.9,829.7 1270.9,829 1271.9,828.4 1272.9,827.8 1273.9,827.3 1274.9,826.8 1275.9,826.4 1276.9,826.1 1277.9,825.8 1278.9,825.5 1279.9,825.2 1280.9,825 1281.9,824.7 1282.9,824.6 1283.9,824.4 1284.9,824.2 1285.9,824.1 1286.9,823.9 1287.9,823.8 1288.9,823.7 1289.9,823.6 1290.9,823.5 1291.9,823.4 1292.9,823.3 1293.9,823.2 1294.9,823.1 1295.9,823.1 1296.9,823 1297.9,822.9 1298.9,822.9 1299.9,822.8 1300.9,822.8 1301.9,822.7 1302.9,822.7 1303.9,822.6 1304.9,822.6 1305.9,822.5 1306.9,822.5 1307.9,822.5 1308.9,822.4 1309.9,822.4 1310.9,822.4 1311.9,822.3 1312.9,822.3 1313.9,822.3 1314.9,822.3 1315.9,822.2 1316.9,822.2 1317.9,822.2 1318.9,822.2 1319.9,822.2 1320.9,822.1 1321.9,822.1 1322.9,822.1 1323.9,822.1 1324.9,822.1 1325.9,822.1 1326.9,822.1 1327.9,822 1328.9,822 1329.9,822 1330.9,822 1331.9,822 1332.9,822 1333.9,822 1334.9,822 1335.9,822 1336.9,822 1337.9,822 1338.9,822 1339.9,822 1340.9,822 1341.9,822 1342.9,822 1343.9,822 1344.9,822 1345.9,822 1346.9,822 1347.9,822 1348.9,822 1349.9,822 1350.9,822 1351.9,822 1352.9,822 1353.9,822 1354.9,822 1355.9,822 1356.9,822 1357.9,822 1358.9,822.1 1359.9,822.1 1360.9,822.1 1361.9,822.1 1362.9,822.1 1363.9,822.1 1364.9,822.1 1365.9,822.2 1366.9,822.2 1367.9,822.2 1368.9,822.2 1369.9,822.2 1370.9,822.2 1371.9,822.3 1372.9,822.3 1373.9,822.3 1374.9,822.4 1375.9,822.4 1376.9,822.4 1377.9,822.4 1378.9,822.5 1379.9,822.5 1380.9,822.5 1381.9,822.6 1382.9,822.6 1383.9,822.7 1384.9,822.7 1385.9,822.8 1386.9,822.8 1387.9,822.9 1388.9,822.9 1389.9,823 1390.9,823 1391.9,823.1 1392.9,823.2 1393.9,823.2 1394.9,823.3 1395.9,823.4 1396.9,823.5 1397.9,823.6 1398.9,823.7 1399.9,823.8 1400.9,823.9 1401.9,824 1402.9,824.1 1403.9,824.2 1404.9,824.4 1405.9,824.5 1406.9,824.7 1407.9,824.9 1408.9,825 1409.9,825.2 1410.9,825.4 1411.9,825.7 1412.9,825.9 1413.9,826.2 1414.9,826.4 1415.9,826.8 1416.9,827.1 1417.9,827.4 1418.9,827.8 1419.9,828.3 1420.9,828.7 1421.9,829.2 1422.9,829.8 1423.9,830.4 1424.9,831.1 1425.9,831.8 1426.9,832.6 1427.9,833.5 1428.9,834.4 1429.9,835.5 1430.9,836.6 1431.9,837.8 1432.9,839.1 1433.9,840.5 1434.9,842 1435.9,843.5 1436.9,845.1 1437.9,846.8 1438.9,848.5 1439.9,850.2 1440.9,851.9 1441.9,853.6 1442.9,855.1 1443.9,856.6 1444.9,857.9 1445.9,859 1446.9,860 1447.9,860.6 1448.9,861.1 1449.9,861.3 1450.9,861.2 1451.9,860.8 1452.9,860.2 1453.9,859.3 1454.9,858.3 1455.9,857 1456.9,855.6 1457.9,854.1 1458.9,852.4 1459.9,850.8 1460.9,849.1 1461.9,847.4 1462.9,845.7 1463.9,844.1 1464.9,842.5 1465.9,841 1466.9,839.6 1467.9,838.3 1468.9,837.1 1469.9,836 1470.9,834.9 1471.9,834 1472.9,833.1 1473.9,832.3 1474.9,831.6 1475.9,830.9 1476.9,830.3 1477.9,829.8 1478.9,829.2 1479.9,828.8 1480.9,828.4 1481.9,828 1482.9,827.6 1483.9,827.3 1484.9,827 1485.9,826.7 1486.9,826.5 1487.9,826.3 1488.9,826 1489.9,825.8 1490.9,825.7 1491.9,825.5 1492.9,825.4 1493.9,825.2 1494.9,825.1 1495.9,825 1496.9,824.8 1497.9,824.7 1498.9,824.6 1499.9,824.6 1500.9,824.5 1501.9,824.4 1502.9,824.3 1503.9,824.3 1504.9,824.2 1505.9,824.2 1506.9,824.1 1507.9,824.1 1508.9,824 1509.9,824 1510.9,824 1511.9,823.9 1512.9,823.9 1513.9,823.9 1514.9,823.9 1515.9,823.9 1516.9,823.9 1517.9,823.9 1518.9,823.9 1519.9,823.9 1520.9,823.9 1521.9,823.9 1522.9,823.9 1523.9,823.9 1524.9,823.9 1525.9,824 1526.9,824 1527.9,824 1528.9,824.1 1529.9,824.1 1530.9,824.1 1531.9,824.2 1532.9,824.2 1533.9,824.3 1534.9,824.4 1535.9,824.4 1536.9,824.5 1537.9,824.6 1538.9,824.7 1539.9,824.7 1540.9,824.8 1541.9,824.9 1542.9,825 1543.9,825.1 1544.9,825.3 1545.9,825.4 1546.9,825.5 1547.9,825.7 1548.9,825.8 1549.9,826 1550.9,826.1 1551.9,826.3 1552.9,826.5 1553.9,826.6 1554.9,826.8 1555.9,827 1556.9,827.2 1557.9,827.4 1558.9,827.6 1559.9,827.9 1560.9,828.1 1561.9,828.3 1562.9,828.6 1563.9,828.8 1564.9,829.1 1565.9,829.4 1566.9,829.7 1567.9,829.9 1568.9,830.2 1569.9,830.5 1570.9,830.8 1571.9,831.2 1572.9,831.5 1573.9,831.8 1574.9,832.1 1575.9,832.5 1576.9,832.8 1577.9,833.2 1578.9,833.6 1579.9,833.9 1580.9,834.3 1581.9,834.7 1582.9,835.1 1583.9,835.6 1584.9,836 1585.9,836.4 1586.9,836.9 1587.9,837.4 1588.9,837.9 1589.9,838.4 1590.9,838.9 1591.9,839.5 1592.9,840.1 1593.9,840.7 1594.9,841.4 1595.9,842.1 1596.9,842.8 1597.9,843.6 1598.9,844.4 1599.9,845.3 1600.9,846.3 1601.9,847.3 1602.9,848.4 1603.9,849.5 1604.9,850.8 1605.9,852.1 1606.9,853.5 1607.9,855.1 1608.9,856.7 1609.9,858.5 1610.9,860.4 1611.9,862.4 1612.9,864.6 1613.9,866.9 1614.9,869.3 1615.9,872 1616.9,874.8 1617.9,877.8 1618.9,881 1619.9,884.3 1620.9,887.9 1621.9,891.7 1622.9,895.6 1623.9,899.8 1624.9,904.2 1625.9,908.8 1626.9,913.6 1627.9,918.5 1628.9,923.7 1629.9,929.1 1630.9,934.7 1631.9,940.4 1632.9,946.3 1633.9,952.3 1634.9,958.4 1635.9,964.7 1636.9,971.1 1637.9,977.5 1638.9,984 1639.9,990.5 1640.9,997 1641.9,1003.4 1642.9,1009.8 1643.9,1016.2 1644.9,1022.4 1645.9,1028.4 1646.9,1034.3 1647.9,1039.9 1648.9,1045.4 1649.9,1050.5 1650.9,1055.3 1651.9,1059.8 1652.9,1064 1653.9,1067.8 1654.9,1071.1 1655.9,1074.1 1656.9,1076.6 1657.9,1078.6 1658.9,1080.2 1659.9,1081.3 1660.9,1081.9 1661.9,1081.9 1662.9,1081.5 1663.9,1080.6 1664.9,1079.3 1665.9,1077.4 1666.9,1075.1 1667.9,1072.3 1668.9,1069.1 1669.9,1065.4 1670.9,1061.4 1671.9,1057 1672.9,1052.2 1673.9,1047.1 1674.9,1041.7 1675.9,1036.1 1676.9,1030.2 1677.9,1024.2 1678.9,1017.9 1679.9,1011.5 1680.9,1005 1681.9,998.5 1682.9,991.8 1683.9,985.2 1684.9,978.6 1685.9,972 1686.9,965.4 1687.9,958.9 1688.9,952.5 1689.9,946.3 1690.9,940.1 1691.9,934.2 1692.9,928.3 1693.9,922.7 1694.9,917.2 1695.9,911.9 1696.9,906.8 1697.9,902 1698.9,897.3 1699.9,892.8 1700.9,888.5 1701.9,884.5 1702.9,880.6 1703.9,876.9 1704.9,873.5 1705.9,870.2 1706.9,867.1 1707.9,864.2 1708.9,861.4 1709.9,858.9 1710.9,856.4 1711.9,854.2 1712.9,852 1713.9,850.1 1714.9,848.2 1715.9,846.5 1716.9,844.8 1717.9,843.3 1718.9,841.9 1719.9,840.6 1720.9,839.4 1721.9,838.3 1722.9,837.2 1723.9,836.2 1724.9,835.3 1725.9,834.4 1726.9,833.6 1727.9,832.9 1728.9,832.1 1729.9,831.5 1730.9,830.9 1731.9,830.3 1732.9,829.8 1733.9,829.3 1734.9,828.8 1735.9,828.3 1736.9,827.9 1737.9,827.5 1738.9,827.1 1739.9,826.8 1740.9,826.4 1741.9,826.1 1742.9,825.8 1743.9,825.5 1744.9,825.3 1745.9,825 1746.9,824.8 1747.9,824.5 1748.9,824.3 1749.9,824.1 1750.9,823.9 1751.9,823.7 1752.9,823.5 1753.9,823.3 1754.9,823.1 1755.9,823 1756.9,822.8 1757.9,822.7 1758.9,822.5 1759.9,822.4 1760.9,822.2 1761.9,822.1 1762.9,822 1763.9,821.8 1764.9,821.7 1765.9,821.6 1766.9,821.5 1767.9,821.4 1768.9,821.3 1769.9,821.2 1770.9,821.1 1771.9,821 1772.9,820.9 1773.9,820.8 1774.9,820.7 1775.9,820.6 1776.9,820.5 1777.9,820.4 1778.9,820.4 1779.9,820.3 1780.9,820.2 1781.9,820.1 1782.9,820.1 1783.9,820 1784.9,819.9 1785.9,819.9 1786.9,819.8 1787.9,819.7 1788.9,819.7 1789.9,819.6 1790.9,819.6 1791.9,819.5 1792.9,819.4 1793.9,819.4 1794.9,819.3 1795.9,819.3 1796.9,819.2 1797.9,819.2 1798.9,819.1 1799.9,819.1 1800.9,819 1801.9,819 1802.9,819 1803.9,818.9 1804.9,818.9 1805.9,818.8 1806.9,818.8 1807.9,818.8 1808.9,818.7 1809.9,818.7 1810.9,818.6 1811.9,818.6 1812.9,818.6 1813.9,818.5 1814.9,818.5 1815.9,818.5 1816.9,818.4 1817.9,818.4 1818.9,818.4 1819.9,818.3 1820.9,818.3 1821.9,818.3 1822.9,818.2 1823.9,818.2 1824.9,818.2 1825.9,818.2 1826.9,818.1 1827.9,818.1 1828.9,818.1 1829.9,818.1 1830.9,818 1831.9,818 1832.9,818 1833.9,818 1834.9,817.9 1835.9,817.9 1836.9,817.9 1837.9,817.9 1838.9,817.8 1839.9,817.8 1840.9,817.8 1841.9,817.8 1842.9,817.8 1843.9,817.7 1844.9,817.7 1845.9,817.7 1846.9,817.7 1847.9,817.7 1848.9,817.6 1849.9,817.6 1850.9,817.6 1851.9,817.6 1852.9,817.6 1853.9,817.6 1854.9,817.5 1855.9,817.5 1856.9,817.5 1857.9,817.5 1858.9,817.5 1859.9,817.5 1860.9,817.4 1861.9,817.4 1862.9,817.4 1863.9,817.4 1864.9,817.4 1865.9,817.4 1866.9,817.3 1867.9,817.3 1868.9,817.3 1869.9,817.3 1870.9,817.3 1871.9,817.3 1872.9,817.3 1873.9,817.3 1874.9,817.2 1875.9,817.2 1876.9,817.2 1877.9,817.2 1878.9,817.2 1879.9,817.2 1880.9,817.2 1881.9,817.2 1882.9,817.1 1883.9,817.1 1884.9,817.1 1885.9,817.1 1886.9,817.1 1887.9,817.1 1888.9,817.1 1889.9,817.1 1890.9,817.1 1891.9,817.1 1892.9,817 1893.9,817 1894.9,817 1895.9,817 1896.9,817 1897.9,817 1898.9,817 1899.9,817 1900.9,817 1901.9,817 1902.9,817 1903.9,816.9 1904.9,816.9 1905.9,816.9 1906.9,816.9 1907.9,816.9 1908.9,816.9 1909.9,816.9 1910.9,816.9 1911.9,816.9 1912.9,816.9 1913.9,816.9 1914.9,816.9 1915.9,816.9 1916.9,816.8 1917.9,816.8 1918.9,816.8 1919.9,816.8 1920.9,816.8 1921.9,816.8 1922.9,816.8 1923.9,816.8 1924.9,816.8 1925.9,816.8 1926.9,816.8 1927.9,816.8 1928.9,816.8 1929.9,816.8 1930.9,816.8 1931.9,816.7 1932.9,816.7 1933.9,816.7 1934.9,816.7 1935.9,816.7 1936.9,816.7 1937.9,816.7 1938.9,816.7 1939.9,816.7 1940.9,816.7 1941.9,816.7 1942.9,816.7 1943.9,816.7 1944.9,816.7 1945.9,816.7 1946.9,816.7 1947.9,816.7 1948.9,816.7 1949.9,816.7 1950.9,816.6 1951.9,816.6 1952.9,816.6 1953.9,816.6 1954.9,816.6 1955.9,816.6 1956.9,816.6 1957.9,816.6 1958.9,816.6 1959.9,816.6 1960.9,816.6 1961.9,816.6 1962.9,816.6 1963.9,816.6 1964.9,816.6 1965.9,816.6 1966.9,816.6 1967.9,816.6 1968.9,816.6 1969.9,816.6 1970.9,816.6 1971.9,816.6 1972.9,816.6 1973.9,816.5 1974.9,816.5 1975.9,816.5 1976.9,816.5 1977.9,816.5 1978,816.5" stroke="#00ff00" stroke-width="5" fill="none" stroke-linejoin="round"/>
<path d="M273.9,815.3 274.9,815.3 275.9,815.3 276.9,815.3 277.9,815.3 278.9,815.4 279.9,815.4 280.9,815.4 281.9,815.4 282.9,815.4 283.9,815.4 284.9,815.4 285.9,815.4 286.9,815.4 287.9,815.4 288.9,815.5 289.9,815.5 290.9,815.5 291.9,815.5 292.9,815.5 293.9,815.5 294.9,815.5 295.9,815.5 296.9,815.6 297.9,815.6 298.9,815.6 299.9,815.6 300.9,815.6 301.9,815.6 302.9,815.6 303.9,815.6 304.9,815.7 305.9,815.7 306.9,815.7 307.9,815.7 308.9,815.7 309.9,815.7 310.9,815.7 311.9,815.8 312.9,815.8 313.9,815.8 314.9,815.8 315.9,815.8 316.9,815.8 317.9,815.9 318.9,815.9 319.9,815.9 320.9,815.9 321.9,815.9 322.9,815.9 323.9,816 324.9,816 325.9,816 326.9,816 327.9,816 328.9,816.1 329.9,816.1 330.9,816.1 331.9,816.1 332.9,816.2 333.9,816.2 334.9,816.2 335.9,816.2 336.9,816.3 337.9,816.3 338.9,816.3 339.9,816.3 340.9,816.4 341.9,816.4 342.9,816.4 343.9,816.4 344.9,816.5 345.9,816.5 346.9,816.5 347.9,816.6 348.9,816.6 349.9,816.6 350.9,816.7 351.9,816.7 352.9,816.7 353.9,816.8 354.9,816.8 355.9,816.8 356.9,816.9 357.9,816.9 358.9,816.9 359.9,817 360.9,817 361.9,817.1 362.9,817.1 363.9,817.1 364.9,817.2 365.9,817.2 366.9,817.3 367.9,817.3 368.9,817.4 369.9,817.4 370.9,817.5 371.9,817.5 372.9,817.6 373.9,817.6 374.9,817.7 375.9,817.8 376.9,817.8 377.9,817.9 378.9,817.9 379.9,818 380.9,818.1 381.9,818.1 382.9,818.2 383.9,818.3 384.9,818.4 385.9,818.4 386.9,818.5 387.9,818.6 388.9,818.7 389.9,818.8 390.9,818.9 391.9,819 392.9,819 393.9,819.1 394.9,819.2 395.9,819.4 396.9,819.5 397.9,819.6 398.9,819.7 399.9,819.8 400.9,819.9 401.9,820.1 402.9,820.2 403.9,820.3 404.9,820.5 405.9,820.6 406.9,820.8 407.9,820.9 408.9,821.1 409.9,821.2 410.9,821.4 411.9,821.6 412.9,821.8 413.9,822 414.9,822.2 415.9,822.4 416.9,822.6 417.9,822.8 418.9,823.1 419.9,823.3 420.9,823.6 421.9,823.9 422.9,824.1 423.9,824.4 424.9,824.7 425.9,825.1 426.9,825.4 427.9,825.8 428.9,826.1 429.9,826.5 430.9,826.9 431.9,827.4 432.9,827.8 433.9,828.3 434.9,828.8 435.9,829.3 436.9,829.9 437.9,830.5 438.9,831.1 439.9,831.7 440.9,832.4 441.9,833.2 442.9,834 443.9,834.8 444.9,835.7 445.9,836.6 446.9,837.6 447.9,838.7 448.9,839.8 449.9,841.1 450.9,842.4 451.9,843.8 452.9,845.3 453.9,846.9 454.9,848.7 455.9,850.5 456.9,852.6 457.9,854.7 458.9,857.1 459.9,859.7 460.9,862.4 461.9,865.5 462.9,868.7 463.9,872.3 464.9,876.1 465.9,880.3 466.9,884.8 467.9,889.7 468.9,895 469.9,900.7 470.9,906.8 471.9,913.4 472.9,920.4 473.9,927.9 474.9,935.7 475.9,943.9 476.9,952.3 477.9,960.8 478.9,969.5 479.9,978 480.9,986.2 481.9,994 482.9,1001.2 483.9,1007.5 484.9,1012.9 485.9,1017.1 486.9,1019.9 487.9,1021.4 488.9,1021.5 489.9,1020.6 490.9,1018.8 491.9,1016 492.9,1012.5 493.9,1008.1 494.9,1003.1 495.9,997.6 496.9,991.5 497.9,985.1 498.9,978.3 499.9,971.5 500.9,964.5 501.9,957.5 502.9,950.5 503.9,943.7 504.9,937.1 505.9,930.6 506.9,924.5 507.9,918.5 508.9,912.9 509.9,907.5 510.9,902.5 511.9,897.7 512.9,893.2 513.9,889 514.9,885 515.9,881.3 516.9,877.8 517.9,874.6 518.9,871.5 519.9,868.7 520.9,866 521.9,863.5 522.9,861.2 523.9,859 524.9,857 525.9,855 526.9,853.2 527.9,851.5 528.9,849.9 529.9,848.4 530.9,847 531.9,845.7 532.9,844.4 533.9,843.3 534.9,842.1 535.9,841.1 536.9,840.1 537.9,839.1 538.9,838.3 539.9,837.4 540.9,836.6 541.9,835.8 542.9,835.1 543.9,834.4 544.9,833.7 545.9,833.1 546.9,832.5 547.9,832 548.9,831.4 549.9,830.9 550.9,830.4 551.9,829.9 552.9,829.5 553.9,829 554.9,828.6 555.9,828.2 556.9,827.8 557.9,827.5 558.9,827.1 559.9,826.8 560.9,826.4 561.9,826.1 562.9,825.8 563.9,825.5 564.9,825.3 565.9,825 566.9,824.7 567.9,824.5 568.9,824.2 569.9,824 570.9,823.8 571.9,823.6 572.9,823.4 573.9,823.2 574.9,823 575.9,822.8 576.9,822.6 577.9,822.4 578.9,822.3 579.9,822.1 580.9,821.9 581.9,821.8 582.9,821.6 583.9,821.5 584.9,821.3 585.9,821.2 586.9,821.1 587.9,820.9 588.9,820.8 589.9,820.7 590.9,820.6 591.9,820.5 592.9,820.3 593.9,820.2 594.9,820.1 595.9,820 596.9,819.9 597.9,819.8 598.9,819.7 599.9,819.6 600.9,819.6 601.9,819.5 602.9,819.4 603.9,819.3 604.9,819.2 605.9,819.1 606.9,819.1 607.9,819 608.9,818.9 609.9,818.8 610.9,818.8 611.9,818.7 612.9,818.6 613.9,818.6 614.9,818.5 615.9,818.5 616.9,818.4 617.9,818.3 618.9,818.3 619.9,818.2 620.9,818.2 621.9,818.1 622.9,818.1 623.9,818 624.9,818 625.9,817.9 626.9,817.9 627.9,817.8 628.9,817.8 629.9,817.7 630.9,817.7 631.9,817.6 632.9,817.6 633.9,817.6 634.9,817.5 635.9,817.5 636.9,817.4 637.9,817.4 638.9,817.4 639.9,817.3 640.9,817.3 641.9,817.3 642.9,817.2 643.9,817.2 644.9,817.2 645.9,817.1 646.9,817.1 647.9,817.1 648.9,817 649.9,817 650.9,817 651.9,817 652.9,816.9 653.9,816.9 654.9,816.9 655.9,816.8 656.9,816.8 657.9,816.8 658.9,816.8 659.9,816.8 660.9,816.7 661.9,816.7 662.9,816.7 663.9,816.7 664.9,816.6 665.9,816.6 666.9,816.6 667.9,816.6 668.9,816.6 669.9,816.5 670.9,816.5 671.9,816.5 672.9,816.5 673.9,816.5 674.9,816.4 675.9,816.4 676.9,816.4 677.9,816.4 678.9,816.4 679.9,816.4 680.9,816.4 681.9,816.3 682.9,816.3 683.9,816.3 684.9,816.3 685.9,816.3 686.9,816.3 687.9,816.3 688.9,816.3 689.9,816.2 690.9,816.2 691.9,816.2 692.9,816.2 693.9,816.2 694.9,816.2 695.9,816.2 696.9,816.2 697.9,816.2 698.9,816.2 699.9,816.2 700.9,816.2 701.9,816.2 702.9,816.2 703.9,816.2 704.9,816.2 705.9,816.2 706.9,816.2 707.9,816.2 708.9,816.2 709.9,816.2 710.9,816.2 711.9,816.2 712.9,816.2 713.9,816.3 714.9,816.3 715.9,816.3 716.9,816.4 717.9,816.4 718.9,816.5 719.9,816.5 720.9,816.6 721.9,816.7 722.9,816.8 723.9,816.9 724.9,817 725.9,817.1 726.9,817.3 727.9,817.4 728.9,817.6 729.9,817.8 730.9,818 731.9,818.3 732.9,818.5 733.9,818.8 734.9,819.1 735.9,819.5 736.9,819.8 737.9,820.2 738.9,820.6 739.9,821.1 740.9,821.6 741.9,822.1 742.9,822.6 743.9,823.2 744.9,823.7 745.9,824.3 746.9,825 747.9,825.6 748.9,826.3 749.9,826.9 750.9,827.6 751.9,828.3 752.9,829 753.9,829.7 754.9,830.4 755.9,831 756.9,831.7 757.9,832.3 758.9,832.9 759.9,833.5 760.9,834 761.9,834.5 762.9,835 763.9,835.4 764.9,835.8 765.9,836.1 766.9,836.3 767.9,836.5 768.9,836.6 769.9,836.7 770.9,836.6 771.9,836.6 772.9,836.4 773.9,836.2 774.9,836 775.9,835.7 776.9,835.3 777.9,834.9 778.9,834.4 779.9,833.9 780.9,833.3 781.9,832.8 782.9,832.1 783.9,831.5 784.9,830.8 785.9,830.1 786.9,829.5 787.9,828.8 788.9,828.1 789.9,827.4 790.9,826.7 791.9,826 792.9,825.3 793.9,824.7 794.9,824 795.9,823.4 796.9,822.8 797.9,822.3 798.9,821.8 799.9,821.2 800.9,820.8 801.9,820.3 802.9,819.9 803.9,819.5 804.9,819.1 805.9,818.8 806.9,818.5 807.9,818.2 808.9,817.9 809.9,817.6 810.9,817.4 811.9,817.2 812.9,817 813.9,816.9 814.9,816.7 815.9,816.6 816.9,816.4 817.9,816.3 818.9,816.2 819.9,816.1 820.9,816.1 821.9,816 822.9,815.9 823.9,815.9 824.9,815.8 825.9,815.8 826.9,815.7 827.9,815.7 828.9,815.7 829.9,815.6 830.9,815.6 831.9,815.6 832.9,815.6 833.9,815.5 834.9,815.5 835.9,815.5 836.9,815.5 837.9,815.5 838.9,815.5 839.9,815.5 840.9,815.5 841.9,815.4 842.9,815.4 843.9,815.4 844.9,815.4 845.9,815.4 846.9,815.4 847.9,815.4 848.9,815.4 849.9,815.4 850.9,815.4 851.9,815.4 852.9,815.4 853.9,815.4 854.9,815.4 855.9,815.4 856.9,815.4 857.9,815.4 858.9,815.4 859.9,815.4 860.9,815.4 861.9,815.4 862.9,815.4 863.9,815.4 864.9,815.4 865.9,815.4 866.9,815.4 867.9,815.4 868.9,815.4 869.9,815.4 870.9,815.4 871.9,815.4 872.9,815.4 873.9,815.4 874.9,815.4 875.9,815.4 876.9,815.4 877.9,815.4 878.9,815.4 879.9,815.4 880.9,815.4 881.9,815.4 882.9,815.4 883.9,815.4 884.9,815.4 885.9,815.4 886.9,815.4 887.9,815.4 888.9,815.4 889.9,815.4 890.9,815.4 891.9,815.4 892.9,815.4 893.9,815.4 894.9,815.4 895.9,815.4 896.9,815.4 897.9,815.4 898.9,815.4 899.9,815.5 900.9,815.5 901.9,815.5 902.9,815.5 903.9,815.5 904.9,815.5 905.9,815.5 906.9,815.5 907.9,815.5 908.9,815.5 909.9,815.5 910.9,815.5 911.9,815.5 912.9,815.5 913.9,815.5 914.9,815.6 915.9,815.6 916.9,815.6 917.9,815.6 918.9,815.6 919.9,815.6 920.9,815.6 921.9,815.6 922.9,815.6 923.9,815.6 924.9,815.7 925.9,815.7 926.9,815.7 927.9,815.7 928.9,815.7 929.9,815.7 930.9,815.7 931.9,815.7 932.9,815.8 933.9,815.8 934.9,815.8 935.9,815.8 936.9,815.8 937.9,815.8 938.9,815.9 939.9,815.9 940.9,815.9 941.9,815.9 942.9,815.9 943.9,816 944.9,816 945.9,816 946.9,816 947.9,816 948.9,816.1 949.9,816.1 950.9,816.1 951.9,816.2 952.9,816.2 953.9,816.2 954.9,816.2 955.9,816.3 956.9,816.3 957.9,816.3 958.9,816.4 959.9,816.4 960.9,816.4 961.9,816.5 962.9,816.5 963.9,816.6 964.9,816.6 965.9,816.7 966.9,816.7 967.9,816.8 968.9,816.8 969.9,816.9 970.9,816.9 971.9,817 972.9,817 973.9,817.1 974.9,817.2 975.9,817.2 976.9,817.3 977.9,817.4 978.9,817.5 979.9,817.5 980.9,817.6 981.9,817.7 982.9,817.8 983.9,817.9 984.9,818 985.9,818.1 986.9,818.3 987.9,818.4 988.9,818.5 989.9,818.7 990.9,818.8 991.9,819 992.9,819.1 993.9,819.3 994.9,819.5 995.9,819.7 996.9,820 997.9,820.2 998.9,820.4 999.9,820.7 1000.9,821 1001.9,821.3 1002.9,821.7 1003.9,822.1 1004.9,822.5 1005.9,823 1006.9,823.5 1007.9,824 1008.9,824.6 1009.9,825.3 1010.9,826 1011.9,826.8 1012.9,827.8 1013.9,828.8 1014.9,829.9 1015.9,831.1 1016.9,832.5 1017.9,834.1 1018.9,835.8 1019.9,837.6 1020.9,839.7 1021.9,842 1022.9,844.5 1023.9,847.2 1024.9,850.2 1025.9,853.4 1026.9,856.8 1027.9,860.6 1028.9,864.6 1029.9,868.8 1030.9,873.3 1031.9,878 1032.9,882.9 1033.9,887.9 1034.9,893 1035.9,898.1 1036.9,902.9 1037.9,907.4 1038.9,911.2 1039.9,914.3 1040.9,916.3 1041.9,917.3 1042.9,916.9 1043.9,915.4 1044.9,912.8 1045.9,909.3 1046.9,905.1 1047.9,900.5 1048.9,895.5 1049.9,890.4 1050.9,885.4 1051.9,880.4 1052.9,875.6 1053.9,871 1054.9,866.6 1055.9,862.5 1056.9,858.7 1057.9,855.1 1058.9,851.8 1059.9,848.7 1060.9,845.8 1061.9,843.3 1062.9,840.9 1063.9,838.7 1064.9,836.8 1065.9,835 1066.9,833.4 1067.9,831.9 1068.9,830.6 1069.9,829.5 1070.9,828.4 1071.9,827.4 1072.9,826.6 1073.9,825.8 1074.9,825.1 1075.9,824.5 1076.9,823.9 1077.9,823.4 1078.9,822.9 1079.9,822.5 1080.9,822.1 1081.9,821.7 1082.9,821.4 1083.9,821.1 1084.9,820.8 1085.9,820.6 1086.9,820.3 1087.9,820.1 1088.9,819.9 1089.9,819.7 1090.9,819.5 1091.9,819.4 1092.9,819.2 1093.9,819.1 1094.9,818.9 1095.9,818.8 1096.9,818.7 1097.9,818.5 1098.9,818.4 1099.9,818.3 1100.9,818.2 1101.9,818.1 1102.9,818.1 1103.9,818 1104.9,817.9 1105.9,817.8 1106.9,817.8 1107.9,817.7 1108.9,817.6 1109.9,817.6 1110.9,817.5 1111.9,817.5 1112.9,817.4 1113.9,817.4 1114.9,817.3 1115.9,817.3 1116.9,817.3 1117.9,817.2 1118.9,817.2 1119.9,817.2 1120.9,817.1 1121.9,817.1 1122.9,817.1 1123.9,817.1 1124.9,817 1125.9,817 1126.9,817 1127.9,817 1128.9,817 1129.9,816.9 1130.9,816.9 1131.9,816.9 1132.9,816.9 1133.9,816.9 1134.9,816.9 1135.9,816.9 1136.9,816.9 1137.9,816.9 1138.9,816.9 1139.9,816.9 1140.9,816.9 1141.9,816.9 1142.9,816.9 1143.9,816.9 1144.9,816.9 1145.9,816.9 1146.9,816.9 1147.9,816.9 1148.9,816.9 1149.9,816.9 1150.9,817 1151.9,817 1152.9,817 1153.9,817 1154.9,817 1155.9,817 1156.9,817.1 1157.9,817.1 1158.9,817.1 1159.9,817.2 1160.9,817.2 1161.9,817.2 1162.9,817.2 1163.9,817.3 1164.9,817.3 1165.9,817.4 1166.9,817.4 1167.9,817.4 1168.9,817.5 1169.9,817.5 1170.9,817.6 1171.9,817.6 1172.9,817.7 1173.9,817.7 1174.9,817.8 1175.9,817.9 1176.9,817.9 1177.9,818 1178.9,818.1 1179.9,818.2 1180.9,818.3 1181.9,818.3 1182.9,818.4 1183.9,818.5 1184.9,818.6 1185.9,818.7 1186.9,818.9 1187.9,819 1188.9,819.1 1189.9,819.2 1190.9,819.4 1191.9,819.5 1192.9,819.7 1193.9,819.9 1194.9,820 1195.9,820.2 1196.9,820.4 1197.9,820.6 1198.9,820.9 1199.9,821.1 1200.9,821.4 1201.9,821.7 1202.9,821.9 1203.9,822.3 1204.9,822.6 1205.9,823 1206.9,823.4 1207.9,823.8 1208.9,824.2 1209.9,824.7 1210.9,825.3 1211.9,825.8 1212.9,826.5 1213.9,827.1 1214.9,827.9 1215.9,828.7 1216.9,829.6 1217.9,830.5 1218.9,831.6 1219.9,832.7 1220.9,833.9 1221.9,835.3 1222.9,836.8 1223.9,838.4 1224.9,840.2 1225.9,842.2 1226.9,844.3 1227.9,846.6 1228.9,849.1 1229.9,851.8 1230.9,854.8 1231.9,858 1232.9,861.4 1233.9,865.1 1234.9,869 1235.9,873.2 1236.9,877.6 1237.9,882.2 1238.9,887.1 1239.9,892.1 1240.9,897.1 1241.9,902.1 1242.9,906.8 1243.9,910.9 1244.9,914.4 1245.9,916.7 1246.9,917.9 1247.9,917.7 1248.9,916.1 1249.9,913.4 1250.9,909.7 1251.9,905.4 1252.9,900.6 1253.9,895.6 1254.9,890.6 1255.9,885.6 1256.9,880.8 1257.9,876.2 1258.9,871.8 1259.9,867.7 1260.9,863.9 1261.9,860.3 1262.9,856.9 1263.9,853.8 1264.9,850.9 1265.9,848.3 1266.9,845.8 1267.9,843.6 1268.9,841.5 1269.9,839.6 1270.9,837.8 1271.9,836.2 1272.9,834.8 1273.9,833.4 1274.9,832.2 1275.9,831.1 1276.9,830.1 1277.9,829.2 1278.9,828.3 1279.9,827.5 1280.9,826.8 1281.9,826.1 1282.9,825.5 1283.9,824.9 1284.9,824.4 1285.9,823.9 1286.9,823.5 1287.9,823.1 1288.9,822.7 1289.9,822.3 1290.9,822 1291.9,821.7 1292.9,821.4 1293.9,821.1 1294.9,820.8 1295.9,820.6 1296.9,820.4 1297.9,820.1 1298.9,819.9 1299.9,819.7 1300.9,819.6 1301.9,819.4 1302.9,819.2 1303.9,819.1 1304.9,818.9 1305.9,818.8 1306.9,818.7 1307.9,818.5 1308.9,818.4 1309.9,818.3 1310.9,818.2 1311.9,818.1 1312.9,818 1313.9,817.9 1314.9,817.8 1315.9,817.7 1316.9,817.6 1317.9,817.6 1318.9,817.5 1319.9,817.4 1320.9,817.3 1321.9,817.3 1322.9,817.2 1323.9,817.1 1324.9,817.1 1325.9,817 1326.9,817 1327.9,816.9 1328.9,816.9 1329.9,816.8 1330.9,816.8 1331.9,816.7 1332.9,816.7 1333.9,816.6 1334.9,816.6 1335.9,816.6 1336.9,816.5 1337.9,816.5 1338.9,816.4 1339.9,816.4 1340.9,816.4 1341.9,816.3 1342.9,816.3 1343.9,816.3 1344.9,816.3 1345.9,816.2 1346.9,816.2 1347.9,816.2 1348.9,816.1 1349.9,816.1 1350.9,816.1 1351.9,816.1 1352.9,816.1 1353.9,816 1354.9,816 1355.9,816 1356.9,816 1357.9,815.9 1358.9,815.9 1359.9,815.9 1360.9,815.9 1361.9,815.9 1362.9,815.9 1363.9,815.8 1364.9,815.8 1365.9,815.8 1366.9,815.8 1367.9,815.8 1368.9,815.8 1369.9,815.7 1370.9,815.7 1371.9,815.7 1372.9,815.7 1373.9,815.7 1374.9,815.7 1375.9,815.7 1376.9,815.7 1377.9,815.6 1378.9,815.6 1379.9,815.6 1380.9,815.6 1381.9,815.6 1382.9,815.6 1383.9,815.6 1384.9,815.6 1385.9,815.6 1386.9,815.6 1387.9,815.5 1388.9,815.5 1389.9,815.5 1390.9,815.5 1391.9,815.5 1392.9,815.5 1393.9,815.5 1394.9,815.5 1395.9,815.5 1396.9,815.5 1397.9,815.5 1398.9,815.5 1399.9,815.5 1400.9,815.5 1401.9,815.4 1402.9,815.4 1403.9,815.4 1404.9,815.4 1405.9,815.4 1406.9,815.4 1407.9,815.4 1408.9,815.4 1409.9,815.4 1410.9,815.4 1411.9,815.4 1412.9,815.4 1413.9,815.4 1414.9,815.4 1415.9,815.4 1416.9,815.4 1417.9,815.4 1418.9,815.4 1419.9,815.4 1420.9,815.4 1421.9,815.4 1422.9,815.4 1423.9,815.3 1424.9,815.3 1425.9,815.3 1426.9,815.3 1427.9,815.3 1428.9,815.3 1429.9,815.3 1430.9,815.3 1431.9,815.3 1432.9,815.3 1433.9,815.3 1434.9,815.3 1435.9,815.3 1436.9,815.3 1437.9,815.3 1438.9,815.3 1439.9,815.3 1440.9,815.3 1441.9,815.3 1442.9,815.3 1443.9,815.3 1444.9,815.3 1445.9,815.3 1446.9,815.3 1447.9,815.3 1448.9,815.3 1449.9,815.3 1450.9,815.3 1451.9,815.3 1452.9,815.3 1453.9,815.3 1454.9,815.3 1455.9,815.3 1456.9,815.3 1457.9,815.3 1458.9,815.3 1459.9,815.3 1460.9,815.3 1461.9,815.3 1462.9,815.3 1463.9,815.3 1464.9,815.3 1465.9,815.3 1466.9,815.3 1467.9,815.3 1468.9,815.3 1469.9,815.3 1470.9,815.3 1471.9,815.3 1472.9,815.3 1473.9,815.3 1474.9,815.3 1475.9,815.3 1476.9,815.3 1477.9,815.3 1478.9,815.3 1479.9,815.3 1480.9,815.3 1481.9,815.3 1482.9,815.3 1483.9,815.4 1484.9,815.4 1485.9,815.4 1486.9,815.4 1487.9,815.4 1488.9,815.4 1489.9,815.5 1490.9,815.5 1491.9,815.5 1492.9,815.6 1493.9,815.7 1494.9,815.8 1495.9,815.9 1496.9,816.1 1497.9,816.3 1498.9,816.6 1499.9,816.9 1500.9,817.4 1501.9,817.8 1502.9,818.4 1503.9,819.1 1504.9,819.8 1505.9,820.7 1506.9,821.7 1507.9,822.8 1508.9,824 1509.9,825.2 1510.9,826.6 1511.9,828 1512.9,829.4 1513.9,830.8 1514.9,832.2 1515.9,833.6 1516.9,834.8 1517.9,835.9 1518.9,836.9 1519.9,837.7 1520.9,838.4 1521.9,839.2 1522.9,839.5 1523.9,838.8 1524.9,838 1525.9,837.3 1526.9,836.4 1527.9,835.4 1528.9,834.2 1529.9,832.9 1530.9,831.5 1531.9,830.1 1532.9,828.7 1533.9,827.3 1534.9,825.9 1535.9,824.6 1536.9,823.4 1537.9,822.3 1538.9,821.3 1539.9,820.4 1540.9,819.6 1541.9,818.8 1542.9,818.2 1543.9,817.7 1544.9,817.3 1545.9,817 1546.9,816.7 1547.9,816.4 1548.9,816.2 1549.9,816.1 1550.9,816 1551.9,815.9 1552.9,815.8 1553.9,815.8 1554.9,815.7 1555.9,815.7 1556.9,815.7 1557.9,815.7 1558.9,815.7 1559.9,815.7 1560.9,815.7 1561.9,815.7 1562.9,815.7 1563.9,815.7 1564.9,815.7 1565.9,815.7 1566.9,815.7 1567.9,815.7 1568.9,815.7 1569.9,815.7 1570.9,815.7 1571.9,815.8 1572.9,815.8 1573.9,815.8 1574.9,815.8 1575.9,815.8 1576.9,815.8 1577.9,815.8 1578.9,815.8 1579.9,815.8 1580.9,815.8 1581.9,815.9 1582.9,815.9 1583.9,815.9 1584.9,815.9 1585.9,815.9 1586.9,815.9 1587.9,815.9 1588.9,815.9 1589.9,815.9 1590.9,816 1591.9,816 1592.9,816 1593.9,816 1594.9,816 1595.9,816 1596.9,816 1597.9,816 1598.9,816.1 1599.9,816.1 1600.9,816.1 1601.9,816.1 1602.9,816.1 1603.9,816.1 1604.9,816.1 1605.9,816.2 1606.9,816.2 1607.9,816.2 1608.9,816.2 1609.9,816.2 1610.9,816.2 1611.9,816.3 1612.9,816.3 1613.9,816.3 1614.9,816.3 1615.9,816.3 1616.9,816.4 1617.9,816.4 1618.9,816.4 1619.9,816.4 1620.9,816.4 1621.9,816.5 1622.9,816.5 1623.9,816.5 1624.9,816.5 1625.9,816.5 1626.9,816.6 1627.9,816.6 1628.9,816.6 1629.9,816.6 1630.9,816.7 1631.9,816.7 1632.9,816.7 1633.9,816.7 1634.9,816.8 1635.9,816.8 1636.9,816.8 1637.9,816.8 1638.9,816.9 1639.9,816.9 1640.9,816.9 1641.9,817 1642.9,817 1643.9,817 1644.9,817 1645.9,817.1 1646.9,817.1 1647.9,817.1 1648.9,817.2 1649.9,817.2 1650.9,817.3 1651.9,817.3 1652.9,817.3 1653.9,817.4 1654.9,817.4 1655.9,817.4 1656.9,817.5 1657.9,817.5 1658.9,817.6 1659.9,817.6 1660.9,817.7 1661.9,817.7 1662.9,817.7 1663.9,817.8 1664.9,817.8 1665.9,817.9 1666.9,817.9 1667.9,818 1668.9,818 1669.9,818.1 1670.9,818.1 1671.9,818.2 1672.9,818.3 1673.9,818.3 1674.9,818.4 1675.9,818.4 1676.9,818.5 1677.9,818.6 1678.9,818.6 1679.9,818.7 1680.9,818.8 1681.9,818.8 1682.9,818.9 1683.9,819 1684.9,819.1 1685.9,819.1 1686.9,819.2 1687.9,819.3 1688.9,819.4 1689.9,819.5 1690.9,819.6 1691.9,819.7 1692.9,819.8 1693.9,819.9 1694.9,820 1695.9,820.1 1696.9,820.2 1697.9,820.3 1698.9,820.4 1699.9,820.5 1700.9,820.6 1701.9,820.7 1702.9,820.9 1703.9,821 1704.9,821.1 1705.9,821.3 1706.9,821.4 1707.9,821.6 1708.9,821.7 1709.9,821.9 1710.9,822 1711.9,822.2 1712.9,822.4 1713.9,822.5 1714.9,822.7 1715.9,822.9 1716.9,823.1 1717.9,823.3 1718.9,823.5 1719.9,823.7 1720.9,824 1721.9,824.2 1722.9,824.4 1723.9,824.7 1724.9,825 1725.9,825.2 1726.9,825.5 1727.9,825.8 1728.9,826.1 1729.9,826.4 1730.9,826.8 1731.9,827.1 1732.9,827.5 1733.9,827.8 1734.9,828.2 1735.9,828.6 1736.9,829.1 1737.9,829.5 1738.9,830 1739.9,830.4 1740.9,831 1741.9,831.5 1742.9,832 1743.9,832.6 1744.9,833.2 1745.9,833.9 1746.9,834.6 1747.9,835.3 1748.9,836 1749.9,836.8 1750.9,837.6 1751.9,838.5 1752.9,839.5 1753.9,840.4 1754.9,841.5 1755.9,842.6 1756.9,843.7 1757.9,845 1758.9,846.3 1759.9,847.6 1760.9,849.1 1761.9,850.7 1762.9,852.4 1763.9,854.1 1764.9,856 1765.9,858 1766.9,860.2 1767.9,862.5 1768.9,865 1769.9,867.6 1770.9,870.4 1771.9,873.4 1772.9,876.7 1773.9,880.1 1774.9,883.8 1775.9,887.8 1776.9,892 1777.9,896.5 1778.9,901.3 1779.9,906.4 1780.9,911.7 1781.9,917.4 1782.9,923.4 1783.9,929.7 1784.9,936.2 1785.9,942.9 1786.9,949.9 1787.9,956.9 1788.9,964.1 1789.9,971.2 1790.9,978.3 1791.9,985.1 1792.9,991.7 1793.9,997.9 1794.9,1003.5 1795.9,1008.6 1796.9,1012.9 1797.9,1016.5 1798.9,1019.1 1799.9,1020.9 1800.9,1021.6 1801.9,1021.1 1802.9,1019.1 1803.9,1015.5 1804.9,1010.5 1805.9,1004.3 1806.9,997 1807.9,988.9 1808.9,980.3 1809.9,971.3 1810.9,962.2 1811.9,953.1 1812.9,944.2 1813.9,935.5 1814.9,927.3 1815.9,919.4 1816.9,912.1 1817.9,905.2 1818.9,898.9 1819.9,893 1820.9,887.6 1821.9,882.6 1822.9,878 1823.9,873.8 1824.9,869.9 1825.9,866.4 1826.9,863.1 1827.9,860.2 1828.9,857.4 1829.9,854.9 1830.9,852.6 1831.9,850.5 1832.9,848.5 1833.9,846.7 1834.9,845 1835.9,843.4 1836.9,842 1837.9,840.6 1838.9,839.4 1839.9,838.2 1840.9,837.1 1841.9,836.1 1842.9,835.1 1843.9,834.2 1844.9,833.4 1845.9,832.6 1846.9,831.8 1847.9,831.1 1848.9,830.5 1849.9,829.9 1850.9,829.3 1851.9,828.7 1852.9,828.2 1853.9,827.7 1854.9,827.2 1855.9,826.8 1856.9,826.4 1857.9,826 1858.9,825.6 1859.9,825.2 1860.9,824.9 1861.9,824.5 1862.9,824.2 1863.9,823.9 1864.9,823.6 1865.9,823.3 1866.9,823.1 1867.9,822.8 1868.9,822.6 1869.9,822.4 1870.9,822.1 1871.9,821.9 1872.9,821.7 1873.9,821.5 1874.9,821.3 1875.9,821.2 1876.9,821 1877.9,820.8 1878.9,820.7 1879.9,820.5 1880.9,820.4 1881.9,820.2 1882.9,820.1 1883.9,819.9 1884.9,819.8 1885.9,819.7 1886.9,819.6 1887.9,819.4 1888.9,819.3 1889.9,819.2 1890.9,819.1 1891.9,819 1892.9,818.9 1893.9,818.8 1894.9,818.7 1895.9,818.6 1896.9,818.5 1897.9,818.5 1898.9,818.4 1899.9,818.3 1900.9,818.2 1901.9,818.1 1902.9,818.1 1903.9,818 1904.9,817.9 1905.9,817.9 1906.9,817.8 1907.9,817.7 1908.9,817.7 1909.9,817.6 1910.9,817.6 1911.9,817.5 1912.9,817.5 1913.9,817.4 1914.9,817.3 1915.9,817.3 1916.9,817.2 1917.9,817.2 1918.9,817.1 1919.9,817.1 1920.9,817.1 1921.9,817 1922.9,817 1923.9,816.9 1924.9,816.9 1925.9,816.9 1926.9,816.8 1927.9,816.8 1928.9,816.7 1929.9,816.7 1930.9,816.7 1931.9,816.6 1932.9,816.6 1933.9,816.6 1934.9,816.5 1935.9,816.5 1936.9,816.5 1937.9,816.4 1938.9,816.4 1939.9,816.4 1940.9,816.4 1941.9,816.3 1942.9,816.3 1943.9,816.3 1944.9,816.2 1945.9,816.2 1946.9,816.2 1947.9,816.2 1948.9,816.1 1949.9,816.1 1950.9,816.1 1951.9,816.1 1952.9,816.1 1953.9,816 1954.9,816 1955.9,816 1956.9,816 1957.9,815.9 1958.9,815.9 1959.9,815.9 1960.9,815.9 1961.9,815.9 1962.9,815.9 1963.9,815.8 1964.9,815.8 1965.9,815.8 1966.9,815.8 1967.9,815.8 1968.9,815.8 1969.9,815.7 1970.9,815.7 1971.9,815.7 1972.9,815.7 1973.9,815.7 1974.9,815.7 1975.9,815.6 1976.9,815.6 1977.9,815.6 1978,815.6" stroke="#0000ff" stroke-width="5" fill="none" stroke-linejoin="round"/>
<path d="M282.4,1250.3 283.4,1250.3 284.4,1250.3 285.4,1250.3 286.4,1250.3 287.4,1250.4 288.4,1250.4 289.4,1250.4 290.4,1250.4 291.4,1250.4 292.4,1250.4 293.4,1250.4 294.4,1250.4 295.4,1250.4 296.4,1250.4 297.4,1250.5 298.4,1250.5 299.4,1250.5 300.4,1250.5 301.4,1250.5 302.4,1250.5 303.4,1250.5 304.4,1250.5 305.4,1250.6 306.4,1250.6 307.4,1250.6 308.4,1250.6 309.4,1250.6 310.4,1250.6 311.4,1250.6 312.4,1250.6 313.4,1250.7 314.4,1250.7 315.4,1250.7 316.4,1250.7 317.4,1250.7 318.4,1250.7 319.4,1250.8 320.4,1250.8 321.4,1250.8 322.4,1250.8 323.4,1250.8 324.4,1250.8 325.4,1250.8 326.4,1250.9 327.4,1250.9 328.4,1250.9 329.4,1250.9 330.4,1250.9 331.4,1251 332.4,1251 333.4,1251 334.4,1251 335.4,1251 336.4,1251.1 337.4,1251.1 338.4,1251.1 339.4,1251.1 340.4,1251.1 341.4,1251.2 342.4,1251.2 343.4,1251.2 344.4,1251.2 345.4,1251.2 346.4,1251.3 347.4,1251.3 348.4,1251.3 349.4,1251.3 350.4,1251.4 351.4,1251.4 352.4,1251.4 353.4,1251.4 354.4,1251.5 355.4,1251.5 356.4,1251.5 357.4,1251.6 358.4,1251.6 359.4,1251.6 360.4,1251.7 361.4,1251.7 362.4,1251.7 363.4,1251.7 364.4,1251.8 365.4,1251.8 366.4,1251.8 367.4,1251.9 368.4,1251.9 369.4,1252 370.4,1252 371.4,1252 372.4,1252.1 373.4,1252.1 374.4,1252.2 375.4,1252.2 376.4,1252.2 377.4,1252.3 378.4,1252.3 379.4,1252.4 380.4,1252.4 381.4,1252.5 382.4,1252.5 383.4,1252.6 384.4,1252.6 385.4,1252.7 386.4,1252.7 387.4,1252.8 388.4,1252.8 389.4,1252.9 390.4,1253 391.4,1253 392.4,1253.1 393.4,1253.1 394.4,1253.2 395.4,1253.3 396.4,1253.3 397.4,1253.4 398.4,1253.5 399.4,1253.6 400.4,1253.6 401.4,1253.7 402.4,1253.8 403.4,1253.9 404.4,1254 405.4,1254.1 406.4,1254.2 407.4,1254.2 408.4,1254.3 409.4,1254.4 410.4,1254.5 411.4,1254.7 412.4,1254.8 413.4,1254.9 414.4,1255 415.4,1255.1 416.4,1255.2 417.4,1255.4 418.4,1255.5 419.4,1255.6 420.4,1255.8 421.4,1255.9 422.4,1256.1 423.4,1256.3 424.4,1256.4 425.4,1256.6 426.4,1256.8 427.4,1257 428.4,1257.2 429.4,1257.4 430.4,1257.6 431.4,1257.8 432.4,1258 433.4,1258.2 434.4,1258.5 435.4,1258.7 436.4,1259 437.4,1259.3 438.4,1259.6 439.4,1259.9 440.4,1260.2 441.4,1260.6 442.4,1260.9 443.4,1261.3 444.4,1261.7 445.4,1262.1 446.4,1262.5 447.4,1263 448.4,1263.4 449.4,1263.9 450.4,1264.5 451.4,1265 452.4,1265.6 453.4,1266.2 454.4,1266.9 455.4,1267.6 456.4,1268.4 457.4,1269.2 458.4,1270 459.4,1270.9 460.4,1271.9 461.4,1272.9 462.4,1274 463.4,1275.2 464.4,1276.5 465.4,1277.8 466.4,1279.3 467.4,1280.9 468.4,1282.6 469.4,1284.4 470.4,1286.4 471.4,1288.6 472.4,1290.9 473.4,1293.4 474.4,1296.2 475.4,1299.2 476.4,1302.4 477.4,1305.9 478.4,1309.7 479.4,1313.9 480.4,1318.4 481.4,1323.3 482.4,1328.5 483.4,1334.2 484.4,1340.2 485.4,1346.7 486.4,1353.5 487.4,1360.6 488.4,1368 489.4,1375.7 490.4,1383.4 491.4,1391.1 492.4,1398.6 493.4,1405.8 494.4,1412.5 495.4,1418.5 496.4,1423.7 497.4,1427.9 498.4,1431 499.4,1432.9 500.4,1433.4 501.4,1433.1 502.4,1432.2 503.4,1430.8 504.4,1428.8 505.4,1426.3 506.4,1423.4 507.4,1420 508.4,1416.2 509.4,1412.1 510.4,1407.8 511.4,1403.1 512.4,1398.3 513.4,1393.4 514.4,1388.4 515.4,1383.3 516.4,1378.3 517.4,1373.2 518.4,1368.3 519.4,1363.4 520.4,1358.7 521.4,1354 522.4,1349.6 523.4,1345.3 524.4,1341.1 525.4,1337.2 526.4,1333.4 527.4,1329.8 528.4,1326.4 529.4,1323.1 530.4,1320 531.4,1317.1 532.4,1314.3 533.4,1311.7 534.4,1309.2 535.4,1306.9 536.4,1304.7 537.4,1302.7 538.4,1300.7 539.4,1298.9 540.4,1297.1 541.4,1295.5 542.4,1294 543.4,1292.5 544.4,1291.2 545.4,1289.9 546.4,1288.7 547.4,1287.5 548.4,1286.5 549.4,1285.5 550.4,1284.5 551.4,1283.6 552.4,1282.8 553.4,1282 554.4,1281.3 555.4,1280.6 556.4,1279.9 557.4,1279.3 558.4,1278.8 559.4,1278.3 560.4,1277.8 561.4,1277.3 562.4,1276.9 563.4,1276.6 564.4,1276.2 565.4,1275.9 566.4,1275.6 567.4,1275.4 568.4,1275.2 569.4,1275 570.4,1274.9 571.4,1274.8 572.4,1274.7 573.4,1274.6 574.4,1274.6 575.4,1274.6 576.4,1274.7 577.4,1274.8 578.4,1274.9 579.4,1275.1 580.4,1275.3 581.4,1275.5 582.4,1275.8 583.4,1276.1 584.4,1276.5 585.4,1276.9 586.4,1277.4 587.4,1278 588.4,1278.6 589.4,1279.3 590.4,1280 591.4,1280.8 592.4,1281.7 593.4,1282.7 594.4,1283.7 595.4,1284.9 596.4,1286.1 597.4,1287.5 598.4,1289 599.4,1290.6 600.4,1292.3 601.4,1294.1 602.4,1296.1 603.4,1298.2 604.4,1300.5 605.4,1302.9 606.4,1305.5 607.4,1308.2 608.4,1311.2 609.4,1314.3 610.4,1317.6 611.4,1321 612.4,1324.7 613.4,1328.6 614.4,1332.6 615.4,1336.9 616.4,1341.3 617.4,1345.9 618.4,1350.7 619.4,1355.7 620.4,1360.9 621.4,1366.2 622.4,1371.7 623.4,1377.3 624.4,1383.1 625.4,1388.9 626.4,1394.9 627.4,1401 628.4,1407.1 629.4,1413.3 630.4,1419.5 631.4,1425.7 632.4,1431.9 633.4,1438.1 634.4,1444.3 635.4,1450.3 636.4,1456.3 637.4,1462.2 638.4,1468 639.4,1473.7 640.4,1479.2 641.4,1484.7 642.4,1490.1 643.4,1495.3 644.4,1500.4 645.4,1505.4 646.4,1510.1 647.4,1514.4 648.4,1518 649.4,1520.7 650.4,1522.1 651.4,1522.1 652.4,1520.7 653.4,1518.1 654.4,1514.4 655.4,1510.2 656.4,1505.4 657.4,1500.4 658.4,1495.3 659.4,1490 660.4,1484.6 661.4,1479.1 662.4,1473.5 663.4,1467.8 664.4,1462 665.4,1456.1 666.4,1450 667.4,1443.9 668.4,1437.7 669.4,1431.5 670.4,1425.3 671.4,1419 672.4,1412.7 673.4,1406.5 674.4,1400.3 675.4,1394.2 676.4,1388.1 677.4,1382.2 678.4,1376.4 679.4,1370.7 680.4,1365.1 681.4,1359.7 682.4,1354.5 683.4,1349.4 684.4,1344.5 685.4,1339.8 686.4,1335.3 687.4,1330.9 688.4,1326.8 689.4,1322.8 690.4,1319.1 691.4,1315.5 692.4,1312.1 693.4,1308.8 694.4,1305.8 695.4,1302.9 696.4,1300.2 697.4,1297.6 698.4,1295.2 699.4,1293 700.4,1290.8 701.4,1288.8 702.4,1287 703.4,1285.2 704.4,1283.6 705.4,1282.1 706.4,1280.6 707.4,1279.3 708.4,1278 709.4,1276.9 710.4,1275.8 711.4,1274.7 712.4,1273.8 713.4,1272.9 714.4,1272 715.4,1271.3 716.4,1270.5 717.4,1269.8 718.4,1269.2 719.4,1268.6 720.4,1268 721.4,1267.5 722.4,1267 723.4,1266.5 724.4,1266.1 725.4,1265.7 726.4,1265.3 727.4,1264.9 728.4,1264.6 729.4,1264.3 730.4,1264 731.4,1263.8 732.4,1263.5 733.4,1263.3 734.4,1263.1 735.4,1263 736.4,1262.8 737.4,1262.7 738.4,1262.6 739.4,1262.6 740.4,1262.6 741.4,1262.6 742.4,1262.6 743.4,1262.6 744.4,1262.7 745.4,1262.9 746.4,1263 747.4,1263.2 748.4,1263.4 749.4,1263.7 750.4,1263.9 751.4,1264.2 752.4,1264.6 753.4,1264.9 754.4,1265.3 755.4,1265.7 756.4,1266.2 757.4,1266.6 758.4,1267.1 759.4,1267.6 760.4,1268 761.4,1268.5 762.4,1269 763.4,1269.4 764.4,1269.9 765.4,1270.3 766.4,1270.7 767.4,1271.1 768.4,1271.4 769.4,1271.7 770.4,1271.9 771.4,1272.1 772.4,1272.2 773.4,1272.3 774.4,1272.4 775.4,1272.3 776.4,1272.3 777.4,1272.1 778.4,1271.9 779.4,1271.7 780.4,1271.4 781.4,1271 782.4,1270.6 783.4,1270.2 784.4,1269.7 785.4,1269.2 786.4,1268.7 787.4,1268.2 788.4,1267.6 789.4,1267 790.4,1266.5 791.4,1265.9 792.4,1265.3 793.4,1264.7 794.4,1264.2 795.4,1263.6 796.4,1263.1 797.4,1262.6 798.4,1262.1 799.4,1261.7 800.4,1261.2 801.4,1260.8 802.4,1260.5 803.4,1260.1 804.4,1259.8 805.4,1259.6 806.4,1259.3 807.4,1259.1 808.4,1258.9 809.4,1258.8 810.4,1258.7 811.4,1258.6 812.4,1258.5 813.4,1258.5 814.4,1258.5 815.4,1258.5 816.4,1258.6 817.4,1258.7 818.4,1258.8 819.4,1259 820.4,1259.2 821.4,1259.4 822.4,1259.7 823.4,1260 824.4,1260.4 825.4,1260.8 826.4,1261.3 827.4,1261.8 828.4,1262.4 829.4,1263 830.4,1263.7 831.4,1264.5 832.4,1265.3 833.4,1266.3 834.4,1267.3 835.4,1268.4 836.4,1269.5 837.4,1270.8 838.4,1272.1 839.4,1273.5 840.4,1274.9 841.4,1276.4 842.4,1278 843.4,1279.6 844.4,1281.3 845.4,1283 846.4,1284.7 847.4,1286.4 848.4,1288.1 849.4,1289.8 850.4,1291.4 851.4,1293 852.4,1294.4 853.4,1295.8 854.4,1297.1 855.4,1298.2 856.4,1299.2 857.4,1300 858.4,1300.7 859.4,1301.2 860.4,1301.5 861.4,1301.6 862.4,1301.6 863.4,1301.3 864.4,1300.9 865.4,1300.3 866.4,1299.5 867.4,1298.6 868.4,1297.5 869.4,1296.3 870.4,1295 871.4,1293.5 872.4,1292 873.4,1290.4 874.4,1288.7 875.4,1287.1 876.4,1285.4 877.4,1283.7 878.4,1282 879.4,1280.3 880.4,1278.6 881.4,1277 882.4,1275.5 883.4,1274 884.4,1272.6 885.4,1271.3 886.4,1270 887.4,1268.8 888.4,1267.7 889.4,1266.7 890.4,1265.7 891.4,1264.8 892.4,1264 893.4,1263.3 894.4,1262.6 895.4,1261.9 896.4,1261.4 897.4,1260.9 898.4,1260.4 899.4,1260 900.4,1259.6 901.4,1259.3 902.4,1259 903.4,1258.7 904.4,1258.5 905.4,1258.2 906.4,1258 907.4,1257.9 908.4,1257.7 909.4,1257.6 910.4,1257.4 911.4,1257.3 912.4,1257.2 913.4,1257.1 914.4,1257 915.4,1257 916.4,1256.9 917.4,1256.8 918.4,1256.8 919.4,1256.7 920.4,1256.7 921.4,1256.6 922.4,1256.6 923.4,1256.6 924.4,1256.6 925.4,1256.5 926.4,1256.5 927.4,1256.5 928.4,1256.5 929.4,1256.5 930.4,1256.5 931.4,1256.5 932.4,1256.4 933.4,1256.4 934.4,1256.4 935.4,1256.4 936.4,1256.5 937.4,1256.5 938.4,1256.5 939.4,1256.5 940.4,1256.5 941.4,1256.5 942.4,1256.5 943.4,1256.5 944.4,1256.6 945.4,1256.6 946.4,1256.6 947.4,1256.6 948.4,1256.6 949.4,1256.7 950.4,1256.7 951.4,1256.7 952.4,1256.8 953.4,1256.8 954.4,1256.8 955.4,1256.9 956.4,1256.9 957.4,1257 958.4,1257 959.4,1257 960.4,1257.1 961.4,1257.1 962.4,1257.2 963.4,1257.2 964.4,1257.3 965.4,1257.4 966.4,1257.4 967.4,1257.5 968.4,1257.6 969.4,1257.6 970.4,1257.7 971.4,1257.8 972.4,1257.9 973.4,1257.9 974.4,1258 975.4,1258.1 976.4,1258.2 977.4,1258.3 978.4,1258.4 979.4,1258.5 980.4,1258.7 981.4,1258.8 982.4,1258.9 983.4,1259 984.4,1259.2 985.4,1259.3 986.4,1259.5 987.4,1259.7 988.4,1259.8 989.4,1260 990.4,1260.2 991.4,1260.4 992.4,1260.6 993.4,1260.9 994.4,1261.1 995.4,1261.4 996.4,1261.7 997.4,1262 998.4,1262.3 999.4,1262.7 1000.4,1263.1 1001.4,1263.5 1002.4,1264 1003.4,1264.4 1004.4,1265 1005.4,1265.6 1006.4,1266.2 1007.4,1266.9 1008.4,1267.6 1009.4,1268.4 1010.4,1269.3 1011.4,1270.2 1012.4,1271.3 1013.4,1272.4 1014.4,1273.6 1015.4,1274.9 1016.4,1276.3 1017.4,1277.8 1018.4,1279.5 1019.4,1281.2 1020.4,1283.1 1021.4,1285.1 1022.4,1287.3 1023.4,1289.6 1024.4,1292.1 1025.4,1294.8 1026.4,1297.6 1027.4,1300.6 1028.4,1303.9 1029.4,1307.3 1030.4,1311 1031.4,1315 1032.4,1319.2 1033.4,1323.7 1034.4,1328.6 1035.4,1333.7 1036.4,1339.1 1037.4,1344.6 1038.4,1350.2 1039.4,1355.7 1040.4,1360.8 1041.4,1365.2 1042.4,1368.7 1043.4,1371 1044.4,1372.2 1045.4,1372.2 1046.4,1371.3 1047.4,1369.8 1048.4,1368 1049.4,1366.2 1050.4,1364.6 1051.4,1363.4 1052.4,1362.6 1053.4,1362.4 1054.4,1362.7 1055.4,1363.6 1056.4,1365 1057.4,1367 1058.4,1369.4 1059.4,1372.3 1060.4,1375.6 1061.4,1379.2 1062.4,1383.1 1063.4,1387.1 1064.4,1391.3 1065.4,1395.5 1066.4,1399.6 1067.4,1403.4 1068.4,1406.7 1069.4,1409.3 1070.4,1410.9 1071.4,1411.2 1072.4,1410.1 1073.4,1407.5 1074.4,1403.7 1075.4,1398.8 1076.4,1393.2 1077.4,1387.1 1078.4,1380.7 1079.4,1374.1 1080.4,1367.4 1081.4,1360.7 1082.4,1354.1 1083.4,1347.7 1084.4,1341.5 1085.4,1335.6 1086.4,1329.9 1087.4,1324.5 1088.4,1319.5 1089.4,1314.8 1090.4,1310.4 1091.4,1306.4 1092.4,1302.6 1093.4,1299.2 1094.4,1296.1 1095.4,1293.2 1096.4,1290.6 1097.4,1288.2 1098.4,1286 1099.4,1284.1 1100.4,1282.2 1101.4,1280.6 1102.4,1279.1 1103.4,1277.7 1104.4,1276.4 1105.4,1275.2 1106.4,1274.1 1107.4,1273.1 1108.4,1272.2 1109.4,1271.4 1110.4,1270.6 1111.4,1269.9 1112.4,1269.2 1113.4,1268.6 1114.4,1268 1115.4,1267.4 1116.4,1266.9 1117.4,1266.4 1118.4,1266 1119.4,1265.6 1120.4,1265.2 1121.4,1264.8 1122.4,1264.5 1123.4,1264.2 1124.4,1263.9 1125.4,1263.6 1126.4,1263.3 1127.4,1263.1 1128.4,1262.8 1129.4,1262.6 1130.4,1262.4 1131.4,1262.2 1132.4,1262 1133.4,1261.9 1134.4,1261.7 1135.4,1261.6 1136.4,1261.4 1137.4,1261.3 1138.4,1261.2 1139.4,1261.1 1140.4,1261 1141.4,1260.9 1142.4,1260.8 1143.4,1260.7 1144.4,1260.6 1145.4,1260.5 1146.4,1260.5 1147.4,1260.4 1148.4,1260.4 1149.4,1260.3 1150.4,1260.3 1151.4,1260.3 1152.4,1260.3 1153.4,1260.2 1154.4,1260.2 1155.4,1260.2 1156.4,1260.2 1157.4,1260.2 1158.4,1260.2 1159.4,1260.3 1160.4,1260.3 1161.4,1260.3 1162.4,1260.4 1163.4,1260.4 1164.4,1260.5 1165.4,1260.5 1166.4,1260.6 1167.4,1260.7 1168.4,1260.8 1169.4,1260.9 1170.4,1261 1171.4,1261.1 1172.4,1261.2 1173.4,1261.4 1174.4,1261.5 1175.4,1261.7 1176.4,1261.9 1177.4,1262.1 1178.4,1262.3 1179.4,1262.5 1180.4,1262.8 1181.4,1263.1 1182.4,1263.4 1183.4,1263.7 1184.4,1264.1 1185.4,1264.5 1186.4,1265 1187.4,1265.5 1188.4,1266 1189.4,1266.6 1190.4,1267.3 1191.4,1268.1 1192.4,1268.9 1193.4,1269.9 1194.4,1271 1195.4,1272.2 1196.4,1273.5 1197.4,1275 1198.4,1276.7 1199.4,1278.6 1200.4,1280.7 1201.4,1283.1 1202.4,1285.7 1203.4,1288.7 1204.4,1291.9 1205.4,1295.4 1206.4,1299.3 1207.4,1303.6 1208.4,1308.2 1209.4,1313.2 1210.4,1318.5 1211.4,1324.2 1212.4,1330.2 1213.4,1336.5 1214.4,1343.1 1215.4,1350 1216.4,1357.1 1217.4,1364.4 1218.4,1371.8 1219.4,1379.3 1220.4,1387 1221.4,1394.7 1222.4,1402.4 1223.4,1410.2 1224.4,1417.9 1225.4,1425.2 1226.4,1431.7 1227.4,1436.9 1228.4,1440.2 1229.4,1441.6 1230.4,1441.5 1231.4,1440.3 1232.4,1438.8 1233.4,1437.2 1234.4,1435.7 1235.4,1434.3 1236.4,1433.2 1237.4,1432.2 1238.4,1431.2 1239.4,1430 1240.4,1428.4 1241.4,1425.8 1242.4,1422.1 1243.4,1416.9 1244.4,1410.4 1245.4,1402.6 1246.4,1393.9 1247.4,1384.8 1248.4,1375.7 1249.4,1366.8 1250.4,1358.3 1251.4,1350.3 1252.4,1342.9 1253.4,1336 1254.4,1329.7 1255.4,1323.9 1256.4,1318.6 1257.4,1313.7 1258.4,1309.2 1259.4,1305.1 1260.4,1301.3 1261.4,1297.9 1262.4,1294.7 1263.4,1291.7 1264.4,1289 1265.4,1286.6 1266.4,1284.3 1267.4,1282.2 1268.4,1280.3 1269.4,1278.5 1270.4,1276.9 1271.4,1275.4 1272.4,1274.1 1273.4,1272.8 1274.4,1271.7 1275.4,1270.6 1276.4,1269.7 1277.4,1268.8 1278.4,1268 1279.4,1267.2 1280.4,1266.5 1281.4,1265.9 1282.4,1265.3 1283.4,1264.8 1284.4,1264.3 1285.4,1263.8 1286.4,1263.4 1287.4,1263 1288.4,1262.6 1289.4,1262.3 1290.4,1262 1291.4,1261.6 1292.4,1261.4 1293.4,1261.1 1294.4,1260.9 1295.4,1260.6 1296.4,1260.4 1297.4,1260.2 1298.4,1260 1299.4,1259.8 1300.4,1259.6 1301.4,1259.5 1302.4,1259.3 1303.4,1259.2 1304.4,1259 1305.4,1258.9 1306.4,1258.8 1307.4,1258.7 1308.4,1258.5 1309.4,1258.4 1310.4,1258.3 1311.4,1258.2 1312.4,1258.1 1313.4,1258 1314.4,1258 1315.4,1257.9 1316.4,1257.8 1317.4,1257.7 1318.4,1257.7 1319.4,1257.6 1320.4,1257.5 1321.4,1257.5 1322.4,1257.4 1323.4,1257.4 1324.4,1257.3 1325.4,1257.3 1326.4,1257.2 1327.4,1257.2 1328.4,1257.1 1329.4,1257.1 1330.4,1257.1 1331.4,1257 1332.4,1257 1333.4,1257 1334.4,1256.9 1335.4,1256.9 1336.4,1256.9 1337.4,1256.9 1338.4,1256.9 1339.4,1256.8 1340.4,1256.8 1341.4,1256.8 1342.4,1256.8 1343.4,1256.8 1344.4,1256.8 1345.4,1256.8 1346.4,1256.7 1347.4,1256.7 1348.4,1256.7 1349.4,1256.7 1350.4,1256.7 1351.4,1256.7 1352.4,1256.7 1353.4,1256.7 1354.4,1256.7 1355.4,1256.8 1356.4,1256.8 1357.4,1256.8 1358.4,1256.8 1359.4,1256.8 1360.4,1256.8 1361.4,1256.8 1362.4,1256.9 1363.4,1256.9 1364.4,1256.9 1365.4,1256.9 1366.4,1257 1367.4,1257 1368.4,1257 1369.4,1257.1 1370.4,1257.1 1371.4,1257.1 1372.4,1257.2 1373.4,1257.2 1374.4,1257.3 1375.4,1257.3 1376.4,1257.4 1377.4,1257.4 1378.4,1257.5 1379.4,1257.6 1380.4,1257.6 1381.4,1257.7 1382.4,1257.8 1383.4,1257.9 1384.4,1257.9 1385.4,1258 1386.4,1258.1 1387.4,1258.2 1388.4,1258.3 1389.4,1258.5 1390.4,1258.6 1391.4,1258.7 1392.4,1258.9 1393.4,1259 1394.4,1259.2 1395.4,1259.3 1396.4,1259.5 1397.4,1259.7 1398.4,1259.9 1399.4,1260.1 1400.4,1260.3 1401.4,1260.6 1402.4,1260.8 1403.4,1261.1 1404.4,1261.4 1405.4,1261.7 1406.4,1262.1 1407.4,1262.5 1408.4,1262.9 1409.4,1263.3 1410.4,1263.8 1411.4,1264.3 1412.4,1264.8 1413.4,1265.4 1414.4,1266 1415.4,1266.7 1416.4,1267.4 1417.4,1268.2 1418.4,1269.1 1419.4,1270 1420.4,1271.1 1421.4,1272.1 1422.4,1273.3 1423.4,1274.6 1424.4,1275.9 1425.4,1277.3 1426.4,1278.8 1427.4,1280.3 1428.4,1282 1429.4,1283.6 1430.4,1285.3 1431.4,1287.1 1432.4,1288.8 1433.4,1290.5 1434.4,1292.1 1435.4,1293.7 1436.4,1295.1 1437.4,1296.5 1438.4,1297.7 1439.4,1298.8 1440.4,1299.8 1441.4,1300.8 1442.4,1301.3 1443.4,1300.6 1444.4,1299.6 1445.4,1298.6 1446.4,1297.5 1447.4,1296.2 1448.4,1294.9 1449.4,1293.4 1450.4,1291.9 1451.4,1290.2 1452.4,1288.5 1453.4,1286.8 1454.4,1285.1 1455.4,1283.4 1456.4,1281.8 1457.4,1280.2 1458.4,1278.6 1459.4,1277.2 1460.4,1275.8 1461.4,1274.5 1462.4,1273.3 1463.4,1272.1 1464.4,1271.1 1465.4,1270.1 1466.4,1269.2 1467.4,1268.4 1468.4,1267.6 1469.4,1266.9 1470.4,1266.2 1471.4,1265.6 1472.4,1265.1 1473.4,1264.5 1474.4,1264.1 1475.4,1263.6 1476.4,1263.2 1477.4,1262.8 1478.4,1262.5 1479.4,1262.2 1480.4,1261.9 1481.4,1261.6 1482.4,1261.4 1483.4,1261.2 1484.4,1261.1 1485.4,1260.9 1486.4,1260.8 1487.4,1260.8 1488.4,1260.8 1489.4,1260.9 1490.4,1261.1 1491.4,1261.3 1492.4,1261.7 1493.4,1262.1 1494.4,1262.7 1495.4,1263.3 1496.4,1264.1 1497.4,1265 1498.4,1266 1499.4,1267.1 1500.4,1268.3 1501.4,1269.5 1502.4,1270.8 1503.4,1272 1504.4,1273.1 1505.4,1274.2 1506.4,1275.1 1507.4,1275.9 1508.4,1276.7 1509.4,1277.3 1510.4,1277.6 1511.4,1276.9 1512.4,1276.2 1513.4,1275.4 1514.4,1274.5 1515.4,1273.4 1516.4,1272.2 1517.4,1271 1518.4,1269.7 1519.4,1268.4 1520.4,1267.1 1521.4,1265.9 1522.4,1264.8 1523.4,1263.7 1524.4,1262.8 1525.4,1262 1526.4,1261.3 1527.4,1260.7 1528.4,1260.2 1529.4,1259.8 1530.4,1259.5 1531.4,1259.3 1532.4,1259.1 1533.4,1259 1534.4,1258.9 1535.4,1258.9 1536.4,1258.9 1537.4,1258.9 1538.4,1258.9 1539.4,1258.9 1540.4,1259 1541.4,1259.1 1542.4,1259.1 1543.4,1259.2 1544.4,1259.3 1545.4,1259.4 1546.4,1259.5 1547.4,1259.6 1548.4,1259.7 1549.4,1259.9 1550.4,1260 1551.4,1260.1 1552.4,1260.3 1553.4,1260.4 1554.4,1260.6 1555.4,1260.8 1556.4,1260.9 1557.4,1261.1 1558.4,1261.3 1559.4,1261.5 1560.4,1261.7 1561.4,1261.9 1562.4,1262.2 1563.4,1262.4 1564.4,1262.6 1565.4,1262.9 1566.4,1263.1 1567.4,1263.4 1568.4,1263.7 1569.4,1264 1570.4,1264.3 1571.4,1264.6 1572.4,1265 1573.4,1265.3 1574.4,1265.7 1575.4,1266.1 1576.4,1266.4 1577.4,1266.9 1578.4,1267.3 1579.4,1267.8 1580.4,1268.2 1581.4,1268.8 1582.4,1269.3 1583.4,1269.9 1584.4,1270.5 1585.4,1271.1 1586.4,1271.8 1587.4,1272.5 1588.4,1273.3 1589.4,1274.1 1590.4,1275 1591.4,1275.9 1592.4,1276.9 1593.4,1278 1594.4,1279.1 1595.4,1280.4 1596.4,1281.7 1597.4,1283.1 1598.4,1284.7 1599.4,1286.3 1600.4,1288 1601.4,1289.9 1602.4,1291.9 1603.4,1294.1 1604.4,1296.4 1605.4,1298.8 1606.4,1301.4 1607.4,1304.2 1608.4,1307.1 1609.4,1310.3 1610.4,1313.6 1611.4,1317.1 1612.4,1320.8 1613.4,1324.7 1614.4,1328.8 1615.4,1333.1 1616.4,1337.6 1617.4,1342.3 1618.4,1347.2 1619.4,1352.3 1620.4,1357.6 1621.4,1363.1 1622.4,1368.7 1623.4,1374.6 1624.4,1380.5 1625.4,1386.7 1626.4,1392.9 1627.4,1399.3 1628.4,1405.7 1629.4,1412.2 1630.4,1418.8 1631.4,1425.4 1632.4,1431.9 1633.4,1438.5 1634.4,1445 1635.4,1451.4 1636.4,1457.7 1637.4,1463.9 1638.4,1469.9 1639.4,1475.7 1640.4,1481.2 1641.4,1486.6 1642.4,1491.6 1643.4,1496.3 1644.4,1500.7 1645.4,1504.7 1646.4,1508.3 1647.4,1511.6 1648.4,1514.4 1649.4,1516.8 1650.4,1518.8 1651.4,1520.5 1652.4,1521.9 1653.4,1523.1 1654.4,1523 1655.4,1521.7 1656.4,1520.3 1657.4,1518.7 1658.4,1516.6 1659.4,1514.2 1660.4,1511.4 1661.4,1508.1 1662.4,1504.4 1663.4,1500.4 1664.4,1496 1665.4,1491.3 1666.4,1486.3 1667.4,1481 1668.4,1475.4 1669.4,1469.7 1670.4,1463.7 1671.4,1457.6 1672.4,1451.3 1673.4,1444.9 1674.4,1438.5 1675.4,1432 1676.4,1425.5 1677.4,1419 1678.4,1412.5 1679.4,1406 1680.4,1399.7 1681.4,1393.4 1682.4,1387.3 1683.4,1381.2 1684.4,1375.4 1685.4,1369.7 1686.4,1364.1 1687.4,1358.8 1688.4,1353.6 1689.4,1348.6 1690.4,1343.8 1691.4,1339.3 1692.4,1334.9 1693.4,1330.7 1694.4,1326.8 1695.4,1323.1 1696.4,1319.5 1697.4,1316.2 1698.4,1313.1 1699.4,1310.1 1700.4,1307.4 1701.4,1304.8 1702.4,1302.5 1703.4,1300.2 1704.4,1298.2 1705.4,1296.3 1706.4,1294.6 1707.4,1293 1708.4,1291.5 1709.4,1290.2 1710.4,1289 1711.4,1287.9 1712.4,1286.9 1713.4,1286 1714.4,1285.3 1715.4,1284.6 1716.4,1284 1717.4,1283.5 1718.4,1283.1 1719.4,1282.8 1720.4,1282.5 1721.4,1282.4 1722.4,1282.2 1723.4,1282.2 1724.4,1282.2 1725.4,1282.3 1726.4,1282.4 1727.4,1282.6 1728.4,1282.9 1729.4,1283.2 1730.4,1283.6 1731.4,1284 1732.4,1284.5 1733.4,1285 1734.4,1285.6 1735.4,1286.3 1736.4,1287 1737.4,1287.8 1738.4,1288.6 1739.4,1289.6 1740.4,1290.5 1741.4,1291.6 1742.4,1292.7 1743.4,1293.9 1744.4,1295.2 1745.4,1296.6 1746.4,1298.1 1747.4,1299.7 1748.4,1301.3 1749.4,1303.1 1750.4,1305 1751.4,1307 1752.4,1309.1 1753.4,1311.4 1754.4,1313.8 1755.4,1316.3 1756.4,1319 1757.4,1321.8 1758.4,1324.8 1759.4,1327.9 1760.4,1331.2 1761.4,1334.7 1762.4,1338.3 1763.4,1342.1 1764.4,1346.1 1765.4,1350.2 1766.4,1354.5 1767.4,1358.9 1768.4,1363.5 1769.4,1368.2 1770.4,1372.9 1771.4,1377.8 1772.4,1382.7 1773.4,1387.5 1774.4,1392.4 1775.4,1397.2 1776.4,1401.9 1777.4,1406.4 1778.4,1410.8 1779.4,1414.9 1780.4,1418.7 1781.4,1422.2 1782.4,1425.3 1783.4,1428 1784.4,1430.2 1785.4,1432 1786.4,1433.2 1787.4,1433.9 1788.4,1434 1789.4,1433.1 1790.4,1430.6 1791.4,1426.9 1792.4,1421.9 1793.4,1415.9 1794.4,1409 1795.4,1401.5 1796.4,1393.6 1797.4,1385.4 1798.4,1377.2 1799.4,1369.1 1800.4,1361.2 1801.4,1353.6 1802.4,1346.4 1803.4,1339.6 1804.4,1333.3 1805.4,1327.4 1806.4,1322 1807.4,1316.9 1808.4,1312.3 1809.4,1308.1 1810.4,1304.2 1811.4,1300.7 1812.4,1297.4 1813.4,1294.4 1814.4,1291.7 1815.4,1289.2 1816.4,1286.9 1817.4,1284.8 1818.4,1282.8 1819.4,1281 1820.4,1279.3 1821.4,1277.8 1822.4,1276.4 1823.4,1275.1 1824.4,1273.8 1825.4,1272.7 1826.4,1271.6 1827.4,1270.6 1828.4,1269.7 1829.4,1268.8 1830.4,1268 1831.4,1267.3 1832.4,1266.5 1833.4,1265.9 1834.4,1265.2 1835.4,1264.6 1836.4,1264.1 1837.4,1263.5 1838.4,1263 1839.4,1262.5 1840.4,1262.1 1841.4,1261.7 1842.4,1261.3 1843.4,1260.9 1844.4,1260.5 1845.4,1260.2 1846.4,1259.8 1847.4,1259.5 1848.4,1259.2 1849.4,1258.9 1850.4,1258.6 1851.4,1258.4 1852.4,1258.1 1853.4,1257.9 1854.4,1257.6 1855.4,1257.4 1856.4,1257.2 1857.4,1257 1858.4,1256.8 1859.4,1256.6 1860.4,1256.4 1861.4,1256.3 1862.4,1256.1 1863.4,1255.9 1864.4,1255.8 1865.4,1255.6 1866.4,1255.5 1867.4,1255.3 1868.4,1255.2 1869.4,1255.1 1870.4,1254.9 1871.4,1254.8 1872.4,1254.7 1873.4,1254.6 1874.4,1254.5 1875.4,1254.4 1876.4,1254.3 1877.4,1254.2 1878.4,1254.1 1879.4,1254 1880.4,1253.9 1881.4,1253.8 1882.4,1253.7 1883.4,1253.6 1884.4,1253.5 1885.4,1253.5 1886.4,1253.4 1887.4,1253.3 1888.4,1253.2 1889.4,1253.2 1890.4,1253.1 1891.4,1253 1892.4,1253 1893.4,1252.9 1894.4,1252.8 1895.4,1252.8 1896.4,1252.7 1897.4,1252.7 1898.4,1252.6 1899.4,1252.6 1900.4,1252.5 1901.4,1252.5 1902.4,1252.4 1903.4,1252.4 1904.4,1252.3 1905.4,1252.3 1906.4,1252.2 1907.4,1252.2 1908.4,1252.1 1909.4,1252.1 1910.4,1252 1911.4,1252 1912.4,1252 1913.4,1251.9 1914.4,1251.9 1915.4,1251.8 1916.4,1251.8 1917.4,1251.8 1918.4,1251.7 1919.4,1251.7 1920.4,1251.7 1921.4,1251.6 1922.4,1251.6 1923.4,1251.6 1924.4,1251.5 1925.4,1251.5 1926.4,1251.5 1927.4,1251.4 1928.4,1251.4 1929.4,1251.4 1930.4,1251.4 1931.4,1251.3 1932.4,1251.3 1933.4,1251.3 1934.4,1251.3 1935.4,1251.2 1936.4,1251.2 1937.4,1251.2 1938.4,1251.2 1939.4,1251.1 1940.4,1251.1 1941.4,1251.1 1942.4,1251.1 1943.4,1251 1944.4,1251 1945.4,1251 1946.4,1251 1947.4,1251 1948.4,1250.9 1949.4,1250.9 1950.4,1250.9 1951.4,1250.9 1952.4,1250.9 1953.4,1250.9 1954.4,1250.8 1955.4,1250.8 1956.4,1250.8 1957.4,1250.8 1958.4,1250.8 1959.4,1250.7 1960.4,1250.7 1961.4,1250.7 1962.4,1250.7 1963.4,1250.7 1964.4,1250.7 1965.4,1250.7 1966.4,1250.6 1967.4,1250.6 1968.4,1250.6 1969.4,1250.6 1970.4,1250.6 1971.4,1250.6 1972,1250.6" stroke="#ff0000" stroke-width="6" fill="none" stroke-linejoin="round"/>
<path d="M278.5,1258.3h7.8v7.8h-7.8zM281.8,1243.4h7.8v7.8h-7.8zM285.1,1244.6h7.8v7.8h-7.8zM288.4,1245.8h7.8v7.8h-7.8zM291.7,1244.6h7.8v7.8h-7.8zM295,1249.9h7.8v7.8h-7.8zM298.3,1244.5h7.8v7.8h-7.8zM301.6,1235.5h7.8v7.8h-7.8zM305,1248.3h7.8v7.8h-7.8zM308.3,1248.5h7.8v7.8h-7.8zM311.6,1246.4h7.8v7.8h-7.8zM314.9,1253.5h7.8v7.8h-7.8zM318.2,1243.5h7.8v7.8h-7.8zM321.5,1241.7h7.8v7.8h-7.8zM324.8,1247.1h7.8v7.8h-7.8zM328.1,1242.5h7.8v7.8h-7.8zM331.4,1249.8h7.8v7.8h-7.8zM334.7,1248.6h7.8v7.8h-7.8zM338,1244.8h7.8v7.8h-7.8zM341.3,1240.6h7.8v7.8h-7.8zM344.6,1248.8h7.8v7.8h-7.8zM347.9,1247.1h7.8v7.8h-7.8zM351.2,1256h7.8v7.8h-7.8zM354.5,1246h7.8v7.8h-7.8zM357.9,1245.9h7.8v7.8h-7.8zM361.2,1241.4h7.8v7.8h-7.8zM364.5,1258.7h7.8v7.8h-7.8zM367.8,1244.9h7.8v7.8h-7.8zM371.1,1250.2h7.8v7.8h-7.8zM374.4,1247.9h7.8v7.8h-7.8zM377.7,1249.6h7.8v7.8h-7.8zM381,1243.1h7.8v7.8h-7.8zM384.3,1247.1h7.8v7.8h-7.8zM387.6,1240.9h7.8v7.8h-7.8zM390.9,1250.3h7.8v7.8h-7.8zM394.2,1248.4h7.8v7.8h-7.8zM397.5,1245.5h7.8v7.8h-7.8zM400.8,1252.1h7.8v7.8h-7.8zM404.1,1251.7h7.8v7.8h-7.8zM407.5,1251.1h7.8v7.8h-7.8zM410.8,1243.3h7.8v7.8h-7.8zM414.1,1257.7h7.8v7.8h-7.8zM417.4,1247.1h7.8v7.8h-7.8zM420.7,1250.9h7.8v7.8h-7.8zM424,1261.8h7.8v7.8h-7.8zM427.3,1257.8h7.8v7.8h-7.8zM430.6,1248.8h7.8v7.8h-7.8zM433.9,1254.4h7.8v7.8h-7.8zM437.2,1258.6h7.8v7.8h-7.8zM440.5,1252.7h7.8v7.8h-7.8zM443.8,1254.7h7.8v7.8h-7.8zM447.1,1276.6h7.8v7.8h-7.8zM450.4,1268.5h7.8v7.8h-7.8zM453.7,1260.9h7.8v7.8h-7.8zM457,1280.2h7.8v7.8h-7.8zM460.4,1267.1h7.8v7.8h-7.8zM463.7,1274.8h7.8v7.8h-7.8zM467,1282.6h7.8v7.8h-7.8zM470.3,1296.9h7.8v7.8h-7.8zM473.6,1311.5h7.8v7.8h-7.8zM476.9,1320h7.8v7.8h-7.8zM480.2,1338.3h7.8v7.8h-7.8zM483.5,1361.4h7.8v7.8h-7.8zM486.8,1396h7.8v7.8h-7.8zM490.1,1414.4h7.8v7.8h-7.8zM493.4,1417.1h7.8v7.8h-7.8zM496.7,1431.8h7.8v7.8h-7.8zM500,1437.6h7.8v7.8h-7.8zM503.3,1418.7h7.8v7.8h-7.8zM506.6,1411.9h7.8v7.8h-7.8zM510,1393.9h7.8v7.8h-7.8zM513.3,1381h7.8v7.8h-7.8zM516.6,1360.5h7.8v7.8h-7.8zM519.9,1340.7h7.8v7.8h-7.8zM523.2,1332.1h7.8v7.8h-7.8zM526.5,1318.7h7.8v7.8h-7.8zM529.8,1304h7.8v7.8h-7.8zM533.1,1297.2h7.8v7.8h-7.8zM536.4,1298.6h7.8v7.8h-7.8zM539.7,1277.8h7.8v7.8h-7.8zM543,1282.5h7.8v7.8h-7.8zM546.3,1278.2h7.8v7.8h-7.8zM549.6,1280.5h7.8v7.8h-7.8zM552.9,1279.5h7.8v7.8h-7.8zM556.2,1271.2h7.8v7.8h-7.8zM559.5,1280.1h7.8v7.8h-7.8zM562.9,1270.8h7.8v7.8h-7.8zM566.2,1269.6h7.8v7.8h-7.8zM569.5,1267.4h7.8v7.8h-7.8zM572.8,1284.9h7.8v7.8h-7.8zM576.1,1265.6h7.8v7.8h-7.8zM579.4,1280.5h7.8v7.8h-7.8zM582.7,1279.7h7.8v7.8h-7.8zM586,1274.4h7.8v7.8h-7.8zM589.3,1275.8h7.8v7.8h-7.8zM592.6,1279.4h7.8v7.8h-7.8zM595.9,1283.2h7.8v7.8h-7.8zM599.2,1289h7.8v7.8h-7.8zM602.5,1307.7h7.8v7.8h-7.8zM605.8,1308.7h7.8v7.8h-7.8zM609.1,1323h7.8v7.8h-7.8zM612.5,1345.3h7.8v7.8h-7.8zM615.8,1347.5h7.8v7.8h-7.8zM619.1,1378.4h7.8v7.8h-7.8zM622.4,1391.7h7.8v7.8h-7.8zM625.7,1409.9h7.8v7.8h-7.8zM629,1436.8h7.8v7.8h-7.8zM632.3,1452.2h7.8v7.8h-7.8zM635.6,1485.1h7.8v7.8h-7.8zM638.9,1502h7.8v7.8h-7.8zM642.2,1511.2h7.8v7.8h-7.8zM645.5,1518.7h7.8v7.8h-7.8zM648.8,1521.6h7.8v7.8h-7.8zM652.1,1518.2h7.8v7.8h-7.8zM655.4,1491.8h7.8v7.8h-7.8zM658.7,1474.2h7.8v7.8h-7.8zM662,1459.9h7.8v7.8h-7.8zM665.4,1435.7h7.8v7.8h-7.8zM668.7,1410.4h7.8v7.8h-7.8zM672,1387.5h7.8v7.8h-7.8zM675.3,1371.9h7.8v7.8h-7.8zM678.6,1355.3h7.8v7.8h-7.8zM681.9,1345.5h7.8v7.8h-7.8zM685.2,1332.2h7.8v7.8h-7.8zM688.5,1314.6h7.8v7.8h-7.8zM691.8,1293.9h7.8v7.8h-7.8zM695.1,1291.3h7.8v7.8h-7.8zM698.4,1283.6h7.8v7.8h-7.8zM701.7,1287.2h7.8v7.8h-7.8zM705,1275.8h7.8v7.8h-7.8zM708.3,1281.6h7.8v7.8h-7.8zM711.6,1261.2h7.8v7.8h-7.8zM715,1266.5h7.8v7.8h-7.8zM718.3,1266.3h7.8v7.8h-7.8zM721.6,1272.1h7.8v7.8h-7.8zM724.9,1264.9h7.8v7.8h-7.8zM728.2,1254.8h7.8v7.8h-7.8zM731.5,1258.5h7.8v7.8h-7.8zM734.8,1263.2h7.8v7.8h-7.8zM738.1,1267.3h7.8v7.8h-7.8zM741.4,1253.8h7.8v7.8h-7.8zM744.7,1257.4h7.8v7.8h-7.8zM748,1248.7h7.8v7.8h-7.8zM751.3,1268.8h7.8v7.8h-7.8zM754.6,1265.1h7.8v7.8h-7.8zM757.9,1269.9h7.8v7.8h-7.8zM761.2,1266.5h7.8v7.8h-7.8zM764.5,1273h7.8v7.8h-7.8zM767.9,1266.1h7.8v7.8h-7.8zM771.2,1274.3h7.8v7.8h-7.8zM774.5,1274.8h7.8v7.8h-7.8zM777.8,1270.3h7.8v7.8h-7.8zM781.1,1263.7h7.8v7.8h-7.8zM784.4,1269.4h7.8v7.8h-7.8zM787.7,1273.1h7.8v7.8h-7.8zM791,1265h7.8v7.8h-7.8zM794.3,1260.6h7.8v7.8h-7.8zM797.6,1263.6h7.8v7.8h-7.8zM800.9,1254.1h7.8v7.8h-7.8zM804.2,1257.5h7.8v7.8h-7.8zM807.5,1252.3h7.8v7.8h-7.8zM810.8,1256.3h7.8v7.8h-7.8zM814.1,1254.6h7.8v7.8h-7.8zM817.5,1263.6h7.8v7.8h-7.8zM820.8,1252.9h7.8v7.8h-7.8zM824.1,1259.4h7.8v7.8h-7.8zM827.4,1263.6h7.8v7.8h-7.8zM830.7,1265.3h7.8v7.8h-7.8zM834,1268.3h7.8v7.8h-7.8zM837.3,1265.5h7.8v7.8h-7.8zM840.6,1276.3h7.8v7.8h-7.8zM843.9,1279.7h7.8v7.8h-7.8zM847.2,1285.9h7.8v7.8h-7.8zM850.5,1296.5h7.8v7.8h-7.8zM853.8,1299.8h7.8v7.8h-7.8zM857.1,1313.3h7.8v7.8h-7.8zM860.4,1297.6h7.8v7.8h-7.8zM863.7,1299.3h7.8v7.8h-7.8zM867,1286.8h7.8v7.8h-7.8zM870.4,1282.7h7.8v7.8h-7.8zM873.7,1284h7.8v7.8h-7.8zM877,1275.1h7.8v7.8h-7.8zM880.3,1272.2h7.8v7.8h-7.8zM883.6,1258.6h7.8v7.8h-7.8zM886.9,1260.5h7.8v7.8h-7.8zM890.2,1268h7.8v7.8h-7.8zM893.5,1257.3h7.8v7.8h-7.8zM896.8,1255.7h7.8v7.8h-7.8zM900.1,1251.1h7.8v7.8h-7.8zM903.4,1254.7h7.8v7.8h-7.8zM906.7,1241.9h7.8v7.8h-7.8zM910,1257.1h7.8v7.8h-7.8zM913.3,1254.2h7.8v7.8h-7.8zM916.6,1269.8h7.8v7.8h-7.8zM920,1254.9h7.8v7.8h-7.8zM923.3,1251h7.8v7.8h-7.8zM926.6,1248.9h7.8v7.8h-7.8zM929.9,1258.4h7.8v7.8h-7.8zM933.2,1253.3h7.8v7.8h-7.8zM936.5,1251.2h7.8v7.8h-7.8zM939.8,1255.8h7.8v7.8h-7.8zM943.1,1253.6h7.8v7.8h-7.8zM946.4,1252.2h7.8v7.8h-7.8zM949.7,1254h7.8v7.8h-7.8zM953,1256h7.8v7.8h-7.8zM956.3,1253.2h7.8v7.8h-7.8zM959.6,1249.9h7.8v7.8h-7.8zM962.9,1258.1h7.8v7.8h-7.8zM966.2,1254h7.8v7.8h-7.8zM969.5,1259.2h7.8v7.8h-7.8zM972.9,1259.6h7.8v7.8h-7.8zM976.2,1266.1h7.8v7.8h-7.8zM979.5,1250.8h7.8v7.8h-7.8zM982.8,1258.8h7.8v7.8h-7.8zM986.1,1252.3h7.8v7.8h-7.8zM989.4,1263.6h7.8v7.8h-7.8zM992.7,1260.6h7.8v7.8h-7.8zM996,1253.7h7.8v7.8h-7.8zM999.3,1257.1h7.8v7.8h-7.8zM1002.6,1261.1h7.8v7.8h-7.8zM1005.9,1268.1h7.8v7.8h-7.8zM1009.2,1264.9h7.8v7.8h-7.8zM1012.5,1270.3h7.8v7.8h-7.8zM1015.8,1278.4h7.8v7.8h-7.8zM1019.1,1274.4h7.8v7.8h-7.8zM1022.5,1301.4h7.8v7.8h-7.8zM1025.8,1292.8h7.8v7.8h-7.8zM1029.1,1312.1h7.8v7.8h-7.8zM1032.4,1335.3h7.8v7.8h-7.8zM1035.7,1360.1h7.8v7.8h-7.8zM1039,1371.7h7.8v7.8h-7.8zM1042.3,1375.9h7.8v7.8h-7.8zM1045.6,1372.3h7.8v7.8h-7.8zM1048.9,1363.4h7.8v7.8h-7.8zM1052.2,1365.3h7.8v7.8h-7.8zM1055.5,1358h7.8v7.8h-7.8zM1058.8,1384.8h7.8v7.8h-7.8zM1062.1,1400.8h7.8v7.8h-7.8zM1065.4,1411.5h7.8v7.8h-7.8zM1068.7,1404.9h7.8v7.8h-7.8zM1072,1398h7.8v7.8h-7.8zM1075.4,1375.5h7.8v7.8h-7.8zM1078.7,1358.6h7.8v7.8h-7.8zM1082,1318.9h7.8v7.8h-7.8zM1085.3,1319.2h7.8v7.8h-7.8zM1088.6,1301.8h7.8v7.8h-7.8zM1091.9,1292h7.8v7.8h-7.8zM1095.2,1279.4h7.8v7.8h-7.8zM1098.5,1268.8h7.8v7.8h-7.8zM1101.8,1275.6h7.8v7.8h-7.8zM1105.1,1266.5h7.8v7.8h-7.8zM1108.4,1263.9h7.8v7.8h-7.8zM1111.7,1269.1h7.8v7.8h-7.8zM1115,1260.5h7.8v7.8h-7.8zM1118.3,1257.7h7.8v7.8h-7.8zM1121.6,1254.7h7.8v7.8h-7.8zM1125,1265.6h7.8v7.8h-7.8zM1128.3,1254.8h7.8v7.8h-7.8zM1131.6,1255.1h7.8v7.8h-7.8zM1134.9,1265.4h7.8v7.8h-7.8zM1138.2,1249.8h7.8v7.8h-7.8zM1141.5,1245.2h7.8v7.8h-7.8zM1144.8,1266.3h7.8v7.8h-7.8zM1148.1,1249.8h7.8v7.8h-7.8zM1151.4,1253.3h7.8v7.8h-7.8zM1154.7,1257h7.8v7.8h-7.8zM1158,1249.5h7.8v7.8h-7.8zM1161.3,1257.1h7.8v7.8h-7.8zM1164.6,1255.5h7.8v7.8h-7.8zM1167.9,1254.5h7.8v7.8h-7.8zM1171.2,1245h7.8v7.8h-7.8zM1174.6,1253.7h7.8v7.8h-7.8zM1177.9,1256h7.8v7.8h-7.8zM1181.2,1260.7h7.8v7.8h-7.8zM1184.5,1268.6h7.8v7.8h-7.8zM1187.8,1282.6h7.8v7.8h-7.8zM1191.1,1274.2h7.8v7.8h-7.8zM1194.4,1279.5h7.8v7.8h-7.8zM1197.7,1279.4h7.8v7.8h-7.8zM1201,1282.2h7.8v7.8h-7.8zM1204.3,1301.7h7.8v7.8h-7.8zM1207.6,1329h7.8v7.8h-7.8zM1210.9,1340.3h7.8v7.8h-7.8zM1214.2,1370.6h7.8v7.8h-7.8zM1217.5,1400.8h7.8v7.8h-7.8zM1220.8,1429.1h7.8v7.8h-7.8zM1224.1,1443.1h7.8v7.8h-7.8zM1227.5,1453.7h7.8v7.8h-7.8zM1230.8,1439.6h7.8v7.8h-7.8zM1234.1,1427.6h7.8v7.8h-7.8zM1237.4,1430h7.8v7.8h-7.8zM1240.7,1410.3h7.8v7.8h-7.8zM1244,1376.1h7.8v7.8h-7.8zM1247.3,1361.5h7.8v7.8h-7.8zM1250.6,1328.4h7.8v7.8h-7.8zM1253.9,1302.3h7.8v7.8h-7.8zM1257.2,1303.9h7.8v7.8h-7.8zM1260.5,1288.1h7.8v7.8h-7.8zM1263.8,1284.1h7.8v7.8h-7.8zM1267.1,1270.8h7.8v7.8h-7.8zM1270.4,1277.9h7.8v7.8h-7.8zM1273.7,1267.7h7.8v7.8h-7.8zM1277.1,1265.4h7.8v7.8h-7.8zM1280.4,1265.5h7.8v7.8h-7.8zM1283.7,1261.5h7.8v7.8h-7.8zM1287,1268h7.8v7.8h-7.8zM1290.3,1269.6h7.8v7.8h-7.8zM1293.6,1247.4h7.8v7.8h-7.8zM1296.9,1260.6h7.8v7.8h-7.8zM1300.2,1244.7h7.8v7.8h-7.8zM1303.5,1248.2h7.8v7.8h-7.8zM1306.8,1255.6h7.8v7.8h-7.8zM1310.1,1254.2h7.8v7.8h-7.8zM1313.4,1256.2h7.8v7.8h-7.8zM1316.7,1259.1h7.8v7.8h-7.8zM1320,1248.7h7.8v7.8h-7.8zM1323.3,1257.6h7.8v7.8h-7.8zM1326.6,1245h7.8v7.8h-7.8zM1330,1255.1h7.8v7.8h-7.8zM1333.3,1245.2h7.8v7.8h-7.8zM1336.6,1247h7.8v7.8h-7.8zM1339.9,1248.8h7.8v7.8h-7.8zM1343.2,1242.7h7.8v7.8h-7.8zM1346.5,1257.3h7.8v7.8h-7.8zM1349.8,1263h7.8v7.8h-7.8zM1353.1,1258.8h7.8v7.8h-7.8zM1356.4,1259.5h7.8v7.8h-7.8zM1359.7,1257.4h7.8v7.8h-7.8zM1363,1253.2h7.8v7.8h-7.8zM1366.3,1257.1h7.8v7.8h-7.8zM1369.6,1250.2h7.8v7.8h-7.8zM1372.9,1257.9h7.8v7.8h-7.8zM1376.2,1247.3h7.8v7.8h-7.8zM1379.6,1255.4h7.8v7.8h-7.8zM1382.9,1256.5h7.8v7.8h-7.8zM1386.2,1261.3h7.8v7.8h-7.8zM1389.5,1252.8h7.8v7.8h-7.8zM1392.8,1249.3h7.8v7.8h-7.8zM1396.1,1246.4h7.8v7.8h-7.8zM1399.4,1258.2h7.8v7.8h-7.8zM1402.7,1247.1h7.8v7.8h-7.8zM1406,1260h7.8v7.8h-7.8zM1409.3,1267.2h7.8v7.8h-7.8zM1412.6,1262h7.8v7.8h-7.8zM1415.9,1268.9h7.8v7.8h-7.8zM1419.2,1259.1h7.8v7.8h-7.8zM1422.5,1272.5h7.8v7.8h-7.8zM1425.8,1276.5h7.8v7.8h-7.8zM1429.1,1289.1h7.8v7.8h-7.8zM1432.5,1291.2h7.8v7.8h-7.8zM1435.8,1305.4h7.8v7.8h-7.8zM1439.1,1298.6h7.8v7.8h-7.8zM1442.4,1294.3h7.8v7.8h-7.8zM1445.7,1277.1h7.8v7.8h-7.8zM1449,1282.5h7.8v7.8h-7.8zM1452.3,1279.9h7.8v7.8h-7.8zM1455.6,1264.1h7.8v7.8h-7.8zM1458.9,1270.2h7.8v7.8h-7.8zM1462.2,1263.2h7.8v7.8h-7.8zM1465.5,1260.1h7.8v7.8h-7.8zM1468.8,1262.4h7.8v7.8h-7.8zM1472.1,1259.6h7.8v7.8h-7.8zM1475.4,1261.9h7.8v7.8h-7.8zM1478.7,1254.4h7.8v7.8h-7.8zM1482.1,1259h7.8v7.8h-7.8zM1485.4,1250.3h7.8v7.8h-7.8zM1488.7,1269.2h7.8v7.8h-7.8zM1492,1264h7.8v7.8h-7.8zM1495.3,1268.5h7.8v7.8h-7.8zM1498.6,1267.1h7.8v7.8h-7.8zM1501.9,1270.6h7.8v7.8h-7.8zM1505.2,1281.6h7.8v7.8h-7.8zM1508.5,1262.5h7.8v7.8h-7.8zM1511.8,1264.1h7.8v7.8h-7.8zM1515.1,1264h7.8v7.8h-7.8zM1518.4,1261.1h7.8v7.8h-7.8zM1521.7,1251.5h7.8v7.8h-7.8zM1525,1243.4h7.8v7.8h-7.8zM1528.3,1262.4h7.8v7.8h-7.8zM1531.6,1256h7.8v7.8h-7.8zM1535,1255.4h7.8v7.8h-7.8zM1538.3,1257.6h7.8v7.8h-7.8zM1541.6,1251.8h7.8v7.8h-7.8zM1544.9,1259.4h7.8v7.8h-7.8zM1548.2,1261.4h7.8v7.8h-7.8zM1551.5,1263.7h7.8v7.8h-7.8zM1554.8,1246.8h7.8v7.8h-7.8zM1558.1,1265.1h7.8v7.8h-7.8zM1561.4,1251.4h7.8v7.8h-7.8zM1564.7,1277.8h7.8v7.8h-7.8zM1568,1268.7h7.8v7.8h-7.8zM1571.3,1254.7h7.8v7.8h-7.8zM1574.6,1262.4h7.8v7.8h-7.8zM1577.9,1275.2h7.8v7.8h-7.8zM1581.2,1267.3h7.8v7.8h-7.8zM1584.6,1281.2h7.8v7.8h-7.8zM1587.9,1281.5h7.8v7.8h-7.8zM1591.2,1278.9h7.8v7.8h-7.8zM1594.5,1284.1h7.8v7.8h-7.8zM1597.8,1297h7.8v7.8h-7.8zM1601.1,1296.9h7.8v7.8h-7.8zM1604.4,1301.2h7.8v7.8h-7.8zM1607.7,1312.1h7.8v7.8h-7.8zM1611,1324.4h7.8v7.8h-7.8zM1614.3,1335.8h7.8v7.8h-7.8zM1617.6,1356.5h7.8v7.8h-7.8zM1620.9,1386.3h7.8v7.8h-7.8zM1624.2,1413.4h7.8v7.8h-7.8zM1627.5,1425.8h7.8v7.8h-7.8zM1630.8,1453.9h7.8v7.8h-7.8zM1634.1,1469.5h7.8v7.8h-7.8zM1637.5,1490.1h7.8v7.8h-7.8zM1640.8,1520.2h7.8v7.8h-7.8zM1644.1,1521.4h7.8v7.8h-7.8zM1647.4,1521.9h7.8v7.8h-7.8zM1650.7,1535.8h7.8v7.8h-7.8zM1654,1530h7.8v7.8h-7.8zM1657.3,1517.6h7.8v7.8h-7.8zM1660.6,1504.1h7.8v7.8h-7.8zM1663.9,1497.4h7.8v7.8h-7.8zM1667.2,1459.5h7.8v7.8h-7.8zM1670.5,1439.1h7.8v7.8h-7.8zM1673.8,1424.9h7.8v7.8h-7.8zM1677.1,1387.4h7.8v7.8h-7.8zM1680.4,1366.6h7.8v7.8h-7.8zM1683.7,1349.6h7.8v7.8h-7.8zM1687.1,1344.1h7.8v7.8h-7.8zM1690.4,1317.4h7.8v7.8h-7.8zM1693.7,1312h7.8v7.8h-7.8zM1697,1305.9h7.8v7.8h-7.8zM1700.3,1307.4h7.8v7.8h-7.8zM1703.6,1285.6h7.8v7.8h-7.8zM1706.9,1289.9h7.8v7.8h-7.8zM1710.2,1285.2h7.8v7.8h-7.8zM1713.5,1283.9h7.8v7.8h-7.8zM1716.8,1271h7.8v7.8h-7.8zM1720.1,1278.4h7.8v7.8h-7.8zM1723.4,1285.2h7.8v7.8h-7.8zM1726.7,1274.3h7.8v7.8h-7.8zM1730,1287h7.8v7.8h-7.8zM1733.3,1289.1h7.8v7.8h-7.8zM1736.6,1281.1h7.8v7.8h-7.8zM1740,1283h7.8v7.8h-7.8zM1743.3,1300.2h7.8v7.8h-7.8zM1746.6,1309.9h7.8v7.8h-7.8zM1749.9,1309.4h7.8v7.8h-7.8zM1753.2,1318.4h7.8v7.8h-7.8zM1756.5,1324.7h7.8v7.8h-7.8zM1759.8,1337.5h7.8v7.8h-7.8zM1763.1,1348.8h7.8v7.8h-7.8zM1766.4,1371h7.8v7.8h-7.8zM1769.7,1388.8h7.8v7.8h-7.8zM1773,1404.7h7.8v7.8h-7.8zM1776.3,1418.2h7.8v7.8h-7.8zM1779.6,1429.7h7.8v7.8h-7.8zM1782.9,1435h7.8v7.8h-7.8zM1786.2,1432.6h7.8v7.8h-7.8zM1789.6,1416.6h7.8v7.8h-7.8zM1792.9,1400.9h7.8v7.8h-7.8zM1796.2,1366.9h7.8v7.8h-7.8zM1799.5,1339.3h7.8v7.8h-7.8zM1802.8,1323.2h7.8v7.8h-7.8zM1806.1,1293.5h7.8v7.8h-7.8zM1809.4,1285.7h7.8v7.8h-7.8zM1812.7,1279.4h7.8v7.8h-7.8zM1816,1275.3h7.8v7.8h-7.8zM1819.3,1272.4h7.8v7.8h-7.8zM1822.6,1267.8h7.8v7.8h-7.8zM1825.9,1273.6h7.8v7.8h-7.8zM1829.2,1251.1h7.8v7.8h-7.8zM1832.5,1262.4h7.8v7.8h-7.8zM1835.8,1260.1h7.8v7.8h-7.8zM1839.1,1259.3h7.8v7.8h-7.8zM1842.5,1253.1h7.8v7.8h-7.8zM1845.8,1266.2h7.8v7.8h-7.8zM1849.1,1260h7.8v7.8h-7.8zM1852.4,1257.5h7.8v7.8h-7.8zM1855.7,1251h7.8v7.8h-7.8zM1859,1255.8h7.8v7.8h-7.8zM1862.3,1242.5h7.8v7.8h-7.8zM1865.6,1239.7h7.8v7.8h-7.8zM1868.9,1243.6h7.8v7.8h-7.8zM1872.2,1258h7.8v7.8h-7.8zM1875.5,1250.2h7.8v7.8h-7.8zM1878.8,1253.9h7.8v7.8h-7.8zM1882.1,1257.8h7.8v7.8h-7.8zM1885.4,1257.5h7.8v7.8h-7.8zM1888.7,1253.4h7.8v7.8h-7.8zM1892.1,1254.5h7.8v7.8h-7.8zM1895.4,1241.1h7.8v7.8h-7.8zM1898.7,1252.9h7.8v7.8h-7.8zM1902,1249.9h7.8v7.8h-7.8zM1905.3,1246.8h7.8v7.8h-7.8zM1908.6,1257.2h7.8v7.8h-7.8zM1911.9,1257.6h7.8v7.8h-7.8zM1915.2,1242.2h7.8v7.8h-7.8zM1918.5,1244.4h7.8v7.8h-7.8zM1921.8,1243.9h7.8v7.8h-7.8zM1925.1,1247.9h7.8v7.8h-7.8zM1928.4,1249.8h7.8v7.8h-7.8zM1931.7,1239.3h7.8v7.8h-7.8zM1935,1252.4h7.8v7.8h-7.8zM1938.3,1240.7h7.8v7.8h-7.8zM1941.6,1241.7h7.8v7.8h-7.8zM1945,1252.5h7.8v7.8h-7.8zM1948.3,1242.3h7.8v7.8h-7.8zM1951.6,1241.9h7.8v7.8h-7.8zM1954.9,1233.4h7.8v7.8h-7.8zM1958.2,1247.7h7.8v7.8h-7.8zM1961.5,1236.3h7.8v7.8h-7.8zM1964.8,1258.4h7.8v7.8h-7.8zM1968.1,1248.4h7.8v7.8h-7.8z" fill="#000"/>
<path d="M282.4,1190.8 283.4,1190.8 284.4,1190.8 285.4,1190.8 286.4,1190.8 287.4,1190.8 288.4,1190.8 289.4,1190.8 290.4,1190.8 291.4,1190.8 292.4,1190.8 293.4,1190.8 294.4,1190.8 295.4,1190.8 296.4,1190.8 297.4,1190.8 298.4,1190.8 299.4,1190.8 300.4,1190.8 301.4,1190.8 302.4,1190.8 303.4,1190.8 304.4,1190.8 305.4,1190.8 306.4,1190.8 307.4,1190.8 308.4,1190.9 309.4,1190.9 310.4,1190.9 311.4,1190.9 312.4,1190.9 313.4,1190.9 314.4,1190.9 315.4,1190.9 316.4,1190.9 317.4,1190.9 318.4,1190.9 319.4,1190.9 320.4,1190.9 321.4,1190.9 322.4,1190.9 323.4,1190.9 324.4,1190.9 325.4,1190.9 326.4,1190.9 327.4,1190.9 328.4,1190.9 329.4,1190.9 330.4,1190.9 331.4,1190.9 332.4,1190.9 333.4,1190.9 334.4,1190.9 335.4,1190.9 336.4,1190.9 337.4,1190.9 338.4,1190.9 339.4,1191 340.4,1191 341.4,1191 342.4,1191 343.4,1191 344.4,1191 345.4,1191 346.4,1191 347.4,1191 348.4,1191 349.4,1191 350.4,1191 351.4,1191 352.4,1191 353.4,1191 354.4,1191 355.4,1191 356.4,1191 357.4,1191 358.4,1191 359.4,1191 360.4,1191 361.4,1191 362.4,1191.1 363.4,1191.1 364.4,1191.1 365.4,1191.1 366.4,1191.1 367.4,1191.1 368.4,1191.1 369.4,1191.1 370.4,1191.1 371.4,1191.1 372.4,1191.1 373.4,1191.1 374.4,1191.1 375.4,1191.1 376.4,1191.1 377.4,1191.1 378.4,1191.1 379.4,1191.1 380.4,1191.1 381.4,1191.2 382.4,1191.2 383.4,1191.2 384.4,1191.2 385.4,1191.2 386.4,1191.2 387.4,1191.2 388.4,1191.2 389.4,1191.2 390.4,1191.2 391.4,1191.2 392.4,1191.2 393.4,1191.2 394.4,1191.2 395.4,1191.2 396.4,1191.2 397.4,1191.3 398.4,1191.3 399.4,1191.3 400.4,1191.3 401.4,1191.3 402.4,1191.3 403.4,1191.3 404.4,1191.3 405.4,1191.3 406.4,1191.3 407.4,1191.3 408.4,1191.3 409.4,1191.3 410.4,1191.4 411.4,1191.4 412.4,1191.4 413.4,1191.4 414.4,1191.4 415.4,1191.4 416.4,1191.4 417.4,1191.4 418.4,1191.4 419.4,1191.4 420.4,1191.4 421.4,1191.5 422.4,1191.5 423.4,1191.5 424.4,1191.5 425.4,1191.5 426.4,1191.5 427.4,1191.5 428.4,1191.5 429.4,1191.5 430.4,1191.5 431.4,1191.6 432.4,1191.6 433.4,1191.6 434.4,1191.6 435.4,1191.6 436.4,1191.6 437.4,1191.6 438.4,1191.6 439.4,1191.6 440.4,1191.7 441.4,1191.7 442.4,1191.7 443.4,1191.7 444.4,1191.7 445.4,1191.7 446.4,1191.7 447.4,1191.8 448.4,1191.8 449.4,1191.8 450.4,1191.8 451.4,1191.8 452.4,1191.8 453.4,1191.8 454.4,1191.9 455.4,1191.9 456.4,1191.9 457.4,1191.9 458.4,1191.9 459.4,1191.9 460.4,1191.9 461.4,1192 462.4,1192 463.4,1192 464.4,1192 465.4,1192 466.4,1192.1 467.4,1192.1 468.4,1192.1 469.4,1192.1 470.4,1192.1 471.4,1192.1 472.4,1192.2 473.4,1192.2 474.4,1192.2 475.4,1192.2 476.4,1192.3 477.4,1192.3 478.4,1192.3 479.4,1192.3 480.4,1192.3 481.4,1192.4 482.4,1192.4 483.4,1192.4 484.4,1192.4 485.4,1192.5 486.4,1192.5 487.4,1192.5 488.4,1192.5 489.4,1192.6 490.4,1192.6 491.4,1192.6 492.4,1192.7 493.4,1192.7 494.4,1192.7 495.4,1192.8 496.4,1192.8 497.4,1192.8 498.4,1192.8 499.4,1192.9 500.4,1192.9 501.4,1193 502.4,1193 503.4,1193 504.4,1193.1 505.4,1193.1 506.4,1193.1 507.4,1193.2 508.4,1193.2 509.4,1193.3 510.4,1193.3 511.4,1193.3 512.4,1193.4 513.4,1193.4 514.4,1193.5 515.4,1193.5 516.4,1193.6 517.4,1193.6 518.4,1193.7 519.4,1193.7 520.4,1193.8 521.4,1193.8 522.4,1193.9 523.4,1194 524.4,1194 525.4,1194.1 526.4,1194.1 527.4,1194.2 528.4,1194.3 529.4,1194.3 530.4,1194.4 531.4,1194.5 532.4,1194.6 533.4,1194.6 534.4,1194.7 535.4,1194.8 536.4,1194.9 537.4,1195 538.4,1195 539.4,1195.1 540.4,1195.2 541.4,1195.3 542.4,1195.4 543.4,1195.5 544.4,1195.6 545.4,1195.7 546.4,1195.9 547.4,1196 548.4,1196.1 549.4,1196.2 550.4,1196.3 551.4,1196.5 552.4,1196.6 553.4,1196.8 554.4,1196.9 555.4,1197.1 556.4,1197.2 557.4,1197.4 558.4,1197.6 559.4,1197.7 560.4,1197.9 561.4,1198.1 562.4,1198.3 563.4,1198.5 564.4,1198.8 565.4,1199 566.4,1199.2 567.4,1199.5 568.4,1199.8 569.4,1200 570.4,1200.3 571.4,1200.6 572.4,1201 573.4,1201.3 574.4,1201.7 575.4,1202.1 576.4,1202.5 577.4,1202.9 578.4,1203.3 579.4,1203.8 580.4,1204.3 581.4,1204.9 582.4,1205.4 583.4,1206.1 584.4,1206.7 585.4,1207.4 586.4,1208.1 587.4,1208.9 588.4,1209.8 589.4,1210.7 590.4,1211.6 591.4,1212.7 592.4,1213.8 593.4,1215 594.4,1216.2 595.4,1217.6 596.4,1219 597.4,1220.6 598.4,1222.2 599.4,1224 600.4,1225.9 601.4,1227.9 602.4,1230.1 603.4,1232.4 604.4,1234.8 605.4,1237.4 606.4,1240.2 607.4,1243.1 608.4,1246.2 609.4,1249.5 610.4,1252.9 611.4,1256.6 612.4,1260.4 613.4,1264.4 614.4,1268.6 615.4,1273 616.4,1277.6 617.4,1282.4 618.4,1287.4 619.4,1292.5 620.4,1297.8 621.4,1303.3 622.4,1309 623.4,1314.8 624.4,1320.7 625.4,1326.7 626.4,1332.9 627.4,1339.1 628.4,1345.4 629.4,1351.7 630.4,1358.1 631.4,1364.5 632.4,1370.8 633.4,1377.2 634.4,1383.5 635.4,1389.7 636.4,1395.8 637.4,1401.8 638.4,1407.8 639.4,1413.6 640.4,1419.3 641.4,1424.9 642.4,1430.4 643.4,1435.8 644.4,1441 645.4,1446.1 646.4,1450.9 647.4,1455.3 648.4,1459 649.4,1461.8 650.4,1463.3 651.4,1463.3 652.4,1461.9 653.4,1459.3 654.4,1455.7 655.4,1451.4 656.4,1446.6 657.4,1441.6 658.4,1436.4 659.4,1431.1 660.4,1425.7 661.4,1420.2 662.4,1414.5 663.4,1408.8 664.4,1402.9 665.4,1396.9 666.4,1390.8 667.4,1384.7 668.4,1378.5 669.4,1372.2 670.4,1365.9 671.4,1359.6 672.4,1353.2 673.4,1346.9 674.4,1340.7 675.4,1334.5 676.4,1328.4 677.4,1322.4 678.4,1316.6 679.4,1310.8 680.4,1305.2 681.4,1299.8 682.4,1294.5 683.4,1289.3 684.4,1284.4 685.4,1279.7 686.4,1275.1 687.4,1270.7 688.4,1266.5 689.4,1262.5 690.4,1258.7 691.4,1255.1 692.4,1251.7 693.4,1248.5 694.4,1245.4 695.4,1242.5 696.4,1239.7 697.4,1237.2 698.4,1234.7 699.4,1232.5 700.4,1230.3 701.4,1228.3 702.4,1226.4 703.4,1224.7 704.4,1223 705.4,1221.5 706.4,1220.1 707.4,1218.7 708.4,1217.4 709.4,1216.3 710.4,1215.2 711.4,1214.1 712.4,1213.2 713.4,1212.3 714.4,1211.4 715.4,1210.6 716.4,1209.9 717.4,1209.2 718.4,1208.5 719.4,1207.9 720.4,1207.4 721.4,1206.8 722.4,1206.3 723.4,1205.8 724.4,1205.3 725.4,1204.9 726.4,1204.5 727.4,1204.1 728.4,1203.7 729.4,1203.4 730.4,1203.1 731.4,1202.7 732.4,1202.4 733.4,1202.1 734.4,1201.9 735.4,1201.6 736.4,1201.3 737.4,1201.1 738.4,1200.9 739.4,1200.7 740.4,1200.4 741.4,1200.2 742.4,1200 743.4,1199.8 744.4,1199.7 745.4,1199.5 746.4,1199.3 747.4,1199.2 748.4,1199 749.4,1198.9 750.4,1198.7 751.4,1198.6 752.4,1198.5 753.4,1198.3 754.4,1198.2 755.4,1198.1 756.4,1198 757.4,1197.9 758.4,1197.8 759.4,1197.7 760.4,1197.6 761.4,1197.5 762.4,1197.4 763.4,1197.3 764.4,1197.2 765.4,1197.2 766.4,1197.1 767.4,1197 768.4,1196.9 769.4,1196.9 770.4,1196.8 771.4,1196.8 772.4,1196.7 773.4,1196.7 774.4,1196.6 775.4,1196.6 776.4,1196.5 777.4,1196.5 778.4,1196.5 779.4,1196.4 780.4,1196.4 781.4,1196.4 782.4,1196.3 783.4,1196.3 784.4,1196.3 785.4,1196.3 786.4,1196.3 787.4,1196.2 788.4,1196.2 789.4,1196.2 790.4,1196.2 791.4,1196.2 792.4,1196.2 793.4,1196.2 794.4,1196.2 795.4,1196.3 796.4,1196.3 797.4,1196.3 798.4,1196.3 799.4,1196.3 800.4,1196.4 801.4,1196.4 802.4,1196.4 803.4,1196.5 804.4,1196.5 805.4,1196.6 806.4,1196.7 807.4,1196.7 808.4,1196.8 809.4,1196.9 810.4,1197 811.4,1197.1 812.4,1197.2 813.4,1197.4 814.4,1197.5 815.4,1197.7 816.4,1197.8 817.4,1198 818.4,1198.3 819.4,1198.5 820.4,1198.8 821.4,1199.1 822.4,1199.4 823.4,1199.8 824.4,1200.2 825.4,1200.7 826.4,1201.2 827.4,1201.8 828.4,1202.4 829.4,1203.1 830.4,1203.8 831.4,1204.6 832.4,1205.5 833.4,1206.5 834.4,1207.5 835.4,1208.6 836.4,1209.8 837.4,1211 838.4,1212.4 839.4,1213.8 840.4,1215.3 841.4,1216.8 842.4,1218.5 843.4,1220.1 844.4,1221.8 845.4,1223.5 846.4,1225.3 847.4,1227 848.4,1228.7 849.4,1230.4 850.4,1232.1 851.4,1233.7 852.4,1235.2 853.4,1236.6 854.4,1237.8 855.4,1239 856.4,1240 857.4,1240.9 858.4,1241.5 859.4,1242.1 860.4,1242.4 861.4,1242.5 862.4,1242.5 863.4,1242.2 864.4,1241.8 865.4,1241.2 866.4,1240.4 867.4,1239.4 868.4,1238.3 869.4,1237.1 870.4,1235.7 871.4,1234.3 872.4,1232.7 873.4,1231.1 874.4,1229.5 875.4,1227.8 876.4,1226 877.4,1224.3 878.4,1222.6 879.4,1220.9 880.4,1219.2 881.4,1217.6 882.4,1216 883.4,1214.5 884.4,1213.1 885.4,1211.7 886.4,1210.5 887.4,1209.3 888.4,1208.1 889.4,1207.1 890.4,1206.1 891.4,1205.2 892.4,1204.4 893.4,1203.6 894.4,1202.9 895.4,1202.3 896.4,1201.7 897.4,1201.2 898.4,1200.7 899.4,1200.3 900.4,1199.9 901.4,1199.6 902.4,1199.2 903.4,1199 904.4,1198.7 905.4,1198.5 906.4,1198.3 907.4,1198.1 908.4,1197.9 909.4,1197.8 910.4,1197.6 911.4,1197.5 912.4,1197.4 913.4,1197.3 914.4,1197.2 915.4,1197.1 916.4,1197.1 917.4,1197 918.4,1196.9 919.4,1196.9 920.4,1196.8 921.4,1196.8 922.4,1196.8 923.4,1196.7 924.4,1196.7 925.4,1196.6 926.4,1196.6 927.4,1196.6 928.4,1196.6 929.4,1196.6 930.4,1196.5 931.4,1196.5 932.4,1196.5 933.4,1196.5 934.4,1196.5 935.4,1196.5 936.4,1196.5 937.4,1196.5 938.4,1196.5 939.4,1196.5 940.4,1196.5 941.4,1196.5 942.4,1196.5 943.4,1196.5 944.4,1196.5 945.4,1196.5 946.4,1196.5 947.4,1196.5 948.4,1196.5 949.4,1196.5 950.4,1196.5 951.4,1196.5 952.4,1196.5 953.4,1196.5 954.4,1196.6 955.4,1196.6 956.4,1196.6 957.4,1196.6 958.4,1196.6 959.4,1196.6 960.4,1196.7 961.4,1196.7 962.4,1196.7 963.4,1196.7 964.4,1196.8 965.4,1196.8 966.4,1196.8 967.4,1196.9 968.4,1196.9 969.4,1196.9 970.4,1197 971.4,1197 972.4,1197 973.4,1197.1 974.4,1197.1 975.4,1197.1 976.4,1197.2 977.4,1197.2 978.4,1197.3 979.4,1197.3 980.4,1197.4 981.4,1197.4 982.4,1197.5 983.4,1197.5 984.4,1197.6 985.4,1197.7 986.4,1197.7 987.4,1197.8 988.4,1197.9 989.4,1197.9 990.4,1198 991.4,1198.1 992.4,1198.2 993.4,1198.3 994.4,1198.3 995.4,1198.4 996.4,1198.5 997.4,1198.6 998.4,1198.7 999.4,1198.8 1000.4,1198.9 1001.4,1199.1 1002.4,1199.2 1003.4,1199.3 1004.4,1199.4 1005.4,1199.6 1006.4,1199.7 1007.4,1199.9 1008.4,1200 1009.4,1200.2 1010.4,1200.4 1011.4,1200.6 1012.4,1200.8 1013.4,1201 1014.4,1201.2 1015.4,1201.4 1016.4,1201.7 1017.4,1201.9 1018.4,1202.2 1019.4,1202.5 1020.4,1202.8 1021.4,1203.1 1022.4,1203.4 1023.4,1203.8 1024.4,1204.2 1025.4,1204.6 1026.4,1205 1027.4,1205.5 1028.4,1206 1029.4,1206.5 1030.4,1207.1 1031.4,1207.7 1032.4,1208.3 1033.4,1209.1 1034.4,1209.8 1035.4,1210.6 1036.4,1211.5 1037.4,1212.5 1038.4,1213.5 1039.4,1214.7 1040.4,1215.9 1041.4,1217.3 1042.4,1218.7 1043.4,1220.3 1044.4,1222.1 1045.4,1224 1046.4,1226.2 1047.4,1228.5 1048.4,1231 1049.4,1233.8 1050.4,1236.9 1051.4,1240.2 1052.4,1243.8 1053.4,1247.7 1054.4,1251.9 1055.4,1256.5 1056.4,1261.4 1057.4,1266.6 1058.4,1272 1059.4,1277.7 1060.4,1283.7 1061.4,1289.8 1062.4,1296 1063.4,1302.3 1064.4,1308.5 1065.4,1314.6 1066.4,1320.5 1067.4,1326 1068.4,1330.8 1069.4,1334.9 1070.4,1337.8 1071.4,1339.3 1072.4,1339.3 1073.4,1337.7 1074.4,1334.7 1075.4,1330.7 1076.4,1325.8 1077.4,1320.3 1078.4,1314.4 1079.4,1308.3 1080.4,1302.1 1081.4,1295.8 1082.4,1289.6 1083.4,1283.5 1084.4,1277.6 1085.4,1271.9 1086.4,1266.4 1087.4,1261.3 1088.4,1256.4 1089.4,1251.9 1090.4,1247.7 1091.4,1243.8 1092.4,1240.2 1093.4,1236.9 1094.4,1233.8 1095.4,1231.1 1096.4,1228.6 1097.4,1226.3 1098.4,1224.2 1099.4,1222.2 1100.4,1220.5 1101.4,1218.9 1102.4,1217.4 1103.4,1216.1 1104.4,1214.9 1105.4,1213.8 1106.4,1212.7 1107.4,1211.8 1108.4,1210.9 1109.4,1210.1 1110.4,1209.3 1111.4,1208.6 1112.4,1208 1113.4,1207.4 1114.4,1206.9 1115.4,1206.3 1116.4,1205.9 1117.4,1205.4 1118.4,1205 1119.4,1204.6 1120.4,1204.2 1121.4,1203.9 1122.4,1203.6 1123.4,1203.3 1124.4,1203 1125.4,1202.7 1126.4,1202.4 1127.4,1202.2 1128.4,1202 1129.4,1201.8 1130.4,1201.6 1131.4,1201.4 1132.4,1201.2 1133.4,1201 1134.4,1200.9 1135.4,1200.7 1136.4,1200.6 1137.4,1200.5 1138.4,1200.3 1139.4,1200.2 1140.4,1200.1 1141.4,1200 1142.4,1199.9 1143.4,1199.8 1144.4,1199.8 1145.4,1199.7 1146.4,1199.6 1147.4,1199.5 1148.4,1199.5 1149.4,1199.4 1150.4,1199.4 1151.4,1199.3 1152.4,1199.3 1153.4,1199.3 1154.4,1199.2 1155.4,1199.2 1156.4,1199.2 1157.4,1199.2 1158.4,1199.1 1159.4,1199.1 1160.4,1199.1 1161.4,1199.1 1162.4,1199.2 1163.4,1199.2 1164.4,1199.2 1165.4,1199.2 1166.4,1199.2 1167.4,1199.3 1168.4,1199.3 1169.4,1199.4 1170.4,1199.4 1171.4,1199.5 1172.4,1199.6 1173.4,1199.7 1174.4,1199.8 1175.4,1199.9 1176.4,1200 1177.4,1200.1 1178.4,1200.3 1179.4,1200.4 1180.4,1200.6 1181.4,1200.8 1182.4,1201 1183.4,1201.3 1184.4,1201.5 1185.4,1201.8 1186.4,1202.2 1187.4,1202.5 1188.4,1203 1189.4,1203.4 1190.4,1204 1191.4,1204.6 1192.4,1205.3 1193.4,1206 1194.4,1206.9 1195.4,1207.9 1196.4,1209.1 1197.4,1210.3 1198.4,1211.8 1199.4,1213.4 1200.4,1215.2 1201.4,1217.3 1202.4,1219.6 1203.4,1222.2 1204.4,1225 1205.4,1228.1 1206.4,1231.6 1207.4,1235.3 1208.4,1239.4 1209.4,1243.8 1210.4,1248.4 1211.4,1253.4 1212.4,1258.6 1213.4,1264.1 1214.4,1269.8 1215.4,1275.6 1216.4,1281.6 1217.4,1287.7 1218.4,1293.8 1219.4,1299.9 1220.4,1306 1221.4,1312 1222.4,1318 1223.4,1323.8 1224.4,1329.4 1225.4,1334.4 1226.4,1338.5 1227.4,1341 1228.4,1341.4 1229.4,1339.8 1230.4,1336.3 1231.4,1331.6 1232.4,1326.2 1233.4,1320.4 1234.4,1314.5 1235.4,1308.5 1236.4,1302.4 1237.4,1296.2 1238.4,1290.1 1239.4,1284 1240.4,1278 1241.4,1272.1 1242.4,1266.3 1243.4,1260.7 1244.4,1255.3 1245.4,1250.2 1246.4,1245.4 1247.4,1240.9 1248.4,1236.7 1249.4,1232.8 1250.4,1229.2 1251.4,1225.9 1252.4,1222.9 1253.4,1220.2 1254.4,1217.8 1255.4,1215.6 1256.4,1213.6 1257.4,1211.9 1258.4,1210.4 1259.4,1209 1260.4,1207.8 1261.4,1206.7 1262.4,1205.7 1263.4,1204.9 1264.4,1204.1 1265.4,1203.5 1266.4,1202.9 1267.4,1202.4 1268.4,1201.9 1269.4,1201.5 1270.4,1201.1 1271.4,1200.7 1272.4,1200.4 1273.4,1200.1 1274.4,1199.9 1275.4,1199.6 1276.4,1199.4 1277.4,1199.2 1278.4,1199 1279.4,1198.9 1280.4,1198.7 1281.4,1198.6 1282.4,1198.4 1283.4,1198.3 1284.4,1198.2 1285.4,1198.1 1286.4,1198 1287.4,1197.9 1288.4,1197.8 1289.4,1197.7 1290.4,1197.6 1291.4,1197.5 1292.4,1197.5 1293.4,1197.4 1294.4,1197.3 1295.4,1197.3 1296.4,1197.2 1297.4,1197.2 1298.4,1197.1 1299.4,1197.1 1300.4,1197 1301.4,1197 1302.4,1196.9 1303.4,1196.9 1304.4,1196.8 1305.4,1196.8 1306.4,1196.8 1307.4,1196.7 1308.4,1196.7 1309.4,1196.7 1310.4,1196.7 1311.4,1196.6 1312.4,1196.6 1313.4,1196.6 1314.4,1196.6 1315.4,1196.5 1316.4,1196.5 1317.4,1196.5 1318.4,1196.5 1319.4,1196.5 1320.4,1196.5 1321.4,1196.5 1322.4,1196.4 1323.4,1196.4 1324.4,1196.4 1325.4,1196.4 1326.4,1196.4 1327.4,1196.4 1328.4,1196.4 1329.4,1196.4 1330.4,1196.4 1331.4,1196.4 1332.4,1196.4 1333.4,1196.4 1334.4,1196.4 1335.4,1196.4 1336.4,1196.4 1337.4,1196.4 1338.4,1196.4 1339.4,1196.4 1340.4,1196.4 1341.4,1196.4 1342.4,1196.4 1343.4,1196.4 1344.4,1196.4 1345.4,1196.4 1346.4,1196.5 1347.4,1196.5 1348.4,1196.5 1349.4,1196.5 1350.4,1196.5 1351.4,1196.5 1352.4,1196.6 1353.4,1196.6 1354.4,1196.6 1355.4,1196.6 1356.4,1196.6 1357.4,1196.7 1358.4,1196.7 1359.4,1196.7 1360.4,1196.7 1361.4,1196.8 1362.4,1196.8 1363.4,1196.8 1364.4,1196.9 1365.4,1196.9 1366.4,1196.9 1367.4,1197 1368.4,1197 1369.4,1197.1 1370.4,1197.1 1371.4,1197.2 1372.4,1197.2 1373.4,1197.3 1374.4,1197.3 1375.4,1197.4 1376.4,1197.5 1377.4,1197.5 1378.4,1197.6 1379.4,1197.7 1380.4,1197.7 1381.4,1197.8 1382.4,1197.9 1383.4,1198 1384.4,1198.1 1385.4,1198.2 1386.4,1198.3 1387.4,1198.4 1388.4,1198.5 1389.4,1198.6 1390.4,1198.8 1391.4,1198.9 1392.4,1199 1393.4,1199.2 1394.4,1199.4 1395.4,1199.5 1396.4,1199.7 1397.4,1199.9 1398.4,1200.1 1399.4,1200.3 1400.4,1200.6 1401.4,1200.8 1402.4,1201.1 1403.4,1201.4 1404.4,1201.7 1405.4,1202 1406.4,1202.4 1407.4,1202.8 1408.4,1203.2 1409.4,1203.6 1410.4,1204.1 1411.4,1204.6 1412.4,1205.1 1413.4,1205.7 1414.4,1206.4 1415.4,1207.1 1416.4,1207.8 1417.4,1208.6 1418.4,1209.5 1419.4,1210.5 1420.4,1211.5 1421.4,1212.6 1422.4,1213.8 1423.4,1215 1424.4,1216.4 1425.4,1217.8 1426.4,1219.3 1427.4,1220.9 1428.4,1222.5 1429.4,1224.2 1430.4,1226 1431.4,1227.7 1432.4,1229.5 1433.4,1231.2 1434.4,1232.8 1435.4,1234.4 1436.4,1235.9 1437.4,1237.2 1438.4,1238.5 1439.4,1239.6 1440.4,1240.6 1441.4,1241.7 1442.4,1242.1 1443.4,1241.5 1444.4,1240.4 1445.4,1239.4 1446.4,1238.2 1447.4,1237 1448.4,1235.6 1449.4,1234.1 1450.4,1232.6 1451.4,1230.9 1452.4,1229.2 1453.4,1227.4 1454.4,1225.7 1455.4,1224 1456.4,1222.3 1457.4,1220.7 1458.4,1219.1 1459.4,1217.6 1460.4,1216.2 1461.4,1214.9 1462.4,1213.7 1463.4,1212.5 1464.4,1211.5 1465.4,1210.5 1466.4,1209.5 1467.4,1208.7 1468.4,1207.9 1469.4,1207.2 1470.4,1206.5 1471.4,1205.9 1472.4,1205.3 1473.4,1204.8 1474.4,1204.3 1475.4,1203.8 1476.4,1203.4 1477.4,1203 1478.4,1202.7 1479.4,1202.3 1480.4,1202 1481.4,1201.7 1482.4,1201.4 1483.4,1201.2 1484.4,1201 1485.4,1200.7 1486.4,1200.5 1487.4,1200.3 1488.4,1200.2 1489.4,1200 1490.4,1199.8 1491.4,1199.7 1492.4,1199.6 1493.4,1199.4 1494.4,1199.3 1495.4,1199.2 1496.4,1199.1 1497.4,1199 1498.4,1198.9 1499.4,1198.8 1500.4,1198.7 1501.4,1198.7 1502.4,1198.6 1503.4,1198.5 1504.4,1198.5 1505.4,1198.4 1506.4,1198.4 1507.4,1198.3 1508.4,1198.3 1509.4,1198.2 1510.4,1198.2 1511.4,1198.2 1512.4,1198.1 1513.4,1198.1 1514.4,1198.1 1515.4,1198.1 1516.4,1198.1 1517.4,1198 1518.4,1198 1519.4,1198 1520.4,1198 1521.4,1198 1522.4,1198 1523.4,1198 1524.4,1198 1525.4,1198 1526.4,1198.1 1527.4,1198.1 1528.4,1198.1 1529.4,1198.1 1530.4,1198.1 1531.4,1198.2 1532.4,1198.2 1533.4,1198.3 1534.4,1198.3 1535.4,1198.3 1536.4,1198.4 1537.4,1198.5 1538.4,1198.5 1539.4,1198.6 1540.4,1198.6 1541.4,1198.7 1542.4,1198.8 1543.4,1198.9 1544.4,1199 1545.4,1199.1 1546.4,1199.2 1547.4,1199.3 1548.4,1199.4 1549.4,1199.5 1550.4,1199.6 1551.4,1199.7 1552.4,1199.9 1553.4,1200 1554.4,1200.2 1555.4,1200.3 1556.4,1200.5 1557.4,1200.7 1558.4,1200.9 1559.4,1201 1560.4,1201.2 1561.4,1201.4 1562.4,1201.7 1563.4,1201.9 1564.4,1202.1 1565.4,1202.4 1566.4,1202.6 1567.4,1202.9 1568.4,1203.1 1569.4,1203.4 1570.4,1203.7 1571.4,1204 1572.4,1204.3 1573.4,1204.7 1574.4,1205 1575.4,1205.4 1576.4,1205.8 1577.4,1206.2 1578.4,1206.6 1579.4,1207.1 1580.4,1207.5 1581.4,1208 1582.4,1208.6 1583.4,1209.1 1584.4,1209.7 1585.4,1210.3 1586.4,1211 1587.4,1211.7 1588.4,1212.5 1589.4,1213.3 1590.4,1214.2 1591.4,1215.1 1592.4,1216.1 1593.4,1217.2 1594.4,1218.3 1595.4,1219.5 1596.4,1220.8 1597.4,1222.3 1598.4,1223.8 1599.4,1225.4 1600.4,1227.2 1601.4,1229 1602.4,1231 1603.4,1233.2 1604.4,1235.5 1605.4,1237.9 1606.4,1240.5 1607.4,1243.3 1608.4,1246.3 1609.4,1249.4 1610.4,1252.8 1611.4,1256.3 1612.4,1260 1613.4,1263.9 1614.4,1268 1615.4,1272.4 1616.4,1276.9 1617.4,1281.6 1618.4,1286.6 1619.4,1291.7 1620.4,1297 1621.4,1302.6 1622.4,1308.3 1623.4,1314.1 1624.4,1320.2 1625.4,1326.3 1626.4,1332.6 1627.4,1339 1628.4,1345.5 1629.4,1352 1630.4,1358.7 1631.4,1365.3 1632.4,1371.9 1633.4,1378.5 1634.4,1385 1635.4,1391.5 1636.4,1397.8 1637.4,1404 1638.4,1410.1 1639.4,1415.9 1640.4,1421.5 1641.4,1426.8 1642.4,1431.8 1643.4,1436.6 1644.4,1440.9 1645.4,1444.9 1646.4,1448.6 1647.4,1451.8 1648.4,1454.6 1649.4,1457 1650.4,1459 1651.4,1460.6 1652.4,1462 1653.4,1463.1 1654.4,1462.9 1655.4,1461.6 1656.4,1460.1 1657.4,1458.3 1658.4,1456.2 1659.4,1453.6 1660.4,1450.7 1661.4,1447.3 1662.4,1443.5 1663.4,1439.3 1664.4,1434.8 1665.4,1429.9 1666.4,1424.7 1667.4,1419.3 1668.4,1413.5 1669.4,1407.6 1670.4,1401.4 1671.4,1395.1 1672.4,1388.7 1673.4,1382.1 1674.4,1375.4 1675.4,1368.7 1676.4,1362 1677.4,1355.3 1678.4,1348.6 1679.4,1341.9 1680.4,1335.4 1681.4,1328.9 1682.4,1322.5 1683.4,1316.2 1684.4,1310.1 1685.4,1304.2 1686.4,1298.4 1687.4,1292.8 1688.4,1287.4 1689.4,1282.2 1690.4,1277.2 1691.4,1272.4 1692.4,1267.8 1693.4,1263.4 1694.4,1259.2 1695.4,1255.2 1696.4,1251.4 1697.4,1247.8 1698.4,1244.4 1699.4,1241.2 1700.4,1238.2 1701.4,1235.3 1702.4,1232.6 1703.4,1230.1 1704.4,1227.8 1705.4,1225.6 1706.4,1223.5 1707.4,1221.6 1708.4,1219.8 1709.4,1218.1 1710.4,1216.6 1711.4,1215.1 1712.4,1213.8 1713.4,1212.5 1714.4,1211.3 1715.4,1210.3 1716.4,1209.2 1717.4,1208.3 1718.4,1207.4 1719.4,1206.6 1720.4,1205.9 1721.4,1205.2 1722.4,1204.5 1723.4,1203.9 1724.4,1203.3 1725.4,1202.8 1726.4,1202.3 1727.4,1201.9 1728.4,1201.4 1729.4,1201 1730.4,1200.6 1731.4,1200.3 1732.4,1199.9 1733.4,1199.6 1734.4,1199.3 1735.4,1199.1 1736.4,1198.8 1737.4,1198.5 1738.4,1198.3 1739.4,1198.1 1740.4,1197.9 1741.4,1197.6 1742.4,1197.5 1743.4,1197.3 1744.4,1197.1 1745.4,1196.9 1746.4,1196.8 1747.4,1196.6 1748.4,1196.5 1749.4,1196.3 1750.4,1196.2 1751.4,1196 1752.4,1195.9 1753.4,1195.8 1754.4,1195.7 1755.4,1195.6 1756.4,1195.4 1757.4,1195.3 1758.4,1195.2 1759.4,1195.1 1760.4,1195 1761.4,1195 1762.4,1194.9 1763.4,1194.8 1764.4,1194.7 1765.4,1194.6 1766.4,1194.5 1767.4,1194.5 1768.4,1194.4 1769.4,1194.3 1770.4,1194.2 1771.4,1194.2 1772.4,1194.1 1773.4,1194 1774.4,1194 1775.4,1193.9 1776.4,1193.8 1777.4,1193.8 1778.4,1193.7 1779.4,1193.7 1780.4,1193.6 1781.4,1193.6 1782.4,1193.5 1783.4,1193.5 1784.4,1193.4 1785.4,1193.4 1786.4,1193.3 1787.4,1193.3 1788.4,1193.2 1789.4,1193.2 1790.4,1193.1 1791.4,1193.1 1792.4,1193.1 1793.4,1193 1794.4,1193 1795.4,1192.9 1796.4,1192.9 1797.4,1192.9 1798.4,1192.8 1799.4,1192.8 1800.4,1192.8 1801.4,1192.7 1802.4,1192.7 1803.4,1192.7 1804.4,1192.6 1805.4,1192.6 1806.4,1192.6 1807.4,1192.5 1808.4,1192.5 1809.4,1192.5 1810.4,1192.5 1811.4,1192.4 1812.4,1192.4 1813.4,1192.4 1814.4,1192.4 1815.4,1192.3 1816.4,1192.3 1817.4,1192.3 1818.4,1192.3 1819.4,1192.2 1820.4,1192.2 1821.4,1192.2 1822.4,1192.2 1823.4,1192.1 1824.4,1192.1 1825.4,1192.1 1826.4,1192.1 1827.4,1192.1 1828.4,1192 1829.4,1192 1830.4,1192 1831.4,1192 1832.4,1192 1833.4,1191.9 1834.4,1191.9 1835.4,1191.9 1836.4,1191.9 1837.4,1191.9 1838.4,1191.9 1839.4,1191.8 1840.4,1191.8 1841.4,1191.8 1842.4,1191.8 1843.4,1191.8 1844.4,1191.8 1845.4,1191.7 1846.4,1191.7 1847.4,1191.7 1848.4,1191.7 1849.4,1191.7 1850.4,1191.7 1851.4,1191.7 1852.4,1191.6 1853.4,1191.6 1854.4,1191.6 1855.4,1191.6 1856.4,1191.6 1857.4,1191.6 1858.4,1191.6 1859.4,1191.6 1860.4,1191.5 1861.4,1191.5 1862.4,1191.5 1863.4,1191.5 1864.4,1191.5 1865.4,1191.5 1866.4,1191.5 1867.4,1191.5 1868.4,1191.4 1869.4,1191.4 1870.4,1191.4 1871.4,1191.4 1872.4,1191.4 1873.4,1191.4 1874.4,1191.4 1875.4,1191.4 1876.4,1191.4 1877.4,1191.4 1878.4,1191.3 1879.4,1191.3 1880.4,1191.3 1881.4,1191.3 1882.4,1191.3 1883.4,1191.3 1884.4,1191.3 1885.4,1191.3 1886.4,1191.3 1887.4,1191.3 1888.4,1191.3 1889.4,1191.3 1890.4,1191.2 1891.4,1191.2 1892.4,1191.2 1893.4,1191.2 1894.4,1191.2 1895.4,1191.2 1896.4,1191.2 1897.4,1191.2 1898.4,1191.2 1899.4,1191.2 1900.4,1191.2 1901.4,1191.2 1902.4,1191.2 1903.4,1191.2 1904.4,1191.1 1905.4,1191.1 1906.4,1191.1 1907.4,1191.1 1908.4,1191.1 1909.4,1191.1 1910.4,1191.1 1911.4,1191.1 1912.4,1191.1 1913.4,1191.1 1914.4,1191.1 1915.4,1191.1 1916.4,1191.1 1917.4,1191.1 1918.4,1191.1 1919.4,1191.1 1920.4,1191 1921.4,1191 1922.4,1191 1923.4,1191 1924.4,1191 1925.4,1191 1926.4,1191 1927.4,1191 1928.4,1191 1929.4,1191 1930.4,1191 1931.4,1191 1932.4,1191 1933.4,1191 1934.4,1191 1935.4,1191 1936.4,1191 1937.4,1191 1938.4,1191 1939.4,1191 1940.4,1191 1941.4,1190.9 1942.4,1190.9 1943.4,1190.9 1944.4,1190.9 1945.4,1190.9 1946.4,1190.9 1947.4,1190.9 1948.4,1190.9 1949.4,1190.9 1950.4,1190.9 1951.4,1190.9 1952.4,1190.9 1953.4,1190.9 1954.4,1190.9 1955.4,1190.9 1956.4,1190.9 1957.4,1190.9 1958.4,1190.9 1959.4,1190.9 1960.4,1190.9 1961.4,1190.9 1962.4,1190.9 1963.4,1190.9 1964.4,1190.9 1965.4,1190.9 1966.4,1190.9 1967.4,1190.9 1968.4,1190.8 1969.4,1190.8 1970.4,1190.8 1971.4,1190.8 1972,1190.8" stroke="#00ff00" stroke-width="5" fill="none" stroke-linejoin="round"/>
<path d="M282.4,1189.9 283.4,1189.9 284.4,1190 285.4,1190 286.4,1190 287.4,1190 288.4,1190 289.4,1190 290.4,1190 291.4,1190 292.4,1190 293.4,1190 294.4,1190 295.4,1190 296.4,1190 297.4,1190.1 298.4,1190.1 299.4,1190.1 300.4,1190.1 301.4,1190.1 302.4,1190.1 303.4,1190.1 304.4,1190.1 305.4,1190.1 306.4,1190.1 307.4,1190.1 308.4,1190.2 309.4,1190.2 310.4,1190.2 311.4,1190.2 312.4,1190.2 313.4,1190.2 314.4,1190.2 315.4,1190.2 316.4,1190.2 317.4,1190.3 318.4,1190.3 319.4,1190.3 320.4,1190.3 321.4,1190.3 322.4,1190.3 323.4,1190.3 324.4,1190.3 325.4,1190.4 326.4,1190.4 327.4,1190.4 328.4,1190.4 329.4,1190.4 330.4,1190.4 331.4,1190.4 332.4,1190.5 333.4,1190.5 334.4,1190.5 335.4,1190.5 336.4,1190.5 337.4,1190.5 338.4,1190.6 339.4,1190.6 340.4,1190.6 341.4,1190.6 342.4,1190.6 343.4,1190.6 344.4,1190.7 345.4,1190.7 346.4,1190.7 347.4,1190.7 348.4,1190.7 349.4,1190.8 350.4,1190.8 351.4,1190.8 352.4,1190.8 353.4,1190.8 354.4,1190.9 355.4,1190.9 356.4,1190.9 357.4,1190.9 358.4,1191 359.4,1191 360.4,1191 361.4,1191 362.4,1191.1 363.4,1191.1 364.4,1191.1 365.4,1191.1 366.4,1191.2 367.4,1191.2 368.4,1191.2 369.4,1191.3 370.4,1191.3 371.4,1191.3 372.4,1191.4 373.4,1191.4 374.4,1191.4 375.4,1191.5 376.4,1191.5 377.4,1191.5 378.4,1191.6 379.4,1191.6 380.4,1191.7 381.4,1191.7 382.4,1191.8 383.4,1191.8 384.4,1191.8 385.4,1191.9 386.4,1191.9 387.4,1192 388.4,1192 389.4,1192.1 390.4,1192.1 391.4,1192.2 392.4,1192.2 393.4,1192.3 394.4,1192.4 395.4,1192.4 396.4,1192.5 397.4,1192.5 398.4,1192.6 399.4,1192.7 400.4,1192.7 401.4,1192.8 402.4,1192.9 403.4,1193 404.4,1193 405.4,1193.1 406.4,1193.2 407.4,1193.3 408.4,1193.4 409.4,1193.5 410.4,1193.6 411.4,1193.7 412.4,1193.8 413.4,1193.9 414.4,1194 415.4,1194.1 416.4,1194.2 417.4,1194.3 418.4,1194.4 419.4,1194.6 420.4,1194.7 421.4,1194.8 422.4,1195 423.4,1195.1 424.4,1195.3 425.4,1195.5 426.4,1195.6 427.4,1195.8 428.4,1196 429.4,1196.2 430.4,1196.4 431.4,1196.6 432.4,1196.8 433.4,1197 434.4,1197.2 435.4,1197.5 436.4,1197.7 437.4,1198 438.4,1198.3 439.4,1198.6 440.4,1198.9 441.4,1199.2 442.4,1199.5 443.4,1199.9 444.4,1200.2 445.4,1200.6 446.4,1201.1 447.4,1201.5 448.4,1201.9 449.4,1202.4 450.4,1202.9 451.4,1203.5 452.4,1204 453.4,1204.7 454.4,1205.3 455.4,1206 456.4,1206.7 457.4,1207.5 458.4,1208.3 459.4,1209.2 460.4,1210.1 461.4,1211.1 462.4,1212.2 463.4,1213.3 464.4,1214.6 465.4,1215.9 466.4,1217.3 467.4,1218.9 468.4,1220.5 469.4,1222.3 470.4,1224.3 471.4,1226.4 472.4,1228.7 473.4,1231.1 474.4,1233.8 475.4,1236.8 476.4,1239.9 477.4,1243.4 478.4,1247.1 479.4,1251.2 480.4,1255.7 481.4,1260.4 482.4,1265.6 483.4,1271.2 484.4,1277.1 485.4,1283.4 486.4,1290.1 487.4,1297.2 488.4,1304.5 489.4,1312 490.4,1319.6 491.4,1327.1 492.4,1334.5 493.4,1341.6 494.4,1348.2 495.4,1354.1 496.4,1359.2 497.4,1363.3 498.4,1366.3 499.4,1368.1 500.4,1368.7 501.4,1368.3 502.4,1367.4 503.4,1366 504.4,1364 505.4,1361.5 506.4,1358.5 507.4,1355.2 508.4,1351.4 509.4,1347.3 510.4,1342.9 511.4,1338.3 512.4,1333.6 513.4,1328.6 514.4,1323.6 515.4,1318.6 516.4,1313.6 517.4,1308.5 518.4,1303.6 519.4,1298.7 520.4,1294 521.4,1289.4 522.4,1284.9 523.4,1280.6 524.4,1276.5 525.4,1272.5 526.4,1268.7 527.4,1265.1 528.4,1261.6 529.4,1258.3 530.4,1255.2 531.4,1252.3 532.4,1249.5 533.4,1246.8 534.4,1244.3 535.4,1241.9 536.4,1239.7 537.4,1237.6 538.4,1235.5 539.4,1233.6 540.4,1231.8 541.4,1230.1 542.4,1228.5 543.4,1227 544.4,1225.5 545.4,1224.2 546.4,1222.9 547.4,1221.6 548.4,1220.5 549.4,1219.3 550.4,1218.3 551.4,1217.3 552.4,1216.3 553.4,1215.4 554.4,1214.5 555.4,1213.7 556.4,1212.9 557.4,1212.2 558.4,1211.5 559.4,1210.8 560.4,1210.1 561.4,1209.5 562.4,1208.9 563.4,1208.3 564.4,1207.8 565.4,1207.2 566.4,1206.7 567.4,1206.2 568.4,1205.8 569.4,1205.3 570.4,1204.9 571.4,1204.5 572.4,1204.1 573.4,1203.7 574.4,1203.3 575.4,1203 576.4,1202.6 577.4,1202.3 578.4,1202 579.4,1201.7 580.4,1201.4 581.4,1201.1 582.4,1200.8 583.4,1200.6 584.4,1200.3 585.4,1200.1 586.4,1199.8 587.4,1199.6 588.4,1199.4 589.4,1199.1 590.4,1198.9 591.4,1198.7 592.4,1198.5 593.4,1198.3 594.4,1198.1 595.4,1198 596.4,1197.8 597.4,1197.6 598.4,1197.5 599.4,1197.3 600.4,1197.1 601.4,1197 602.4,1196.8 603.4,1196.7 604.4,1196.6 605.4,1196.4 606.4,1196.3 607.4,1196.2 608.4,1196.1 609.4,1195.9 610.4,1195.8 611.4,1195.7 612.4,1195.6 613.4,1195.5 614.4,1195.4 615.4,1195.3 616.4,1195.2 617.4,1195.1 618.4,1195 619.4,1194.9 620.4,1194.8 621.4,1194.7 622.4,1194.6 623.4,1194.5 624.4,1194.5 625.4,1194.4 626.4,1194.3 627.4,1194.2 628.4,1194.1 629.4,1194.1 630.4,1194 631.4,1193.9 632.4,1193.9 633.4,1193.8 634.4,1193.7 635.4,1193.7 636.4,1193.6 637.4,1193.5 638.4,1193.5 639.4,1193.4 640.4,1193.4 641.4,1193.3 642.4,1193.3 643.4,1193.2 644.4,1193.2 645.4,1193.1 646.4,1193.1 647.4,1193 648.4,1193 649.4,1192.9 650.4,1192.9 651.4,1192.8 652.4,1192.8 653.4,1192.7 654.4,1192.7 655.4,1192.6 656.4,1192.6 657.4,1192.6 658.4,1192.5 659.4,1192.5 660.4,1192.5 661.4,1192.4 662.4,1192.4 663.4,1192.3 664.4,1192.3 665.4,1192.3 666.4,1192.2 667.4,1192.2 668.4,1192.2 669.4,1192.1 670.4,1192.1 671.4,1192.1 672.4,1192.1 673.4,1192 674.4,1192 675.4,1192 676.4,1191.9 677.4,1191.9 678.4,1191.9 679.4,1191.9 680.4,1191.8 681.4,1191.8 682.4,1191.8 683.4,1191.8 684.4,1191.7 685.4,1191.7 686.4,1191.7 687.4,1191.7 688.4,1191.7 689.4,1191.6 690.4,1191.6 691.4,1191.6 692.4,1191.6 693.4,1191.6 694.4,1191.5 695.4,1191.5 696.4,1191.5 697.4,1191.5 698.4,1191.5 699.4,1191.5 700.4,1191.4 701.4,1191.4 702.4,1191.4 703.4,1191.4 704.4,1191.4 705.4,1191.4 706.4,1191.4 707.4,1191.3 708.4,1191.3 709.4,1191.3 710.4,1191.3 711.4,1191.3 712.4,1191.3 713.4,1191.3 714.4,1191.3 715.4,1191.3 716.4,1191.3 717.4,1191.3 718.4,1191.3 719.4,1191.3 720.4,1191.3 721.4,1191.3 722.4,1191.3 723.4,1191.3 724.4,1191.3 725.4,1191.4 726.4,1191.4 727.4,1191.4 728.4,1191.4 729.4,1191.5 730.4,1191.5 731.4,1191.6 732.4,1191.7 733.4,1191.7 734.4,1191.8 735.4,1191.9 736.4,1192 737.4,1192.2 738.4,1192.3 739.4,1192.5 740.4,1192.6 741.4,1192.8 742.4,1193 743.4,1193.3 744.4,1193.6 745.4,1193.8 746.4,1194.2 747.4,1194.5 748.4,1194.9 749.4,1195.2 750.4,1195.7 751.4,1196.1 752.4,1196.6 753.4,1197 754.4,1197.5 755.4,1198.1 756.4,1198.6 757.4,1199.2 758.4,1199.7 759.4,1200.3 760.4,1200.8 761.4,1201.4 762.4,1201.9 763.4,1202.5 764.4,1203 765.4,1203.5 766.4,1203.9 767.4,1204.4 768.4,1204.7 769.4,1205.1 770.4,1205.4 771.4,1205.6 772.4,1205.8 773.4,1206 774.4,1206 775.4,1206.1 776.4,1206 777.4,1205.9 778.4,1205.8 779.4,1205.6 780.4,1205.3 781.4,1205 782.4,1204.6 783.4,1204.2 784.4,1203.8 785.4,1203.3 786.4,1202.8 787.4,1202.3 788.4,1201.7 789.4,1201.1 790.4,1200.6 791.4,1200 792.4,1199.4 793.4,1198.9 794.4,1198.3 795.4,1197.8 796.4,1197.2 797.4,1196.7 798.4,1196.2 799.4,1195.7 800.4,1195.3 801.4,1194.9 802.4,1194.5 803.4,1194.1 804.4,1193.7 805.4,1193.4 806.4,1193.1 807.4,1192.8 808.4,1192.6 809.4,1192.3 810.4,1192.1 811.4,1191.9 812.4,1191.8 813.4,1191.6 814.4,1191.5 815.4,1191.4 816.4,1191.2 817.4,1191.1 818.4,1191.1 819.4,1191 820.4,1190.9 821.4,1190.8 822.4,1190.8 823.4,1190.7 824.4,1190.7 825.4,1190.6 826.4,1190.6 827.4,1190.6 828.4,1190.5 829.4,1190.5 830.4,1190.5 831.4,1190.5 832.4,1190.5 833.4,1190.4 834.4,1190.4 835.4,1190.4 836.4,1190.4 837.4,1190.4 838.4,1190.4 839.4,1190.4 840.4,1190.4 841.4,1190.3 842.4,1190.3 843.4,1190.3 844.4,1190.3 845.4,1190.3 846.4,1190.3 847.4,1190.3 848.4,1190.3 849.4,1190.3 850.4,1190.3 851.4,1190.3 852.4,1190.3 853.4,1190.3 854.4,1190.3 855.4,1190.3 856.4,1190.3 857.4,1190.3 858.4,1190.2 859.4,1190.2 860.4,1190.2 861.4,1190.2 862.4,1190.2 863.4,1190.2 864.4,1190.2 865.4,1190.2 866.4,1190.2 867.4,1190.2 868.4,1190.2 869.4,1190.2 870.4,1190.2 871.4,1190.2 872.4,1190.2 873.4,1190.2 874.4,1190.2 875.4,1190.2 876.4,1190.2 877.4,1190.2 878.4,1190.2 879.4,1190.2 880.4,1190.2 881.4,1190.2 882.4,1190.2 883.4,1190.2 884.4,1190.2 885.4,1190.2 886.4,1190.2 887.4,1190.2 888.4,1190.2 889.4,1190.2 890.4,1190.2 891.4,1190.2 892.4,1190.2 893.4,1190.2 894.4,1190.2 895.4,1190.2 896.4,1190.2 897.4,1190.2 898.4,1190.2 899.4,1190.2 900.4,1190.2 901.4,1190.2 902.4,1190.2 903.4,1190.2 904.4,1190.3 905.4,1190.3 906.4,1190.3 907.4,1190.3 908.4,1190.3 909.4,1190.3 910.4,1190.3 911.4,1190.3 912.4,1190.3 913.4,1190.3 914.4,1190.3 915.4,1190.3 916.4,1190.3 917.4,1190.3 918.4,1190.3 919.4,1190.3 920.4,1190.3 921.4,1190.3 922.4,1190.3 923.4,1190.4 924.4,1190.4 925.4,1190.4 926.4,1190.4 927.4,1190.4 928.4,1190.4 929.4,1190.4 930.4,1190.4 931.4,1190.4 932.4,1190.4 933.4,1190.4 934.4,1190.4 935.4,1190.5 936.4,1190.5 937.4,1190.5 938.4,1190.5 939.4,1190.5 940.4,1190.5 941.4,1190.5 942.4,1190.5 943.4,1190.6 944.4,1190.6 945.4,1190.6 946.4,1190.6 947.4,1190.6 948.4,1190.6 949.4,1190.7 950.4,1190.7 951.4,1190.7 952.4,1190.7 953.4,1190.7 954.4,1190.8 955.4,1190.8 956.4,1190.8 957.4,1190.8 958.4,1190.8 959.4,1190.9 960.4,1190.9 961.4,1190.9 962.4,1191 963.4,1191 964.4,1191 965.4,1191 966.4,1191.1 967.4,1191.1 968.4,1191.2 969.4,1191.2 970.4,1191.2 971.4,1191.3 972.4,1191.3 973.4,1191.4 974.4,1191.4 975.4,1191.5 976.4,1191.5 977.4,1191.6 978.4,1191.6 979.4,1191.7 980.4,1191.8 981.4,1191.8 982.4,1191.9 983.4,1192 984.4,1192.1 985.4,1192.1 986.4,1192.2 987.4,1192.3 988.4,1192.4 989.4,1192.6 990.4,1192.7 991.4,1192.8 992.4,1192.9 993.4,1193.1 994.4,1193.3 995.4,1193.4 996.4,1193.6 997.4,1193.8 998.4,1194.1 999.4,1194.3 1000.4,1194.6 1001.4,1194.9 1002.4,1195.2 1003.4,1195.6 1004.4,1196 1005.4,1196.4 1006.4,1196.9 1007.4,1197.4 1008.4,1198 1009.4,1198.6 1010.4,1199.3 1011.4,1200.1 1012.4,1200.9 1013.4,1201.8 1014.4,1202.8 1015.4,1203.9 1016.4,1205 1017.4,1206.3 1018.4,1207.6 1019.4,1209.1 1020.4,1210.6 1021.4,1212.3 1022.4,1214.1 1023.4,1216.1 1024.4,1218.2 1025.4,1220.4 1026.4,1222.8 1027.4,1225.3 1028.4,1228 1029.4,1230.9 1030.4,1234 1031.4,1237.3 1032.4,1240.9 1033.4,1244.6 1034.4,1248.7 1035.4,1252.9 1036.4,1257.4 1037.4,1261.9 1038.4,1266.4 1039.4,1270.7 1040.4,1274.5 1041.4,1277.6 1042.4,1279.6 1043.4,1280.3 1044.4,1279.7 1045.4,1277.9 1046.4,1274.9 1047.4,1271.2 1048.4,1267 1049.4,1262.5 1050.4,1257.9 1051.4,1253.5 1052.4,1249.2 1053.4,1245.1 1054.4,1241.3 1055.4,1237.8 1056.4,1234.4 1057.4,1231.3 1058.4,1228.4 1059.4,1225.7 1060.4,1223.1 1061.4,1220.7 1062.4,1218.5 1063.4,1216.4 1064.4,1214.4 1065.4,1212.6 1066.4,1210.9 1067.4,1209.4 1068.4,1207.9 1069.4,1206.5 1070.4,1205.3 1071.4,1204.1 1072.4,1203 1073.4,1202 1074.4,1201.1 1075.4,1200.3 1076.4,1199.5 1077.4,1198.9 1078.4,1198.2 1079.4,1197.6 1080.4,1197.1 1081.4,1196.6 1082.4,1196.2 1083.4,1195.8 1084.4,1195.4 1085.4,1195.1 1086.4,1194.8 1087.4,1194.6 1088.4,1194.3 1089.4,1194.1 1090.4,1193.9 1091.4,1193.7 1092.4,1193.5 1093.4,1193.3 1094.4,1193.2 1095.4,1193.1 1096.4,1192.9 1097.4,1192.8 1098.4,1192.7 1099.4,1192.6 1100.4,1192.5 1101.4,1192.4 1102.4,1192.4 1103.4,1192.3 1104.4,1192.2 1105.4,1192.2 1106.4,1192.1 1107.4,1192 1108.4,1192 1109.4,1191.9 1110.4,1191.9 1111.4,1191.8 1112.4,1191.8 1113.4,1191.8 1114.4,1191.7 1115.4,1191.7 1116.4,1191.7 1117.4,1191.6 1118.4,1191.6 1119.4,1191.6 1120.4,1191.5 1121.4,1191.5 1122.4,1191.5 1123.4,1191.5 1124.4,1191.5 1125.4,1191.4 1126.4,1191.4 1127.4,1191.4 1128.4,1191.4 1129.4,1191.4 1130.4,1191.4 1131.4,1191.4 1132.4,1191.4 1133.4,1191.4 1134.4,1191.4 1135.4,1191.4 1136.4,1191.4 1137.4,1191.4 1138.4,1191.4 1139.4,1191.4 1140.4,1191.4 1141.4,1191.4 1142.4,1191.4 1143.4,1191.4 1144.4,1191.4 1145.4,1191.4 1146.4,1191.4 1147.4,1191.4 1148.4,1191.4 1149.4,1191.4 1150.4,1191.4 1151.4,1191.5 1152.4,1191.5 1153.4,1191.5 1154.4,1191.5 1155.4,1191.5 1156.4,1191.6 1157.4,1191.6 1158.4,1191.6 1159.4,1191.6 1160.4,1191.7 1161.4,1191.7 1162.4,1191.7 1163.4,1191.8 1164.4,1191.8 1165.4,1191.8 1166.4,1191.9 1167.4,1191.9 1168.4,1192 1169.4,1192 1170.4,1192 1171.4,1192.1 1172.4,1192.2 1173.4,1192.2 1174.4,1192.3 1175.4,1192.3 1176.4,1192.4 1177.4,1192.5 1178.4,1192.6 1179.4,1192.6 1180.4,1192.7 1181.4,1192.8 1182.4,1192.9 1183.4,1193 1184.4,1193.1 1185.4,1193.2 1186.4,1193.3 1187.4,1193.5 1188.4,1193.6 1189.4,1193.7 1190.4,1193.9 1191.4,1194.1 1192.4,1194.2 1193.4,1194.4 1194.4,1194.6 1195.4,1194.8 1196.4,1195 1197.4,1195.3 1198.4,1195.6 1199.4,1195.8 1200.4,1196.2 1201.4,1196.5 1202.4,1196.8 1203.4,1197.2 1204.4,1197.7 1205.4,1198.1 1206.4,1198.6 1207.4,1199.2 1208.4,1199.8 1209.4,1200.4 1210.4,1201.1 1211.4,1201.9 1212.4,1202.7 1213.4,1203.6 1214.4,1204.6 1215.4,1205.7 1216.4,1206.9 1217.4,1208.2 1218.4,1209.5 1219.4,1211 1220.4,1212.6 1221.4,1214.4 1222.4,1216.3 1223.4,1218.3 1224.4,1220.4 1225.4,1222.7 1226.4,1225.2 1227.4,1227.8 1228.4,1230.7 1229.4,1233.7 1230.4,1236.9 1231.4,1240.4 1232.4,1244.2 1233.4,1248.2 1234.4,1252.5 1235.4,1257 1236.4,1261.8 1237.4,1266.8 1238.4,1271.8 1239.4,1276.6 1240.4,1280.8 1241.4,1284 1242.4,1286 1243.4,1286.4 1244.4,1285.1 1245.4,1282.4 1246.4,1278.5 1247.4,1274 1248.4,1269 1249.4,1264 1250.4,1259.1 1251.4,1254.4 1252.4,1250 1253.4,1245.9 1254.4,1242 1255.4,1238.4 1256.4,1235.1 1257.4,1232 1258.4,1229 1259.4,1226.3 1260.4,1223.8 1261.4,1221.4 1262.4,1219.2 1263.4,1217.1 1264.4,1215.2 1265.4,1213.4 1266.4,1211.7 1267.4,1210.1 1268.4,1208.7 1269.4,1207.4 1270.4,1206.2 1271.4,1205 1272.4,1204 1273.4,1203 1274.4,1202.2 1275.4,1201.4 1276.4,1200.6 1277.4,1200 1278.4,1199.3 1279.4,1198.8 1280.4,1198.2 1281.4,1197.8 1282.4,1197.3 1283.4,1196.9 1284.4,1196.5 1285.4,1196.2 1286.4,1195.9 1287.4,1195.6 1288.4,1195.3 1289.4,1195 1290.4,1194.8 1291.4,1194.6 1292.4,1194.4 1293.4,1194.2 1294.4,1194 1295.4,1193.8 1296.4,1193.6 1297.4,1193.5 1298.4,1193.3 1299.4,1193.2 1300.4,1193.1 1301.4,1193 1302.4,1192.9 1303.4,1192.7 1304.4,1192.6 1305.4,1192.5 1306.4,1192.5 1307.4,1192.4 1308.4,1192.3 1309.4,1192.2 1310.4,1192.1 1311.4,1192.1 1312.4,1192 1313.4,1191.9 1314.4,1191.9 1315.4,1191.8 1316.4,1191.7 1317.4,1191.7 1318.4,1191.6 1319.4,1191.6 1320.4,1191.5 1321.4,1191.5 1322.4,1191.5 1323.4,1191.4 1324.4,1191.4 1325.4,1191.3 1326.4,1191.3 1327.4,1191.3 1328.4,1191.2 1329.4,1191.2 1330.4,1191.2 1331.4,1191.1 1332.4,1191.1 1333.4,1191.1 1334.4,1191 1335.4,1191 1336.4,1191 1337.4,1191 1338.4,1190.9 1339.4,1190.9 1340.4,1190.9 1341.4,1190.9 1342.4,1190.8 1343.4,1190.8 1344.4,1190.8 1345.4,1190.8 1346.4,1190.8 1347.4,1190.7 1348.4,1190.7 1349.4,1190.7 1350.4,1190.7 1351.4,1190.7 1352.4,1190.7 1353.4,1190.6 1354.4,1190.6 1355.4,1190.6 1356.4,1190.6 1357.4,1190.6 1358.4,1190.6 1359.4,1190.6 1360.4,1190.6 1361.4,1190.5 1362.4,1190.5 1363.4,1190.5 1364.4,1190.5 1365.4,1190.5 1366.4,1190.5 1367.4,1190.5 1368.4,1190.5 1369.4,1190.5 1370.4,1190.5 1371.4,1190.4 1372.4,1190.4 1373.4,1190.4 1374.4,1190.4 1375.4,1190.4 1376.4,1190.4 1377.4,1190.4 1378.4,1190.4 1379.4,1190.4 1380.4,1190.4 1381.4,1190.4 1382.4,1190.4 1383.4,1190.4 1384.4,1190.4 1385.4,1190.4 1386.4,1190.3 1387.4,1190.3 1388.4,1190.3 1389.4,1190.3 1390.4,1190.3 1391.4,1190.3 1392.4,1190.3 1393.4,1190.3 1394.4,1190.3 1395.4,1190.3 1396.4,1190.3 1397.4,1190.3 1398.4,1190.3 1399.4,1190.3 1400.4,1190.3 1401.4,1190.3 1402.4,1190.3 1403.4,1190.3 1404.4,1190.3 1405.4,1190.3 1406.4,1190.3 1407.4,1190.3 1408.4,1190.3 1409.4,1190.3 1410.4,1190.3 1411.4,1190.3 1412.4,1190.3 1413.4,1190.3 1414.4,1190.3 1415.4,1190.3 1416.4,1190.3 1417.4,1190.3 1418.4,1190.3 1419.4,1190.3 1420.4,1190.3 1421.4,1190.3 1422.4,1190.3 1423.4,1190.3 1424.4,1190.3 1425.4,1190.3 1426.4,1190.3 1427.4,1190.3 1428.4,1190.3 1429.4,1190.3 1430.4,1190.3 1431.4,1190.3 1432.4,1190.3 1433.4,1190.3 1434.4,1190.3 1435.4,1190.3 1436.4,1190.3 1437.4,1190.3 1438.4,1190.3 1439.4,1190.3 1440.4,1190.3 1441.4,1190.3 1442.4,1190.3 1443.4,1190.3 1444.4,1190.3 1445.4,1190.3 1446.4,1190.3 1447.4,1190.3 1448.4,1190.3 1449.4,1190.3 1450.4,1190.3 1451.4,1190.3 1452.4,1190.3 1453.4,1190.3 1454.4,1190.3 1455.4,1190.3 1456.4,1190.3 1457.4,1190.3 1458.4,1190.3 1459.4,1190.3 1460.4,1190.3 1461.4,1190.3 1462.4,1190.3 1463.4,1190.3 1464.4,1190.3 1465.4,1190.3 1466.4,1190.3 1467.4,1190.3 1468.4,1190.3 1469.4,1190.3 1470.4,1190.3 1471.4,1190.4 1472.4,1190.4 1473.4,1190.4 1474.4,1190.4 1475.4,1190.4 1476.4,1190.4 1477.4,1190.4 1478.4,1190.4 1479.4,1190.4 1480.4,1190.5 1481.4,1190.5 1482.4,1190.5 1483.4,1190.6 1484.4,1190.6 1485.4,1190.7 1486.4,1190.8 1487.4,1191 1488.4,1191.2 1489.4,1191.4 1490.4,1191.7 1491.4,1192.1 1492.4,1192.6 1493.4,1193.2 1494.4,1193.8 1495.4,1194.6 1496.4,1195.5 1497.4,1196.5 1498.4,1197.5 1499.4,1198.7 1500.4,1199.9 1501.4,1201.2 1502.4,1202.5 1503.4,1203.8 1504.4,1205 1505.4,1206.1 1506.4,1207.1 1507.4,1207.9 1508.4,1208.7 1509.4,1209.4 1510.4,1209.6 1511.4,1209 1512.4,1208.3 1513.4,1207.6 1514.4,1206.7 1515.4,1205.6 1516.4,1204.5 1517.4,1203.3 1518.4,1202 1519.4,1200.7 1520.4,1199.5 1521.4,1198.3 1522.4,1197.2 1523.4,1196.1 1524.4,1195.2 1525.4,1194.4 1526.4,1193.7 1527.4,1193.1 1528.4,1192.6 1529.4,1192.2 1530.4,1191.9 1531.4,1191.6 1532.4,1191.4 1533.4,1191.2 1534.4,1191.1 1535.4,1191 1536.4,1191 1537.4,1190.9 1538.4,1190.9 1539.4,1190.9 1540.4,1190.9 1541.4,1190.8 1542.4,1190.8 1543.4,1190.8 1544.4,1190.9 1545.4,1190.9 1546.4,1190.9 1547.4,1190.9 1548.4,1190.9 1549.4,1190.9 1550.4,1190.9 1551.4,1190.9 1552.4,1190.9 1553.4,1190.9 1554.4,1190.9 1555.4,1191 1556.4,1191 1557.4,1191 1558.4,1191 1559.4,1191 1560.4,1191 1561.4,1191 1562.4,1191 1563.4,1191.1 1564.4,1191.1 1565.4,1191.1 1566.4,1191.1 1567.4,1191.1 1568.4,1191.1 1569.4,1191.1 1570.4,1191.2 1571.4,1191.2 1572.4,1191.2 1573.4,1191.2 1574.4,1191.2 1575.4,1191.2 1576.4,1191.3 1577.4,1191.3 1578.4,1191.3 1579.4,1191.3 1580.4,1191.3 1581.4,1191.3 1582.4,1191.4 1583.4,1191.4 1584.4,1191.4 1585.4,1191.4 1586.4,1191.4 1587.4,1191.5 1588.4,1191.5 1589.4,1191.5 1590.4,1191.5 1591.4,1191.5 1592.4,1191.6 1593.4,1191.6 1594.4,1191.6 1595.4,1191.6 1596.4,1191.7 1597.4,1191.7 1598.4,1191.7 1599.4,1191.7 1600.4,1191.8 1601.4,1191.8 1602.4,1191.8 1603.4,1191.8 1604.4,1191.9 1605.4,1191.9 1606.4,1191.9 1607.4,1191.9 1608.4,1192 1609.4,1192 1610.4,1192 1611.4,1192.1 1612.4,1192.1 1613.4,1192.1 1614.4,1192.2 1615.4,1192.2 1616.4,1192.2 1617.4,1192.3 1618.4,1192.3 1619.4,1192.3 1620.4,1192.4 1621.4,1192.4 1622.4,1192.4 1623.4,1192.5 1624.4,1192.5 1625.4,1192.5 1626.4,1192.6 1627.4,1192.6 1628.4,1192.7 1629.4,1192.7 1630.4,1192.7 1631.4,1192.8 1632.4,1192.8 1633.4,1192.9 1634.4,1192.9 1635.4,1193 1636.4,1193 1637.4,1193.1 1638.4,1193.1 1639.4,1193.2 1640.4,1193.2 1641.4,1193.3 1642.4,1193.3 1643.4,1193.4 1644.4,1193.4 1645.4,1193.5 1646.4,1193.6 1647.4,1193.6 1648.4,1193.7 1649.4,1193.7 1650.4,1193.8 1651.4,1193.9 1652.4,1193.9 1653.4,1194 1654.4,1194.1 1655.4,1194.1 1656.4,1194.2 1657.4,1194.3 1658.4,1194.4 1659.4,1194.4 1660.4,1194.5 1661.4,1194.6 1662.4,1194.7 1663.4,1194.8 1664.4,1194.9 1665.4,1194.9 1666.4,1195 1667.4,1195.1 1668.4,1195.2 1669.4,1195.3 1670.4,1195.4 1671.4,1195.5 1672.4,1195.6 1673.4,1195.7 1674.4,1195.9 1675.4,1196 1676.4,1196.1 1677.4,1196.2 1678.4,1196.3 1679.4,1196.5 1680.4,1196.6 1681.4,1196.7 1682.4,1196.9 1683.4,1197 1684.4,1197.1 1685.4,1197.3 1686.4,1197.4 1687.4,1197.6 1688.4,1197.8 1689.4,1197.9 1690.4,1198.1 1691.4,1198.3 1692.4,1198.5 1693.4,1198.7 1694.4,1198.9 1695.4,1199.1 1696.4,1199.3 1697.4,1199.5 1698.4,1199.7 1699.4,1199.9 1700.4,1200.2 1701.4,1200.4 1702.4,1200.6 1703.4,1200.9 1704.4,1201.2 1705.4,1201.5 1706.4,1201.7 1707.4,1202 1708.4,1202.3 1709.4,1202.7 1710.4,1203 1711.4,1203.3 1712.4,1203.7 1713.4,1204.1 1714.4,1204.4 1715.4,1204.8 1716.4,1205.2 1717.4,1205.7 1718.4,1206.1 1719.4,1206.6 1720.4,1207.1 1721.4,1207.6 1722.4,1208.1 1723.4,1208.6 1724.4,1209.2 1725.4,1209.8 1726.4,1210.4 1727.4,1211 1728.4,1211.7 1729.4,1212.4 1730.4,1213.2 1731.4,1213.9 1732.4,1214.7 1733.4,1215.6 1734.4,1216.5 1735.4,1217.4 1736.4,1218.4 1737.4,1219.4 1738.4,1220.5 1739.4,1221.6 1740.4,1222.8 1741.4,1224 1742.4,1225.3 1743.4,1226.7 1744.4,1228.2 1745.4,1229.7 1746.4,1231.3 1747.4,1233 1748.4,1234.8 1749.4,1236.7 1750.4,1238.7 1751.4,1240.8 1752.4,1243 1753.4,1245.4 1754.4,1247.8 1755.4,1250.4 1756.4,1253.2 1757.4,1256.1 1758.4,1259.1 1759.4,1262.3 1760.4,1265.7 1761.4,1269.2 1762.4,1272.9 1763.4,1276.7 1764.4,1280.7 1765.4,1284.9 1766.4,1289.2 1767.4,1293.6 1768.4,1298.2 1769.4,1302.9 1770.4,1307.7 1771.4,1312.5 1772.4,1317.4 1773.4,1322.3 1774.4,1327.1 1775.4,1331.9 1776.4,1336.6 1777.4,1341.2 1778.4,1345.5 1779.4,1349.6 1780.4,1353.5 1781.4,1356.9 1782.4,1360.1 1783.4,1362.8 1784.4,1365 1785.4,1366.8 1786.4,1368 1787.4,1368.8 1788.4,1369 1789.4,1368 1790.4,1365.7 1791.4,1362 1792.4,1357.1 1793.4,1351.2 1794.4,1344.5 1795.4,1337.1 1796.4,1329.3 1797.4,1321.3 1798.4,1313.2 1799.4,1305.3 1800.4,1297.5 1801.4,1290.1 1802.4,1283 1803.4,1276.3 1804.4,1270.1 1805.4,1264.3 1806.4,1258.9 1807.4,1254 1808.4,1249.5 1809.4,1245.3 1810.4,1241.5 1811.4,1238.1 1812.4,1234.9 1813.4,1231.9 1814.4,1229.3 1815.4,1226.8 1816.4,1224.6 1817.4,1222.5 1818.4,1220.6 1819.4,1218.8 1820.4,1217.2 1821.4,1215.7 1822.4,1214.3 1823.4,1213.1 1824.4,1211.9 1825.4,1210.8 1826.4,1209.7 1827.4,1208.8 1828.4,1207.9 1829.4,1207 1830.4,1206.2 1831.4,1205.5 1832.4,1204.8 1833.4,1204.2 1834.4,1203.6 1835.4,1203 1836.4,1202.4 1837.4,1201.9 1838.4,1201.5 1839.4,1201 1840.4,1200.6 1841.4,1200.2 1842.4,1199.8 1843.4,1199.4 1844.4,1199.1 1845.4,1198.7 1846.4,1198.4 1847.4,1198.1 1848.4,1197.8 1849.4,1197.6 1850.4,1197.3 1851.4,1197 1852.4,1196.8 1853.4,1196.6 1854.4,1196.4 1855.4,1196.2 1856.4,1196 1857.4,1195.8 1858.4,1195.6 1859.4,1195.4 1860.4,1195.2 1861.4,1195.1 1862.4,1194.9 1863.4,1194.8 1864.4,1194.6 1865.4,1194.5 1866.4,1194.4 1867.4,1194.2 1868.4,1194.1 1869.4,1194 1870.4,1193.9 1871.4,1193.8 1872.4,1193.7 1873.4,1193.6 1874.4,1193.5 1875.4,1193.4 1876.4,1193.3 1877.4,1193.2 1878.4,1193.1 1879.4,1193 1880.4,1192.9 1881.4,1192.9 1882.4,1192.8 1883.4,1192.7 1884.4,1192.6 1885.4,1192.6 1886.4,1192.5 1887.4,1192.4 1888.4,1192.4 1889.4,1192.3 1890.4,1192.2 1891.4,1192.2 1892.4,1192.1 1893.4,1192.1 1894.4,1192 1895.4,1192 1896.4,1191.9 1897.4,1191.9 1898.4,1191.8 1899.4,1191.8 1900.4,1191.7 1901.4,1191.7 1902.4,1191.6 1903.4,1191.6 1904.4,1191.6 1905.4,1191.5 1906.4,1191.5 1907.4,1191.4 1908.4,1191.4 1909.4,1191.4 1910.4,1191.3 1911.4,1191.3 1912.4,1191.3 1913.4,1191.2 1914.4,1191.2 1915.4,1191.2 1916.4,1191.1 1917.4,1191.1 1918.4,1191.1 1919.4,1191 1920.4,1191 1921.4,1191 1922.4,1191 1923.4,1190.9 1924.4,1190.9 1925.4,1190.9 1926.4,1190.9 1927.4,1190.8 1928.4,1190.8 1929.4,1190.8 1930.4,1190.8 1931.4,1190.7 1932.4,1190.7 1933.4,1190.7 1934.4,1190.7 1935.4,1190.7 1936.4,1190.6 1937.4,1190.6 1938.4,1190.6 1939.4,1190.6 1940.4,1190.6 1941.4,1190.6 1942.4,1190.5 1943.4,1190.5 1944.4,1190.5 1945.4,1190.5 1946.4,1190.5 1947.4,1190.5 1948.4,1190.4 1949.4,1190.4 1950.4,1190.4 1951.4,1190.4 1952.4,1190.4 1953.4,1190.4 1954.4,1190.3 1955.4,1190.3 1956.4,1190.3 1957.4,1190.3 1958.4,1190.3 1959.4,1190.3 1960.4,1190.3 1961.4,1190.3 1962.4,1190.2 1963.4,1190.2 1964.4,1190.2 1965.4,1190.2 1966.4,1190.2 1967.4,1190.2 1968.4,1190.2 1969.4,1190.2 1970.4,1190.2 1971.4,1190.1 1972,1190.1" stroke="#0000ff" stroke-width="5" fill="none" stroke-linejoin="round"/>
<rect x="227.50" y="37.00" width="2.50" height="1515.50" fill="#808080"/><rect x="2022.00" y="37.00" width="2.00" height="1515.50" fill="#9a9a9a"/><rect x="230.00" y="37.00" width="5.00" height="1515.50" fill="#000"/><rect x="2016.50" y="37.00" width="5.50" height="1515.50" fill="#000"/><rect x="230.00" y="37.00" width="1792.00" height="5.00" fill="#000"/><rect x="230.00" y="413.20" width="1792.00" height="5.00" fill="#000"/><rect x="230.00" y="418.20" width="1792.00" height="2.30" fill="#999"/><rect x="230.00" y="792.00" width="1792.00" height="5.00" fill="#000"/><rect x="230.00" y="1168.50" width="1792.00" height="2.30" fill="#888"/><rect x="230.00" y="1170.80" width="1792.00" height="5.20" fill="#000"/><rect x="230.00" y="1547.00" width="1792.00" height="5.50" fill="#000"/><rect x="298.12" y="42.00" width="5.00" height="5.60" fill="#000"/><rect x="366.86" y="42.00" width="5.00" height="5.60" fill="#000"/><rect x="435.35" y="42.00" width="5.50" height="15.80" fill="#000"/><rect x="504.34" y="42.00" width="5.00" height="5.60" fill="#000"/><rect x="573.08" y="42.00" width="5.00" height="5.60" fill="#000"/><rect x="641.82" y="42.00" width="5.00" height="5.60" fill="#000"/><rect x="710.56" y="42.00" width="5.00" height="5.60" fill="#000"/><rect x="779.05" y="42.00" width="5.50" height="15.80" fill="#000"/><rect x="848.04" y="42.00" width="5.00" height="5.60" fill="#000"/><rect x="916.78" y="42.00" width="5.00" height="5.60" fill="#000"/><rect x="985.52" y="42.00" width="5.00" height="5.60" fill="#000"/><rect x="1054.26" y="42.00" width="5.00" height="5.60" fill="#000"/><rect x="1122.75" y="42.00" width="5.50" height="15.80" fill="#000"/><rect x="1191.74" y="42.00" width="5.00" height="5.60" fill="#000"/><rect x="1260.48" y="42.00" width="5.00" height="5.60" fill="#000"/><rect x="1329.22" y="42.00" width="5.00" height="5.60" fill="#000"/><rect x="1397.96" y="42.00" width="5.00" height="5.60" fill="#000"/><rect x="1466.45" y="42.00" width="5.50" height="15.80" fill="#000"/><rect x="1535.44" y="42.00" width="5.00" height="5.60" fill="#000"/><rect x="1604.18" y="42.00" width="5.00" height="5.60" fill="#000"/><rect x="1672.92" y="42.00" width="5.00" height="5.60" fill="#000"/><rect x="1741.66" y="42.00" width="5.00" height="5.60" fill="#000"/><rect x="1810.15" y="42.00" width="5.50" height="15.80" fill="#000"/><rect x="1879.14" y="42.00" width="5.00" height="5.60" fill="#000"/><rect x="1947.88" y="42.00" width="5.00" height="5.60" fill="#000"/><rect x="298.12" y="407.60" width="5.00" height="5.60" fill="#000"/><rect x="366.86" y="407.60" width="5.00" height="5.60" fill="#000"/><rect x="435.35" y="399.20" width="5.50" height="14.00" fill="#000"/><rect x="504.34" y="407.60" width="5.00" height="5.60" fill="#000"/><rect x="573.08" y="407.60" width="5.00" height="5.60" fill="#000"/><rect x="641.82" y="407.60" width="5.00" height="5.60" fill="#000"/><rect x="710.56" y="407.60" width="5.00" height="5.60" fill="#000"/><rect x="779.05" y="399.20" width="5.50" height="14.00" fill="#000"/><rect x="848.04" y="407.60" width="5.00" height="5.60" fill="#000"/><rect x="916.78" y="407.60" width="5.00" height="5.60" fill="#000"/><rect x="985.52" y="407.60" width="5.00" height="5.60" fill="#000"/><rect x="1054.26" y="407.60" width="5.00" height="5.60" fill="#000"/><rect x="1122.75" y="399.20" width="5.50" height="14.00" fill="#000"/><rect x="1191.74" y="407.60" width="5.00" height="5.60" fill="#000"/><rect x="1260.48" y="407.60" width="5.00" height="5.60" fill="#000"/><rect x="1329.22" y="407.60" width="5.00" height="5.60" fill="#000"/><rect x="1397.96" y="407.60" width="5.00" height="5.60" fill="#000"/><rect x="1466.45" y="399.20" width="5.50" height="14.00" fill="#000"/><rect x="1535.44" y="407.60" width="5.00" height="5.60" fill="#000"/><rect x="1604.18" y="407.60" width="5.00" height="5.60" fill="#000"/><rect x="1672.92" y="407.60" width="5.00" height="5.60" fill="#000"/><rect x="1741.66" y="407.60" width="5.00" height="5.60" fill="#000"/><rect x="1810.15" y="399.20" width="5.50" height="14.00" fill="#000"/><rect x="1879.14" y="407.60" width="5.00" height="5.60" fill="#000"/><rect x="1947.88" y="407.60" width="5.00" height="5.60" fill="#000"/><rect x="298.12" y="786.40" width="5.00" height="5.60" fill="#000"/><rect x="366.86" y="786.40" width="5.00" height="5.60" fill="#000"/><rect x="435.35" y="778.00" width="5.50" height="14.00" fill="#000"/><rect x="504.34" y="786.40" width="5.00" height="5.60" fill="#000"/><rect x="573.08" y="786.40" width="5.00" height="5.60" fill="#000"/><rect x="641.82" y="786.40" width="5.00" height="5.60" fill="#000"/><rect x="710.56" y="786.40" width="5.00" height="5.60" fill="#000"/><rect x="779.05" y="778.00" width="5.50" height="14.00" fill="#000"/><rect x="848.04" y="786.40" width="5.00" height="5.60" fill="#000"/><rect x="916.78" y="786.40" width="5.00" height="5.60" fill="#000"/><rect x="985.52" y="786.40" width="5.00" height="5.60" fill="#000"/><rect x="1054.26" y="786.40" width="5.00" height="5.60" fill="#000"/><rect x="1122.75" y="778.00" width="5.50" height="14.00" fill="#000"/><rect x="1191.74" y="786.40" width="5.00" height="5.60" fill="#000"/><rect x="1260.48" y="786.40" width="5.00" height="5.60" fill="#000"/><rect x="1329.22" y="786.40" width="5.00" height="5.60" fill="#000"/><rect x="1397.96" y="786.40" width="5.00" height="5.60" fill="#000"/><rect x="1466.45" y="778.00" width="5.50" height="14.00" fill="#000"/><rect x="1535.44" y="786.40" width="5.00" height="5.60" fill="#000"/><rect x="1604.18" y="786.40" width="5.00" height="5.60" fill="#000"/><rect x="1672.92" y="786.40" width="5.00" height="5.60" fill="#000"/><rect x="1741.66" y="786.40" width="5.00" height="5.60" fill="#000"/><rect x="1810.15" y="778.00" width="5.50" height="14.00" fill="#000"/><rect x="1879.14" y="786.40" width="5.00" height="5.60" fill="#000"/><rect x="1947.88" y="786.40" width="5.00" height="5.60" fill="#000"/><rect x="298.12" y="1162.90" width="5.00" height="5.60" fill="#000"/><rect x="366.86" y="1162.90" width="5.00" height="5.60" fill="#000"/><rect x="435.35" y="1154.50" width="5.50" height="14.00" fill="#000"/><rect x="504.34" y="1162.90" width="5.00" height="5.60" fill="#000"/><rect x="573.08" y="1162.90" width="5.00" height="5.60" fill="#000"/><rect x="641.82" y="1162.90" width="5.00" height="5.60" fill="#000"/><rect x="710.56" y="1162.90" width="5.00" height="5.60" fill="#000"/><rect x="779.05" y="1154.50" width="5.50" height="14.00" fill="#000"/><rect x="848.04" y="1162.90" width="5.00" height="5.60" fill="#000"/><rect x="916.78" y="1162.90" width="5.00" height="5.60" fill="#000"/><rect x="985.52" y="1162.90" width="5.00" height="5.60" fill="#000"/><rect x="1054.26" y="1162.90" width="5.00" height="5.60" fill="#000"/><rect x="1122.75" y="1154.50" width="5.50" height="14.00" fill="#000"/><rect x="1191.74" y="1162.90" width="5.00" height="5.60" fill="#000"/><rect x="1260.48" y="1162.90" width="5.00" height="5.60" fill="#000"/><rect x="1329.22" y="1162.90" width="5.00" height="5.60" fill="#000"/><rect x="1397.96" y="1162.90" width="5.00" height="5.60" fill="#000"/><rect x="1466.45" y="1154.50" width="5.50" height="14.00" fill="#000"/><rect x="1535.44" y="1162.90" width="5.00" height="5.60" fill="#000"/><rect x="1604.18" y="1162.90" width="5.00" height="5.60" fill="#000"/><rect x="1672.92" y="1162.90" width="5.00" height="5.60" fill="#000"/><rect x="1741.66" y="1162.90" width="5.00" height="5.60" fill="#000"/><rect x="1810.15" y="1154.50" width="5.50" height="14.00" fill="#000"/><rect x="1879.14" y="1162.90" width="5.00" height="5.60" fill="#000"/><rect x="1947.88" y="1162.90" width="5.00" height="5.60" fill="#000"/><rect x="298.12" y="1541.00" width="5.00" height="6.00" fill="#000"/><rect x="366.86" y="1541.00" width="5.00" height="6.00" fill="#000"/><rect x="435.35" y="1531.00" width="5.50" height="16.00" fill="#000"/><rect x="504.34" y="1541.00" width="5.00" height="6.00" fill="#000"/><rect x="573.08" y="1541.00" width="5.00" height="6.00" fill="#000"/><rect x="641.82" y="1541.00" width="5.00" height="6.00" fill="#000"/><rect x="710.56" y="1541.00" width="5.00" height="6.00" fill="#000"/><rect x="779.05" y="1531.00" width="5.50" height="16.00" fill="#000"/><rect x="848.04" y="1541.00" width="5.00" height="6.00" fill="#000"/><rect x="916.78" y="1541.00" width="5.00" height="6.00" fill="#000"/><rect x="985.52" y="1541.00" width="5.00" height="6.00" fill="#000"/><rect x="1054.26" y="1541.00" width="5.00" height="6.00" fill="#000"/><rect x="1122.75" y="1531.00" width="5.50" height="16.00" fill="#000"/><rect x="1191.74" y="1541.00" width="5.00" height="6.00" fill="#000"/><rect x="1260.48" y="1541.00" width="5.00" height="6.00" fill="#000"/><rect x="1329.22" y="1541.00" width="5.00" height="6.00" fill="#000"/><rect x="1397.96" y="1541.00" width="5.00" height="6.00" fill="#000"/><rect x="1466.45" y="1531.00" width="5.50" height="16.00" fill="#000"/><rect x="1535.44" y="1541.00" width="5.00" height="6.00" fill="#000"/><rect x="1604.18" y="1541.00" width="5.00" height="6.00" fill="#000"/><rect x="1672.92" y="1541.00" width="5.00" height="6.00" fill="#000"/><rect x="1741.66" y="1541.00" width="5.00" height="6.00" fill="#000"/><rect x="1810.15" y="1531.00" width="5.50" height="16.00" fill="#000"/><rect x="1879.14" y="1541.00" width="5.00" height="6.00" fill="#000"/><rect x="1947.88" y="1541.00" width="5.00" height="6.00" fill="#000"/><rect x="235.00" y="113.30" width="14.00" height="5.00" fill="#000"/><rect x="2003.00" y="113.30" width="13.50" height="5.00" fill="#000"/><rect x="235.00" y="189.60" width="3.20" height="5.00" fill="#000"/><rect x="2011.20" y="189.60" width="5.30" height="5.00" fill="#000"/><rect x="235.00" y="265.90" width="3.20" height="5.00" fill="#000"/><rect x="2011.20" y="265.90" width="5.30" height="5.00" fill="#000"/><rect x="235.00" y="342.10" width="14.00" height="5.00" fill="#000"/><rect x="2003.00" y="342.10" width="13.50" height="5.00" fill="#000"/><rect x="235.00" y="491.10" width="14.00" height="5.00" fill="#000"/><rect x="2003.00" y="491.10" width="13.50" height="5.00" fill="#000"/><rect x="235.00" y="567.50" width="3.20" height="5.00" fill="#000"/><rect x="2011.20" y="567.50" width="5.30" height="5.00" fill="#000"/><rect x="235.00" y="643.70" width="3.20" height="5.00" fill="#000"/><rect x="2011.20" y="643.70" width="5.30" height="5.00" fill="#000"/><rect x="235.00" y="720.10" width="14.00" height="5.00" fill="#000"/><rect x="2003.00" y="720.10" width="13.50" height="5.00" fill="#000"/><rect x="235.00" y="867.70" width="14.00" height="5.00" fill="#000"/><rect x="2003.00" y="867.70" width="13.50" height="5.00" fill="#000"/><rect x="235.00" y="943.30" width="3.20" height="5.00" fill="#000"/><rect x="2011.20" y="943.30" width="5.30" height="5.00" fill="#000"/><rect x="235.00" y="1018.90" width="3.20" height="5.00" fill="#000"/><rect x="2011.20" y="1018.90" width="5.30" height="5.00" fill="#000"/><rect x="235.00" y="1094.50" width="14.00" height="5.00" fill="#000"/><rect x="2003.00" y="1094.50" width="13.50" height="5.00" fill="#000"/><rect x="235.00" y="1244.60" width="14.00" height="5.00" fill="#000"/><rect x="2003.00" y="1244.60" width="13.50" height="5.00" fill="#000"/><rect x="235.00" y="1320.50" width="3.20" height="5.00" fill="#000"/><rect x="2011.20" y="1320.50" width="5.30" height="5.00" fill="#000"/><rect x="235.00" y="1396.50" width="3.20" height="5.00" fill="#000"/><rect x="2011.20" y="1396.50" width="5.30" height="5.00" fill="#000"/><rect x="235.00" y="1472.40" width="14.00" height="5.00" fill="#000"/><rect x="2003.00" y="1472.40" width="13.50" height="5.00" fill="#000"/>
<text x="211" y="131.3" style="font-family:'Liberation Sans',Arial,sans-serif;font-size:56px" text-anchor="end">0.0</text>
<text x="211" y="360.1" style="font-family:'Liberation Sans',Arial,sans-serif;font-size:56px" text-anchor="end">5.7</text>
<text x="211" y="509.1" style="font-family:'Liberation Sans',Arial,sans-serif;font-size:56px" text-anchor="end">0.0</text>
<text x="211" y="738.1" style="font-family:'Liberation Sans',Arial,sans-serif;font-size:56px" text-anchor="end">5.7</text>
<text x="211" y="885.7" style="font-family:'Liberation Sans',Arial,sans-serif;font-size:56px" text-anchor="end">0.0</text>
<text x="211" y="1112.5" style="font-family:'Liberation Sans',Arial,sans-serif;font-size:56px" text-anchor="end">5.1</text>
<text x="211" y="1262.6" style="font-family:'Liberation Sans',Arial,sans-serif;font-size:56px" text-anchor="end">0.0</text>
<text x="211" y="1490.4" style="font-family:'Liberation Sans',Arial,sans-serif;font-size:56px" text-anchor="end">5.4</text>
<text x="438.1" y="1612" style="font-family:'Liberation Sans',Arial,sans-serif;font-size:56px" text-anchor="middle">−10</text>
<text x="781.8" y="1612" style="font-family:'Liberation Sans',Arial,sans-serif;font-size:56px" text-anchor="middle">−5</text>
<text x="1125.5" y="1612" style="font-family:'Liberation Sans',Arial,sans-serif;font-size:56px" text-anchor="middle">0</text>
<text x="1469.2" y="1612" style="font-family:'Liberation Sans',Arial,sans-serif;font-size:56px" text-anchor="middle">5</text>
<text x="1812.9" y="1612" style="font-family:'Liberation Sans',Arial,sans-serif;font-size:56px" text-anchor="middle">10</text>
<text x="738" y="358.0" style="font-family:'Liberation Sans',Arial,sans-serif;font-size:77.5px;font-weight:bold">x = 0.0</text>
<text x="738" y="734.0" style="font-family:'Liberation Sans',Arial,sans-serif;font-size:77.5px;font-weight:bold">x = 0.3</text>
<text x="738" y="1113.0" style="font-family:'Liberation Sans',Arial,sans-serif;font-size:77.5px;font-weight:bold">x = 0.8</text>
<text x="738" y="1492.0" style="font-family:'Liberation Sans',Arial,sans-serif;font-size:77.5px;font-weight:bold">x = 1.0</text>
<text x="1124.5" y="1707.3" style="font-family:'Liberation Sans',Arial,sans-serif;font-size:77px;font-weight:bold" text-anchor="middle">velocity (mm/s)</text>
<text transform="translate(98.7,772.5) rotate(-90)" x="0" y="0" style="font-family:'Liberation Sans',Arial,sans-serif;font-size:77px;font-weight:bold" text-anchor="middle">relative absorption (%)</text></svg>
</body></html>
